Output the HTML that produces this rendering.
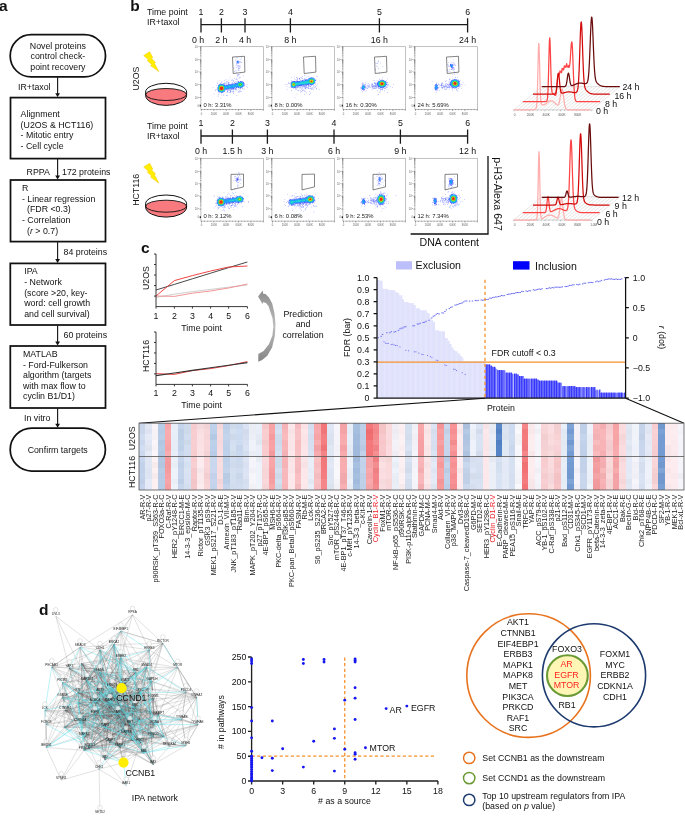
<!DOCTYPE html>
<html><head><meta charset="utf-8"><style>
html,body{margin:0;padding:0;background:#fff;overflow:hidden;}
svg{display:block;will-change:transform;}
text{font-family:"Liberation Sans", sans-serif;}
</style></head><body>
<svg width="685" height="823" viewBox="0 0 685 823" font-family='"Liberation Sans", sans-serif' font-size="8.8" fill="#111">
<defs><filter id="bl" x="-20%" y="-20%" width="140%" height="140%"><feGaussianBlur stdDeviation="0.45"/></filter>
<filter id="gr" x="-20%" y="-20%" width="140%" height="140%" filterUnits="objectBoundingBox"><feTurbulence type="fractalNoise" baseFrequency="1.3" numOctaves="1" seed="4" result="t"/><feColorMatrix in="t" type="matrix" values="0 0 0 0 0  0 0 0 0 0  0 0 0 0 0  0 0 0 2.6 -0.75" result="m"/><feComposite in="SourceGraphic" in2="m" operator="in"/></filter></defs>
<rect width="685" height="823" fill="#fff"/>
<text x="-1.1" y="10.8" font-size="15.5" font-weight="bold">a</text>
<rect x="10.2" y="34.7" width="95.3" height="42.2" fill="none" stroke="#111" stroke-width="1.75" rx="21" ry="21"/>
<text x="57.9" y="48.59" text-anchor="middle">Novel proteins</text>
<text x="57.9" y="59.19" text-anchor="middle">control check-</text>
<text x="57.9" y="69.69" text-anchor="middle">point recovery</text>
<line x1="57.6" y1="76.9" x2="57.6" y2="94.4" stroke="#1a1a1a" stroke-width="1.15"/>
<path d="M55.2 93.2 L60 93.2 L57.6 97.1 Z" fill="#111"/>
<text x="18" y="90.09">IR+taxol</text>
<rect x="10.5" y="97.6" width="95" height="61" fill="none" stroke="#111" stroke-width="1.75"/>
<text x="20.6" y="117.09">Alignment</text>
<text x="20.6" y="127.59">(U2OS &amp; HCT116)</text>
<text x="20.6" y="138.29">- Mitotic entry</text>
<text x="20.6" y="148.99">- Cell cycle</text>
<line x1="57.6" y1="158.6" x2="57.6" y2="176.8" stroke="#1a1a1a" stroke-width="1.15"/>
<path d="M55.2 175.6 L60 175.6 L57.6 179.5 Z" fill="#111"/>
<text x="26.6" y="174.69">RPPA</text>
<text x="62" y="174.69">172 proteins</text>
<rect x="10.5" y="180" width="95" height="61.6" fill="none" stroke="#111" stroke-width="1.75"/>
<text x="22" y="191.09">R</text>
<text x="22" y="201.99">- Linear regression</text>
<text x="27" y="212.49">(FDR &lt;0.3)</text>
<text x="22" y="223.09">- Correlation</text>
<text x="27" y="233.59">(<tspan font-style="italic">r</tspan> &gt; 0.7)</text>
<line x1="57.6" y1="241.6" x2="57.6" y2="260.2" stroke="#1a1a1a" stroke-width="1.15"/>
<path d="M55.2 259 L60 259 L57.6 262.9 Z" fill="#111"/>
<text x="63.6" y="255.49">84 proteins</text>
<rect x="10.3" y="263.4" width="95.2" height="61.6" fill="none" stroke="#111" stroke-width="1.75"/>
<text x="24.2" y="274.49">IPA</text>
<text x="24.2" y="285.09">- Network</text>
<text x="24.2" y="295.89">(score &gt;20, key-</text>
<text x="24.2" y="306.49">word: cell growth</text>
<text x="24.2" y="317.09">and cell survival)</text>
<line x1="57.6" y1="325" x2="57.6" y2="342.8" stroke="#1a1a1a" stroke-width="1.15"/>
<path d="M55.2 341.6 L60 341.6 L57.6 345.5 Z" fill="#111"/>
<text x="63.6" y="338.09">60 proteins</text>
<rect x="10.3" y="346" width="95.2" height="62" fill="none" stroke="#111" stroke-width="1.75"/>
<text x="23" y="357.09">MATLAB</text>
<text x="23" y="367.89">- Ford-Fulkerson</text>
<text x="23" y="378.39">algorithm (targets</text>
<text x="23" y="388.89">with max flow to</text>
<text x="23" y="399.39">cyclin B1/D1)</text>
<line x1="57.6" y1="408" x2="57.6" y2="425" stroke="#1a1a1a" stroke-width="1.15"/>
<path d="M55.2 423.8 L60 423.8 L57.6 427.7 Z" fill="#111"/>
<text x="24" y="421.09">In vitro</text>
<rect x="10.2" y="428.2" width="95.2" height="42.8" fill="none" stroke="#111" stroke-width="1.75" rx="21.4" ry="21.4"/>
<text x="57.7" y="453.09" text-anchor="middle">Confirm targets</text>
<text x="130.3" y="10.8" font-size="15.5" font-weight="bold">b</text>
<text x="147" y="14.69">Time point</text>
<text x="147" y="25.09">IR+taxol</text>
<line x1="201" y1="24.7" x2="467.6" y2="24.7" stroke="#1a1a1a" stroke-width="1.3"/>
<path d="M201 18.3v14.2M221.4 18.3v14.2M245 18.3v14.2M290.4 18.3v14.2M379.4 18.3v14.2M467.6 18.3v14.2" stroke="#1a1a1a" stroke-width="1.3" fill="none"/>
<text x="201" y="15.09" text-anchor="middle">1</text>
<text x="198.1" y="43.09" text-anchor="middle">0 h</text>
<text x="221.4" y="15.09" text-anchor="middle">2</text>
<text x="221.4" y="43.09" text-anchor="middle">2 h</text>
<text x="245" y="15.09" text-anchor="middle">3</text>
<text x="245" y="43.09" text-anchor="middle">4 h</text>
<text x="290.4" y="15.09" text-anchor="middle">4</text>
<text x="290.4" y="43.09" text-anchor="middle">8 h</text>
<text x="379.4" y="15.09" text-anchor="middle">5</text>
<text x="379.4" y="43.09" text-anchor="middle">16 h</text>
<text x="467.6" y="15.09" text-anchor="middle">6</text>
<text x="467.6" y="43.09" text-anchor="middle">24 h</text>
<text x="147" y="128.69">Time point</text>
<text x="147" y="139.09">IR+taxol</text>
<line x1="201" y1="136" x2="467.6" y2="136" stroke="#1a1a1a" stroke-width="1.3"/>
<path d="M201 129.6v14.2M232.4 129.6v14.2M267.4 129.6v14.2M334 129.6v14.2M400.4 129.6v14.2M467.6 129.6v14.2" stroke="#1a1a1a" stroke-width="1.3" fill="none"/>
<text x="201" y="126.39" text-anchor="middle">1</text>
<text x="201" y="153.69" text-anchor="middle">0 h</text>
<text x="232.4" y="126.39" text-anchor="middle">2</text>
<text x="232.4" y="153.69" text-anchor="middle">1.5 h</text>
<text x="267.4" y="126.39" text-anchor="middle">3</text>
<text x="267.4" y="153.69" text-anchor="middle">3 h</text>
<text x="334" y="126.39" text-anchor="middle">4</text>
<text x="334" y="153.69" text-anchor="middle">6 h</text>
<text x="400.4" y="126.39" text-anchor="middle">5</text>
<text x="400.4" y="153.69" text-anchor="middle">9 h</text>
<text x="467.6" y="126.39" text-anchor="middle">6</text>
<text x="467.6" y="153.69" text-anchor="middle">12 h</text>
<text transform="translate(135.6 78.5) rotate(-90)" x="0" y="3.09" text-anchor="middle">U2OS</text>
<text transform="translate(135.6 189.8) rotate(-90)" x="0" y="3.09" text-anchor="middle">HCT116</text>
<path d="M143.7 55.6 L149.6 51.8 L152.8 57.6 L151.4 58.3 L155.6 62.4 L154.3 63.1 L158.9 71.6 L150.5 65.6 L152 64.7 L147.2 60.6 L148.6 59.8 Z" fill="#ffee00" stroke="#f5c400" stroke-width="0.5" stroke-linejoin="round"/>
<path d="M143.7 167.1 L149.6 163.3 L152.8 169.1 L151.4 169.8 L155.6 173.9 L154.3 174.6 L158.9 183.1 L150.5 177.1 L152 176.2 L147.2 172.1 L148.6 171.3 Z" fill="#ffee00" stroke="#f5c400" stroke-width="0.5" stroke-linejoin="round"/>
<path d="M145.6 92.1 A20.5 8.8 0 0 1 186.6 92.1 L186.6 95.3 A20.5 10.1 0 0 1 145.6 95.3 Z" fill="#fff"/>
<path d="M145.7 94.5 A20.4 6 0 0 1 186.5 94.5 L186.5 95.3 A20.4 10 0 0 1 145.7 95.3 Z" fill="#f87a7e"/>
<ellipse cx="166.1" cy="94.5" rx="20.4" ry="6" fill="none" stroke="#111" stroke-width="0.9"/>
<path d="M145.6 92.1 A20.5 8.8 0 0 1 186.6 92.1 L186.6 95.3 A20.5 10.1 0 0 1 145.6 95.3 Z" fill="none" stroke="#111" stroke-width="1"/>
<path d="M145.6 203.8 A20.5 8.8 0 0 1 186.6 203.8 L186.6 207 A20.5 10.1 0 0 1 145.6 207 Z" fill="#fff"/>
<path d="M145.7 206.2 A20.4 6 0 0 1 186.5 206.2 L186.5 207 A20.4 10 0 0 1 145.7 207 Z" fill="#f87a7e"/>
<ellipse cx="166.1" cy="206.2" rx="20.4" ry="6" fill="none" stroke="#111" stroke-width="0.9"/>
<path d="M145.6 203.8 A20.5 8.8 0 0 1 186.6 203.8 L186.6 207 A20.5 10.1 0 0 1 145.6 207 Z" fill="none" stroke="#111" stroke-width="1"/>
<rect x="200.9" y="46.7" width="62.7" height="62.8" fill="none" stroke="#a0a0a0" stroke-width="0.65"/>
<path d="M201.2 46.7h-1.8M201.2 55.8h-0.9M201.2 53.46h-0.9M201.2 51.9h-0.9M201.2 50.6h-0.9M201.2 49.56h-0.9M201.2 48.65h-0.9M201.2 48h-0.9M201.2 47.35h-0.9M201.2 59.8h-1.8M201.2 68.9h-0.9M201.2 66.56h-0.9M201.2 65h-0.9M201.2 63.7h-0.9M201.2 62.66h-0.9M201.2 61.75h-0.9M201.2 61.1h-0.9M201.2 60.45h-0.9M201.2 72.1h-1.8M201.2 81.2h-0.9M201.2 78.86h-0.9M201.2 77.3h-0.9M201.2 76h-0.9M201.2 74.96h-0.9M201.2 74.05h-0.9M201.2 73.4h-0.9M201.2 72.75h-0.9M201.2 84.6h-1.8M201.2 93.7h-0.9M201.2 91.36h-0.9M201.2 89.8h-0.9M201.2 88.5h-0.9M201.2 87.46h-0.9M201.2 86.55h-0.9M201.2 85.9h-0.9M201.2 85.25h-0.9M201.2 97.5h-1.8" stroke="#222" stroke-width="0.4" fill="none"/>
<rect x="199.7" y="104.7" width="1.2" height="1.8" fill="#111"/>
<path d="M201.5 109.2v1.7M204.59 109.2v0.9M207.68 109.2v0.9M210.76 109.2v0.9M213.85 109.2v1.7M216.94 109.2v0.9M220.03 109.2v0.9M223.11 109.2v0.9M226.2 109.2v1.7M229.29 109.2v0.9M232.38 109.2v0.9M235.46 109.2v0.9M238.55 109.2v1.7M241.64 109.2v0.9M244.73 109.2v0.9M247.81 109.2v0.9M250.9 109.2v1.7M253.99 109.2v0.9M257.07 109.2v0.9M260.16 109.2v0.9M263.25 109.2v1.7" stroke="#222" stroke-width="0.4" fill="none"/>
<g font-size="2.7" fill="#666"><text x="201.5" y="114.5" text-anchor="middle">0</text><text x="213.85" y="114.5" text-anchor="middle">200K</text><text x="226.2" y="114.5" text-anchor="middle">400K</text><text x="238.55" y="114.5" text-anchor="middle">600K</text><text x="250.9" y="114.5" text-anchor="middle">800K</text></g>
<g font-size="2.7" fill="#666"><text x="194.7" y="47.9">10<tspan dy="-1" font-size="2">6</tspan></text><text x="194.7" y="61">10<tspan dy="-1" font-size="2">5</tspan></text><text x="194.7" y="73.3">10<tspan dy="-1" font-size="2">4</tspan></text><text x="194.7" y="85.8">10<tspan dy="-1" font-size="2">3</tspan></text><text x="194.7" y="98.7">10<tspan dy="-1" font-size="2">2</tspan></text><text x="198.9" y="106.5" text-anchor="end">0</text></g>
<path d="M236.31 88.32h.55v.55h-.55zM232.43 85.04h.55v.55h-.55zM232.41 90.93h.55v.55h-.55zM238.45 85.15h.55v.55h-.55zM217.93 91.79h.55v.55h-.55zM242.36 88.33h.55v.55h-.55zM230.18 88.23h.55v.55h-.55zM234.81 88.35h.55v.55h-.55zM232.53 84.65h.55v.55h-.55zM223.54 84.26h.55v.55h-.55zM225.74 89.4h.55v.55h-.55zM232.94 86.93h.55v.55h-.55zM233.48 91.15h.55v.55h-.55zM226.32 87.72h.55v.55h-.55zM225.34 84.7h.55v.55h-.55zM227.72 91.92h.55v.55h-.55zM229.59 84.23h.55v.55h-.55zM224.46 84.74h.55v.55h-.55zM237.87 82.84h.55v.55h-.55zM227.03 95.21h.55v.55h-.55zM235.6 88.75h.55v.55h-.55zM231.15 84.66h.55v.55h-.55zM229.31 86.56h.55v.55h-.55zM225.98 81.76h.55v.55h-.55zM220.02 83.61h.55v.55h-.55zM227.39 91.04h.55v.55h-.55zM224.45 84.14h.55v.55h-.55zM219.95 88.16h.55v.55h-.55zM237.4 85.26h.55v.55h-.55zM229.91 85.53h.55v.55h-.55zM228.4 82.09h.55v.55h-.55zM242.14 86.24h.55v.55h-.55zM229.72 89.59h.55v.55h-.55zM230.37 85.9h.55v.55h-.55zM227.47 86.96h.55v.55h-.55zM232.55 87.25h.55v.55h-.55zM231.36 84.83h.55v.55h-.55zM231.09 89.69h.55v.55h-.55zM232.7 85.55h.55v.55h-.55zM223.81 87.77h.55v.55h-.55zM239.25 82.54h.55v.55h-.55zM234.18 84.55h.55v.55h-.55zM226.13 88.03h.55v.55h-.55zM242.27 81.15h.55v.55h-.55zM233.18 88.12h.55v.55h-.55zM231.49 88.82h.55v.55h-.55zM223.03 86.9h.55v.55h-.55zM230.96 86.79h.55v.55h-.55zM225.97 88h.55v.55h-.55zM217.43 83.3h.55v.55h-.55zM228.36 82.91h.55v.55h-.55zM224.34 83.26h.55v.55h-.55zM243.13 88.78h.55v.55h-.55zM233.29 80.1h.55v.55h-.55zM232.77 83.45h.55v.55h-.55zM228.74 87.39h.55v.55h-.55zM229.57 85.64h.55v.55h-.55zM234.74 87.4h.55v.55h-.55zM233.86 88.99h.55v.55h-.55zM231.12 86.52h.55v.55h-.55zM232.61 87.7h.55v.55h-.55zM230.11 87.05h.55v.55h-.55zM236.83 83.36h.55v.55h-.55zM233.72 88.46h.55v.55h-.55zM227.72 88.99h.55v.55h-.55zM239.36 90.84h.55v.55h-.55zM237.71 86.34h.55v.55h-.55zM228.47 86.64h.55v.55h-.55zM235.4 88.26h.55v.55h-.55zM229.96 92.49h.55v.55h-.55zM231.69 87.09h.55v.55h-.55zM238.01 85.31h.55v.55h-.55zM235.54 89.69h.55v.55h-.55zM238.25 87.16h.55v.55h-.55zM242.86 85.64h.55v.55h-.55zM229.45 84.15h.55v.55h-.55zM228.57 87.94h.55v.55h-.55zM232.02 82.59h.55v.55h-.55zM231.97 83.69h.55v.55h-.55zM232.85 92.26h.55v.55h-.55zM242.69 85.91h.55v.55h-.55zM234.82 80.95h.55v.55h-.55zM230.73 84.21h.55v.55h-.55zM225.41 86.17h.55v.55h-.55zM232.4 86.64h.55v.55h-.55zM230.15 88.94h.55v.55h-.55zM225.69 79h.55v.55h-.55zM217.66 88.95h.55v.55h-.55zM245.9 85.9h.55v.55h-.55zM228.21 88.2h.55v.55h-.55zM231.58 88.6h.55v.55h-.55zM233.37 90.79h.55v.55h-.55zM240.31 82.91h.55v.55h-.55zM222.34 87.1h.55v.55h-.55zM231.78 85.22h.55v.55h-.55zM223.99 80.56h.55v.55h-.55zM233.01 81.28h.55v.55h-.55zM227.27 86.78h.55v.55h-.55zM232.31 83.71h.55v.55h-.55zM236.03 78.39h.55v.55h-.55zM226.18 88.47h.55v.55h-.55zM240.1 84.81h.55v.55h-.55zM232.51 87.96h.55v.55h-.55zM238.57 92.14h.55v.55h-.55zM232.17 84.81h.55v.55h-.55zM238.78 78.55h.55v.55h-.55zM227.93 84.02h.55v.55h-.55zM227.97 85.99h.55v.55h-.55zM246.89 87.26h.55v.55h-.55zM226.67 83.34h.55v.55h-.55zM236.85 85.12h.55v.55h-.55zM238.77 82.18h.55v.55h-.55zM232.11 88.86h.55v.55h-.55zM229.81 88.79h.55v.55h-.55zM227.02 85.22h.55v.55h-.55zM228.22 87.33h.55v.55h-.55zM235.73 84.9h.55v.55h-.55zM223.33 87.6h.55v.55h-.55zM236.17 84.61h.55v.55h-.55zM237.16 84.63h.55v.55h-.55zM223.84 85.73h.55v.55h-.55zM237.42 86.9h.55v.55h-.55zM231.22 86.76h.55v.55h-.55zM232.12 84.62h.55v.55h-.55zM221.49 87.35h.55v.55h-.55zM226 85.51h.55v.55h-.55zM223.41 86.03h.55v.55h-.55zM231.61 85.02h.55v.55h-.55zM226.79 85.61h.55v.55h-.55zM229.26 91.93h.55v.55h-.55zM223.3 86.3h.55v.55h-.55zM231.83 79.45h.55v.55h-.55zM223.26 88.04h.55v.55h-.55zM223.82 86.37h.55v.55h-.55zM228.68 83.21h.55v.55h-.55zM224.31 85.74h.55v.55h-.55zM239.68 84.72h.55v.55h-.55zM241.23 81.15h.55v.55h-.55zM230.54 90.59h.55v.55h-.55zM241.76 84.36h.55v.55h-.55zM232.99 87.74h.55v.55h-.55zM228.82 86.94h.55v.55h-.55zM231.14 87.74h.55v.55h-.55zM225.91 81.6h.55v.55h-.55zM233.77 85.38h.55v.55h-.55zM229.14 81.9h.55v.55h-.55zM238.74 91.68h.55v.55h-.55zM235.14 86.04h.55v.55h-.55zM236.78 85.55h.55v.55h-.55zM212.87 87.28h.55v.55h-.55zM232.76 84.85h.55v.55h-.55zM224.43 88.11h.55v.55h-.55zM228.9 88.29h.55v.55h-.55zM226.99 91.15h.55v.55h-.55zM238.57 87h.55v.55h-.55zM229.93 86.72h.55v.55h-.55zM226.89 90.4h.55v.55h-.55zM228.82 86.41h.55v.55h-.55zM241.53 85.97h.55v.55h-.55zM233.78 86.23h.55v.55h-.55zM230.83 87.41h.55v.55h-.55zM231.86 84h.55v.55h-.55zM235.32 88.94h.55v.55h-.55zM240.42 83.37h.55v.55h-.55zM230.82 88.32h.55v.55h-.55zM237.82 84.48h.55v.55h-.55zM230.2 85.18h.55v.55h-.55zM239.57 88.23h.55v.55h-.55zM228.93 87.06h.55v.55h-.55zM238.88 84.79h.55v.55h-.55zM231.8 85.23h.55v.55h-.55zM232.38 85.57h.55v.55h-.55zM235.29 83.83h.55v.55h-.55zM226.95 89.94h.55v.55h-.55zM235.24 85.38h.55v.55h-.55zM236.05 89.34h.55v.55h-.55zM231.21 88.04h.55v.55h-.55zM232.02 87.37h.55v.55h-.55zM232.55 89.14h.55v.55h-.55zM227.57 91.58h.55v.55h-.55zM229.24 90.15h.55v.55h-.55zM233.42 89.16h.55v.55h-.55zM235.53 86.78h.55v.55h-.55zM240.71 87h.55v.55h-.55zM227.31 85.85h.55v.55h-.55zM217.16 87.68h.55v.55h-.55zM239.71 90.16h.55v.55h-.55zM224.61 88.05h.55v.55h-.55zM234.04 83.74h.55v.55h-.55zM221.85 86.29h.55v.55h-.55zM236.46 86.18h.55v.55h-.55zM235.65 82.14h.55v.55h-.55zM226.99 84.04h.55v.55h-.55zM229.85 87.38h.55v.55h-.55zM232.58 87.39h.55v.55h-.55zM230.74 84.05h.55v.55h-.55zM232.31 87.65h.55v.55h-.55zM237.58 81.06h.55v.55h-.55zM228.66 84.21h.55v.55h-.55zM231.24 89.16h.55v.55h-.55zM227.6 86.97h.55v.55h-.55zM226.58 87.34h.55v.55h-.55zM246.63 84.46h.55v.55h-.55zM226.7 85.8h.55v.55h-.55zM236.04 85.91h.55v.55h-.55zM230.83 86.62h.55v.55h-.55zM225.99 88.96h.55v.55h-.55zM226.98 86.46h.55v.55h-.55zM230.4 86.49h.55v.55h-.55zM230.77 87.88h.55v.55h-.55zM229.59 87.05h.55v.55h-.55zM236.06 86.88h.55v.55h-.55zM231.86 90.72h.55v.55h-.55zM221.17 85.53h.55v.55h-.55zM225.78 82.26h.55v.55h-.55zM235.32 84.31h.55v.55h-.55zM223.01 94.72h.55v.55h-.55zM236.69 90.64h.55v.55h-.55zM229.88 85.75h.55v.55h-.55zM237.46 80.7h.55v.55h-.55zM224.2 82.76h.55v.55h-.55zM232.25 84.88h.55v.55h-.55zM223.97 85.94h.55v.55h-.55zM236.52 81.52h.55v.55h-.55zM234.67 82.74h.55v.55h-.55zM238.11 83.48h.55v.55h-.55zM229.49 84.33h.55v.55h-.55zM234.15 86.83h.55v.55h-.55zM229.19 87.66h.55v.55h-.55zM234.94 82.99h.55v.55h-.55zM225.15 83.27h.55v.55h-.55zM228.06 83.14h.55v.55h-.55zM241.72 86.62h.55v.55h-.55zM230.92 82.72h.55v.55h-.55zM222.41 85.47h.55v.55h-.55zM239.97 88.61h.55v.55h-.55zM230.97 87.76h.55v.55h-.55zM230.05 91.65h.55v.55h-.55zM233.73 91.54h.55v.55h-.55zM237.92 85.93h.55v.55h-.55zM225.93 88.96h.55v.55h-.55zM226.86 81.51h.55v.55h-.55zM224.61 83.42h.55v.55h-.55zM234 87.35h.55v.55h-.55zM230.76 91.78h.55v.55h-.55zM228.39 90.4h.55v.55h-.55zM233.12 86.59h.55v.55h-.55zM229.95 91.24h.55v.55h-.55zM227.8 82.01h.55v.55h-.55zM229.16 90.23h.55v.55h-.55zM224.44 87.29h.55v.55h-.55zM240.34 91.09h.55v.55h-.55zM236.2 94.9h.55v.55h-.55zM232.04 86.27h.55v.55h-.55zM220.26 88.01h.55v.55h-.55zM237.42 85.8h.55v.55h-.55zM230.52 88.68h.55v.55h-.55zM234.89 85.76h.55v.55h-.55zM228.11 85.63h.55v.55h-.55zM216.35 85.31h.55v.55h-.55zM238.48 90.89h.55v.55h-.55zM218.49 86.13h.55v.55h-.55zM229.74 84.28h.55v.55h-.55zM236.54 84.29h.55v.55h-.55zM231.5 86.54h.55v.55h-.55zM224.44 86.68h.55v.55h-.55zM229.94 88.17h.55v.55h-.55zM228.09 88.82h.55v.55h-.55zM231.19 86.34h.55v.55h-.55zM231.05 80.38h.55v.55h-.55zM240.99 91.51h.55v.55h-.55zM228.03 79.79h.55v.55h-.55zM229.57 89.49h.55v.55h-.55zM213.8 93.81h.55v.55h-.55zM226.19 84.89h.55v.55h-.55zM226.67 87.62h.55v.55h-.55zM233.65 86.94h.55v.55h-.55zM233.5 84.24h.55v.55h-.55zM235.18 85.55h.55v.55h-.55zM230.29 90.31h.55v.55h-.55zM233.14 89.38h.55v.55h-.55zM242.99 84.69h.55v.55h-.55zM234.22 82.32h.55v.55h-.55zM243.2 82.56h.55v.55h-.55zM221.89 84.95h.55v.55h-.55zM240.27 88.09h.55v.55h-.55zM221.45 88.13h.55v.55h-.55zM227.97 84.43h.55v.55h-.55zM244.08 88.72h.55v.55h-.55zM235.73 89.09h.55v.55h-.55zM228.2 88.74h.55v.55h-.55zM229.87 77.77h.55v.55h-.55zM230.44 91.17h.55v.55h-.55zM228.59 90.38h.55v.55h-.55zM228.14 87.69h.55v.55h-.55zM233.16 88.36h.55v.55h-.55zM236.84 84.41h.55v.55h-.55zM233.44 93.34h.55v.55h-.55zM237.56 86.42h.55v.55h-.55zM233.51 88.11h.55v.55h-.55zM239.39 66.73h.55v.55h-.55zM239.12 66.4h.55v.55h-.55zM237.88 69.54h.55v.55h-.55zM240.27 61.21h.55v.55h-.55zM236.41 66.88h.55v.55h-.55zM236.27 64.49h.55v.55h-.55zM237.66 66.07h.55v.55h-.55zM237.19 74.03h.55v.55h-.55zM239.5 67.94h.55v.55h-.55zM235.54 59.93h.55v.55h-.55zM238.3 67.72h.55v.55h-.55zM238.02 68.54h.55v.55h-.55zM233.79 67.9h.55v.55h-.55zM240.12 59.21h.55v.55h-.55zM238.46 65.12h.55v.55h-.55zM237.04 57.8h.55v.55h-.55zM235.64 65.78h.55v.55h-.55zM239.79 65h.55v.55h-.55zM241.01 62.1h.55v.55h-.55zM240.96 57.61h.55v.55h-.55zM238.01 66.68h.55v.55h-.55zM239.24 68.51h.55v.55h-.55zM236.22 57.41h.55v.55h-.55zM237.54 60.03h.55v.55h-.55zM238.18 61.15h.55v.55h-.55zM237.52 64.68h.55v.55h-.55zM238.26 62.51h.55v.55h-.55zM240.27 62.57h.55v.55h-.55zM237.69 66.73h.55v.55h-.55zM237.97 69.98h.55v.55h-.55zM237.72 63.38h.55v.55h-.55zM239.98 66.83h.55v.55h-.55zM236.45 63.27h.55v.55h-.55zM238.4 69.68h.55v.55h-.55zM239.52 65.19h.55v.55h-.55zM233.59 67.16h.55v.55h-.55zM235.7 59.27h.55v.55h-.55zM236.7 65.4h.55v.55h-.55zM238.08 73.9h.55v.55h-.55zM237.57 62.12h.55v.55h-.55zM239.49 76.8h.55v.55h-.55zM234.57 71.36h.55v.55h-.55zM235.8 83.41h.55v.55h-.55zM237.92 74.38h.55v.55h-.55zM238.66 76.97h.55v.55h-.55zM232.01 79.63h.55v.55h-.55zM237.72 84.46h.55v.55h-.55zM235.76 70.09h.55v.55h-.55zM238.2 88.71h.55v.55h-.55zM233.9 84.57h.55v.55h-.55zM236.26 79.51h.55v.55h-.55zM236.16 71.83h.55v.55h-.55zM239.35 74.26h.55v.55h-.55zM236.82 79.28h.55v.55h-.55zM232.15 79.68h.55v.55h-.55zM237.6 75.11h.55v.55h-.55zM234.37 78.15h.55v.55h-.55zM237.64 75.55h.55v.55h-.55zM237 76.56h.55v.55h-.55zM230.97 82.64h.55v.55h-.55zM239.63 70.57h.55v.55h-.55zM242.95 75.82h.55v.55h-.55zM235.08 78.81h.55v.55h-.55zM240.57 72.75h.55v.55h-.55zM240.34 77.47h.55v.55h-.55zM219.75 91.34h.55v.55h-.55zM220.75 90.86h.55v.55h-.55zM223.53 89.05h.55v.55h-.55zM217.79 96.02h.55v.55h-.55zM226.1 95.34h.55v.55h-.55zM222.12 92.17h.55v.55h-.55zM223.52 83.14h.55v.55h-.55zM220.78 89.46h.55v.55h-.55zM219.12 89.56h.55v.55h-.55zM222.93 87.89h.55v.55h-.55zM217.99 94.62h.55v.55h-.55zM224.03 89.68h.55v.55h-.55zM223.12 83.47h.55v.55h-.55zM222.14 89.24h.55v.55h-.55zM226.69 92.01h.55v.55h-.55zM221.32 94.8h.55v.55h-.55zM223.33 87.1h.55v.55h-.55zM220.62 97.72h.55v.55h-.55zM220.05 87.17h.55v.55h-.55zM221.05 86.01h.55v.55h-.55zM221.47 89.3h.55v.55h-.55zM221.7 81.21h.55v.55h-.55zM217.51 82.75h.55v.55h-.55zM223.3 89.39h.55v.55h-.55zM215.31 90.36h.55v.55h-.55zM223.87 88.01h.55v.55h-.55zM221.48 92.71h.55v.55h-.55zM215.77 89.33h.55v.55h-.55zM223.34 94.75h.55v.55h-.55zM221.16 82.51h.55v.55h-.55zM221.99 84.26h.55v.55h-.55zM220.47 91.71h.55v.55h-.55zM218.68 93.66h.55v.55h-.55zM222.96 90.11h.55v.55h-.55zM221.53 86.36h.55v.55h-.55zM222.1 89.36h.55v.55h-.55zM219.4 87.99h.55v.55h-.55zM226.64 88.1h.55v.55h-.55zM223.46 88.79h.55v.55h-.55zM222.47 89.79h.55v.55h-.55z" fill="#3a4cff" opacity="0.8"/>
<g filter="url(#bl)"><g fill="#2a3cff" opacity="0.85" filter="url(#gr)"><ellipse cx="221.5" cy="88.3" rx="4.48" ry="4.74"/><ellipse cx="223.5" cy="87.8" rx="2.88" ry="2.5"/><ellipse cx="224.95" cy="87.54" rx="2.82" ry="2.44"/><ellipse cx="226.4" cy="87.28" rx="2.98" ry="2.58"/><ellipse cx="227.85" cy="87.02" rx="2.79" ry="2.42"/><ellipse cx="229.3" cy="86.76" rx="2.95" ry="2.55"/><ellipse cx="230.75" cy="86.5" rx="2.89" ry="2.51"/><ellipse cx="232.2" cy="86.24" rx="2.78" ry="2.41"/><ellipse cx="233.65" cy="85.98" rx="2.94" ry="2.55"/><ellipse cx="235.1" cy="85.72" rx="2.78" ry="2.41"/><ellipse cx="236.55" cy="85.46" rx="2.92" ry="2.53"/><ellipse cx="238" cy="85.2" rx="2.79" ry="2.42"/><ellipse cx="240.3" cy="84.6" rx="4.42" ry="3.72"/><ellipse cx="238" cy="62" rx="1.83" ry="1.5"/></g><g fill="#1e9bff"><ellipse cx="221.5" cy="88.3" rx="3.75" ry="3.97"/><ellipse cx="223.5" cy="87.8" rx="1.91" ry="1.66"/><ellipse cx="224.95" cy="87.54" rx="1.82" ry="1.58"/><ellipse cx="226.4" cy="87.28" rx="2.06" ry="1.79"/><ellipse cx="227.85" cy="87.02" rx="1.77" ry="1.54"/><ellipse cx="229.3" cy="86.76" rx="2.01" ry="1.75"/><ellipse cx="230.75" cy="86.5" rx="1.94" ry="1.68"/><ellipse cx="232.2" cy="86.24" rx="1.77" ry="1.53"/><ellipse cx="233.65" cy="85.98" rx="2" ry="1.73"/><ellipse cx="235.1" cy="85.72" rx="1.75" ry="1.52"/><ellipse cx="236.55" cy="85.46" rx="1.97" ry="1.71"/><ellipse cx="238" cy="85.2" rx="1.77" ry="1.54"/><ellipse cx="240.3" cy="84.6" rx="3.48" ry="2.93"/><ellipse cx="238" cy="62" rx="0.93" ry="0.76"/></g><g fill="#22d6d0"><ellipse cx="221.5" cy="88.3" rx="3.11" ry="3.29"/><ellipse cx="223.5" cy="87.8" rx="0.48" ry="0.42"/><ellipse cx="226.4" cy="87.28" rx="0.91" ry="0.79"/><ellipse cx="229.3" cy="86.76" rx="0.79" ry="0.69"/><ellipse cx="230.75" cy="86.5" rx="0.56" ry="0.49"/><ellipse cx="233.65" cy="85.98" rx="0.76" ry="0.66"/><ellipse cx="236.55" cy="85.46" rx="0.66" ry="0.58"/><ellipse cx="240.3" cy="84.6" rx="2.57" ry="2.17"/></g><g fill="#3ad23a"><ellipse cx="221.5" cy="88.3" rx="2.59" ry="2.75"/><ellipse cx="240.3" cy="84.6" rx="1.71" ry="1.44"/></g><g fill="#e6e21e"><ellipse cx="221.5" cy="88.3" rx="2.15" ry="2.27"/><ellipse cx="240.3" cy="84.6" rx="0.54" ry="0.46"/></g><g fill="#e8281e"><ellipse cx="221.5" cy="88.3" rx="1.74" ry="1.84"/></g></g>
<path d="M232.5 57 L244.5 56.3 L244.9 72.1 L233.2 73.5 Z" fill="none" stroke="#333" stroke-width="0.6"/>
<text x="203.4" y="106.69" font-size="5.9" fill="#222">0 h: 3.31%</text>
<rect x="271.9" y="46.7" width="62.7" height="62.8" fill="none" stroke="#a0a0a0" stroke-width="0.65"/>
<path d="M272.2 46.7h-1.8M272.2 55.8h-0.9M272.2 53.46h-0.9M272.2 51.9h-0.9M272.2 50.6h-0.9M272.2 49.56h-0.9M272.2 48.65h-0.9M272.2 48h-0.9M272.2 47.35h-0.9M272.2 59.8h-1.8M272.2 68.9h-0.9M272.2 66.56h-0.9M272.2 65h-0.9M272.2 63.7h-0.9M272.2 62.66h-0.9M272.2 61.75h-0.9M272.2 61.1h-0.9M272.2 60.45h-0.9M272.2 72.1h-1.8M272.2 81.2h-0.9M272.2 78.86h-0.9M272.2 77.3h-0.9M272.2 76h-0.9M272.2 74.96h-0.9M272.2 74.05h-0.9M272.2 73.4h-0.9M272.2 72.75h-0.9M272.2 84.6h-1.8M272.2 93.7h-0.9M272.2 91.36h-0.9M272.2 89.8h-0.9M272.2 88.5h-0.9M272.2 87.46h-0.9M272.2 86.55h-0.9M272.2 85.9h-0.9M272.2 85.25h-0.9M272.2 97.5h-1.8" stroke="#222" stroke-width="0.4" fill="none"/>
<rect x="270.7" y="104.7" width="1.2" height="1.8" fill="#111"/>
<path d="M272.5 109.2v1.7M275.59 109.2v0.9M278.68 109.2v0.9M281.76 109.2v0.9M284.85 109.2v1.7M287.94 109.2v0.9M291.03 109.2v0.9M294.11 109.2v0.9M297.2 109.2v1.7M300.29 109.2v0.9M303.38 109.2v0.9M306.46 109.2v0.9M309.55 109.2v1.7M312.64 109.2v0.9M315.73 109.2v0.9M318.81 109.2v0.9M321.9 109.2v1.7M324.99 109.2v0.9M328.07 109.2v0.9M331.16 109.2v0.9M334.25 109.2v1.7" stroke="#222" stroke-width="0.4" fill="none"/>
<g font-size="2.7" fill="#666"><text x="272.5" y="114.5" text-anchor="middle">0</text><text x="284.85" y="114.5" text-anchor="middle">200K</text><text x="297.2" y="114.5" text-anchor="middle">400K</text><text x="309.55" y="114.5" text-anchor="middle">600K</text><text x="321.9" y="114.5" text-anchor="middle">800K</text></g>
<g font-size="2.7" fill="#666"><text x="265.7" y="47.9">10<tspan dy="-1" font-size="2">6</tspan></text><text x="265.7" y="61">10<tspan dy="-1" font-size="2">5</tspan></text><text x="265.7" y="73.3">10<tspan dy="-1" font-size="2">4</tspan></text><text x="265.7" y="85.8">10<tspan dy="-1" font-size="2">3</tspan></text><text x="265.7" y="98.7">10<tspan dy="-1" font-size="2">2</tspan></text><text x="269.9" y="106.5" text-anchor="end">0</text></g>
<path d="M305.93 81.39h.55v.55h-.55zM297.27 82.32h.55v.55h-.55zM302.68 81.51h.55v.55h-.55zM303.08 85.75h.55v.55h-.55zM310.7 88.61h.55v.55h-.55zM297.91 82.24h.55v.55h-.55zM286.86 89.2h.55v.55h-.55zM298.29 83.4h.55v.55h-.55zM306.4 79.42h.55v.55h-.55zM306.02 83.42h.55v.55h-.55zM291.13 84.38h.55v.55h-.55zM310.76 77.9h.55v.55h-.55zM308.25 84.13h.55v.55h-.55zM306.09 84.82h.55v.55h-.55zM311.48 82.83h.55v.55h-.55zM308.68 82.27h.55v.55h-.55zM307.73 81.06h.55v.55h-.55zM302.3 88.69h.55v.55h-.55zM305.9 83.03h.55v.55h-.55zM295.56 81.13h.55v.55h-.55zM304.26 86.32h.55v.55h-.55zM305.77 85.07h.55v.55h-.55zM302.73 87.56h.55v.55h-.55zM300.46 81.85h.55v.55h-.55zM308.77 83.69h.55v.55h-.55zM301.19 81.77h.55v.55h-.55zM301.33 85.37h.55v.55h-.55zM305.3 79.87h.55v.55h-.55zM305.77 84.04h.55v.55h-.55zM296.5 85.82h.55v.55h-.55zM301.18 82.49h.55v.55h-.55zM308.17 87.46h.55v.55h-.55zM298.52 84.81h.55v.55h-.55zM297.31 90.44h.55v.55h-.55zM299.79 87.08h.55v.55h-.55zM298.79 85.93h.55v.55h-.55zM317.42 75.88h.55v.55h-.55zM300.18 85h.55v.55h-.55zM302.4 81.49h.55v.55h-.55zM316.99 83.74h.55v.55h-.55zM292.31 86.06h.55v.55h-.55zM291.81 86.95h.55v.55h-.55zM299.24 83.93h.55v.55h-.55zM311.2 83.85h.55v.55h-.55zM293.96 78.41h.55v.55h-.55zM310.69 85.72h.55v.55h-.55zM297.7 86.08h.55v.55h-.55zM306.23 85.44h.55v.55h-.55zM288.32 82.59h.55v.55h-.55zM308.85 85.7h.55v.55h-.55zM308.73 76.13h.55v.55h-.55zM304.1 84.98h.55v.55h-.55zM319.59 80.64h.55v.55h-.55zM300.86 83.61h.55v.55h-.55zM308.76 82.17h.55v.55h-.55zM310.46 81.14h.55v.55h-.55zM304.73 81.92h.55v.55h-.55zM304.03 81.43h.55v.55h-.55zM292.62 86.78h.55v.55h-.55zM304.97 81.82h.55v.55h-.55zM304.31 86.47h.55v.55h-.55zM296.65 83.17h.55v.55h-.55zM306.5 85.08h.55v.55h-.55zM300.82 77.18h.55v.55h-.55zM311.08 84.48h.55v.55h-.55zM303.08 82.66h.55v.55h-.55zM304.71 82.22h.55v.55h-.55zM296.34 81.28h.55v.55h-.55zM299.12 81.66h.55v.55h-.55zM295.47 85.41h.55v.55h-.55zM294.49 85.48h.55v.55h-.55zM296.4 84.56h.55v.55h-.55zM311.93 84.11h.55v.55h-.55zM298.25 83.64h.55v.55h-.55zM303.96 78.3h.55v.55h-.55zM299.05 83.99h.55v.55h-.55zM299.95 83.74h.55v.55h-.55zM307.77 85.8h.55v.55h-.55zM308.89 85.27h.55v.55h-.55zM301.13 83.44h.55v.55h-.55zM301.24 82.56h.55v.55h-.55zM301.83 78.33h.55v.55h-.55zM300.83 83.43h.55v.55h-.55zM296.67 83.43h.55v.55h-.55zM306.35 83.01h.55v.55h-.55zM316.5 75.68h.55v.55h-.55zM301.66 78.02h.55v.55h-.55zM309.37 91.46h.55v.55h-.55zM286.74 83.88h.55v.55h-.55zM306.37 82.59h.55v.55h-.55zM306.59 76.77h.55v.55h-.55zM308.54 84.62h.55v.55h-.55zM303.15 81.74h.55v.55h-.55zM307.15 82.04h.55v.55h-.55zM304.45 81.97h.55v.55h-.55zM288.4 83.41h.55v.55h-.55zM304.31 85.76h.55v.55h-.55zM297.31 83.4h.55v.55h-.55zM307.01 83.94h.55v.55h-.55zM311.08 89.47h.55v.55h-.55zM297.09 77.74h.55v.55h-.55zM308.57 88.09h.55v.55h-.55zM308.99 85.94h.55v.55h-.55zM298.98 81.36h.55v.55h-.55zM308.77 80.77h.55v.55h-.55zM291.21 80.51h.55v.55h-.55zM319.2 89.27h.55v.55h-.55zM298.54 81.31h.55v.55h-.55zM304.5 81.25h.55v.55h-.55zM311.52 83.27h.55v.55h-.55zM295.94 87.43h.55v.55h-.55zM299.21 84.16h.55v.55h-.55zM302.92 82.56h.55v.55h-.55zM305.11 81.42h.55v.55h-.55zM291.01 76.88h.55v.55h-.55zM294.77 81.22h.55v.55h-.55zM302.85 83.67h.55v.55h-.55zM306.61 83.86h.55v.55h-.55zM297.84 81.37h.55v.55h-.55zM289.23 82.99h.55v.55h-.55zM306.15 85.09h.55v.55h-.55zM302.21 82.98h.55v.55h-.55zM309.09 83.55h.55v.55h-.55zM307.8 85.25h.55v.55h-.55zM304.39 87.42h.55v.55h-.55zM299.28 82.42h.55v.55h-.55zM297.75 81.11h.55v.55h-.55zM313.11 88.78h.55v.55h-.55zM303.15 85.2h.55v.55h-.55zM310.64 85.92h.55v.55h-.55zM310.83 79.71h.55v.55h-.55zM298.84 84.86h.55v.55h-.55zM312.33 83.81h.55v.55h-.55zM297.42 82.44h.55v.55h-.55zM298.71 80.93h.55v.55h-.55zM312.76 81.62h.55v.55h-.55zM303.13 89.99h.55v.55h-.55zM310.7 84.51h.55v.55h-.55zM299.02 84.73h.55v.55h-.55zM313.54 85.37h.55v.55h-.55zM311.2 83.79h.55v.55h-.55zM306.36 82.9h.55v.55h-.55zM305.77 87.4h.55v.55h-.55zM293.7 83.31h.55v.55h-.55zM304.56 81.79h.55v.55h-.55zM301 85.86h.55v.55h-.55zM316.01 85.39h.55v.55h-.55zM305.12 78.85h.55v.55h-.55zM315.53 83.73h.55v.55h-.55zM302.78 80.14h.55v.55h-.55zM302.63 80.21h.55v.55h-.55zM303.46 84.9h.55v.55h-.55zM303.2 84.34h.55v.55h-.55zM297.46 87.79h.55v.55h-.55zM298.75 78.05h.55v.55h-.55zM301.78 81.21h.55v.55h-.55zM296.44 82.44h.55v.55h-.55zM304.89 79.95h.55v.55h-.55zM302.11 87.78h.55v.55h-.55zM307.44 83.04h.55v.55h-.55zM303.83 83.14h.55v.55h-.55zM302.69 85.7h.55v.55h-.55zM302.4 76.29h.55v.55h-.55zM302.86 80.83h.55v.55h-.55zM307.23 81.67h.55v.55h-.55zM303.96 90.03h.55v.55h-.55zM296.2 80.13h.55v.55h-.55zM293.83 76.32h.55v.55h-.55zM290.79 84.59h.55v.55h-.55zM298.85 77.9h.55v.55h-.55zM293.36 85.35h.55v.55h-.55zM297.96 82.4h.55v.55h-.55zM305.15 87.57h.55v.55h-.55zM315.62 86.6h.55v.55h-.55zM303.93 84.05h.55v.55h-.55zM314.71 87.79h.55v.55h-.55zM300.98 84.87h.55v.55h-.55zM304.87 83.66h.55v.55h-.55zM299.75 79.52h.55v.55h-.55zM299.53 78.87h.55v.55h-.55zM310.95 85.11h.55v.55h-.55zM295.16 87.69h.55v.55h-.55zM308.8 77.77h.55v.55h-.55zM314.97 85.93h.55v.55h-.55zM316.42 79.81h.55v.55h-.55zM306.45 84.77h.55v.55h-.55zM304.31 84.01h.55v.55h-.55zM309.85 79.02h.55v.55h-.55zM294.93 79.32h.55v.55h-.55zM299.38 81.68h.55v.55h-.55zM305.39 84.3h.55v.55h-.55zM303.2 81.47h.55v.55h-.55zM300.13 86.36h.55v.55h-.55zM307.96 83.8h.55v.55h-.55zM300.9 88.16h.55v.55h-.55zM299.14 85.45h.55v.55h-.55zM310.5 82.7h.55v.55h-.55zM308.37 80.15h.55v.55h-.55zM309.58 84.1h.55v.55h-.55zM292.69 85.51h.55v.55h-.55zM297.2 87.35h.55v.55h-.55zM298.59 83.01h.55v.55h-.55zM304.84 82.5h.55v.55h-.55zM304.69 81.84h.55v.55h-.55zM307.37 83.52h.55v.55h-.55zM304.37 75.24h.55v.55h-.55zM310.55 83.6h.55v.55h-.55zM291.41 83.79h.55v.55h-.55zM306.04 86.71h.55v.55h-.55zM295.96 88.14h.55v.55h-.55zM301.96 90.68h.55v.55h-.55zM302.05 85.54h.55v.55h-.55zM300.62 80.15h.55v.55h-.55zM310.13 86.22h.55v.55h-.55zM313 86.07h.55v.55h-.55zM299.27 78.51h.55v.55h-.55zM298.77 81.47h.55v.55h-.55zM297.7 85.25h.55v.55h-.55zM305.13 82.69h.55v.55h-.55zM304.12 83.06h.55v.55h-.55zM304.38 85.76h.55v.55h-.55zM309.24 81.44h.55v.55h-.55zM293.21 87.78h.55v.55h-.55zM303.74 86.82h.55v.55h-.55zM292.32 82.51h.55v.55h-.55zM303.18 79.18h.55v.55h-.55zM299.65 85.67h.55v.55h-.55zM310.01 88.28h.55v.55h-.55zM297.39 79.3h.55v.55h-.55zM306.38 86.32h.55v.55h-.55zM304.25 79.6h.55v.55h-.55zM308.08 85.88h.55v.55h-.55zM306.6 82.04h.55v.55h-.55zM304.98 85.87h.55v.55h-.55zM299.37 77.97h.55v.55h-.55zM305.14 84.94h.55v.55h-.55zM303.09 86.17h.55v.55h-.55zM299.19 83.25h.55v.55h-.55zM301.02 85.21h.55v.55h-.55zM313.37 82.75h.55v.55h-.55zM316.36 88.09h.55v.55h-.55zM308.14 85.26h.55v.55h-.55zM314.51 82.96h.55v.55h-.55zM302.27 80.31h.55v.55h-.55zM306.07 87.53h.55v.55h-.55zM306.46 84.77h.55v.55h-.55zM301.7 84.01h.55v.55h-.55zM293.74 86.65h.55v.55h-.55zM300.34 80.19h.55v.55h-.55zM298.12 81.03h.55v.55h-.55zM308.56 86.67h.55v.55h-.55zM294.17 86.28h.55v.55h-.55zM308.77 81.76h.55v.55h-.55zM293.34 81.26h.55v.55h-.55zM298.88 84.53h.55v.55h-.55zM300.68 77.42h.55v.55h-.55zM304.52 78.9h.55v.55h-.55zM308.89 79.88h.55v.55h-.55zM298.5 80.94h.55v.55h-.55zM299.47 87.39h.55v.55h-.55zM308.54 85.31h.55v.55h-.55zM305.08 78.86h.55v.55h-.55zM299.62 81.84h.55v.55h-.55zM296.65 85.03h.55v.55h-.55zM298.18 81.37h.55v.55h-.55zM296.21 77.33h.55v.55h-.55zM306.87 87.49h.55v.55h-.55zM304.14 80.57h.55v.55h-.55zM285.42 84.02h.55v.55h-.55zM310.91 84.39h.55v.55h-.55zM309.03 87.93h.55v.55h-.55zM310.32 82.18h.55v.55h-.55zM309.84 85.83h.55v.55h-.55zM293.01 82.28h.55v.55h-.55zM293.75 83.17h.55v.55h-.55zM306.76 80.3h.55v.55h-.55zM289.64 87.4h.55v.55h-.55zM305.45 87.91h.55v.55h-.55zM294.4 86.68h.55v.55h-.55zM316.48 89.52h.55v.55h-.55zM301.63 84.31h.55v.55h-.55zM302 86.5h.55v.55h-.55zM309.75 83.76h.55v.55h-.55zM294.17 85.72h.55v.55h-.55zM299.95 85.39h.55v.55h-.55zM304.71 88.37h.55v.55h-.55zM310.39 82.15h.55v.55h-.55zM305.27 88.79h.55v.55h-.55zM299.51 84.8h.55v.55h-.55zM310.74 87.27h.55v.55h-.55zM306.37 79.54h.55v.55h-.55zM294.8 84.24h.55v.55h-.55zM305.52 91.14h.55v.55h-.55zM297.4 86.91h.55v.55h-.55zM308.01 78.49h.55v.55h-.55zM297.68 84h.55v.55h-.55zM299.79 83.04h.55v.55h-.55zM306.06 81.07h.55v.55h-.55zM306.03 81.59h.55v.55h-.55zM299.46 85.11h.55v.55h-.55zM299.56 88.15h.55v.55h-.55zM312.6 87.11h.55v.55h-.55zM302.12 89.94h.55v.55h-.55zM300.81 91.33h.55v.55h-.55zM295.3 89.47h.55v.55h-.55zM299.93 83.81h.55v.55h-.55zM313.62 83.6h.55v.55h-.55zM313.54 89.63h.55v.55h-.55zM311.72 83.09h.55v.55h-.55zM310.19 92.83h.55v.55h-.55zM302.3 86.48h.55v.55h-.55zM317.74 87.71h.55v.55h-.55zM300.46 84.48h.55v.55h-.55zM305.68 88.32h.55v.55h-.55zM304.07 93.89h.55v.55h-.55zM301.03 88.89h.55v.55h-.55zM311.76 82.98h.55v.55h-.55zM309.23 94.33h.55v.55h-.55zM294.87 82.61h.55v.55h-.55zM296.77 79.61h.55v.55h-.55zM305.72 79.58h.55v.55h-.55zM305.99 92.81h.55v.55h-.55zM293.31 85.73h.55v.55h-.55zM291.49 90.12h.55v.55h-.55zM298.58 85.94h.55v.55h-.55zM303.33 89.18h.55v.55h-.55zM300.92 87.06h.55v.55h-.55zM299.72 87.46h.55v.55h-.55zM295.96 87.25h.55v.55h-.55zM291.41 85.04h.55v.55h-.55zM314.49 87.32h.55v.55h-.55zM295.44 88.03h.55v.55h-.55zM297.17 80.39h.55v.55h-.55zM298.58 89.95h.55v.55h-.55zM305.3 86.61h.55v.55h-.55zM297.44 82.69h.55v.55h-.55zM311.1 87.98h.55v.55h-.55zM297.29 78.56h.55v.55h-.55zM294.78 96.9h.55v.55h-.55zM296.11 86.69h.55v.55h-.55zM304.26 86.37h.55v.55h-.55zM301.33 81.51h.55v.55h-.55zM296.69 93.75h.55v.55h-.55zM298.46 90.38h.55v.55h-.55zM292.84 85.9h.55v.55h-.55zM304.57 91.15h.55v.55h-.55zM296.26 89.38h.55v.55h-.55zM305.32 84.05h.55v.55h-.55zM305.86 83.41h.55v.55h-.55zM298.22 86.92h.55v.55h-.55zM286.72 86.56h.55v.55h-.55zM297 81.15h.55v.55h-.55zM300.45 90.05h.55v.55h-.55zM300.57 92.06h.55v.55h-.55zM296.04 81.75h.55v.55h-.55zM312.31 88.6h.55v.55h-.55zM308.67 83.69h.55v.55h-.55zM307.83 88.04h.55v.55h-.55zM306.89 87.1h.55v.55h-.55zM310.24 84.4h.55v.55h-.55z" fill="#3a4cff" opacity="0.8"/>
<g filter="url(#bl)"><g fill="#2a3cff" opacity="0.85" filter="url(#gr)"><ellipse cx="293.6" cy="84.6" rx="3.43" ry="3.67"/><ellipse cx="295" cy="84.3" rx="3.09" ry="2.68"/><ellipse cx="296.5" cy="84.03" rx="3.15" ry="2.73"/><ellipse cx="298" cy="83.76" rx="3.08" ry="2.67"/><ellipse cx="299.5" cy="83.49" rx="3.01" ry="2.61"/><ellipse cx="301" cy="83.22" rx="3.07" ry="2.66"/><ellipse cx="302.5" cy="82.95" rx="3.13" ry="2.71"/><ellipse cx="304" cy="82.68" rx="3.14" ry="2.72"/><ellipse cx="305.5" cy="82.41" rx="3.16" ry="2.74"/><ellipse cx="307" cy="82.14" rx="3.19" ry="2.76"/><ellipse cx="308.5" cy="81.87" rx="3.14" ry="2.72"/><ellipse cx="310" cy="81.6" rx="2.97" ry="2.58"/><ellipse cx="311.5" cy="81.3" rx="4.48" ry="3.98"/></g><g fill="#1e9bff"><ellipse cx="293.6" cy="84.6" rx="2.78" ry="2.97"/><ellipse cx="295" cy="84.3" rx="2.22" ry="1.93"/><ellipse cx="296.5" cy="84.03" rx="2.3" ry="2"/><ellipse cx="298" cy="83.76" rx="2.2" ry="1.91"/><ellipse cx="299.5" cy="83.49" rx="2.11" ry="1.83"/><ellipse cx="301" cy="83.22" rx="2.19" ry="1.9"/><ellipse cx="302.5" cy="82.95" rx="2.27" ry="1.97"/><ellipse cx="304" cy="82.68" rx="2.29" ry="1.99"/><ellipse cx="305.5" cy="82.41" rx="2.32" ry="2.01"/><ellipse cx="307" cy="82.14" rx="2.35" ry="2.04"/><ellipse cx="308.5" cy="81.87" rx="2.29" ry="1.98"/><ellipse cx="310" cy="81.6" rx="2.05" ry="1.78"/><ellipse cx="311.5" cy="81.3" rx="3.65" ry="3.25"/></g><g fill="#22d6d0"><ellipse cx="293.6" cy="84.6" rx="2.17" ry="2.33"/><ellipse cx="295" cy="84.3" rx="1.23" ry="1.07"/><ellipse cx="296.5" cy="84.03" rx="1.37" ry="1.19"/><ellipse cx="298" cy="83.76" rx="1.19" ry="1.03"/><ellipse cx="299.5" cy="83.49" rx="1" ry="0.87"/><ellipse cx="301" cy="83.22" rx="1.17" ry="1.01"/><ellipse cx="302.5" cy="82.95" rx="1.31" ry="1.14"/><ellipse cx="304" cy="82.68" rx="1.35" ry="1.17"/><ellipse cx="305.5" cy="82.41" rx="1.39" ry="1.21"/><ellipse cx="307" cy="82.14" rx="1.45" ry="1.26"/><ellipse cx="308.5" cy="81.87" rx="1.34" ry="1.16"/><ellipse cx="310" cy="81.6" rx="0.88" ry="0.76"/><ellipse cx="311.5" cy="81.3" rx="2.9" ry="2.58"/></g><g fill="#3ad23a"><ellipse cx="293.6" cy="84.6" rx="1.65" ry="1.77"/><ellipse cx="311.5" cy="81.3" rx="2.26" ry="2.01"/></g><g fill="#e6e21e"><ellipse cx="293.6" cy="84.6" rx="1.13" ry="1.22"/><ellipse cx="311.5" cy="81.3" rx="1.66" ry="1.47"/></g><g fill="#e8281e"><ellipse cx="293.6" cy="84.6" rx="0.45" ry="0.48"/><ellipse cx="311.5" cy="81.3" rx="0.97" ry="0.87"/></g></g>
<path d="M303.5 57 L315.5 56.3 L315.9 72.1 L304.2 73.5 Z" fill="none" stroke="#333" stroke-width="0.6"/>
<text x="274.4" y="106.69" font-size="5.9" fill="#222">8 h: 0.00%</text>
<rect x="342.9" y="46.7" width="62.7" height="62.8" fill="none" stroke="#a0a0a0" stroke-width="0.65"/>
<path d="M343.2 46.7h-1.8M343.2 55.8h-0.9M343.2 53.46h-0.9M343.2 51.9h-0.9M343.2 50.6h-0.9M343.2 49.56h-0.9M343.2 48.65h-0.9M343.2 48h-0.9M343.2 47.35h-0.9M343.2 59.8h-1.8M343.2 68.9h-0.9M343.2 66.56h-0.9M343.2 65h-0.9M343.2 63.7h-0.9M343.2 62.66h-0.9M343.2 61.75h-0.9M343.2 61.1h-0.9M343.2 60.45h-0.9M343.2 72.1h-1.8M343.2 81.2h-0.9M343.2 78.86h-0.9M343.2 77.3h-0.9M343.2 76h-0.9M343.2 74.96h-0.9M343.2 74.05h-0.9M343.2 73.4h-0.9M343.2 72.75h-0.9M343.2 84.6h-1.8M343.2 93.7h-0.9M343.2 91.36h-0.9M343.2 89.8h-0.9M343.2 88.5h-0.9M343.2 87.46h-0.9M343.2 86.55h-0.9M343.2 85.9h-0.9M343.2 85.25h-0.9M343.2 97.5h-1.8" stroke="#222" stroke-width="0.4" fill="none"/>
<rect x="341.7" y="104.7" width="1.2" height="1.8" fill="#111"/>
<path d="M343.5 109.2v1.7M346.59 109.2v0.9M349.68 109.2v0.9M352.76 109.2v0.9M355.85 109.2v1.7M358.94 109.2v0.9M362.03 109.2v0.9M365.11 109.2v0.9M368.2 109.2v1.7M371.29 109.2v0.9M374.38 109.2v0.9M377.46 109.2v0.9M380.55 109.2v1.7M383.64 109.2v0.9M386.73 109.2v0.9M389.81 109.2v0.9M392.9 109.2v1.7M395.99 109.2v0.9M399.07 109.2v0.9M402.16 109.2v0.9M405.25 109.2v1.7" stroke="#222" stroke-width="0.4" fill="none"/>
<g font-size="2.7" fill="#666"><text x="343.5" y="114.5" text-anchor="middle">0</text><text x="355.85" y="114.5" text-anchor="middle">200K</text><text x="368.2" y="114.5" text-anchor="middle">400K</text><text x="380.55" y="114.5" text-anchor="middle">600K</text><text x="392.9" y="114.5" text-anchor="middle">800K</text></g>
<g font-size="2.7" fill="#666"><text x="336.7" y="47.9">10<tspan dy="-1" font-size="2">6</tspan></text><text x="336.7" y="61">10<tspan dy="-1" font-size="2">5</tspan></text><text x="336.7" y="73.3">10<tspan dy="-1" font-size="2">4</tspan></text><text x="336.7" y="85.8">10<tspan dy="-1" font-size="2">3</tspan></text><text x="336.7" y="98.7">10<tspan dy="-1" font-size="2">2</tspan></text><text x="340.9" y="106.5" text-anchor="end">0</text></g>
<path d="M365 86.51h.55v.55h-.55zM376.8 86.4h.55v.55h-.55zM383.24 86.44h.55v.55h-.55zM380.89 84.6h.55v.55h-.55zM367.05 87.98h.55v.55h-.55zM375.61 83.8h.55v.55h-.55zM373.77 87.16h.55v.55h-.55zM369.75 86.46h.55v.55h-.55zM366.86 86.77h.55v.55h-.55zM375.69 85.58h.55v.55h-.55zM372.58 85.61h.55v.55h-.55zM381.36 87.78h.55v.55h-.55zM363.03 84.17h.55v.55h-.55zM373.12 85.89h.55v.55h-.55zM368.41 87.19h.55v.55h-.55zM388.29 84.08h.55v.55h-.55zM368.4 86.05h.55v.55h-.55zM380.34 87.18h.55v.55h-.55zM374.74 86.69h.55v.55h-.55zM374.54 85.82h.55v.55h-.55zM372.87 85.05h.55v.55h-.55zM376.31 85.66h.55v.55h-.55zM375.97 85.19h.55v.55h-.55zM382.71 86.08h.55v.55h-.55zM374.43 88.4h.55v.55h-.55zM374.68 86.27h.55v.55h-.55zM375.31 83.3h.55v.55h-.55zM379.47 83.76h.55v.55h-.55zM380.68 86.94h.55v.55h-.55zM372.45 84.08h.55v.55h-.55zM377.84 85.29h.55v.55h-.55zM382.52 85.23h.55v.55h-.55zM374.95 85.82h.55v.55h-.55zM368.07 83.41h.55v.55h-.55zM378.17 86.46h.55v.55h-.55zM373.57 84.84h.55v.55h-.55zM378.08 84.38h.55v.55h-.55zM378.9 86.36h.55v.55h-.55zM368.73 85.02h.55v.55h-.55zM372.64 85h.55v.55h-.55zM375.53 84.35h.55v.55h-.55zM369.24 84.02h.55v.55h-.55zM369.28 86.58h.55v.55h-.55zM376.99 82.05h.55v.55h-.55zM375.54 83.78h.55v.55h-.55zM373.49 86.35h.55v.55h-.55zM382.46 85.39h.55v.55h-.55zM376.31 84.53h.55v.55h-.55zM362.08 83.08h.55v.55h-.55zM377.65 83.91h.55v.55h-.55zM371.91 87.38h.55v.55h-.55zM378.08 84.79h.55v.55h-.55zM371.03 83.81h.55v.55h-.55zM381.93 84.04h.55v.55h-.55zM373.93 85.89h.55v.55h-.55zM373.53 87.47h.55v.55h-.55zM365.34 84.28h.55v.55h-.55zM375.23 85.49h.55v.55h-.55zM379.02 83.27h.55v.55h-.55zM378.81 84.26h.55v.55h-.55zM372.4 88.89h.55v.55h-.55zM376.93 83.52h.55v.55h-.55zM378.35 85.04h.55v.55h-.55zM380.01 86.84h.55v.55h-.55zM375.08 84.78h.55v.55h-.55zM374.01 82.09h.55v.55h-.55zM374.75 87.98h.55v.55h-.55zM371.3 84.19h.55v.55h-.55zM375.14 86.98h.55v.55h-.55zM374.07 82.97h.55v.55h-.55zM371.72 85.97h.55v.55h-.55zM377.29 83.22h.55v.55h-.55zM374.78 87.89h.55v.55h-.55zM383.12 83.79h.55v.55h-.55zM367.8 85.55h.55v.55h-.55zM370.98 85.25h.55v.55h-.55zM375.23 86.74h.55v.55h-.55zM372.42 84.35h.55v.55h-.55zM368.87 85.16h.55v.55h-.55zM370.89 85.7h.55v.55h-.55zM392.09 87.31h.55v.55h-.55zM372.17 86.34h.55v.55h-.55zM367.5 83.71h.55v.55h-.55zM378.12 87.59h.55v.55h-.55zM370.26 87.4h.55v.55h-.55zM375.43 85.85h.55v.55h-.55zM385.01 85.61h.55v.55h-.55zM366.91 85.98h.55v.55h-.55zM373.3 88.57h.55v.55h-.55zM362.11 87.54h.55v.55h-.55zM375.1 82.86h.55v.55h-.55zM378.1 85.52h.55v.55h-.55zM377.58 86.05h.55v.55h-.55zM374.97 86.41h.55v.55h-.55zM380.66 86.44h.55v.55h-.55zM378.19 84.51h.55v.55h-.55zM385.41 84.66h.55v.55h-.55zM380.83 86.65h.55v.55h-.55zM371.78 86.29h.55v.55h-.55zM378.1 85.49h.55v.55h-.55zM366.77 84.9h.55v.55h-.55zM381.88 85.16h.55v.55h-.55zM369.3 86.89h.55v.55h-.55zM381.68 89.31h.55v.55h-.55zM377.89 85.74h.55v.55h-.55zM378.1 86.1h.55v.55h-.55zM366.9 88.57h.55v.55h-.55zM382.65 84.08h.55v.55h-.55zM383.24 86.62h.55v.55h-.55zM372.01 83.57h.55v.55h-.55zM375.86 85.75h.55v.55h-.55zM379.66 87.92h.55v.55h-.55zM381.67 84.91h.55v.55h-.55zM371.78 87.84h.55v.55h-.55zM374.13 85.05h.55v.55h-.55zM372.1 86.9h.55v.55h-.55zM378.48 87.09h.55v.55h-.55zM375.99 86.83h.55v.55h-.55zM379.15 87.69h.55v.55h-.55zM382.71 86h.55v.55h-.55zM381.32 85.89h.55v.55h-.55zM383.22 83.92h.55v.55h-.55zM387.43 82.17h.55v.55h-.55zM382.47 83.76h.55v.55h-.55zM379.51 85.51h.55v.55h-.55zM387.06 82.09h.55v.55h-.55zM378.34 82.23h.55v.55h-.55zM377.52 90.5h.55v.55h-.55zM376.13 85.69h.55v.55h-.55zM382.55 86.94h.55v.55h-.55zM386.19 86.93h.55v.55h-.55zM379.15 84.36h.55v.55h-.55zM382.9 83h.55v.55h-.55zM379.27 86.07h.55v.55h-.55zM380.11 91.64h.55v.55h-.55zM379.93 86.83h.55v.55h-.55zM377.94 85.17h.55v.55h-.55zM382.41 84.01h.55v.55h-.55zM382.19 84.84h.55v.55h-.55zM385.11 81.81h.55v.55h-.55zM381.96 88.87h.55v.55h-.55zM380.39 87.63h.55v.55h-.55zM382 88.18h.55v.55h-.55zM393.36 84.3h.55v.55h-.55zM382.41 84.28h.55v.55h-.55zM379.17 92.22h.55v.55h-.55zM386.27 86.99h.55v.55h-.55zM378.38 94.35h.55v.55h-.55zM387.32 85.64h.55v.55h-.55zM379.96 86.62h.55v.55h-.55zM387.61 85.08h.55v.55h-.55zM378.79 84.63h.55v.55h-.55zM373.91 88.05h.55v.55h-.55zM381.9 89.47h.55v.55h-.55zM382.43 86.68h.55v.55h-.55zM381.71 79.53h.55v.55h-.55zM381.47 86.34h.55v.55h-.55zM385.09 87.5h.55v.55h-.55zM378.2 85.08h.55v.55h-.55zM382.31 89.64h.55v.55h-.55zM379.32 78.83h.55v.55h-.55zM378.96 83.83h.55v.55h-.55zM386.21 87.28h.55v.55h-.55zM376.31 88.05h.55v.55h-.55zM387 87.18h.55v.55h-.55zM377.57 90.78h.55v.55h-.55zM383.69 81.93h.55v.55h-.55zM388.65 85.74h.55v.55h-.55zM373.98 86.04h.55v.55h-.55zM380.77 87.23h.55v.55h-.55zM382.64 82.08h.55v.55h-.55zM382.74 87.89h.55v.55h-.55zM380.72 84.81h.55v.55h-.55zM377.23 84.53h.55v.55h-.55zM379.23 84.83h.55v.55h-.55zM379.58 78.71h.55v.55h-.55zM383.04 82.7h.55v.55h-.55zM380.17 81.67h.55v.55h-.55zM381.01 83.76h.55v.55h-.55zM387.06 78.77h.55v.55h-.55zM376.8 85.14h.55v.55h-.55zM376.73 84.17h.55v.55h-.55zM390.08 86.19h.55v.55h-.55zM381.37 87.19h.55v.55h-.55zM383.12 86.6h.55v.55h-.55zM381.35 84.21h.55v.55h-.55zM385.46 88.09h.55v.55h-.55zM381.22 85.62h.55v.55h-.55zM377.28 82.32h.55v.55h-.55zM375.61 84.22h.55v.55h-.55zM386.64 89.25h.55v.55h-.55zM380.78 83.96h.55v.55h-.55zM383.92 87.85h.55v.55h-.55zM378.17 84.99h.55v.55h-.55zM383.57 87.48h.55v.55h-.55zM384.06 88.55h.55v.55h-.55zM382.27 83.49h.55v.55h-.55zM375.8 82.44h.55v.55h-.55zM384.36 90.62h.55v.55h-.55zM384.21 83.67h.55v.55h-.55zM375.12 88.21h.55v.55h-.55zM377.53 84.44h.55v.55h-.55zM386.65 82.81h.55v.55h-.55zM379.63 87.2h.55v.55h-.55zM379.09 88.22h.55v.55h-.55zM387.28 84.26h.55v.55h-.55zM386.49 81.65h.55v.55h-.55zM381.67 84.05h.55v.55h-.55zM372.24 84.04h.55v.55h-.55zM383.43 83.94h.55v.55h-.55zM376.63 87.33h.55v.55h-.55zM378.16 88.24h.55v.55h-.55zM384.38 86.57h.55v.55h-.55zM380.28 84.98h.55v.55h-.55zM386.93 92.11h.55v.55h-.55zM382.37 76.89h.55v.55h-.55zM376.73 80.27h.55v.55h-.55zM386.44 80.17h.55v.55h-.55zM385.9 86.07h.55v.55h-.55zM380.48 90.25h.55v.55h-.55zM380.36 89.33h.55v.55h-.55zM385.34 82.77h.55v.55h-.55zM380.98 89.24h.55v.55h-.55zM373.14 88.48h.55v.55h-.55zM380.3 87.91h.55v.55h-.55zM379.94 83.58h.55v.55h-.55zM373.74 80.11h.55v.55h-.55zM378.24 84.76h.55v.55h-.55zM376.77 85.91h.55v.55h-.55zM382.07 86.45h.55v.55h-.55zM382.98 87.14h.55v.55h-.55zM378.6 86.6h.55v.55h-.55zM381.06 86.5h.55v.55h-.55zM374.58 83.08h.55v.55h-.55zM377.49 82.1h.55v.55h-.55zM379.63 83.1h.55v.55h-.55zM380.04 81.23h.55v.55h-.55zM376.4 83.57h.55v.55h-.55zM378.04 85.58h.55v.55h-.55zM381.12 87.47h.55v.55h-.55zM375.55 62.69h.55v.55h-.55zM377.67 62.68h.55v.55h-.55zM375.01 69.36h.55v.55h-.55zM378.23 68.09h.55v.55h-.55zM375.96 63.18h.55v.55h-.55zM380.09 62.74h.55v.55h-.55zM378.2 60.67h.55v.55h-.55zM382.62 66.3h.55v.55h-.55zM377.17 63.53h.55v.55h-.55zM375.95 65.79h.55v.55h-.55zM377.89 61.08h.55v.55h-.55zM378.98 73h.55v.55h-.55zM377.9 60.69h.55v.55h-.55zM376.79 66.19h.55v.55h-.55zM362.46 84.41h.55v.55h-.55zM365.04 83.75h.55v.55h-.55zM360.96 87.04h.55v.55h-.55zM363.29 83.28h.55v.55h-.55zM360.8 88.18h.55v.55h-.55zM362.54 82.14h.55v.55h-.55zM365.52 91.13h.55v.55h-.55zM365.95 87.62h.55v.55h-.55zM361.89 85.99h.55v.55h-.55zM365.3 86.74h.55v.55h-.55zM361.12 89.66h.55v.55h-.55zM364.83 85.05h.55v.55h-.55zM362.2 89.38h.55v.55h-.55zM361.08 88.55h.55v.55h-.55zM363 89.9h.55v.55h-.55zM362.01 86.66h.55v.55h-.55zM362.25 91.45h.55v.55h-.55zM364.43 85.12h.55v.55h-.55zM362.5 88.05h.55v.55h-.55zM363.12 88.82h.55v.55h-.55zM361.64 85.99h.55v.55h-.55zM366.27 90.45h.55v.55h-.55zM362.11 91.8h.55v.55h-.55zM365.39 82.13h.55v.55h-.55zM363.85 90.03h.55v.55h-.55zM363.59 87.3h.55v.55h-.55zM365.25 88.45h.55v.55h-.55zM360.03 87.59h.55v.55h-.55zM363.67 84.42h.55v.55h-.55zM365.21 87.47h.55v.55h-.55z" fill="#3a4cff" opacity="0.8"/>
<g filter="url(#bl)"><g fill="#2a3cff" opacity="0.85" filter="url(#gr)"><ellipse cx="363.4" cy="87.3" rx="1.99" ry="2.98"/><ellipse cx="367.2" cy="86.49" rx="0.13" ry="0.07"/><ellipse cx="368.4" cy="86.28" rx="0.46" ry="0.24"/><ellipse cx="382" cy="83.8" rx="5.11" ry="4.08"/></g><g fill="#1e9bff"><ellipse cx="363.4" cy="87.3" rx="1.37" ry="2.06"/><ellipse cx="382" cy="83.8" rx="4.22" ry="3.38"/></g><g fill="#22d6d0"><ellipse cx="363.4" cy="87.3" rx="0.6" ry="0.91"/><ellipse cx="382" cy="83.8" rx="3.43" ry="2.74"/></g><g fill="#3ad23a"><ellipse cx="382" cy="83.8" rx="2.76" ry="2.21"/></g><g fill="#e6e21e"><ellipse cx="382" cy="83.8" rx="2.17" ry="1.74"/></g><g fill="#e8281e"><ellipse cx="382" cy="83.8" rx="1.58" ry="1.27"/></g></g>
<path d="M374.5 57 L386.5 56.3 L386.9 72.1 L375.2 73.5 Z" fill="none" stroke="#333" stroke-width="0.6"/>
<text x="345.4" y="106.69" font-size="5.9" fill="#222">16 h: 0.30%</text>
<rect x="414.9" y="46.7" width="62.7" height="62.8" fill="none" stroke="#a0a0a0" stroke-width="0.65"/>
<path d="M415.2 46.7h-1.8M415.2 55.8h-0.9M415.2 53.46h-0.9M415.2 51.9h-0.9M415.2 50.6h-0.9M415.2 49.56h-0.9M415.2 48.65h-0.9M415.2 48h-0.9M415.2 47.35h-0.9M415.2 59.8h-1.8M415.2 68.9h-0.9M415.2 66.56h-0.9M415.2 65h-0.9M415.2 63.7h-0.9M415.2 62.66h-0.9M415.2 61.75h-0.9M415.2 61.1h-0.9M415.2 60.45h-0.9M415.2 72.1h-1.8M415.2 81.2h-0.9M415.2 78.86h-0.9M415.2 77.3h-0.9M415.2 76h-0.9M415.2 74.96h-0.9M415.2 74.05h-0.9M415.2 73.4h-0.9M415.2 72.75h-0.9M415.2 84.6h-1.8M415.2 93.7h-0.9M415.2 91.36h-0.9M415.2 89.8h-0.9M415.2 88.5h-0.9M415.2 87.46h-0.9M415.2 86.55h-0.9M415.2 85.9h-0.9M415.2 85.25h-0.9M415.2 97.5h-1.8" stroke="#222" stroke-width="0.4" fill="none"/>
<rect x="413.7" y="104.7" width="1.2" height="1.8" fill="#111"/>
<path d="M415.5 109.2v1.7M418.59 109.2v0.9M421.68 109.2v0.9M424.76 109.2v0.9M427.85 109.2v1.7M430.94 109.2v0.9M434.03 109.2v0.9M437.11 109.2v0.9M440.2 109.2v1.7M443.29 109.2v0.9M446.38 109.2v0.9M449.46 109.2v0.9M452.55 109.2v1.7M455.64 109.2v0.9M458.73 109.2v0.9M461.81 109.2v0.9M464.9 109.2v1.7M467.99 109.2v0.9M471.07 109.2v0.9M474.16 109.2v0.9M477.25 109.2v1.7" stroke="#222" stroke-width="0.4" fill="none"/>
<g font-size="2.7" fill="#666"><text x="415.5" y="114.5" text-anchor="middle">0</text><text x="427.85" y="114.5" text-anchor="middle">200K</text><text x="440.2" y="114.5" text-anchor="middle">400K</text><text x="452.55" y="114.5" text-anchor="middle">600K</text><text x="464.9" y="114.5" text-anchor="middle">800K</text></g>
<g font-size="2.7" fill="#666"><text x="408.7" y="47.9">10<tspan dy="-1" font-size="2">6</tspan></text><text x="408.7" y="61">10<tspan dy="-1" font-size="2">5</tspan></text><text x="408.7" y="73.3">10<tspan dy="-1" font-size="2">4</tspan></text><text x="408.7" y="85.8">10<tspan dy="-1" font-size="2">3</tspan></text><text x="408.7" y="98.7">10<tspan dy="-1" font-size="2">2</tspan></text><text x="412.9" y="106.5" text-anchor="end">0</text></g>
<path d="M436.93 85.2h.55v.55h-.55zM441.66 86.58h.55v.55h-.55zM441.38 84.56h.55v.55h-.55zM454.54 84.63h.55v.55h-.55zM443.3 85.37h.55v.55h-.55zM441.72 86.79h.55v.55h-.55zM438.74 84.62h.55v.55h-.55zM457.29 82.31h.55v.55h-.55zM439.56 85.66h.55v.55h-.55zM431.83 81.27h.55v.55h-.55zM441.92 87.34h.55v.55h-.55zM447.48 84.49h.55v.55h-.55zM439.11 90.04h.55v.55h-.55zM449.31 83.58h.55v.55h-.55zM455.78 87.94h.55v.55h-.55zM441.9 82.4h.55v.55h-.55zM458.54 85.27h.55v.55h-.55zM442.92 86h.55v.55h-.55zM444.22 87.59h.55v.55h-.55zM442.13 85.46h.55v.55h-.55zM449.49 87.81h.55v.55h-.55zM441.53 84.49h.55v.55h-.55zM454.53 85.4h.55v.55h-.55zM451.96 85.99h.55v.55h-.55zM447.2 84h.55v.55h-.55zM445.81 85.35h.55v.55h-.55zM442.13 88.76h.55v.55h-.55zM438.36 84.12h.55v.55h-.55zM448.32 87.5h.55v.55h-.55zM441.54 85.04h.55v.55h-.55zM441.54 83.73h.55v.55h-.55zM453.84 85.46h.55v.55h-.55zM443.41 85.99h.55v.55h-.55zM451.6 88.03h.55v.55h-.55zM448.16 86.01h.55v.55h-.55zM449.49 87.42h.55v.55h-.55zM449.67 83.28h.55v.55h-.55zM446.75 84.9h.55v.55h-.55zM456.26 85.74h.55v.55h-.55zM441.8 88.06h.55v.55h-.55zM443.78 86.37h.55v.55h-.55zM445.71 86.32h.55v.55h-.55zM452.52 84.15h.55v.55h-.55zM442.18 87.1h.55v.55h-.55zM444.49 85.9h.55v.55h-.55zM452.13 83.99h.55v.55h-.55zM452.25 85.01h.55v.55h-.55zM442.69 84.57h.55v.55h-.55zM459.34 86.64h.55v.55h-.55zM449.19 84.26h.55v.55h-.55zM454.88 83.53h.55v.55h-.55zM443.3 87.81h.55v.55h-.55zM452.8 84.98h.55v.55h-.55zM450.25 85.08h.55v.55h-.55zM438.65 87.33h.55v.55h-.55zM446.92 87.02h.55v.55h-.55zM450.89 84.04h.55v.55h-.55zM447.19 84.2h.55v.55h-.55zM448.61 87h.55v.55h-.55zM452.21 89.93h.55v.55h-.55zM444.05 87.74h.55v.55h-.55zM451.56 86.97h.55v.55h-.55zM441.41 86.7h.55v.55h-.55zM448.82 85.87h.55v.55h-.55zM448.56 84.01h.55v.55h-.55zM446.12 86.67h.55v.55h-.55zM445.08 86.8h.55v.55h-.55zM454.65 86.08h.55v.55h-.55zM444.1 86.38h.55v.55h-.55zM445.28 84.74h.55v.55h-.55zM444.6 88.89h.55v.55h-.55zM450.51 86.9h.55v.55h-.55zM451.6 82.71h.55v.55h-.55zM449.02 86.91h.55v.55h-.55zM445 83.78h.55v.55h-.55zM449.96 85.18h.55v.55h-.55zM452.78 84.85h.55v.55h-.55zM446.94 87.46h.55v.55h-.55zM452.39 87.57h.55v.55h-.55zM445.13 89.35h.55v.55h-.55zM441.1 84.6h.55v.55h-.55zM446.19 87.96h.55v.55h-.55zM448.84 89.05h.55v.55h-.55zM451.16 87.01h.55v.55h-.55zM441.41 85.12h.55v.55h-.55zM446.81 83.74h.55v.55h-.55zM441.73 83.55h.55v.55h-.55zM443.78 87.16h.55v.55h-.55zM449.21 86.08h.55v.55h-.55zM449.13 84.22h.55v.55h-.55zM444.5 84.76h.55v.55h-.55zM440.74 84.85h.55v.55h-.55zM440.96 85.5h.55v.55h-.55zM450.74 86.13h.55v.55h-.55zM446.46 86.42h.55v.55h-.55zM444.98 84.07h.55v.55h-.55zM435.21 87.75h.55v.55h-.55zM447.94 81.82h.55v.55h-.55zM448.06 84.77h.55v.55h-.55zM445.76 85.93h.55v.55h-.55zM442.21 83.1h.55v.55h-.55zM442.32 86.99h.55v.55h-.55zM440.97 83.15h.55v.55h-.55zM446.12 88.99h.55v.55h-.55zM440.94 87.53h.55v.55h-.55zM447.24 86.31h.55v.55h-.55zM454.33 83.97h.55v.55h-.55zM445.6 85h.55v.55h-.55zM449.46 85.77h.55v.55h-.55zM447.63 86.95h.55v.55h-.55zM453.27 84.67h.55v.55h-.55zM452.14 88.63h.55v.55h-.55zM456.86 90.05h.55v.55h-.55zM448.97 81.63h.55v.55h-.55zM453.89 87.74h.55v.55h-.55zM452.7 81.03h.55v.55h-.55zM460.64 84.04h.55v.55h-.55zM454.48 81.16h.55v.55h-.55zM460.62 85.83h.55v.55h-.55zM453.15 83.32h.55v.55h-.55zM454.06 85.7h.55v.55h-.55zM454.62 81.68h.55v.55h-.55zM459 81.02h.55v.55h-.55zM458.62 86.78h.55v.55h-.55zM449.44 87.6h.55v.55h-.55zM455.35 81.5h.55v.55h-.55zM461.15 88.53h.55v.55h-.55zM446.83 87.71h.55v.55h-.55zM451.94 78.65h.55v.55h-.55zM456.37 79.69h.55v.55h-.55zM452.88 84.34h.55v.55h-.55zM452.82 80.49h.55v.55h-.55zM445.99 83.4h.55v.55h-.55zM458.12 88.26h.55v.55h-.55zM459.25 85.48h.55v.55h-.55zM454.93 81.44h.55v.55h-.55zM445.15 81.34h.55v.55h-.55zM451.15 80.66h.55v.55h-.55zM454 85.22h.55v.55h-.55zM451.74 86.81h.55v.55h-.55zM454.91 86.88h.55v.55h-.55zM457.59 88.15h.55v.55h-.55zM452.76 81.74h.55v.55h-.55zM454.22 88.21h.55v.55h-.55zM446.28 86.78h.55v.55h-.55zM452.24 86.37h.55v.55h-.55zM455.45 82.72h.55v.55h-.55zM451.09 82.78h.55v.55h-.55zM455.76 79.95h.55v.55h-.55zM454.14 81.87h.55v.55h-.55zM451.63 79.91h.55v.55h-.55zM448.21 85.44h.55v.55h-.55zM454.84 82.49h.55v.55h-.55zM453.19 87.21h.55v.55h-.55zM454.33 85.19h.55v.55h-.55zM453.55 86.28h.55v.55h-.55zM452.86 80.36h.55v.55h-.55zM456.35 86.02h.55v.55h-.55zM450.74 84.65h.55v.55h-.55zM454.67 85.18h.55v.55h-.55zM464.87 84.74h.55v.55h-.55zM454 82.53h.55v.55h-.55zM451.99 74.4h.55v.55h-.55zM452.45 83.35h.55v.55h-.55zM450.27 84.26h.55v.55h-.55zM455.62 88.07h.55v.55h-.55zM461.85 84.41h.55v.55h-.55zM450.97 80.12h.55v.55h-.55zM458.67 81.99h.55v.55h-.55zM453.98 86.63h.55v.55h-.55zM454.53 84.63h.55v.55h-.55zM455.02 77.38h.55v.55h-.55zM453.36 86.15h.55v.55h-.55zM449.62 78.84h.55v.55h-.55zM455.9 83.06h.55v.55h-.55zM455.42 77.56h.55v.55h-.55zM453.85 80.89h.55v.55h-.55zM456.61 89.99h.55v.55h-.55zM452.57 87.04h.55v.55h-.55zM450.81 82.94h.55v.55h-.55zM455.27 81.74h.55v.55h-.55zM458.38 85.16h.55v.55h-.55zM449.51 79.33h.55v.55h-.55zM451.91 76.7h.55v.55h-.55zM457.85 82.61h.55v.55h-.55zM451.95 84.01h.55v.55h-.55zM452.59 88.4h.55v.55h-.55zM458.68 86.58h.55v.55h-.55zM455.96 87.24h.55v.55h-.55zM455.49 83.71h.55v.55h-.55zM457.65 84.94h.55v.55h-.55zM456.04 89.22h.55v.55h-.55zM460.71 84.12h.55v.55h-.55zM457.78 79.14h.55v.55h-.55zM451.45 85.29h.55v.55h-.55zM451.78 80.42h.55v.55h-.55zM451.2 85.51h.55v.55h-.55zM449.2 85.95h.55v.55h-.55zM457.49 77.27h.55v.55h-.55zM455.5 86.52h.55v.55h-.55zM449.78 85.58h.55v.55h-.55zM452.67 85.88h.55v.55h-.55zM456.66 85.58h.55v.55h-.55zM444.96 86.29h.55v.55h-.55zM459.89 80.2h.55v.55h-.55zM462.83 82.57h.55v.55h-.55zM449.34 79.63h.55v.55h-.55zM458.89 85.94h.55v.55h-.55zM451.73 82.14h.55v.55h-.55zM446.2 80.26h.55v.55h-.55zM448.98 84.61h.55v.55h-.55zM453.02 87.06h.55v.55h-.55zM454.62 83.45h.55v.55h-.55zM455.98 88.89h.55v.55h-.55zM452.6 84.48h.55v.55h-.55zM452.2 81.14h.55v.55h-.55zM450.83 82.23h.55v.55h-.55zM449.57 83.15h.55v.55h-.55zM452.63 85.05h.55v.55h-.55zM457.11 90.66h.55v.55h-.55zM452.37 83.49h.55v.55h-.55zM455.73 81.96h.55v.55h-.55zM457.56 86.42h.55v.55h-.55zM453.96 88.06h.55v.55h-.55zM451.63 83.16h.55v.55h-.55zM452.46 83.24h.55v.55h-.55zM449.35 83.61h.55v.55h-.55zM457.14 85.73h.55v.55h-.55zM457.37 85.68h.55v.55h-.55zM456.9 80.65h.55v.55h-.55zM450.65 61.75h.55v.55h-.55zM456.79 73.45h.55v.55h-.55zM451.31 65.54h.55v.55h-.55zM452.61 64.2h.55v.55h-.55zM454.27 74.15h.55v.55h-.55zM447.84 64.87h.55v.55h-.55zM454.1 71.19h.55v.55h-.55zM453.08 67.83h.55v.55h-.55zM451.22 67.4h.55v.55h-.55zM450.18 65.76h.55v.55h-.55zM450.39 71.77h.55v.55h-.55zM447.19 70.01h.55v.55h-.55zM448.12 62.52h.55v.55h-.55zM446.76 64.25h.55v.55h-.55zM452.46 65.59h.55v.55h-.55zM451.44 64.08h.55v.55h-.55zM451.8 62.18h.55v.55h-.55zM452.04 65.54h.55v.55h-.55zM448.87 70.75h.55v.55h-.55zM454.98 65.36h.55v.55h-.55zM454.51 68.18h.55v.55h-.55zM453.85 69.37h.55v.55h-.55zM451.87 65.52h.55v.55h-.55zM454.58 64.83h.55v.55h-.55zM451.46 69.1h.55v.55h-.55zM447.35 69h.55v.55h-.55zM450.52 66.23h.55v.55h-.55zM452.6 67.2h.55v.55h-.55zM451.96 65.05h.55v.55h-.55zM449.71 66.11h.55v.55h-.55zM450.63 64.11h.55v.55h-.55zM454.39 72.14h.55v.55h-.55zM448.08 65.83h.55v.55h-.55zM453.5 59.71h.55v.55h-.55zM453.6 67.25h.55v.55h-.55zM453.08 70.07h.55v.55h-.55zM454.38 62.89h.55v.55h-.55zM452.92 67.45h.55v.55h-.55zM452.94 62.61h.55v.55h-.55zM449.46 69.27h.55v.55h-.55zM453.92 72.18h.55v.55h-.55zM447.84 71.04h.55v.55h-.55zM450.8 66.18h.55v.55h-.55zM450.73 68.96h.55v.55h-.55zM453.91 64.36h.55v.55h-.55zM437.06 87.91h.55v.55h-.55zM435.36 89.65h.55v.55h-.55zM435.16 86.35h.55v.55h-.55zM436.21 87.72h.55v.55h-.55zM435.27 86.42h.55v.55h-.55zM437.73 87.86h.55v.55h-.55zM436.69 87.43h.55v.55h-.55zM437.48 90.46h.55v.55h-.55zM436.15 89.48h.55v.55h-.55zM435.29 87.5h.55v.55h-.55zM434.85 86.21h.55v.55h-.55zM440.2 85.42h.55v.55h-.55zM437.93 88.18h.55v.55h-.55zM436.65 82.47h.55v.55h-.55zM436.58 84h.55v.55h-.55zM435.48 85.72h.55v.55h-.55zM435.84 91.87h.55v.55h-.55zM438.44 83.27h.55v.55h-.55zM435.84 85.57h.55v.55h-.55zM436.48 83.41h.55v.55h-.55zM434.46 87.3h.55v.55h-.55zM435.33 90.05h.55v.55h-.55zM435.92 87.99h.55v.55h-.55zM435.7 89.39h.55v.55h-.55zM437.79 87.29h.55v.55h-.55zM435.65 88.88h.55v.55h-.55zM436.41 89.81h.55v.55h-.55zM436.4 87.73h.55v.55h-.55zM437.28 85.51h.55v.55h-.55zM434.71 88.59h.55v.55h-.55z" fill="#3a4cff" opacity="0.8"/>
<g filter="url(#bl)"><g fill="#2a3cff" opacity="0.85" filter="url(#gr)"><ellipse cx="436.3" cy="87" rx="1.73" ry="3.28"/><ellipse cx="455" cy="83.5" rx="5.11" ry="4.59"/><ellipse cx="451.6" cy="65.8" rx="1.89" ry="2.41"/><ellipse cx="452.4" cy="68.4" rx="1.29" ry="1.44"/></g><g fill="#1e9bff"><ellipse cx="436.3" cy="87" rx="1.16" ry="2.19"/><ellipse cx="455" cy="83.5" rx="4.22" ry="3.8"/><ellipse cx="451.6" cy="65.8" rx="1.05" ry="1.33"/></g><g fill="#22d6d0"><ellipse cx="436.3" cy="87" rx="0.32" ry="0.61"/><ellipse cx="455" cy="83.5" rx="3.43" ry="3.08"/></g><g fill="#3ad23a"><ellipse cx="455" cy="83.5" rx="2.76" ry="2.49"/></g><g fill="#e6e21e"><ellipse cx="455" cy="83.5" rx="2.17" ry="1.96"/></g><g fill="#e8281e"><ellipse cx="455" cy="83.5" rx="1.58" ry="1.43"/></g></g>
<path d="M446.5 57 L458.5 56.3 L458.9 72.1 L447.2 73.5 Z" fill="none" stroke="#333" stroke-width="0.6"/>
<text x="417.4" y="106.69" font-size="5.9" fill="#222">24 h: 5.69%</text>
<rect x="200.9" y="158.3" width="62.7" height="62.8" fill="none" stroke="#a0a0a0" stroke-width="0.65"/>
<path d="M201.2 158.3h-1.8M201.2 167.4h-0.9M201.2 165.06h-0.9M201.2 163.5h-0.9M201.2 162.2h-0.9M201.2 161.16h-0.9M201.2 160.25h-0.9M201.2 159.6h-0.9M201.2 158.95h-0.9M201.2 171.4h-1.8M201.2 180.5h-0.9M201.2 178.16h-0.9M201.2 176.6h-0.9M201.2 175.3h-0.9M201.2 174.26h-0.9M201.2 173.35h-0.9M201.2 172.7h-0.9M201.2 172.05h-0.9M201.2 183.7h-1.8M201.2 192.8h-0.9M201.2 190.46h-0.9M201.2 188.9h-0.9M201.2 187.6h-0.9M201.2 186.56h-0.9M201.2 185.65h-0.9M201.2 185h-0.9M201.2 184.35h-0.9M201.2 196.2h-1.8M201.2 205.3h-0.9M201.2 202.96h-0.9M201.2 201.4h-0.9M201.2 200.1h-0.9M201.2 199.06h-0.9M201.2 198.15h-0.9M201.2 197.5h-0.9M201.2 196.85h-0.9M201.2 209.1h-1.8" stroke="#222" stroke-width="0.4" fill="none"/>
<rect x="199.7" y="216.3" width="1.2" height="1.8" fill="#111"/>
<path d="M201.5 220.8v1.7M204.59 220.8v0.9M207.68 220.8v0.9M210.76 220.8v0.9M213.85 220.8v1.7M216.94 220.8v0.9M220.03 220.8v0.9M223.11 220.8v0.9M226.2 220.8v1.7M229.29 220.8v0.9M232.38 220.8v0.9M235.46 220.8v0.9M238.55 220.8v1.7M241.64 220.8v0.9M244.73 220.8v0.9M247.81 220.8v0.9M250.9 220.8v1.7M253.99 220.8v0.9M257.07 220.8v0.9M260.16 220.8v0.9M263.25 220.8v1.7" stroke="#222" stroke-width="0.4" fill="none"/>
<g font-size="2.7" fill="#666"><text x="201.5" y="226.1" text-anchor="middle">0</text><text x="213.85" y="226.1" text-anchor="middle">200K</text><text x="226.2" y="226.1" text-anchor="middle">400K</text><text x="238.55" y="226.1" text-anchor="middle">600K</text><text x="250.9" y="226.1" text-anchor="middle">800K</text></g>
<g font-size="2.7" fill="#666"><text x="194.7" y="159.5">10<tspan dy="-1" font-size="2">6</tspan></text><text x="194.7" y="172.6">10<tspan dy="-1" font-size="2">5</tspan></text><text x="194.7" y="184.9">10<tspan dy="-1" font-size="2">4</tspan></text><text x="194.7" y="197.4">10<tspan dy="-1" font-size="2">3</tspan></text><text x="194.7" y="210.3">10<tspan dy="-1" font-size="2">2</tspan></text><text x="198.9" y="218.1" text-anchor="end">0</text></g>
<path d="M233.3 201.97h.55v.55h-.55zM214.47 196.41h.55v.55h-.55zM223.55 205.32h.55v.55h-.55zM219.12 203.81h.55v.55h-.55zM236.29 202.52h.55v.55h-.55zM233.88 199.48h.55v.55h-.55zM229.94 201.69h.55v.55h-.55zM232.42 203.17h.55v.55h-.55zM228.81 198.85h.55v.55h-.55zM226.76 202.26h.55v.55h-.55zM220.43 197.15h.55v.55h-.55zM227.63 199.3h.55v.55h-.55zM228.44 192.82h.55v.55h-.55zM228.04 200.23h.55v.55h-.55zM234.47 194.92h.55v.55h-.55zM228.24 202.46h.55v.55h-.55zM232.82 204.67h.55v.55h-.55zM236.08 197.78h.55v.55h-.55zM233.67 199.97h.55v.55h-.55zM225.37 205.72h.55v.55h-.55zM226.37 198.37h.55v.55h-.55zM227.65 198.38h.55v.55h-.55zM235.81 202.17h.55v.55h-.55zM238.08 202.27h.55v.55h-.55zM226.45 204.22h.55v.55h-.55zM226.22 199.58h.55v.55h-.55zM229.03 201.12h.55v.55h-.55zM236.9 199.13h.55v.55h-.55zM232.03 200.91h.55v.55h-.55zM222.74 197.63h.55v.55h-.55zM228.73 202.25h.55v.55h-.55zM231.85 202.48h.55v.55h-.55zM230.28 199.62h.55v.55h-.55zM232.46 197.91h.55v.55h-.55zM222.24 199.97h.55v.55h-.55zM221.74 199.41h.55v.55h-.55zM225.68 199.29h.55v.55h-.55zM229.74 198.53h.55v.55h-.55zM227.56 195.73h.55v.55h-.55zM230.84 198.28h.55v.55h-.55zM232.34 192.28h.55v.55h-.55zM225.36 201.75h.55v.55h-.55zM215.88 199.89h.55v.55h-.55zM230.55 201.32h.55v.55h-.55zM221.34 201.71h.55v.55h-.55zM230.86 198h.55v.55h-.55zM234.31 200.85h.55v.55h-.55zM230.11 199.61h.55v.55h-.55zM233.17 201.3h.55v.55h-.55zM236.58 202.39h.55v.55h-.55zM226.43 200.31h.55v.55h-.55zM235.32 199.87h.55v.55h-.55zM232.22 202.61h.55v.55h-.55zM228.96 193.8h.55v.55h-.55zM230.76 201.66h.55v.55h-.55zM230.79 198.65h.55v.55h-.55zM237.01 200.58h.55v.55h-.55zM226.38 198.78h.55v.55h-.55zM232.08 197.62h.55v.55h-.55zM224.19 207.19h.55v.55h-.55zM237.6 204.26h.55v.55h-.55zM237.92 202.84h.55v.55h-.55zM220.22 204.7h.55v.55h-.55zM237.19 202.52h.55v.55h-.55zM218.64 204.85h.55v.55h-.55zM237.93 199.48h.55v.55h-.55zM230.74 203.41h.55v.55h-.55zM229.51 204.4h.55v.55h-.55zM230.47 203.14h.55v.55h-.55zM230.5 196.42h.55v.55h-.55zM224.22 210.82h.55v.55h-.55zM231.62 205.06h.55v.55h-.55zM236.62 206.32h.55v.55h-.55zM233.22 199.15h.55v.55h-.55zM230.11 195.05h.55v.55h-.55zM228.91 203.81h.55v.55h-.55zM217.42 201.61h.55v.55h-.55zM234.79 205.12h.55v.55h-.55zM224.61 198.98h.55v.55h-.55zM219.08 197.84h.55v.55h-.55zM233.11 207.43h.55v.55h-.55zM223.33 205.28h.55v.55h-.55zM232.49 199.46h.55v.55h-.55zM242.78 193.17h.55v.55h-.55zM229.61 201.68h.55v.55h-.55zM242.41 206.59h.55v.55h-.55zM243.19 201.42h.55v.55h-.55zM235.72 205.24h.55v.55h-.55zM232.98 202.12h.55v.55h-.55zM228.93 199.73h.55v.55h-.55zM222.83 207.06h.55v.55h-.55zM227.4 194.53h.55v.55h-.55zM231.54 200.89h.55v.55h-.55zM231.03 206.65h.55v.55h-.55zM229.38 200.17h.55v.55h-.55zM225.65 200.93h.55v.55h-.55zM227.44 201.64h.55v.55h-.55zM248.22 202.22h.55v.55h-.55zM225 207.01h.55v.55h-.55zM235.04 203.54h.55v.55h-.55zM234.17 203.55h.55v.55h-.55zM233.94 205.39h.55v.55h-.55zM235.88 205.2h.55v.55h-.55zM227.07 200.99h.55v.55h-.55zM225.74 203.98h.55v.55h-.55zM234.85 199.55h.55v.55h-.55zM233.41 209.18h.55v.55h-.55zM237.22 197.52h.55v.55h-.55zM229.46 202.98h.55v.55h-.55zM229.79 202.2h.55v.55h-.55zM236.89 202.02h.55v.55h-.55zM223.59 203.23h.55v.55h-.55zM229.43 201.35h.55v.55h-.55zM226.69 196.69h.55v.55h-.55zM222.72 199.9h.55v.55h-.55zM223.75 192.54h.55v.55h-.55zM236.71 197.38h.55v.55h-.55zM225.76 202.66h.55v.55h-.55zM215.91 205.18h.55v.55h-.55zM225.51 203.06h.55v.55h-.55zM227.19 201.95h.55v.55h-.55zM230.62 201h.55v.55h-.55zM219.32 196.42h.55v.55h-.55zM229.76 205.39h.55v.55h-.55zM226.81 202.66h.55v.55h-.55zM230.95 202.51h.55v.55h-.55zM235.8 196.33h.55v.55h-.55zM231.6 200.45h.55v.55h-.55zM228.17 198.34h.55v.55h-.55zM225.41 197.79h.55v.55h-.55zM223.58 208.83h.55v.55h-.55zM239.94 201.03h.55v.55h-.55zM234.34 197.96h.55v.55h-.55zM213.74 195.32h.55v.55h-.55zM230.83 205.49h.55v.55h-.55zM229.75 197.88h.55v.55h-.55zM228.59 197.89h.55v.55h-.55zM221.85 200.28h.55v.55h-.55zM227.66 198.47h.55v.55h-.55zM224.82 198.1h.55v.55h-.55zM231.38 205.34h.55v.55h-.55zM228.77 207.97h.55v.55h-.55zM220.54 201.86h.55v.55h-.55zM223.24 200.5h.55v.55h-.55zM230.6 202.74h.55v.55h-.55zM236.61 199.27h.55v.55h-.55zM222.74 200.41h.55v.55h-.55zM231.72 198.82h.55v.55h-.55zM235.22 206.25h.55v.55h-.55zM221.68 202.13h.55v.55h-.55zM235.94 195.01h.55v.55h-.55zM231.2 200.3h.55v.55h-.55zM221.68 205.1h.55v.55h-.55zM231.27 199.51h.55v.55h-.55zM232.59 203h.55v.55h-.55zM234.5 202.81h.55v.55h-.55zM232.39 197.33h.55v.55h-.55zM227.54 201.4h.55v.55h-.55zM213.81 207.65h.55v.55h-.55zM227.78 197.71h.55v.55h-.55zM219.36 201.78h.55v.55h-.55zM230.19 199.18h.55v.55h-.55zM227.56 198.23h.55v.55h-.55zM225.62 200.69h.55v.55h-.55zM226.24 203.12h.55v.55h-.55zM229.17 201.41h.55v.55h-.55zM232.37 204.96h.55v.55h-.55zM233.52 201.71h.55v.55h-.55zM229.05 198.49h.55v.55h-.55zM228 203.13h.55v.55h-.55zM231.32 199.79h.55v.55h-.55zM222.21 196.22h.55v.55h-.55zM231.88 204.2h.55v.55h-.55zM232.19 196.72h.55v.55h-.55zM228.76 201.69h.55v.55h-.55zM224.63 202.08h.55v.55h-.55zM228.83 198.4h.55v.55h-.55zM222.74 203.53h.55v.55h-.55zM232.09 198.23h.55v.55h-.55zM224.07 203.78h.55v.55h-.55zM233.48 200.05h.55v.55h-.55zM239.31 200.1h.55v.55h-.55zM223.83 204.4h.55v.55h-.55zM228.9 202.08h.55v.55h-.55zM230.22 197.88h.55v.55h-.55zM223.06 200.39h.55v.55h-.55zM238.21 197.87h.55v.55h-.55zM237.94 201.69h.55v.55h-.55zM223.5 201.83h.55v.55h-.55zM233.31 198.2h.55v.55h-.55zM217.56 202.11h.55v.55h-.55zM223.52 202.37h.55v.55h-.55zM218.83 200.56h.55v.55h-.55zM225.27 196.39h.55v.55h-.55zM228.59 201.53h.55v.55h-.55zM226.75 197.32h.55v.55h-.55zM231.24 195.55h.55v.55h-.55zM233.12 202.53h.55v.55h-.55zM239.79 203.75h.55v.55h-.55zM232.07 201.82h.55v.55h-.55zM230.16 196.88h.55v.55h-.55zM238.53 202.64h.55v.55h-.55zM228.33 197.43h.55v.55h-.55zM238.66 202.65h.55v.55h-.55zM223.09 203.09h.55v.55h-.55zM241.05 200.93h.55v.55h-.55zM232.33 199.71h.55v.55h-.55zM226.33 204.34h.55v.55h-.55zM247.95 201.36h.55v.55h-.55zM229.28 203.47h.55v.55h-.55zM228.22 203.27h.55v.55h-.55zM234.83 197.84h.55v.55h-.55zM223.75 200.77h.55v.55h-.55zM234.85 201.86h.55v.55h-.55zM237.23 196.72h.55v.55h-.55zM232.87 199.07h.55v.55h-.55zM230.58 202h.55v.55h-.55zM224.35 200.29h.55v.55h-.55zM223.22 201.83h.55v.55h-.55zM225.05 199.47h.55v.55h-.55zM231.27 198.97h.55v.55h-.55zM236.69 199.02h.55v.55h-.55zM234.94 201.88h.55v.55h-.55zM223.98 200.32h.55v.55h-.55zM225.13 199.88h.55v.55h-.55zM228.42 206.64h.55v.55h-.55zM227.56 205.87h.55v.55h-.55zM232.6 196.95h.55v.55h-.55zM216.54 203.1h.55v.55h-.55zM218.42 203.23h.55v.55h-.55zM235.98 202.21h.55v.55h-.55zM228.78 200.22h.55v.55h-.55zM231.51 200.06h.55v.55h-.55zM226.89 199.85h.55v.55h-.55zM236.8 199.08h.55v.55h-.55zM232.21 197.43h.55v.55h-.55zM225.86 196.74h.55v.55h-.55zM228.85 203.12h.55v.55h-.55zM231.77 199.47h.55v.55h-.55zM233.55 199.92h.55v.55h-.55zM232.16 201.85h.55v.55h-.55zM233.15 193.33h.55v.55h-.55zM222.43 203.4h.55v.55h-.55zM229.38 207.95h.55v.55h-.55zM228.64 199.29h.55v.55h-.55zM238.67 202.72h.55v.55h-.55zM241.02 202.58h.55v.55h-.55zM228.82 203.24h.55v.55h-.55zM225.43 199.62h.55v.55h-.55zM226.78 200.31h.55v.55h-.55zM234.52 199.51h.55v.55h-.55zM231.87 199.46h.55v.55h-.55zM235.13 192.47h.55v.55h-.55zM228.79 201.52h.55v.55h-.55zM223.74 204.14h.55v.55h-.55zM231.26 204.96h.55v.55h-.55zM235.58 202.98h.55v.55h-.55zM229.13 197.64h.55v.55h-.55zM228.72 199.58h.55v.55h-.55zM231.45 199.56h.55v.55h-.55zM247.72 196.06h.55v.55h-.55zM236.81 199.55h.55v.55h-.55zM228.59 203.86h.55v.55h-.55zM230.02 197.25h.55v.55h-.55zM232.4 200.4h.55v.55h-.55zM218.07 201.61h.55v.55h-.55zM223.88 198.7h.55v.55h-.55zM232.8 201.93h.55v.55h-.55zM228.32 207.71h.55v.55h-.55zM232.43 199.1h.55v.55h-.55zM231.37 200.63h.55v.55h-.55zM217.23 196.13h.55v.55h-.55zM221.95 207.38h.55v.55h-.55zM228.93 200.15h.55v.55h-.55zM226.73 204.03h.55v.55h-.55zM230.16 206.27h.55v.55h-.55zM234.57 206.08h.55v.55h-.55zM229.32 202.16h.55v.55h-.55zM227.49 200.48h.55v.55h-.55zM219.98 199.21h.55v.55h-.55zM224.49 198.99h.55v.55h-.55zM237.04 201.81h.55v.55h-.55zM237.09 203.65h.55v.55h-.55zM235.32 204.1h.55v.55h-.55zM226.5 203.48h.55v.55h-.55zM228.14 199.36h.55v.55h-.55zM236.91 207.68h.55v.55h-.55zM224.34 206.36h.55v.55h-.55zM234.81 198.39h.55v.55h-.55zM231.58 202.15h.55v.55h-.55zM232.17 199.9h.55v.55h-.55zM222.57 201.1h.55v.55h-.55zM234.98 203.42h.55v.55h-.55zM233.82 204.4h.55v.55h-.55zM224.27 200.87h.55v.55h-.55zM231.97 204.08h.55v.55h-.55zM230.9 202.6h.55v.55h-.55zM230.77 207.47h.55v.55h-.55zM217.38 200.92h.55v.55h-.55zM244.31 201.73h.55v.55h-.55zM233.77 180.45h.55v.55h-.55zM234.54 177.71h.55v.55h-.55zM237.73 185.78h.55v.55h-.55zM238.19 182.25h.55v.55h-.55zM239.26 180.68h.55v.55h-.55zM235.65 179.67h.55v.55h-.55zM237.95 179.07h.55v.55h-.55zM236.01 178.79h.55v.55h-.55zM234.41 176.55h.55v.55h-.55zM237.13 178.78h.55v.55h-.55zM237.37 184.73h.55v.55h-.55zM237.88 179.89h.55v.55h-.55zM235.04 176.37h.55v.55h-.55zM238.02 177.06h.55v.55h-.55zM238.13 176.38h.55v.55h-.55zM237.56 179.75h.55v.55h-.55zM239.22 178.68h.55v.55h-.55zM236.58 180.83h.55v.55h-.55zM237.41 185.69h.55v.55h-.55zM236.8 178.19h.55v.55h-.55zM236.69 181.6h.55v.55h-.55zM237.75 182.34h.55v.55h-.55zM234.64 188.34h.55v.55h-.55zM240.84 179.89h.55v.55h-.55zM234.97 180.52h.55v.55h-.55zM238.1 172.48h.55v.55h-.55zM237.33 175.02h.55v.55h-.55zM238.18 184.65h.55v.55h-.55zM239.29 174.93h.55v.55h-.55zM239.96 183.05h.55v.55h-.55zM236.61 181.69h.55v.55h-.55zM240.22 178.88h.55v.55h-.55zM237.27 178.12h.55v.55h-.55zM239.53 172.75h.55v.55h-.55zM240.03 176.74h.55v.55h-.55zM239.08 174.53h.55v.55h-.55zM235.5 177.99h.55v.55h-.55zM238.89 174.54h.55v.55h-.55zM238.46 177.86h.55v.55h-.55zM239.69 178.95h.55v.55h-.55zM238.24 179.42h.55v.55h-.55zM240.75 178.79h.55v.55h-.55zM237.25 186.68h.55v.55h-.55zM237.45 182.31h.55v.55h-.55zM235.88 180.67h.55v.55h-.55zM215.54 203.35h.55v.55h-.55zM219.44 197.94h.55v.55h-.55zM217.59 206.84h.55v.55h-.55zM222.03 197.89h.55v.55h-.55zM225.36 200.66h.55v.55h-.55zM220.11 203.83h.55v.55h-.55zM218.26 197.55h.55v.55h-.55zM219.21 206.98h.55v.55h-.55zM223.29 197.68h.55v.55h-.55zM223.9 203.11h.55v.55h-.55zM222.2 203.17h.55v.55h-.55zM221.99 199.63h.55v.55h-.55zM218.81 200.63h.55v.55h-.55zM220.11 205.09h.55v.55h-.55zM218.07 208.37h.55v.55h-.55zM219.48 201.02h.55v.55h-.55zM222.69 204.46h.55v.55h-.55zM220.18 199.4h.55v.55h-.55zM218.59 197.62h.55v.55h-.55zM223.75 206.65h.55v.55h-.55zM225.49 204.68h.55v.55h-.55zM221.8 205.55h.55v.55h-.55zM223.29 202.13h.55v.55h-.55zM221.85 210.26h.55v.55h-.55zM216.92 198.27h.55v.55h-.55zM218.68 205.54h.55v.55h-.55zM223.86 201.86h.55v.55h-.55zM222.62 202.84h.55v.55h-.55zM221.72 201.18h.55v.55h-.55zM220.93 202.98h.55v.55h-.55zM223.72 210.52h.55v.55h-.55zM216.63 204.79h.55v.55h-.55zM220.99 206.26h.55v.55h-.55zM223.55 205.63h.55v.55h-.55zM222.95 199.8h.55v.55h-.55zM216.9 208.63h.55v.55h-.55zM223.91 199.79h.55v.55h-.55zM224.11 205.25h.55v.55h-.55zM215.09 206.03h.55v.55h-.55zM218.62 206.93h.55v.55h-.55z" fill="#3a4cff" opacity="0.8"/>
<g filter="url(#bl)"><g fill="#2a3cff" opacity="0.85" filter="url(#gr)"><ellipse cx="221" cy="202" rx="4.48" ry="4.74"/><ellipse cx="223" cy="201.6" rx="2.87" ry="2.49"/><ellipse cx="224.45" cy="201.4" rx="2.83" ry="2.45"/><ellipse cx="225.9" cy="201.2" rx="2.79" ry="2.42"/><ellipse cx="227.35" cy="201" rx="2.87" ry="2.49"/><ellipse cx="228.8" cy="200.8" rx="2.88" ry="2.49"/><ellipse cx="230.25" cy="200.6" rx="3" ry="2.6"/><ellipse cx="231.7" cy="200.4" rx="2.95" ry="2.56"/><ellipse cx="233.15" cy="200.2" rx="3.06" ry="2.65"/><ellipse cx="234.6" cy="200" rx="2.89" ry="2.5"/><ellipse cx="236.05" cy="199.8" rx="3.05" ry="2.65"/><ellipse cx="237.5" cy="199.6" rx="2.96" ry="2.57"/><ellipse cx="239.6" cy="199.3" rx="4.47" ry="3.77"/><ellipse cx="237.3" cy="179" rx="1.18" ry="1.88"/></g><g fill="#1e9bff"><ellipse cx="221" cy="202" rx="3.75" ry="3.97"/><ellipse cx="223" cy="201.6" rx="1.9" ry="1.65"/><ellipse cx="224.45" cy="201.4" rx="1.83" ry="1.59"/><ellipse cx="225.9" cy="201.2" rx="1.77" ry="1.53"/><ellipse cx="227.35" cy="201" rx="1.9" ry="1.65"/><ellipse cx="228.8" cy="200.8" rx="1.91" ry="1.65"/><ellipse cx="230.25" cy="200.6" rx="2.09" ry="1.81"/><ellipse cx="231.7" cy="200.4" rx="2.02" ry="1.75"/><ellipse cx="233.15" cy="200.2" rx="2.17" ry="1.88"/><ellipse cx="234.6" cy="200" rx="1.92" ry="1.67"/><ellipse cx="236.05" cy="199.8" rx="2.17" ry="1.88"/><ellipse cx="237.5" cy="199.6" rx="2.03" ry="1.76"/><ellipse cx="239.6" cy="199.3" rx="3.55" ry="2.99"/></g><g fill="#22d6d0"><ellipse cx="221" cy="202" rx="3.11" ry="3.29"/><ellipse cx="223" cy="201.6" rx="0.44" ry="0.38"/><ellipse cx="227.35" cy="201" rx="0.44" ry="0.38"/><ellipse cx="228.8" cy="200.8" rx="0.45" ry="0.39"/><ellipse cx="230.25" cy="200.6" rx="0.98" ry="0.85"/><ellipse cx="231.7" cy="200.4" rx="0.81" ry="0.7"/><ellipse cx="233.15" cy="200.2" rx="1.14" ry="0.98"/><ellipse cx="234.6" cy="200" rx="0.52" ry="0.45"/><ellipse cx="236.05" cy="199.8" rx="1.12" ry="0.97"/><ellipse cx="237.5" cy="199.6" rx="0.84" ry="0.73"/><ellipse cx="239.6" cy="199.3" rx="2.66" ry="2.24"/></g><g fill="#3ad23a"><ellipse cx="221" cy="202" rx="2.59" ry="2.75"/><ellipse cx="239.6" cy="199.3" rx="1.84" ry="1.55"/></g><g fill="#e6e21e"><ellipse cx="221" cy="202" rx="2.15" ry="2.27"/><ellipse cx="239.6" cy="199.3" rx="0.87" ry="0.73"/></g><g fill="#e8281e"><ellipse cx="221" cy="202" rx="1.74" ry="1.84"/></g></g>
<path d="M231 174.4 L243.5 174.1 L243.5 186.9 L231 189.9 Z" fill="none" stroke="#333" stroke-width="0.6"/>
<text x="203.4" y="218.29" font-size="5.9" fill="#222">0 h: 3.12%</text>
<rect x="271.9" y="158.3" width="62.7" height="62.8" fill="none" stroke="#a0a0a0" stroke-width="0.65"/>
<path d="M272.2 158.3h-1.8M272.2 167.4h-0.9M272.2 165.06h-0.9M272.2 163.5h-0.9M272.2 162.2h-0.9M272.2 161.16h-0.9M272.2 160.25h-0.9M272.2 159.6h-0.9M272.2 158.95h-0.9M272.2 171.4h-1.8M272.2 180.5h-0.9M272.2 178.16h-0.9M272.2 176.6h-0.9M272.2 175.3h-0.9M272.2 174.26h-0.9M272.2 173.35h-0.9M272.2 172.7h-0.9M272.2 172.05h-0.9M272.2 183.7h-1.8M272.2 192.8h-0.9M272.2 190.46h-0.9M272.2 188.9h-0.9M272.2 187.6h-0.9M272.2 186.56h-0.9M272.2 185.65h-0.9M272.2 185h-0.9M272.2 184.35h-0.9M272.2 196.2h-1.8M272.2 205.3h-0.9M272.2 202.96h-0.9M272.2 201.4h-0.9M272.2 200.1h-0.9M272.2 199.06h-0.9M272.2 198.15h-0.9M272.2 197.5h-0.9M272.2 196.85h-0.9M272.2 209.1h-1.8" stroke="#222" stroke-width="0.4" fill="none"/>
<rect x="270.7" y="216.3" width="1.2" height="1.8" fill="#111"/>
<path d="M272.5 220.8v1.7M275.59 220.8v0.9M278.68 220.8v0.9M281.76 220.8v0.9M284.85 220.8v1.7M287.94 220.8v0.9M291.03 220.8v0.9M294.11 220.8v0.9M297.2 220.8v1.7M300.29 220.8v0.9M303.38 220.8v0.9M306.46 220.8v0.9M309.55 220.8v1.7M312.64 220.8v0.9M315.73 220.8v0.9M318.81 220.8v0.9M321.9 220.8v1.7M324.99 220.8v0.9M328.07 220.8v0.9M331.16 220.8v0.9M334.25 220.8v1.7" stroke="#222" stroke-width="0.4" fill="none"/>
<g font-size="2.7" fill="#666"><text x="272.5" y="226.1" text-anchor="middle">0</text><text x="284.85" y="226.1" text-anchor="middle">200K</text><text x="297.2" y="226.1" text-anchor="middle">400K</text><text x="309.55" y="226.1" text-anchor="middle">600K</text><text x="321.9" y="226.1" text-anchor="middle">800K</text></g>
<g font-size="2.7" fill="#666"><text x="265.7" y="159.5">10<tspan dy="-1" font-size="2">6</tspan></text><text x="265.7" y="172.6">10<tspan dy="-1" font-size="2">5</tspan></text><text x="265.7" y="184.9">10<tspan dy="-1" font-size="2">4</tspan></text><text x="265.7" y="197.4">10<tspan dy="-1" font-size="2">3</tspan></text><text x="265.7" y="210.3">10<tspan dy="-1" font-size="2">2</tspan></text><text x="269.9" y="218.1" text-anchor="end">0</text></g>
<path d="M294.37 199.85h.55v.55h-.55zM301.09 194.68h.55v.55h-.55zM299.57 196.05h.55v.55h-.55zM306.63 201.58h.55v.55h-.55zM311.48 206.63h.55v.55h-.55zM303.82 199.94h.55v.55h-.55zM293.73 198.94h.55v.55h-.55zM307.21 201.87h.55v.55h-.55zM300.85 196.7h.55v.55h-.55zM298.88 205.99h.55v.55h-.55zM298.92 204.64h.55v.55h-.55zM285.21 204.96h.55v.55h-.55zM294.02 196.64h.55v.55h-.55zM298.17 198.37h.55v.55h-.55zM310.95 199.91h.55v.55h-.55zM299.1 198.75h.55v.55h-.55zM305.47 204.34h.55v.55h-.55zM306.3 196.26h.55v.55h-.55zM298.95 202.35h.55v.55h-.55zM287.75 200.38h.55v.55h-.55zM306.58 205.18h.55v.55h-.55zM303.69 203.28h.55v.55h-.55zM306.16 201.83h.55v.55h-.55zM288.41 206.25h.55v.55h-.55zM305.07 200.54h.55v.55h-.55zM295.31 207.7h.55v.55h-.55zM302.86 203.5h.55v.55h-.55zM298.12 201.54h.55v.55h-.55zM300.58 204h.55v.55h-.55zM288.41 206.09h.55v.55h-.55zM300.54 203.02h.55v.55h-.55zM306.97 199.22h.55v.55h-.55zM305.82 197.35h.55v.55h-.55zM302.01 198.43h.55v.55h-.55zM307.31 205.12h.55v.55h-.55zM292.83 201.71h.55v.55h-.55zM295.8 196.6h.55v.55h-.55zM300.02 203.81h.55v.55h-.55zM307.93 199.17h.55v.55h-.55zM298.81 205.11h.55v.55h-.55zM300.32 206.14h.55v.55h-.55zM312.76 202.44h.55v.55h-.55zM295.45 199.86h.55v.55h-.55zM305.75 200.13h.55v.55h-.55zM301.1 202.14h.55v.55h-.55zM290.62 199.49h.55v.55h-.55zM298.07 198.22h.55v.55h-.55zM302.12 199.64h.55v.55h-.55zM297.72 205.04h.55v.55h-.55zM310.02 200.13h.55v.55h-.55zM297 196.16h.55v.55h-.55zM288.83 205.38h.55v.55h-.55zM300.72 198.26h.55v.55h-.55zM291.81 204.39h.55v.55h-.55zM298.56 202.56h.55v.55h-.55zM306.54 198.33h.55v.55h-.55zM291.41 200.41h.55v.55h-.55zM303.84 200.07h.55v.55h-.55zM299.73 201.94h.55v.55h-.55zM294.44 202.84h.55v.55h-.55zM306.77 197.43h.55v.55h-.55zM295.17 199.57h.55v.55h-.55zM296.35 199.93h.55v.55h-.55zM307.43 196.62h.55v.55h-.55zM302.96 199.54h.55v.55h-.55zM295.85 196.57h.55v.55h-.55zM287.1 200.98h.55v.55h-.55zM309.62 198.06h.55v.55h-.55zM305.06 197.08h.55v.55h-.55zM303.49 199.9h.55v.55h-.55zM298.12 196.51h.55v.55h-.55zM297.03 199.44h.55v.55h-.55zM309.06 202.67h.55v.55h-.55zM303.33 198.86h.55v.55h-.55zM302.06 203.08h.55v.55h-.55zM309.11 203.5h.55v.55h-.55zM312.55 200.15h.55v.55h-.55zM294.59 204.59h.55v.55h-.55zM312.16 203.51h.55v.55h-.55zM300.75 201.22h.55v.55h-.55zM298.56 199.81h.55v.55h-.55zM300.64 202.03h.55v.55h-.55zM293.21 202.28h.55v.55h-.55zM301.65 200.2h.55v.55h-.55zM302.47 199.72h.55v.55h-.55zM302.46 205.17h.55v.55h-.55zM297.87 203.27h.55v.55h-.55zM296.86 200.12h.55v.55h-.55zM302.2 199.02h.55v.55h-.55zM307.3 196.38h.55v.55h-.55zM299.43 200.83h.55v.55h-.55zM301.27 200.29h.55v.55h-.55zM294.18 200.91h.55v.55h-.55zM309.46 202.63h.55v.55h-.55zM299.63 197.07h.55v.55h-.55zM294.7 203.11h.55v.55h-.55zM297.05 199.86h.55v.55h-.55zM315.45 193.68h.55v.55h-.55zM306.53 193.79h.55v.55h-.55zM291.89 208.71h.55v.55h-.55zM307.68 202.48h.55v.55h-.55zM305.77 203.46h.55v.55h-.55zM296.81 196.71h.55v.55h-.55zM295.3 201.77h.55v.55h-.55zM303.43 203.83h.55v.55h-.55zM300.13 202.93h.55v.55h-.55zM300.31 197.4h.55v.55h-.55zM297 201.75h.55v.55h-.55zM299.77 199.1h.55v.55h-.55zM300.18 204.83h.55v.55h-.55zM295.73 193.31h.55v.55h-.55zM300.77 193.7h.55v.55h-.55zM310.12 198.68h.55v.55h-.55zM300.55 199.94h.55v.55h-.55zM301.29 201.47h.55v.55h-.55zM307.81 197.37h.55v.55h-.55zM297.52 199.29h.55v.55h-.55zM298.61 202.41h.55v.55h-.55zM287.47 194.16h.55v.55h-.55zM300.33 201.85h.55v.55h-.55zM303.76 203.51h.55v.55h-.55zM310.46 197.79h.55v.55h-.55zM298.1 201.39h.55v.55h-.55zM303.94 202.08h.55v.55h-.55zM302.26 197.66h.55v.55h-.55zM315.3 200.61h.55v.55h-.55zM303.05 197.72h.55v.55h-.55zM302.49 199.59h.55v.55h-.55zM307.49 203.44h.55v.55h-.55zM296.55 200.9h.55v.55h-.55zM300.98 201.62h.55v.55h-.55zM309.6 198.44h.55v.55h-.55zM318.18 198.16h.55v.55h-.55zM291.27 202.89h.55v.55h-.55zM292.13 204.65h.55v.55h-.55zM302.89 199.65h.55v.55h-.55zM305.5 201.17h.55v.55h-.55zM295.55 199.5h.55v.55h-.55zM313.22 201.32h.55v.55h-.55zM302.63 197.74h.55v.55h-.55zM314.13 202.69h.55v.55h-.55zM298.56 200.75h.55v.55h-.55zM296.95 204.76h.55v.55h-.55zM306.62 198.72h.55v.55h-.55zM298.18 199.44h.55v.55h-.55zM301.58 207.52h.55v.55h-.55zM298.75 201.95h.55v.55h-.55zM298.16 200.15h.55v.55h-.55zM303.22 204.15h.55v.55h-.55zM293.06 198.82h.55v.55h-.55zM299.13 197.89h.55v.55h-.55zM310.51 202.98h.55v.55h-.55zM307.92 202.12h.55v.55h-.55zM293.13 203.63h.55v.55h-.55zM299.91 198.84h.55v.55h-.55zM295.11 197.28h.55v.55h-.55zM297.46 201.29h.55v.55h-.55zM308.39 198.81h.55v.55h-.55zM305.43 201.85h.55v.55h-.55zM305.67 200.82h.55v.55h-.55zM292.07 204.31h.55v.55h-.55zM305.12 197.2h.55v.55h-.55zM300.9 200.16h.55v.55h-.55zM315.77 205.56h.55v.55h-.55zM301.59 200.21h.55v.55h-.55zM305.6 201.67h.55v.55h-.55zM305.15 200.11h.55v.55h-.55zM293.93 194.89h.55v.55h-.55zM291.61 195.85h.55v.55h-.55zM300.69 202.73h.55v.55h-.55zM311.86 201.58h.55v.55h-.55zM314.89 205.9h.55v.55h-.55zM299.96 199.13h.55v.55h-.55zM302.36 199.33h.55v.55h-.55zM297.94 200.89h.55v.55h-.55zM304.14 194.87h.55v.55h-.55zM301.38 200.9h.55v.55h-.55zM305.93 197.93h.55v.55h-.55zM304.33 197.81h.55v.55h-.55zM294.63 198.24h.55v.55h-.55zM301.8 199.85h.55v.55h-.55zM308.69 202.26h.55v.55h-.55zM299.34 203.92h.55v.55h-.55zM311.73 201.24h.55v.55h-.55zM313.09 201.85h.55v.55h-.55zM303.71 197.92h.55v.55h-.55zM307.78 204.02h.55v.55h-.55zM302.83 204.06h.55v.55h-.55zM314.69 206.25h.55v.55h-.55zM295.19 200.2h.55v.55h-.55zM309.74 203.7h.55v.55h-.55zM308.4 196.28h.55v.55h-.55zM306 202.71h.55v.55h-.55zM297.42 205.81h.55v.55h-.55zM306.32 204.28h.55v.55h-.55zM312.02 200.31h.55v.55h-.55zM303.56 201.05h.55v.55h-.55zM308.54 204.02h.55v.55h-.55zM294.59 198.89h.55v.55h-.55zM294.61 201.84h.55v.55h-.55zM293.8 198.21h.55v.55h-.55zM310.14 198.56h.55v.55h-.55zM305.14 194.65h.55v.55h-.55zM306.38 196.93h.55v.55h-.55zM310.64 201.87h.55v.55h-.55zM305.06 198.42h.55v.55h-.55zM303.95 199.69h.55v.55h-.55zM307.57 199.86h.55v.55h-.55zM299.66 198.8h.55v.55h-.55zM299.12 203.64h.55v.55h-.55zM299.69 202.19h.55v.55h-.55zM283.88 203.96h.55v.55h-.55zM292.45 195.27h.55v.55h-.55zM301.96 195.3h.55v.55h-.55zM311.86 200.82h.55v.55h-.55zM300.25 203.25h.55v.55h-.55zM299.86 201.32h.55v.55h-.55zM302.63 207.21h.55v.55h-.55zM306.1 199.72h.55v.55h-.55zM302.44 195.86h.55v.55h-.55zM309.9 197.59h.55v.55h-.55zM298 200.72h.55v.55h-.55zM303.57 198.68h.55v.55h-.55zM296.66 198.95h.55v.55h-.55zM284.58 199.19h.55v.55h-.55zM305.24 204.13h.55v.55h-.55zM296.25 197.98h.55v.55h-.55zM307.15 199.83h.55v.55h-.55zM309.52 198.63h.55v.55h-.55zM303.76 200.74h.55v.55h-.55zM302.25 203.4h.55v.55h-.55zM301.9 200.72h.55v.55h-.55zM300.34 205.75h.55v.55h-.55zM305.04 200.88h.55v.55h-.55zM291.84 202.74h.55v.55h-.55zM297.08 196.37h.55v.55h-.55zM301.1 198.73h.55v.55h-.55zM300.93 201.71h.55v.55h-.55zM299.39 199.08h.55v.55h-.55zM300 208.73h.55v.55h-.55zM295.6 197.86h.55v.55h-.55zM296.12 197.63h.55v.55h-.55zM299.12 198.6h.55v.55h-.55zM303.23 201.44h.55v.55h-.55zM307.13 201.26h.55v.55h-.55zM302.99 202.14h.55v.55h-.55zM283.84 201.31h.55v.55h-.55zM299.01 198.78h.55v.55h-.55zM301.5 199.14h.55v.55h-.55zM305.47 202.5h.55v.55h-.55zM292.64 203.48h.55v.55h-.55zM291.13 202.64h.55v.55h-.55zM313.48 204.91h.55v.55h-.55zM294.27 205.74h.55v.55h-.55zM312.98 202.08h.55v.55h-.55zM302.9 206.83h.55v.55h-.55zM304.16 196.77h.55v.55h-.55zM300.84 201.41h.55v.55h-.55zM306.19 207.05h.55v.55h-.55zM306.21 204.69h.55v.55h-.55zM292.83 198.71h.55v.55h-.55zM302.53 202.51h.55v.55h-.55zM316.18 205.9h.55v.55h-.55zM293.99 203.92h.55v.55h-.55zM296.81 200.1h.55v.55h-.55zM302.03 201.21h.55v.55h-.55zM303.06 199.73h.55v.55h-.55zM307.01 200.34h.55v.55h-.55zM300.39 199.39h.55v.55h-.55zM302.17 198.78h.55v.55h-.55zM295.72 203.72h.55v.55h-.55zM304.75 202.46h.55v.55h-.55zM302.52 198.64h.55v.55h-.55zM292.9 204.48h.55v.55h-.55zM301.69 202.94h.55v.55h-.55zM302.24 203.9h.55v.55h-.55zM294.83 204.22h.55v.55h-.55zM288.08 202.07h.55v.55h-.55zM310.11 202.38h.55v.55h-.55zM303.46 199.12h.55v.55h-.55zM307.86 201.59h.55v.55h-.55zM306.39 203.22h.55v.55h-.55zM300.31 199.71h.55v.55h-.55zM306.49 203.31h.55v.55h-.55zM303.17 202.93h.55v.55h-.55zM297.97 201.55h.55v.55h-.55zM306.6 202.18h.55v.55h-.55zM286.02 202.36h.55v.55h-.55zM298.64 200.61h.55v.55h-.55zM302.85 205.88h.55v.55h-.55zM288.88 198.67h.55v.55h-.55zM313.49 199.62h.55v.55h-.55zM313.01 205.59h.55v.55h-.55zM296.25 200.65h.55v.55h-.55zM307.22 206.27h.55v.55h-.55zM301.63 202.21h.55v.55h-.55zM299.58 207.78h.55v.55h-.55zM290.78 202.18h.55v.55h-.55zM307.37 202.49h.55v.55h-.55zM299.18 202.85h.55v.55h-.55zM298.05 200.77h.55v.55h-.55zM313.62 211.87h.55v.55h-.55zM297.25 204.29h.55v.55h-.55zM309.71 204.4h.55v.55h-.55zM299.67 203.92h.55v.55h-.55zM291.32 205.22h.55v.55h-.55zM296.74 203.32h.55v.55h-.55zM292.82 204.03h.55v.55h-.55zM299.05 202.18h.55v.55h-.55zM305.79 194.89h.55v.55h-.55zM300.28 196.12h.55v.55h-.55zM292.27 210.38h.55v.55h-.55zM302.79 206.61h.55v.55h-.55zM290.45 199.03h.55v.55h-.55zM304.65 205.38h.55v.55h-.55zM307.29 204.96h.55v.55h-.55zM303.48 206.01h.55v.55h-.55zM300.95 198.71h.55v.55h-.55zM306.65 202.49h.55v.55h-.55zM300.59 203.42h.55v.55h-.55zM305.14 203.07h.55v.55h-.55zM293.89 204.69h.55v.55h-.55zM307.62 202.51h.55v.55h-.55zM309.35 203.71h.55v.55h-.55zM303.38 211.41h.55v.55h-.55zM308.04 219.06h.55v.55h-.55zM296.86 204.77h.55v.55h-.55zM306.13 203.15h.55v.55h-.55zM296.41 206.02h.55v.55h-.55zM300.37 203.25h.55v.55h-.55zM298.49 205.69h.55v.55h-.55zM301.05 203.94h.55v.55h-.55zM297.38 202.07h.55v.55h-.55zM293.61 205.46h.55v.55h-.55zM300.22 201.89h.55v.55h-.55zM301.18 206.02h.55v.55h-.55zM304.3 203.44h.55v.55h-.55zM305.75 207.69h.55v.55h-.55zM290.08 199.92h.55v.55h-.55zM305.11 205.02h.55v.55h-.55zM304.95 208.61h.55v.55h-.55zM295.12 205.21h.55v.55h-.55zM307.75 200.2h.55v.55h-.55zM310.61 196.28h.55v.55h-.55zM299.3 213.48h.55v.55h-.55zM299.37 204.71h.55v.55h-.55zM303.42 203.04h.55v.55h-.55zM305.93 204.36h.55v.55h-.55zM297.2 214.13h.55v.55h-.55zM305.3 200.96h.55v.55h-.55zM289.54 202.57h.55v.55h-.55zM304.06 198.55h.55v.55h-.55zM298.02 203.84h.55v.55h-.55zM301.35 209.86h.55v.55h-.55zM291.76 200.29h.55v.55h-.55zM313.36 197.91h.55v.55h-.55zM301.84 205.49h.55v.55h-.55zM307.24 200.88h.55v.55h-.55zM304.84 209.58h.55v.55h-.55zM300.84 206.94h.55v.55h-.55z" fill="#3a4cff" opacity="0.8"/>
<g filter="url(#bl)"><g fill="#2a3cff" opacity="0.85" filter="url(#gr)"><ellipse cx="291.6" cy="202.2" rx="3.14" ry="3.35"/><ellipse cx="293" cy="201.8" rx="3.02" ry="2.62"/><ellipse cx="294.55" cy="201.58" rx="2.94" ry="2.55"/><ellipse cx="296.1" cy="201.36" rx="2.99" ry="2.59"/><ellipse cx="297.65" cy="201.14" rx="3.03" ry="2.63"/><ellipse cx="299.2" cy="200.92" rx="3.09" ry="2.68"/><ellipse cx="300.75" cy="200.7" rx="2.98" ry="2.58"/><ellipse cx="302.3" cy="200.48" rx="2.94" ry="2.55"/><ellipse cx="303.85" cy="200.26" rx="3.11" ry="2.69"/><ellipse cx="305.4" cy="200.04" rx="2.83" ry="2.45"/><ellipse cx="306.95" cy="199.82" rx="3.07" ry="2.66"/><ellipse cx="308.5" cy="199.6" rx="3.03" ry="2.63"/><ellipse cx="310.3" cy="199.3" rx="4.76" ry="4.26"/></g><g fill="#1e9bff"><ellipse cx="291.6" cy="202.2" rx="2.29" ry="2.45"/><ellipse cx="293" cy="201.8" rx="2.12" ry="1.83"/><ellipse cx="294.55" cy="201.58" rx="2.01" ry="1.74"/><ellipse cx="296.1" cy="201.36" rx="2.07" ry="1.8"/><ellipse cx="297.65" cy="201.14" rx="2.13" ry="1.85"/><ellipse cx="299.2" cy="200.92" rx="2.22" ry="1.92"/><ellipse cx="300.75" cy="200.7" rx="2.06" ry="1.79"/><ellipse cx="302.3" cy="200.48" rx="2" ry="1.73"/><ellipse cx="303.85" cy="200.26" rx="2.24" ry="1.94"/><ellipse cx="305.4" cy="200.04" rx="1.84" ry="1.59"/><ellipse cx="306.95" cy="199.82" rx="2.19" ry="1.9"/><ellipse cx="308.5" cy="199.6" rx="2.14" ry="1.85"/><ellipse cx="310.3" cy="199.3" rx="3.9" ry="3.49"/></g><g fill="#22d6d0"><ellipse cx="291.6" cy="202.2" rx="1.35" ry="1.44"/><ellipse cx="293" cy="201.8" rx="1.03" ry="0.89"/><ellipse cx="294.55" cy="201.58" rx="0.77" ry="0.67"/><ellipse cx="296.1" cy="201.36" rx="0.93" ry="0.8"/><ellipse cx="297.65" cy="201.14" rx="1.06" ry="0.92"/><ellipse cx="299.2" cy="200.92" rx="1.22" ry="1.06"/><ellipse cx="300.75" cy="200.7" rx="0.9" ry="0.78"/><ellipse cx="302.3" cy="200.48" rx="0.75" ry="0.65"/><ellipse cx="303.85" cy="200.26" rx="1.27" ry="1.1"/><ellipse cx="306.95" cy="199.82" rx="1.18" ry="1.02"/><ellipse cx="308.5" cy="199.6" rx="1.07" ry="0.93"/><ellipse cx="310.3" cy="199.3" rx="3.11" ry="2.79"/></g><g fill="#3ad23a"><ellipse cx="310.3" cy="199.3" rx="2.45" ry="2.19"/></g><g fill="#e6e21e"><ellipse cx="310.3" cy="199.3" rx="1.84" ry="1.65"/></g><g fill="#e8281e"><ellipse cx="310.3" cy="199.3" rx="1.17" ry="1.05"/></g></g>
<path d="M302 174.4 L314.5 174.1 L314.5 186.9 L302 189.9 Z" fill="none" stroke="#333" stroke-width="0.6"/>
<text x="274.4" y="218.29" font-size="5.9" fill="#222">6 h: 0.08%</text>
<rect x="342.9" y="158.3" width="62.7" height="62.8" fill="none" stroke="#a0a0a0" stroke-width="0.65"/>
<path d="M343.2 158.3h-1.8M343.2 167.4h-0.9M343.2 165.06h-0.9M343.2 163.5h-0.9M343.2 162.2h-0.9M343.2 161.16h-0.9M343.2 160.25h-0.9M343.2 159.6h-0.9M343.2 158.95h-0.9M343.2 171.4h-1.8M343.2 180.5h-0.9M343.2 178.16h-0.9M343.2 176.6h-0.9M343.2 175.3h-0.9M343.2 174.26h-0.9M343.2 173.35h-0.9M343.2 172.7h-0.9M343.2 172.05h-0.9M343.2 183.7h-1.8M343.2 192.8h-0.9M343.2 190.46h-0.9M343.2 188.9h-0.9M343.2 187.6h-0.9M343.2 186.56h-0.9M343.2 185.65h-0.9M343.2 185h-0.9M343.2 184.35h-0.9M343.2 196.2h-1.8M343.2 205.3h-0.9M343.2 202.96h-0.9M343.2 201.4h-0.9M343.2 200.1h-0.9M343.2 199.06h-0.9M343.2 198.15h-0.9M343.2 197.5h-0.9M343.2 196.85h-0.9M343.2 209.1h-1.8" stroke="#222" stroke-width="0.4" fill="none"/>
<rect x="341.7" y="216.3" width="1.2" height="1.8" fill="#111"/>
<path d="M343.5 220.8v1.7M346.59 220.8v0.9M349.68 220.8v0.9M352.76 220.8v0.9M355.85 220.8v1.7M358.94 220.8v0.9M362.03 220.8v0.9M365.11 220.8v0.9M368.2 220.8v1.7M371.29 220.8v0.9M374.38 220.8v0.9M377.46 220.8v0.9M380.55 220.8v1.7M383.64 220.8v0.9M386.73 220.8v0.9M389.81 220.8v0.9M392.9 220.8v1.7M395.99 220.8v0.9M399.07 220.8v0.9M402.16 220.8v0.9M405.25 220.8v1.7" stroke="#222" stroke-width="0.4" fill="none"/>
<g font-size="2.7" fill="#666"><text x="343.5" y="226.1" text-anchor="middle">0</text><text x="355.85" y="226.1" text-anchor="middle">200K</text><text x="368.2" y="226.1" text-anchor="middle">400K</text><text x="380.55" y="226.1" text-anchor="middle">600K</text><text x="392.9" y="226.1" text-anchor="middle">800K</text></g>
<g font-size="2.7" fill="#666"><text x="336.7" y="159.5">10<tspan dy="-1" font-size="2">6</tspan></text><text x="336.7" y="172.6">10<tspan dy="-1" font-size="2">5</tspan></text><text x="336.7" y="184.9">10<tspan dy="-1" font-size="2">4</tspan></text><text x="336.7" y="197.4">10<tspan dy="-1" font-size="2">3</tspan></text><text x="336.7" y="210.3">10<tspan dy="-1" font-size="2">2</tspan></text><text x="340.9" y="218.1" text-anchor="end">0</text></g>
<path d="M368.53 202.13h.55v.55h-.55zM372.05 199.87h.55v.55h-.55zM372.58 197.99h.55v.55h-.55zM364.92 200.98h.55v.55h-.55zM373.23 200.26h.55v.55h-.55zM364.82 200.92h.55v.55h-.55zM370.98 197.99h.55v.55h-.55zM378.89 204.61h.55v.55h-.55zM373.89 199.22h.55v.55h-.55zM360.45 202.41h.55v.55h-.55zM374.5 202.28h.55v.55h-.55zM384.46 199.58h.55v.55h-.55zM373.98 203.42h.55v.55h-.55zM367.84 202.55h.55v.55h-.55zM373.3 199.56h.55v.55h-.55zM373.66 201.73h.55v.55h-.55zM372.85 200.98h.55v.55h-.55zM376.69 201.89h.55v.55h-.55zM371.06 200.85h.55v.55h-.55zM361.58 198.37h.55v.55h-.55zM368.43 199.72h.55v.55h-.55zM371.33 198.65h.55v.55h-.55zM375.85 202.34h.55v.55h-.55zM381.21 200.8h.55v.55h-.55zM375.81 201.97h.55v.55h-.55zM382.13 199.78h.55v.55h-.55zM377.04 198.28h.55v.55h-.55zM367.3 198.4h.55v.55h-.55zM376.55 200.25h.55v.55h-.55zM373.47 198.99h.55v.55h-.55zM372.63 203.84h.55v.55h-.55zM364.38 198.42h.55v.55h-.55zM378.19 198.8h.55v.55h-.55zM373.31 200.8h.55v.55h-.55zM364.37 199.87h.55v.55h-.55zM372.71 201.18h.55v.55h-.55zM376.39 200.53h.55v.55h-.55zM372.84 200.35h.55v.55h-.55zM373.54 201.9h.55v.55h-.55zM369.07 195.34h.55v.55h-.55zM375.69 200.61h.55v.55h-.55zM386.35 198.6h.55v.55h-.55zM375.96 201.81h.55v.55h-.55zM368.22 200.28h.55v.55h-.55zM367.55 201.52h.55v.55h-.55zM372.9 201.1h.55v.55h-.55zM375.83 201.04h.55v.55h-.55zM379.46 201.87h.55v.55h-.55zM371.59 199.17h.55v.55h-.55zM375.3 197.69h.55v.55h-.55zM369.51 202.26h.55v.55h-.55zM377.77 204.33h.55v.55h-.55zM371.34 200.28h.55v.55h-.55zM377.8 202.78h.55v.55h-.55zM366.44 202.39h.55v.55h-.55zM374.27 203.69h.55v.55h-.55zM373.79 199.74h.55v.55h-.55zM369.93 199.9h.55v.55h-.55zM370.4 197.36h.55v.55h-.55zM374.02 199.24h.55v.55h-.55zM379.76 201.97h.55v.55h-.55zM370.25 200.11h.55v.55h-.55zM375.56 202.73h.55v.55h-.55zM379.07 202.1h.55v.55h-.55zM373.24 201.89h.55v.55h-.55zM366.98 201.53h.55v.55h-.55zM372.78 200.05h.55v.55h-.55zM372.38 199.24h.55v.55h-.55zM371.01 202.99h.55v.55h-.55zM370.26 198.18h.55v.55h-.55zM376.04 199.8h.55v.55h-.55zM369.96 202.96h.55v.55h-.55zM372.78 201.55h.55v.55h-.55zM374.4 203.56h.55v.55h-.55zM377.06 197.97h.55v.55h-.55zM382.45 199.68h.55v.55h-.55zM371.25 201.96h.55v.55h-.55zM372.66 199.9h.55v.55h-.55zM371.16 200.01h.55v.55h-.55zM379.29 201.16h.55v.55h-.55zM380.41 203.89h.55v.55h-.55zM377.39 199.1h.55v.55h-.55zM373.9 201.36h.55v.55h-.55zM366.33 200.41h.55v.55h-.55zM367.32 202.67h.55v.55h-.55zM363.65 199.93h.55v.55h-.55zM374.65 200.92h.55v.55h-.55zM368.2 201.85h.55v.55h-.55zM372.87 203.17h.55v.55h-.55zM373.85 202.05h.55v.55h-.55zM364.41 200.91h.55v.55h-.55zM373.68 198.78h.55v.55h-.55zM361.09 201.85h.55v.55h-.55zM379.99 199.49h.55v.55h-.55zM377.79 201.72h.55v.55h-.55zM370.1 199.4h.55v.55h-.55zM388.08 201.68h.55v.55h-.55zM375.44 199.99h.55v.55h-.55zM365.53 201.03h.55v.55h-.55zM372.36 201.15h.55v.55h-.55zM373.04 197.41h.55v.55h-.55zM370.85 200.79h.55v.55h-.55zM371.08 200.99h.55v.55h-.55zM374.74 200.37h.55v.55h-.55zM370.78 203.49h.55v.55h-.55zM374.73 201.14h.55v.55h-.55zM375.97 200.96h.55v.55h-.55zM362.8 199.82h.55v.55h-.55zM374.65 201.47h.55v.55h-.55zM373.54 198.61h.55v.55h-.55zM379.56 201.75h.55v.55h-.55zM380.92 210.67h.55v.55h-.55zM382.51 202.08h.55v.55h-.55zM380.07 191.58h.55v.55h-.55zM383.76 197.44h.55v.55h-.55zM385.09 198.53h.55v.55h-.55zM379.56 204.34h.55v.55h-.55zM379.29 193.64h.55v.55h-.55zM382.08 201.91h.55v.55h-.55zM382.11 199.51h.55v.55h-.55zM381.74 196.65h.55v.55h-.55zM380.54 203.07h.55v.55h-.55zM370.01 202.35h.55v.55h-.55zM384.59 206.31h.55v.55h-.55zM379.57 202.22h.55v.55h-.55zM380.39 196.34h.55v.55h-.55zM381.89 203.85h.55v.55h-.55zM383.54 192.82h.55v.55h-.55zM380.05 199.74h.55v.55h-.55zM380.9 194.56h.55v.55h-.55zM387.46 194.18h.55v.55h-.55zM377.33 206.88h.55v.55h-.55zM381.65 197.14h.55v.55h-.55zM378.24 202.89h.55v.55h-.55zM378.44 203.11h.55v.55h-.55zM382.43 201.83h.55v.55h-.55zM383.53 197.79h.55v.55h-.55zM375.69 193.7h.55v.55h-.55zM380.59 197.01h.55v.55h-.55zM386.03 196.5h.55v.55h-.55zM386.14 199.62h.55v.55h-.55zM380.69 192.68h.55v.55h-.55zM380.4 205.84h.55v.55h-.55zM375.6 205.22h.55v.55h-.55zM383.41 203.71h.55v.55h-.55zM377.15 206.35h.55v.55h-.55zM376.7 206.37h.55v.55h-.55zM384.65 193.29h.55v.55h-.55zM385.8 207.24h.55v.55h-.55zM380.31 193.99h.55v.55h-.55zM379.87 198.97h.55v.55h-.55zM383.52 196.33h.55v.55h-.55zM377.44 201h.55v.55h-.55zM381.75 193.16h.55v.55h-.55zM382.16 197.97h.55v.55h-.55zM379.07 202.55h.55v.55h-.55zM383.02 202.1h.55v.55h-.55zM386.66 201.16h.55v.55h-.55zM380.69 201.52h.55v.55h-.55zM385.74 202.71h.55v.55h-.55zM381.74 204.22h.55v.55h-.55zM375.36 204.17h.55v.55h-.55zM383.39 199.02h.55v.55h-.55zM375.49 193.73h.55v.55h-.55zM373.12 201.58h.55v.55h-.55zM380.19 196.56h.55v.55h-.55zM383.71 196.28h.55v.55h-.55zM384.16 203.29h.55v.55h-.55zM382.52 195.75h.55v.55h-.55zM376.89 200.42h.55v.55h-.55zM384.29 195.96h.55v.55h-.55zM381.37 203.66h.55v.55h-.55zM374.73 207.65h.55v.55h-.55zM379.9 198.05h.55v.55h-.55zM381.3 199.45h.55v.55h-.55zM377.37 197.7h.55v.55h-.55zM379.75 195.85h.55v.55h-.55zM384.07 202.67h.55v.55h-.55zM383.14 193.62h.55v.55h-.55zM378.96 202.22h.55v.55h-.55zM380.29 192.81h.55v.55h-.55zM381.9 208.13h.55v.55h-.55zM384.23 199.8h.55v.55h-.55zM376.47 204.29h.55v.55h-.55zM382.62 198.85h.55v.55h-.55zM379.5 203.39h.55v.55h-.55zM380.25 197.44h.55v.55h-.55zM376.55 198.63h.55v.55h-.55zM379.55 198.06h.55v.55h-.55zM395.67 195.16h.55v.55h-.55zM374.72 197.33h.55v.55h-.55zM383.63 208.02h.55v.55h-.55zM374.9 197.86h.55v.55h-.55zM382.75 197.21h.55v.55h-.55zM382.62 198.75h.55v.55h-.55zM384.59 200.69h.55v.55h-.55zM386.55 194.89h.55v.55h-.55zM384.52 198.66h.55v.55h-.55zM384.59 197.89h.55v.55h-.55zM383.56 204.43h.55v.55h-.55zM381.71 196.03h.55v.55h-.55zM378.33 198.15h.55v.55h-.55zM379.91 204.12h.55v.55h-.55zM376.58 199.63h.55v.55h-.55zM380.81 200.23h.55v.55h-.55zM377.51 205.36h.55v.55h-.55zM380.47 197.06h.55v.55h-.55zM380.35 204.82h.55v.55h-.55zM382.65 204.85h.55v.55h-.55zM382.44 198.48h.55v.55h-.55zM375.7 196.73h.55v.55h-.55zM380.47 193.69h.55v.55h-.55zM379.82 196.91h.55v.55h-.55zM384.7 192.26h.55v.55h-.55zM388.45 203.12h.55v.55h-.55zM379.11 200.6h.55v.55h-.55zM386.16 203.03h.55v.55h-.55zM379.65 198.01h.55v.55h-.55zM375.66 201.42h.55v.55h-.55zM383.67 199.95h.55v.55h-.55zM380.77 197.02h.55v.55h-.55zM381.16 202.25h.55v.55h-.55zM376.4 202.97h.55v.55h-.55zM379.82 202.25h.55v.55h-.55zM380.79 201.65h.55v.55h-.55zM381.57 203.26h.55v.55h-.55zM378.27 199.93h.55v.55h-.55zM376.76 200.55h.55v.55h-.55zM384.48 199.22h.55v.55h-.55zM384.22 198.47h.55v.55h-.55zM380.65 184.44h.55v.55h-.55zM380.52 181.68h.55v.55h-.55zM382.76 182.42h.55v.55h-.55zM381.89 179.27h.55v.55h-.55zM378.29 182.92h.55v.55h-.55zM377.69 184.3h.55v.55h-.55zM378.72 181.26h.55v.55h-.55zM381.59 176.56h.55v.55h-.55zM383.98 180.27h.55v.55h-.55zM379.42 176.76h.55v.55h-.55zM376.31 174.26h.55v.55h-.55zM377.79 182.16h.55v.55h-.55zM378.87 184.25h.55v.55h-.55zM377.83 175.13h.55v.55h-.55zM380.87 179.39h.55v.55h-.55zM376.84 185.1h.55v.55h-.55zM380.45 175.48h.55v.55h-.55zM378.81 177.14h.55v.55h-.55zM382.31 178.5h.55v.55h-.55zM378.56 181.28h.55v.55h-.55zM383.21 184.96h.55v.55h-.55zM379.86 179.23h.55v.55h-.55zM378.58 183.58h.55v.55h-.55zM377.61 180.09h.55v.55h-.55zM381.31 178.01h.55v.55h-.55zM374.74 178.39h.55v.55h-.55zM378.09 176.94h.55v.55h-.55zM378.62 183.01h.55v.55h-.55zM376.71 176.11h.55v.55h-.55zM379.56 183.36h.55v.55h-.55zM378.11 182.15h.55v.55h-.55zM382.04 177.74h.55v.55h-.55zM379.38 183.1h.55v.55h-.55zM380.26 178.14h.55v.55h-.55zM379.53 179.32h.55v.55h-.55zM379.97 181.15h.55v.55h-.55zM380.12 178.15h.55v.55h-.55zM379.8 181.19h.55v.55h-.55zM379.39 185.67h.55v.55h-.55zM378.8 172.45h.55v.55h-.55zM364.95 200.96h.55v.55h-.55zM363.9 201.49h.55v.55h-.55zM364.64 200.79h.55v.55h-.55zM364.16 205.89h.55v.55h-.55zM364.21 200.08h.55v.55h-.55zM365.6 204.81h.55v.55h-.55zM363.44 198.63h.55v.55h-.55zM363.76 201.9h.55v.55h-.55zM364.03 202.44h.55v.55h-.55zM365.42 202.54h.55v.55h-.55zM362.97 201.11h.55v.55h-.55zM363.83 203.34h.55v.55h-.55zM361.9 199.63h.55v.55h-.55zM364.61 201.55h.55v.55h-.55zM364.78 201.65h.55v.55h-.55zM362.63 203.21h.55v.55h-.55zM363.78 208.74h.55v.55h-.55zM365.43 201.87h.55v.55h-.55zM363.77 203.4h.55v.55h-.55zM364.1 203.9h.55v.55h-.55zM363.36 201.13h.55v.55h-.55zM361.47 201.29h.55v.55h-.55zM364.77 202.56h.55v.55h-.55zM363.83 198.83h.55v.55h-.55zM360.84 203.55h.55v.55h-.55zM362.45 200.66h.55v.55h-.55zM360.93 205.64h.55v.55h-.55zM365.23 197.71h.55v.55h-.55zM362.73 201.48h.55v.55h-.55zM363.98 204.19h.55v.55h-.55z" fill="#3a4cff" opacity="0.8"/>
<g filter="url(#bl)"><g fill="#2a3cff" opacity="0.85" filter="url(#gr)"><ellipse cx="363.4" cy="201.6" rx="1.89" ry="3.41"/><ellipse cx="381.1" cy="199.3" rx="4.59" ry="5.62"/><ellipse cx="379.7" cy="179.4" rx="1.44" ry="2.72"/></g><g fill="#1e9bff"><ellipse cx="363.4" cy="201.6" rx="1.23" ry="2.22"/><ellipse cx="381.1" cy="199.3" rx="3.8" ry="4.64"/><ellipse cx="379.7" cy="179.4" rx="0.64" ry="1.21"/></g><g fill="#22d6d0"><ellipse cx="381.1" cy="199.3" rx="3.08" ry="3.77"/></g><g fill="#3ad23a"><ellipse cx="381.1" cy="199.3" rx="2.49" ry="3.04"/></g><g fill="#e6e21e"><ellipse cx="381.1" cy="199.3" rx="1.96" ry="2.39"/></g><g fill="#e8281e"><ellipse cx="381.1" cy="199.3" rx="1.43" ry="1.74"/></g></g>
<path d="M373 174.4 L385.5 174.1 L385.5 186.9 L373 189.9 Z" fill="none" stroke="#333" stroke-width="0.6"/>
<text x="345.4" y="218.29" font-size="5.9" fill="#222">9 h: 2.53%</text>
<rect x="414.9" y="158.3" width="62.7" height="62.8" fill="none" stroke="#a0a0a0" stroke-width="0.65"/>
<path d="M415.2 158.3h-1.8M415.2 167.4h-0.9M415.2 165.06h-0.9M415.2 163.5h-0.9M415.2 162.2h-0.9M415.2 161.16h-0.9M415.2 160.25h-0.9M415.2 159.6h-0.9M415.2 158.95h-0.9M415.2 171.4h-1.8M415.2 180.5h-0.9M415.2 178.16h-0.9M415.2 176.6h-0.9M415.2 175.3h-0.9M415.2 174.26h-0.9M415.2 173.35h-0.9M415.2 172.7h-0.9M415.2 172.05h-0.9M415.2 183.7h-1.8M415.2 192.8h-0.9M415.2 190.46h-0.9M415.2 188.9h-0.9M415.2 187.6h-0.9M415.2 186.56h-0.9M415.2 185.65h-0.9M415.2 185h-0.9M415.2 184.35h-0.9M415.2 196.2h-1.8M415.2 205.3h-0.9M415.2 202.96h-0.9M415.2 201.4h-0.9M415.2 200.1h-0.9M415.2 199.06h-0.9M415.2 198.15h-0.9M415.2 197.5h-0.9M415.2 196.85h-0.9M415.2 209.1h-1.8" stroke="#222" stroke-width="0.4" fill="none"/>
<rect x="413.7" y="216.3" width="1.2" height="1.8" fill="#111"/>
<path d="M415.5 220.8v1.7M418.59 220.8v0.9M421.68 220.8v0.9M424.76 220.8v0.9M427.85 220.8v1.7M430.94 220.8v0.9M434.03 220.8v0.9M437.11 220.8v0.9M440.2 220.8v1.7M443.29 220.8v0.9M446.38 220.8v0.9M449.46 220.8v0.9M452.55 220.8v1.7M455.64 220.8v0.9M458.73 220.8v0.9M461.81 220.8v0.9M464.9 220.8v1.7M467.99 220.8v0.9M471.07 220.8v0.9M474.16 220.8v0.9M477.25 220.8v1.7" stroke="#222" stroke-width="0.4" fill="none"/>
<g font-size="2.7" fill="#666"><text x="415.5" y="226.1" text-anchor="middle">0</text><text x="427.85" y="226.1" text-anchor="middle">200K</text><text x="440.2" y="226.1" text-anchor="middle">400K</text><text x="452.55" y="226.1" text-anchor="middle">600K</text><text x="464.9" y="226.1" text-anchor="middle">800K</text></g>
<g font-size="2.7" fill="#666"><text x="408.7" y="159.5">10<tspan dy="-1" font-size="2">6</tspan></text><text x="408.7" y="172.6">10<tspan dy="-1" font-size="2">5</tspan></text><text x="408.7" y="184.9">10<tspan dy="-1" font-size="2">4</tspan></text><text x="408.7" y="197.4">10<tspan dy="-1" font-size="2">3</tspan></text><text x="408.7" y="210.3">10<tspan dy="-1" font-size="2">2</tspan></text><text x="412.9" y="218.1" text-anchor="end">0</text></g>
<path d="M444.81 199.84h.55v.55h-.55zM448.1 197.01h.55v.55h-.55zM444.42 199.98h.55v.55h-.55zM446.69 198.22h.55v.55h-.55zM441.53 197.96h.55v.55h-.55zM444.24 198.17h.55v.55h-.55zM458.29 198.88h.55v.55h-.55zM451.86 198.93h.55v.55h-.55zM442.84 201.6h.55v.55h-.55zM443.59 203.87h.55v.55h-.55zM447.54 196.94h.55v.55h-.55zM452.29 195.03h.55v.55h-.55zM443.17 198.54h.55v.55h-.55zM445.2 198.6h.55v.55h-.55zM442.52 199.32h.55v.55h-.55zM448.99 198.37h.55v.55h-.55zM443.04 204.02h.55v.55h-.55zM456.01 202.07h.55v.55h-.55zM445.14 198.98h.55v.55h-.55zM445.5 197.66h.55v.55h-.55zM451.1 198.68h.55v.55h-.55zM433.51 201.85h.55v.55h-.55zM453.13 201.63h.55v.55h-.55zM448.53 200.87h.55v.55h-.55zM453.41 202.39h.55v.55h-.55zM436.73 201.04h.55v.55h-.55zM444.63 202.91h.55v.55h-.55zM443.52 199.34h.55v.55h-.55zM436.21 200.11h.55v.55h-.55zM446.77 202.56h.55v.55h-.55zM444.08 201.71h.55v.55h-.55zM456.54 197.92h.55v.55h-.55zM450.8 199.97h.55v.55h-.55zM436 198.57h.55v.55h-.55zM445.33 198.02h.55v.55h-.55zM448.65 198.62h.55v.55h-.55zM450.92 199.37h.55v.55h-.55zM451.72 202.03h.55v.55h-.55zM450.09 202.14h.55v.55h-.55zM460.48 201.77h.55v.55h-.55zM436.26 199.25h.55v.55h-.55zM450.32 201.88h.55v.55h-.55zM442.03 200.95h.55v.55h-.55zM445.57 199.57h.55v.55h-.55zM442.68 200.11h.55v.55h-.55zM451.92 196.94h.55v.55h-.55zM451 200.43h.55v.55h-.55zM436.41 200.55h.55v.55h-.55zM444.34 198.36h.55v.55h-.55zM448.21 199.53h.55v.55h-.55zM451.6 202.5h.55v.55h-.55zM447.57 200.79h.55v.55h-.55zM440.02 200h.55v.55h-.55zM451.54 203.56h.55v.55h-.55zM435.47 200.52h.55v.55h-.55zM444.99 203.97h.55v.55h-.55zM447.16 203.85h.55v.55h-.55zM433.89 196.88h.55v.55h-.55zM446.03 197.48h.55v.55h-.55zM434.43 199.27h.55v.55h-.55zM442.65 200.28h.55v.55h-.55zM453.53 198.32h.55v.55h-.55zM441.23 197.29h.55v.55h-.55zM445.69 202h.55v.55h-.55zM451.22 195.87h.55v.55h-.55zM447.88 199.51h.55v.55h-.55zM442.18 197.91h.55v.55h-.55zM442.24 200.61h.55v.55h-.55zM449.04 201.54h.55v.55h-.55zM440.66 200.06h.55v.55h-.55zM440.29 201.69h.55v.55h-.55zM445.55 197.61h.55v.55h-.55zM451.01 203.19h.55v.55h-.55zM435.6 203.37h.55v.55h-.55zM448 199.89h.55v.55h-.55zM432.52 197.68h.55v.55h-.55zM439.8 201.5h.55v.55h-.55zM444.48 200.4h.55v.55h-.55zM445.8 200.89h.55v.55h-.55zM443.35 202.48h.55v.55h-.55zM432.65 198.31h.55v.55h-.55zM442.94 198.43h.55v.55h-.55zM452.41 199.2h.55v.55h-.55zM434.44 199.04h.55v.55h-.55zM442.49 198.51h.55v.55h-.55zM441.32 199.07h.55v.55h-.55zM449.04 199.74h.55v.55h-.55zM446.98 199.89h.55v.55h-.55zM451.97 200.14h.55v.55h-.55zM446.8 202.06h.55v.55h-.55zM452.72 202.32h.55v.55h-.55zM440.93 197.61h.55v.55h-.55zM460.33 197.51h.55v.55h-.55zM441.21 197.44h.55v.55h-.55zM446.75 200.01h.55v.55h-.55zM432.02 202.11h.55v.55h-.55zM442.25 202.15h.55v.55h-.55zM450.69 200.1h.55v.55h-.55zM451.01 198.62h.55v.55h-.55zM445.4 199.74h.55v.55h-.55zM446.01 201.08h.55v.55h-.55zM446.26 199.28h.55v.55h-.55zM448.95 199.41h.55v.55h-.55zM449.84 198.52h.55v.55h-.55zM438.62 204.2h.55v.55h-.55zM437.96 201.56h.55v.55h-.55zM454.45 201.39h.55v.55h-.55zM447.64 199.9h.55v.55h-.55zM444.9 198.57h.55v.55h-.55zM448.13 201.37h.55v.55h-.55zM448.44 191.07h.55v.55h-.55zM464.11 199.02h.55v.55h-.55zM449.36 195.43h.55v.55h-.55zM455.98 204.96h.55v.55h-.55zM449.87 198.31h.55v.55h-.55zM455.17 197.7h.55v.55h-.55zM454.29 201.32h.55v.55h-.55zM455.76 203.8h.55v.55h-.55zM453.65 197.26h.55v.55h-.55zM448.43 199.41h.55v.55h-.55zM449.65 197.97h.55v.55h-.55zM452.41 199.31h.55v.55h-.55zM456.43 201h.55v.55h-.55zM453.49 206.2h.55v.55h-.55zM453.33 206.95h.55v.55h-.55zM453.08 201.26h.55v.55h-.55zM449.57 200.06h.55v.55h-.55zM449.95 205.35h.55v.55h-.55zM453.9 205.37h.55v.55h-.55zM454.95 195.72h.55v.55h-.55zM445.06 199.32h.55v.55h-.55zM451.24 197.96h.55v.55h-.55zM454.31 200.2h.55v.55h-.55zM452.26 201h.55v.55h-.55zM450.82 196.12h.55v.55h-.55zM451.49 203.97h.55v.55h-.55zM455.42 198.34h.55v.55h-.55zM454.68 202.32h.55v.55h-.55zM449.54 207.34h.55v.55h-.55zM451.99 195.43h.55v.55h-.55zM453.54 200.55h.55v.55h-.55zM457.88 204.9h.55v.55h-.55zM451.78 197.63h.55v.55h-.55zM452.14 198.52h.55v.55h-.55zM449.84 199.34h.55v.55h-.55zM457.61 203.45h.55v.55h-.55zM452.13 194.82h.55v.55h-.55zM455.56 204.68h.55v.55h-.55zM448.3 201.89h.55v.55h-.55zM459.34 204.19h.55v.55h-.55zM455.48 199.56h.55v.55h-.55zM451.13 201.09h.55v.55h-.55zM457.55 202.7h.55v.55h-.55zM456.16 199.36h.55v.55h-.55zM452.47 205.43h.55v.55h-.55zM453.61 203.49h.55v.55h-.55zM451.6 195.57h.55v.55h-.55zM453.75 200.77h.55v.55h-.55zM442.69 196.24h.55v.55h-.55zM454.41 198.62h.55v.55h-.55zM448.95 199.43h.55v.55h-.55zM454.8 205.09h.55v.55h-.55zM446.64 199.7h.55v.55h-.55zM450.87 208.5h.55v.55h-.55zM454.56 195.34h.55v.55h-.55zM455.54 203.07h.55v.55h-.55zM456.72 203.86h.55v.55h-.55zM451.51 194.53h.55v.55h-.55zM454.05 199.32h.55v.55h-.55zM451.64 192.48h.55v.55h-.55zM455.34 201.8h.55v.55h-.55zM457.37 201.25h.55v.55h-.55zM452.45 195.85h.55v.55h-.55zM451.88 195.9h.55v.55h-.55zM452.34 196.37h.55v.55h-.55zM456.72 198.91h.55v.55h-.55zM454.53 199.54h.55v.55h-.55zM451.95 191.59h.55v.55h-.55zM451.67 197.74h.55v.55h-.55zM456.86 194.92h.55v.55h-.55zM455.57 202.09h.55v.55h-.55zM452.86 199.2h.55v.55h-.55zM456.15 200.48h.55v.55h-.55zM461.27 190h.55v.55h-.55zM449.81 207.46h.55v.55h-.55zM454.57 191.7h.55v.55h-.55zM445.14 193.94h.55v.55h-.55zM447.75 191.85h.55v.55h-.55zM450.88 198.44h.55v.55h-.55zM449.01 198.96h.55v.55h-.55zM451.23 202.8h.55v.55h-.55zM448.35 199.15h.55v.55h-.55zM453.48 202.68h.55v.55h-.55zM448.86 199.41h.55v.55h-.55zM448.49 202.39h.55v.55h-.55zM454.7 204.03h.55v.55h-.55zM452.03 206.27h.55v.55h-.55zM451.25 192.82h.55v.55h-.55zM450.37 199.17h.55v.55h-.55zM456.74 197.34h.55v.55h-.55zM450.95 201.84h.55v.55h-.55zM448.51 203.13h.55v.55h-.55zM454.68 195.33h.55v.55h-.55zM452.71 196.75h.55v.55h-.55zM449.85 200.62h.55v.55h-.55zM451.85 203.04h.55v.55h-.55zM453.17 193h.55v.55h-.55zM453.68 202.32h.55v.55h-.55zM454.09 193.8h.55v.55h-.55zM450.78 194.42h.55v.55h-.55zM452.03 196.51h.55v.55h-.55zM456.07 200.91h.55v.55h-.55zM461.77 201.57h.55v.55h-.55zM447.85 198.58h.55v.55h-.55zM459.18 197.99h.55v.55h-.55zM453.41 203.1h.55v.55h-.55zM457.84 203.99h.55v.55h-.55zM452.67 194.89h.55v.55h-.55zM451.11 201.82h.55v.55h-.55zM447.49 200.01h.55v.55h-.55zM458.39 194.75h.55v.55h-.55zM455.54 196.32h.55v.55h-.55zM450.33 201.15h.55v.55h-.55zM455.2 199.09h.55v.55h-.55zM454.56 202.22h.55v.55h-.55zM459.05 195.82h.55v.55h-.55zM449.65 206.31h.55v.55h-.55zM455.86 196.82h.55v.55h-.55zM455.14 205.94h.55v.55h-.55zM451.76 200.93h.55v.55h-.55zM453.13 180.34h.55v.55h-.55zM448.63 185.33h.55v.55h-.55zM451.08 183.21h.55v.55h-.55zM449.37 184.68h.55v.55h-.55zM453.31 182.73h.55v.55h-.55zM451.25 179.36h.55v.55h-.55zM449.72 178.07h.55v.55h-.55zM451.28 183.16h.55v.55h-.55zM449.65 178.22h.55v.55h-.55zM450.68 184.75h.55v.55h-.55zM454.2 176.45h.55v.55h-.55zM451.42 187.12h.55v.55h-.55zM449.29 181.11h.55v.55h-.55zM453.09 183.2h.55v.55h-.55zM449.18 178.76h.55v.55h-.55zM449.93 182.39h.55v.55h-.55zM451.56 185.44h.55v.55h-.55zM449.21 184.17h.55v.55h-.55zM452.03 181.5h.55v.55h-.55zM452.8 182.28h.55v.55h-.55zM452.17 180.45h.55v.55h-.55zM449.19 180.72h.55v.55h-.55zM455.09 183.98h.55v.55h-.55zM451.78 179.93h.55v.55h-.55zM451.53 178.56h.55v.55h-.55zM451.87 182.4h.55v.55h-.55zM449.89 184.22h.55v.55h-.55zM448.28 178.21h.55v.55h-.55zM452.69 178.81h.55v.55h-.55zM447.97 186.58h.55v.55h-.55zM452.51 184.16h.55v.55h-.55zM451.14 178.73h.55v.55h-.55zM452.1 182.43h.55v.55h-.55zM449.56 183.07h.55v.55h-.55zM452.12 182.52h.55v.55h-.55zM452.96 184.32h.55v.55h-.55zM448.6 184.21h.55v.55h-.55zM450.23 187.78h.55v.55h-.55zM444.62 181.5h.55v.55h-.55zM452.44 186.16h.55v.55h-.55zM448.88 182.63h.55v.55h-.55zM452.11 180.66h.55v.55h-.55zM452.66 180.21h.55v.55h-.55zM449.47 186.65h.55v.55h-.55zM449.37 181.39h.55v.55h-.55zM437.89 204.65h.55v.55h-.55zM434.66 202.4h.55v.55h-.55zM434.21 198.94h.55v.55h-.55zM434.56 203.47h.55v.55h-.55zM435.76 199.62h.55v.55h-.55zM432.27 204.61h.55v.55h-.55zM434.25 203.44h.55v.55h-.55zM436.11 204.64h.55v.55h-.55zM434.38 199.16h.55v.55h-.55zM434.31 202.51h.55v.55h-.55zM435.46 198.82h.55v.55h-.55zM435.72 199.39h.55v.55h-.55zM435.07 200.9h.55v.55h-.55zM435.73 207.74h.55v.55h-.55zM434.3 198.08h.55v.55h-.55zM433.63 201.55h.55v.55h-.55zM435.36 202.96h.55v.55h-.55zM433.88 198.46h.55v.55h-.55zM435 205.09h.55v.55h-.55zM436.27 204.1h.55v.55h-.55zM435.83 204.13h.55v.55h-.55zM434.46 204.41h.55v.55h-.55zM436.09 203.64h.55v.55h-.55zM434.58 200.6h.55v.55h-.55zM434.39 205.01h.55v.55h-.55zM433.37 200.51h.55v.55h-.55zM435.42 198.3h.55v.55h-.55zM435.34 204.16h.55v.55h-.55zM435.91 198.67h.55v.55h-.55zM435.12 199.12h.55v.55h-.55z" fill="#3a4cff" opacity="0.8"/>
<g filter="url(#bl)"><g fill="#2a3cff" opacity="0.85" filter="url(#gr)"><ellipse cx="435.1" cy="201" rx="1.86" ry="3.34"/><ellipse cx="453.4" cy="198.7" rx="4.59" ry="5.11"/><ellipse cx="451.1" cy="182" rx="2" ry="3.63"/></g><g fill="#1e9bff"><ellipse cx="435.1" cy="201" rx="1.18" ry="2.12"/><ellipse cx="453.4" cy="198.7" rx="3.8" ry="4.22"/><ellipse cx="451.1" cy="182" rx="1.22" ry="2.23"/></g><g fill="#22d6d0"><ellipse cx="453.4" cy="198.7" rx="3.08" ry="3.43"/></g><g fill="#3ad23a"><ellipse cx="453.4" cy="198.7" rx="2.49" ry="2.76"/></g><g fill="#e6e21e"><ellipse cx="453.4" cy="198.7" rx="1.96" ry="2.17"/></g><g fill="#e8281e"><ellipse cx="453.4" cy="198.7" rx="1.43" ry="1.58"/></g></g>
<path d="M445 174.4 L457.5 174.1 L457.5 186.9 L445 189.9 Z" fill="none" stroke="#333" stroke-width="0.6"/>
<text x="417.4" y="218.29" font-size="5.9" fill="#222">12 h: 7.34%</text>
<path d="M488 156V234H410.6" fill="none" stroke="#111" stroke-width="1.3"/>
<text transform="translate(498 194) rotate(90)" x="0" y="3.76" font-size="10.6" text-anchor="middle">p-H3-Alexa 647</text>
<text x="449.3" y="245.56" font-size="10.6" text-anchor="middle">DNA content</text>
<path d="M513.8 109.9L541.8 86.6M517.7 109.9L545.7 86.6M521.6 109.9L549.6 86.6M525.5 109.9L553.5 86.6M529.4 109.9L557.4 86.6M533.3 109.9L561.3 86.6M537.2 109.9L565.2 86.6M541.1 109.9L569.1 86.6M545 109.9L573 86.6M548.9 109.9L576.9 86.6M552.8 109.9L580.8 86.6M556.7 109.9L584.7 86.6M560.6 109.9L588.6 86.6M564.5 109.9L592.5 86.6M568.4 109.9L596.4 86.6M572.3 109.9L600.3 86.6M576.2 109.9L604.2 86.6M580.1 109.9L608.1 86.6M584 109.9L612 86.6M587.9 109.9L615.9 86.6M591.8 109.9L619.8 86.6M541.8 86.6L619.8 86.6" stroke="#a8a8a8" stroke-width="0.3" fill="none"/>
<line x1="513.8" y1="109.9" x2="591.8" y2="109.9" stroke="#999" stroke-width="0.45"/>
<path d="M513.8 109.9v1.4M517.7 109.9v0.7M521.6 109.9v0.7M525.5 109.9v0.7M529.4 109.9v1.4M533.3 109.9v0.7M537.2 109.9v0.7M541.1 109.9v0.7M545 109.9v1.4M548.9 109.9v0.7M552.8 109.9v0.7M556.7 109.9v0.7M560.6 109.9v1.4M564.5 109.9v0.7M568.4 109.9v0.7M572.3 109.9v0.7M576.2 109.9v1.4M580.1 109.9v0.7M584 109.9v0.7M587.9 109.9v0.7M591.8 109.9v1.4" stroke="#777" stroke-width="0.4" fill="none"/>
<g font-size="3.1" fill="#555"><text x="514.6" y="115.7" text-anchor="middle">0</text><text x="530.4" y="115.7" text-anchor="middle">200K</text><text x="546.2" y="115.7" text-anchor="middle">400K</text><text x="562" y="115.7" text-anchor="middle">600K</text><text x="577.8" y="115.7" text-anchor="middle">800K</text></g>
<path d="M513.8 220L541.8 196.7M517.7 220L545.7 196.7M521.6 220L549.6 196.7M525.5 220L553.5 196.7M529.4 220L557.4 196.7M533.3 220L561.3 196.7M537.2 220L565.2 196.7M541.1 220L569.1 196.7M545 220L573 196.7M548.9 220L576.9 196.7M552.8 220L580.8 196.7M556.7 220L584.7 196.7M560.6 220L588.6 196.7M564.5 220L592.5 196.7M568.4 220L596.4 196.7M572.3 220L600.3 196.7M576.2 220L604.2 196.7M580.1 220L608.1 196.7M584 220L612 196.7M587.9 220L615.9 196.7M591.8 220L619.8 196.7M541.8 196.7L619.8 196.7" stroke="#a8a8a8" stroke-width="0.3" fill="none"/>
<line x1="513.8" y1="220" x2="591.8" y2="220" stroke="#999" stroke-width="0.45"/>
<path d="M513.8 220v1.4M517.7 220v0.7M521.6 220v0.7M525.5 220v0.7M529.4 220v1.4M533.3 220v0.7M537.2 220v0.7M541.1 220v0.7M545 220v1.4M548.9 220v0.7M552.8 220v0.7M556.7 220v0.7M560.6 220v1.4M564.5 220v0.7M568.4 220v0.7M572.3 220v0.7M576.2 220v1.4M580.1 220v0.7M584 220v0.7M587.9 220v0.7M591.8 220v1.4" stroke="#777" stroke-width="0.4" fill="none"/>
<g font-size="3.1" fill="#555"><text x="514.6" y="225.8" text-anchor="middle">0</text><text x="530.4" y="225.8" text-anchor="middle">200K</text><text x="546.2" y="225.8" text-anchor="middle">400K</text><text x="562" y="225.8" text-anchor="middle">600K</text><text x="577.8" y="225.8" text-anchor="middle">800K</text><text x="593.6" y="225.8" text-anchor="middle">1.0M</text></g>
<path d="M513.8 109.9 L514.1 109.9 L514.4 109.9 L514.7 109.9 L515 109.9 L515.3 109.9 L515.6 109.9 L515.9 109.9 L516.2 109.9 L516.5 109.9 L516.8 109.9 L517.1 109.9 L517.4 109.9 L517.7 109.9 L518 109.9 L518.3 109.9 L518.6 109.9 L518.9 109.9 L519.2 109.9 L519.5 109.9 L519.8 109.9 L520.1 109.9 L520.4 109.9 L520.7 109.9 L521 109.9 L521.3 109.9 L521.6 109.9 L521.9 109.9 L522.2 109.9 L522.5 109.9 L522.8 109.9 L523.1 109.9 L523.4 109.9 L523.7 109.9 L524 109.9 L524.3 109.9 L524.6 109.9 L524.9 109.9 L525.2 109.9 L525.5 109.9 L525.8 109.9 L526.1 109.9 L526.4 109.9 L526.7 109.9 L527 109.9 L527.3 109.9 L527.6 109.9 L527.9 109.9 L528.2 109.9 L528.5 109.9 L528.8 109.9 L529.1 109.9 L529.4 109.9 L529.7 109.89 L530 109.89 L530.3 109.89 L530.6 109.89 L530.9 109.88 L531.2 109.88 L531.5 109.87 L531.8 109.86 L532.1 109.85 L532.4 109.83 L532.7 109.81 L533 109.78 L533.3 109.74 L533.6 109.69 L533.9 109.62 L534.2 109.54 L534.5 109.44 L534.8 109.32 L535.1 109.17 L535.4 108.98 L535.7 108.72 L536 108.29 L536.3 107.48 L536.6 105.82 L536.9 102.56 L537.2 96.72 L537.5 87.57 L537.8 75.31 L538.1 61.68 L538.4 49.89 L538.7 43.43 L539 44.42 L539.3 52.41 L539.6 64.66 L539.9 77.6 L540.2 88.46 L540.5 96.04 L540.8 100.55 L541.1 102.88 L541.4 103.94 L541.7 104.39 L542 104.58 L542.3 104.69 L542.6 104.76 L542.9 104.82 L543.2 104.84 L543.5 104.85 L543.8 104.82 L544.1 104.76 L544.4 104.67 L544.7 104.55 L545 104.39 L545.3 104.22 L545.6 104.02 L545.9 103.8 L546.2 103.57 L546.5 103.32 L546.8 103.08 L547.1 102.83 L547.4 102.59 L547.7 102.35 L548 102.12 L548.3 101.91 L548.6 101.71 L548.9 101.53 L549.2 101.36 L549.5 101.23 L549.8 101.11 L550.1 101.02 L550.4 100.95 L550.7 100.91 L551 100.9 L551.3 100.91 L551.6 100.95 L551.9 101.02 L552.2 101.11 L552.5 101.23 L552.8 101.37 L553.1 101.53 L553.4 101.72 L553.7 101.92 L554 102.14 L554.3 102.38 L554.6 102.63 L554.9 102.9 L555.2 103.17 L555.5 103.45 L555.8 103.74 L556.1 104.02 L556.4 104.3 L556.7 104.56 L557 104.79 L557.3 104.97 L557.6 105.07 L557.9 105.06 L558.2 104.9 L558.5 104.54 L558.8 103.93 L559.1 103.03 L559.4 101.81 L559.7 100.28 L560 98.48 L560.3 96.5 L560.6 94.45 L560.9 92.5 L561.2 90.83 L561.5 89.61 L561.8 88.96 L562.1 88.98 L562.4 89.68 L562.7 90.99 L563 92.79 L563.3 94.94 L563.6 97.25 L563.9 99.55 L564.2 101.71 L564.5 103.62 L564.8 105.24 L565.1 106.54 L565.4 107.54 L565.7 108.28 L566 108.81 L566.3 109.18 L566.6 109.42 L566.9 109.58 L567.2 109.68 L567.5 109.75 L567.8 109.79 L568.1 109.81 L568.4 109.83 L568.7 109.85 L569 109.86 L569.3 109.86 L569.6 109.87 L569.9 109.88 L570.2 109.88 L570.5 109.88 L570.8 109.89 L571.1 109.89 L571.4 109.89 L571.7 109.89 L572 109.89 L572.3 109.9 L572.6 109.9 L572.9 109.9 L573.2 109.9 L573.5 109.9 L573.8 109.9 L574.1 109.9 L574.4 109.9 L574.7 109.9 L575 109.9 L575.3 109.9 L575.6 109.9 L575.9 109.9 L576.2 109.9 L576.5 109.9 L576.8 109.9 L577.1 109.9 L577.4 109.9 L577.7 109.9 L578 109.9 L578.3 109.9 L578.6 109.9 L578.9 109.9 L579.2 109.9 L579.5 109.9 L579.8 109.9 L580.1 109.9 L580.4 109.9 L580.7 109.9 L581 109.9 L581.3 109.9 L581.6 109.9 L581.9 109.9 L582.2 109.9 L582.5 109.9 L582.8 109.9 L583.1 109.9 L583.4 109.9 L583.7 109.9 L584 109.9 L584.3 109.9 L584.6 109.9 L584.9 109.9 L585.2 109.9 L585.5 109.9 L585.8 109.9 L586.1 109.9 L586.4 109.9 L586.7 109.9 L587 109.9 L587.3 109.9 L587.6 109.9 L587.9 109.9 L588.2 109.9 L588.5 109.9 L588.8 109.9 L589.1 109.9 L589.4 109.9 L589.7 109.9 L590 109.9 L590.3 109.9" fill="none" stroke="#ffadad" stroke-width="1.25" stroke-linejoin="round"/>
<path d="M522.8 101.6 L523.1 101.6 L523.4 101.6 L523.7 101.6 L524 101.6 L524.3 101.6 L524.6 101.6 L524.9 101.6 L525.2 101.6 L525.5 101.6 L525.8 101.6 L526.1 101.6 L526.4 101.6 L526.7 101.6 L527 101.6 L527.3 101.6 L527.6 101.6 L527.9 101.6 L528.2 101.6 L528.5 101.6 L528.8 101.6 L529.1 101.6 L529.4 101.6 L529.7 101.6 L530 101.6 L530.3 101.6 L530.6 101.6 L530.9 101.6 L531.2 101.6 L531.5 101.6 L531.8 101.6 L532.1 101.6 L532.4 101.6 L532.7 101.6 L533 101.6 L533.3 101.6 L533.6 101.6 L533.9 101.6 L534.2 101.6 L534.5 101.6 L534.8 101.6 L535.1 101.6 L535.4 101.6 L535.7 101.6 L536 101.6 L536.3 101.6 L536.6 101.6 L536.9 101.6 L537.2 101.6 L537.5 101.6 L537.8 101.6 L538.1 101.6 L538.4 101.6 L538.7 101.6 L539 101.6 L539.3 101.6 L539.6 101.6 L539.9 101.6 L540.2 101.6 L540.5 101.6 L540.8 101.6 L541.1 101.6 L541.4 101.6 L541.7 101.6 L542 101.6 L542.3 101.6 L542.6 101.6 L542.9 101.6 L543.2 101.6 L543.5 101.59 L543.8 101.59 L544.1 101.59 L544.4 101.58 L544.7 101.57 L545 101.55 L545.3 101.53 L545.6 101.5 L545.9 101.45 L546.2 101.37 L546.5 101.22 L546.8 100.89 L547.1 100.17 L547.4 98.64 L547.7 95.63 L548 90.35 L548.3 82.17 L548.6 71.21 L548.9 58.72 L549.2 47.19 L549.5 39.52 L549.8 37.89 L550.1 42.66 L550.4 52.19 L550.7 63.7 L551 74.46 L551.3 82.78 L551.6 88.24 L551.9 91.29 L552.2 92.72 L552.5 93.28 L552.8 93.46 L553.1 93.56 L553.4 93.69 L553.7 93.9 L554 94.16 L554.3 94.51 L554.6 94.9 L554.9 95.27 L555.2 95.49 L555.5 95.36 L555.8 94.83 L556.1 93.53 L556.4 90.9 L556.7 87.75 L557 85.08 L557.3 81.41 L557.6 77.01 L557.9 75.15 L558.2 75.16 L558.5 74.11 L558.8 73.45 L559.1 74.78 L559.4 74.93 L559.7 72.43 L560 71 L560.3 71.96 L560.6 72.08 L560.9 71.11 L561.2 71.77 L561.5 72.68 L561.8 70.82 L562.1 68.48 L562.4 68.91 L562.7 69.84 L563 69 L563.3 68.76 L563.6 69.86 L563.9 69.02 L564.2 66.33 L564.5 65.81 L564.8 67.23 L565.1 67.11 L565.4 66.25 L565.7 67.01 L566 67.22 L566.3 64.99 L566.6 63.65 L566.9 65.17 L567.2 66.3 L567.5 65.76 L567.8 66.25 L568.1 67.5 L568.4 66.78 L568.7 65.5 L569 66.3 L569.3 67.21 L569.6 65.74 L569.9 63.13 L570.2 60.3 L570.5 55.97 L570.8 50.63 L571.1 46.2 L571.4 43.26 L571.7 41.8 L572 42.55 L572.3 46.01 L572.6 51.72 L572.9 58.92 L573.2 68.11 L573.5 75.71 L573.8 82.62 L574.1 88.41 L574.4 92.91 L574.7 96.17 L575 98.38 L575.3 99.79 L575.6 100.64 L575.9 101.11 L576.2 101.37 L576.5 101.49 L576.8 101.55 L577.1 101.58 L577.4 101.59 L577.7 101.6 L578 101.6 L578.3 101.6 L578.6 101.6 L578.9 101.6 L579.2 101.6 L579.5 101.6 L579.8 101.6 L580.1 101.6 L580.4 101.6 L580.7 101.6 L581 101.6 L581.3 101.6 L581.6 101.6 L581.9 101.6 L582.2 101.6 L582.5 101.6 L582.8 101.6 L583.1 101.6 L583.4 101.6 L583.7 101.6 L584 101.6 L584.3 101.6 L584.6 101.6 L584.9 101.6 L585.2 101.6 L585.5 101.6 L585.8 101.6 L586.1 101.6 L586.4 101.6 L586.7 101.6 L587 101.6 L587.3 101.6 L587.6 101.6 L587.9 101.6 L588.2 101.6 L588.5 101.6 L588.8 101.6 L589.1 101.6 L589.4 101.6 L589.7 101.6 L590 101.6 L590.3 101.6 L590.6 101.6 L590.9 101.6 L591.2 101.6 L591.5 101.6 L591.8 101.6 L592.1 101.6 L592.4 101.6 L592.7 101.6 L593 101.6 L593.3 101.6 L593.6 101.6 L593.9 101.6 L594.2 101.6 L594.5 101.6 L594.8 101.6 L595.1 101.6 L595.4 101.6 L595.7 101.6 L596 101.6 L596.3 101.6 L596.6 101.6 L596.9 101.6 L597.2 101.6 L597.5 101.6 L597.8 101.6 L598.1 101.6 L598.4 101.6 L598.7 101.6 L599 101.6 L599.3 101.6 L599.6 101.6 L599.9 101.6 L600.2 101.6" fill="none" stroke="#ff4545" stroke-width="1.25" stroke-linejoin="round"/>
<path d="M533 94.1 L533.3 94.1 L533.6 94.1 L533.9 94.1 L534.2 94.1 L534.5 94.1 L534.8 94.1 L535.1 94.1 L535.4 94.1 L535.7 94.1 L536 94.1 L536.3 94.1 L536.6 94.1 L536.9 94.1 L537.2 94.1 L537.5 94.1 L537.8 94.1 L538.1 94.1 L538.4 94.1 L538.7 94.1 L539 94.1 L539.3 94.1 L539.6 94.1 L539.9 94.1 L540.2 94.1 L540.5 94.1 L540.8 94.1 L541.1 94.1 L541.4 94.1 L541.7 94.1 L542 94.1 L542.3 94.1 L542.6 94.1 L542.9 94.1 L543.2 94.1 L543.5 94.1 L543.8 94.1 L544.1 94.1 L544.4 94.1 L544.7 94.1 L545 94.1 L545.3 94.1 L545.6 94.1 L545.9 94.1 L546.2 94.1 L546.5 94.1 L546.8 94.1 L547.1 94.1 L547.4 94.1 L547.7 94.1 L548 94.1 L548.3 94.1 L548.6 94.1 L548.9 94.1 L549.2 94.1 L549.5 94.1 L549.8 94.1 L550.1 94.1 L550.4 94.1 L550.7 94.1 L551 94.1 L551.3 94.1 L551.6 94.09 L551.9 94.09 L552.2 94.09 L552.5 94.09 L552.8 94.09 L553.1 94.09 L553.4 94.08 L553.7 94.08 L554 94.07 L554.3 94.05 L554.6 94.01 L554.9 93.93 L555.2 93.75 L555.5 93.4 L555.8 92.76 L556.1 91.69 L556.4 90.03 L556.7 87.7 L557 84.74 L557.3 81.36 L557.6 77.99 L557.9 75.18 L558.2 73.46 L558.5 73.18 L558.8 74.39 L559.1 76.83 L559.4 80.01 L559.7 83.38 L560 86.45 L560.3 88.94 L560.6 90.75 L560.9 91.94 L561.2 92.63 L561.5 92.99 L561.8 93.14 L562.1 93.18 L562.4 93.15 L562.7 93.1 L563 93.03 L563.3 92.95 L563.6 92.87 L563.9 92.79 L564.2 92.71 L564.5 92.63 L564.8 92.55 L565.1 92.48 L565.4 92.4 L565.7 92.33 L566 92.26 L566.3 92.2 L566.6 92.14 L566.9 92.09 L567.2 92.04 L567.5 92 L567.8 91.96 L568.1 91.93 L568.4 91.91 L568.7 91.9 L569 91.9 L569.3 91.9 L569.6 91.91 L569.9 91.93 L570.2 91.95 L570.5 91.99 L570.8 92.02 L571.1 92.07 L571.4 92.11 L571.7 92.17 L572 92.22 L572.3 92.27 L572.6 92.33 L572.9 92.38 L573.2 92.43 L573.5 92.48 L573.8 92.52 L574.1 92.56 L574.4 92.58 L574.7 92.59 L575 92.59 L575.3 92.57 L575.6 92.53 L575.9 92.45 L576.2 92.34 L576.5 92.16 L576.8 91.87 L577.1 91.39 L577.4 90.62 L577.7 89.39 L578 87.48 L578.3 84.62 L578.6 80.57 L578.9 75.11 L579.2 68.19 L579.5 59.97 L579.8 50.9 L580.1 41.7 L580.4 33.31 L580.7 26.72 L581 22.78 L581.3 22.01 L581.6 24.51 L581.9 29.89 L582.2 37.39 L582.5 46.07 L582.8 54.95 L583.1 63.24 L583.4 70.39 L583.7 76.16 L584 80.54 L584.3 83.69 L584.6 85.88 L584.9 87.35 L585.2 88.33 L585.5 89.02 L585.8 89.53 L586.1 89.95 L586.4 90.31 L586.7 90.65 L587 90.97 L587.3 91.27 L587.6 91.57 L587.9 91.85 L588.2 92.11 L588.5 92.35 L588.8 92.58 L589.1 92.79 L589.4 92.97 L589.7 93.14 L590 93.29 L590.3 93.42 L590.6 93.53 L590.9 93.63 L591.2 93.71 L591.5 93.79 L591.8 93.85 L592.1 93.9 L592.4 93.94 L592.7 93.97 L593 94 L593.3 94.02 L593.6 94.04 L593.9 94.05 L594.2 94.06 L594.5 94.07 L594.8 94.08 L595.1 94.08 L595.4 94.09 L595.7 94.09 L596 94.09 L596.3 94.1 L596.6 94.1 L596.9 94.1 L597.2 94.1 L597.5 94.1 L597.8 94.1 L598.1 94.1 L598.4 94.1 L598.7 94.1 L599 94.1 L599.3 94.1 L599.6 94.1 L599.9 94.1 L600.2 94.1 L600.5 94.1 L600.8 94.1 L601.1 94.1 L601.4 94.1 L601.7 94.1 L602 94.1 L602.3 94.1 L602.6 94.1 L602.9 94.1 L603.2 94.1 L603.5 94.1 L603.8 94.1 L604.1 94.1 L604.4 94.1 L604.7 94.1 L605 94.1 L605.3 94.1 L605.6 94.1 L605.9 94.1 L606.2 94.1 L606.5 94.1 L606.8 94.1 L607.1 94.1 L607.4 94.1 L607.7 94.1 L608 94.1 L608.3 94.1 L608.6 94.1 L608.9 94.1 L609.2 94.1 L609.5 94.1 L609.8 94.1" fill="none" stroke="#d40a0a" stroke-width="1.25" stroke-linejoin="round"/>
<path d="M541.8 86.6 L542.1 86.6 L542.4 86.6 L542.7 86.6 L543 86.6 L543.3 86.6 L543.6 86.6 L543.9 86.6 L544.2 86.6 L544.5 86.6 L544.8 86.6 L545.1 86.6 L545.4 86.6 L545.7 86.6 L546 86.6 L546.3 86.6 L546.6 86.6 L546.9 86.6 L547.2 86.6 L547.5 86.6 L547.8 86.6 L548.1 86.6 L548.4 86.6 L548.7 86.6 L549 86.6 L549.3 86.6 L549.6 86.6 L549.9 86.6 L550.2 86.6 L550.5 86.6 L550.8 86.6 L551.1 86.6 L551.4 86.6 L551.7 86.6 L552 86.6 L552.3 86.6 L552.6 86.6 L552.9 86.6 L553.2 86.6 L553.5 86.6 L553.8 86.6 L554.1 86.6 L554.4 86.6 L554.7 86.6 L555 86.6 L555.3 86.6 L555.6 86.6 L555.9 86.6 L556.2 86.6 L556.5 86.6 L556.8 86.6 L557.1 86.6 L557.4 86.6 L557.7 86.6 L558 86.6 L558.3 86.6 L558.6 86.6 L558.9 86.6 L559.2 86.6 L559.5 86.6 L559.8 86.6 L560.1 86.6 L560.4 86.6 L560.7 86.6 L561 86.6 L561.3 86.6 L561.6 86.6 L561.9 86.6 L562.2 86.59 L562.5 86.59 L562.8 86.59 L563.1 86.59 L563.4 86.59 L563.7 86.58 L564 86.57 L564.3 86.56 L564.6 86.54 L564.9 86.48 L565.2 86.36 L565.5 86.14 L565.8 85.73 L566.1 85.04 L566.4 83.97 L566.7 82.48 L567 80.58 L567.3 78.42 L567.6 76.26 L567.9 74.45 L568.2 73.34 L568.5 73.14 L568.8 73.9 L569.1 75.44 L569.4 77.46 L569.7 79.58 L570 81.52 L570.3 83.08 L570.6 84.21 L570.9 84.93 L571.2 85.34 L571.5 85.52 L571.8 85.58 L572.1 85.55 L572.4 85.48 L572.7 85.39 L573 85.28 L573.3 85.17 L573.6 85.06 L573.9 84.94 L574.2 84.81 L574.5 84.69 L574.8 84.56 L575.1 84.43 L575.4 84.31 L575.7 84.18 L576 84.06 L576.3 83.94 L576.6 83.82 L576.9 83.71 L577.2 83.61 L577.5 83.51 L577.8 83.42 L578.1 83.34 L578.4 83.27 L578.7 83.21 L579 83.16 L579.3 83.12 L579.6 83.09 L579.9 83.07 L580.2 83.07 L580.5 83.07 L580.8 83.09 L581.1 83.11 L581.4 83.15 L581.7 83.19 L582 83.23 L582.3 83.28 L582.6 83.34 L582.9 83.39 L583.2 83.45 L583.5 83.5 L583.8 83.55 L584.1 83.59 L584.4 83.63 L584.7 83.65 L585 83.66 L585.3 83.66 L585.6 83.63 L585.9 83.58 L586.2 83.49 L586.5 83.34 L586.8 83.1 L587.1 82.72 L587.4 82.13 L587.7 81.22 L588 79.84 L588.3 77.83 L588.6 75 L588.9 71.18 L589.2 66.26 L589.5 60.21 L589.8 53.18 L590.1 45.48 L590.4 37.6 L590.7 30.17 L591 23.88 L591.3 19.39 L591.6 17.18 L591.9 17.5 L592.2 20.3 L592.5 25.25 L592.8 31.81 L593.1 39.29 L593.4 47.03 L593.7 54.43 L594 61.06 L594.3 66.67 L594.6 71.19 L594.9 74.66 L595.2 77.22 L595.5 79.06 L595.8 80.36 L596.1 81.27 L596.4 81.93 L596.7 82.43 L597 82.83 L597.3 83.16 L597.6 83.47 L597.9 83.75 L598.2 84.01 L598.5 84.26 L598.8 84.5 L599.1 84.72 L599.4 84.93 L599.7 85.12 L600 85.3 L600.3 85.46 L600.6 85.61 L600.9 85.75 L601.2 85.87 L601.5 85.97 L601.8 86.07 L602.1 86.15 L602.4 86.22 L602.7 86.28 L603 86.34 L603.3 86.38 L603.6 86.42 L603.9 86.45 L604.2 86.48 L604.5 86.5 L604.8 86.52 L605.1 86.54 L605.4 86.55 L605.7 86.56 L606 86.57 L606.3 86.58 L606.6 86.58 L606.9 86.59 L607.2 86.59 L607.5 86.59 L607.8 86.59 L608.1 86.6 L608.4 86.6 L608.7 86.6 L609 86.6 L609.3 86.6 L609.6 86.6 L609.9 86.6 L610.2 86.6 L610.5 86.6 L610.8 86.6 L611.1 86.6 L611.4 86.6 L611.7 86.6 L612 86.6 L612.3 86.6 L612.6 86.6 L612.9 86.6 L613.2 86.6 L613.5 86.6 L613.8 86.6 L614.1 86.6 L614.4 86.6 L614.7 86.6 L615 86.6 L615.3 86.6 L615.6 86.6 L615.9 86.6 L616.2 86.6 L616.5 86.6 L616.8 86.6 L617.1 86.6 L617.4 86.6 L617.7 86.6 L618 86.6 L618.3 86.6 L618.6 86.6 L618.9 86.6 L619.2 86.6 L619.5 86.6 L619.8 86.6" fill="none" stroke="#6a0c0c" stroke-width="1.25" stroke-linejoin="round"/>
<path d="M513.8 220 L514.1 220 L514.4 220 L514.7 220 L515 220 L515.3 220 L515.6 220 L515.9 220 L516.2 220 L516.5 220 L516.8 220 L517.1 220 L517.4 220 L517.7 220 L518 220 L518.3 220 L518.6 220 L518.9 220 L519.2 220 L519.5 220 L519.8 220 L520.1 220 L520.4 220 L520.7 220 L521 220 L521.3 220 L521.6 220 L521.9 220 L522.2 220 L522.5 220 L522.8 220 L523.1 220 L523.4 220 L523.7 220 L524 220 L524.3 220 L524.6 220 L524.9 220 L525.2 220 L525.5 220 L525.8 220 L526.1 220 L526.4 220 L526.7 220 L527 220 L527.3 220 L527.6 220 L527.9 220 L528.2 220 L528.5 220 L528.8 220 L529.1 220 L529.4 220 L529.7 220 L530 220 L530.3 220 L530.6 220 L530.9 220 L531.2 220 L531.5 219.99 L531.8 219.99 L532.1 219.99 L532.4 219.99 L532.7 219.99 L533 219.98 L533.3 219.98 L533.6 219.98 L533.9 219.97 L534.2 219.97 L534.5 219.96 L534.8 219.95 L535.1 219.94 L535.4 219.93 L535.7 219.91 L536 219.88 L536.3 219.78 L536.6 219.46 L536.9 218.49 L537.2 216 L537.5 210.58 L537.8 200.85 L538.1 186.63 L538.4 170.32 L538.7 156.88 L539 151.6 L539.3 156.76 L539.6 170.08 L539.9 186.27 L540.2 200.37 L540.5 209.98 L540.8 215.27 L541.1 217.63 L541.4 218.45 L541.7 218.64 L542 218.59 L542.3 218.47 L542.6 218.33 L542.9 218.18 L543.2 218.02 L543.5 217.85 L543.8 217.68 L544.1 217.51 L544.4 217.33 L544.7 217.15 L545 216.97 L545.3 216.79 L545.6 216.61 L545.9 216.43 L546.2 216.25 L546.5 216.09 L546.8 215.93 L547.1 215.77 L547.4 215.63 L547.7 215.5 L548 215.38 L548.3 215.28 L548.6 215.19 L548.9 215.12 L549.2 215.06 L549.5 215.02 L549.8 215 L550.1 215 L550.4 215.02 L550.7 215.05 L551 215.1 L551.3 215.17 L551.6 215.25 L551.9 215.35 L552.2 215.46 L552.5 215.59 L552.8 215.73 L553.1 215.87 L553.4 216.03 L553.7 216.2 L554 216.37 L554.3 216.55 L554.6 216.73 L554.9 216.91 L555.2 217.09 L555.5 217.27 L555.8 217.44 L556.1 217.61 L556.4 217.77 L556.7 217.9 L557 218 L557.3 218.04 L557.6 217.98 L557.9 217.77 L558.2 217.35 L558.5 216.64 L558.8 215.57 L559.1 214.07 L559.4 212.12 L559.7 209.77 L560 207.13 L560.3 204.41 L560.6 201.87 L560.9 199.79 L561.2 198.44 L561.5 198 L561.8 198.54 L562.1 199.99 L562.4 202.16 L562.7 204.81 L563 207.64 L563.3 210.38 L563.6 212.85 L563.9 214.92 L564.2 216.54 L564.5 217.75 L564.8 218.59 L565.1 219.15 L565.4 219.51 L565.7 219.72 L566 219.85 L566.3 219.91 L566.6 219.95 L566.9 219.97 L567.2 219.98 L567.5 219.99 L567.8 219.99 L568.1 219.99 L568.4 219.99 L568.7 220 L569 220 L569.3 220 L569.6 220 L569.9 220 L570.2 220 L570.5 220 L570.8 220 L571.1 220 L571.4 220 L571.7 220 L572 220 L572.3 220 L572.6 220 L572.9 220 L573.2 220 L573.5 220 L573.8 220 L574.1 220 L574.4 220 L574.7 220 L575 220 L575.3 220 L575.6 220 L575.9 220 L576.2 220 L576.5 220 L576.8 220 L577.1 220 L577.4 220 L577.7 220 L578 220 L578.3 220 L578.6 220 L578.9 220 L579.2 220 L579.5 220 L579.8 220 L580.1 220 L580.4 220 L580.7 220 L581 220 L581.3 220 L581.6 220 L581.9 220 L582.2 220 L582.5 220 L582.8 220 L583.1 220 L583.4 220 L583.7 220 L584 220 L584.3 220 L584.6 220 L584.9 220 L585.2 220 L585.5 220 L585.8 220 L586.1 220 L586.4 220 L586.7 220 L587 220 L587.3 220 L587.6 220 L587.9 220 L588.2 220 L588.5 220 L588.8 220 L589.1 220 L589.4 220 L589.7 220 L590 220 L590.3 220 L590.6 220" fill="none" stroke="#ffadad" stroke-width="1.25" stroke-linejoin="round"/>
<path d="M522.8 212.6 L523.1 212.6 L523.4 212.6 L523.7 212.6 L524 212.6 L524.3 212.6 L524.6 212.6 L524.9 212.6 L525.2 212.6 L525.5 212.6 L525.8 212.6 L526.1 212.6 L526.4 212.6 L526.7 212.6 L527 212.6 L527.3 212.6 L527.6 212.6 L527.9 212.6 L528.2 212.6 L528.5 212.6 L528.8 212.6 L529.1 212.6 L529.4 212.6 L529.7 212.6 L530 212.6 L530.3 212.6 L530.6 212.6 L530.9 212.6 L531.2 212.6 L531.5 212.6 L531.8 212.6 L532.1 212.6 L532.4 212.6 L532.7 212.6 L533 212.6 L533.3 212.6 L533.6 212.6 L533.9 212.6 L534.2 212.6 L534.5 212.6 L534.8 212.6 L535.1 212.6 L535.4 212.6 L535.7 212.6 L536 212.6 L536.3 212.6 L536.6 212.6 L536.9 212.6 L537.2 212.6 L537.5 212.6 L537.8 212.6 L538.1 212.6 L538.4 212.6 L538.7 212.6 L539 212.6 L539.3 212.6 L539.6 212.6 L539.9 212.6 L540.2 212.6 L540.5 212.6 L540.8 212.6 L541.1 212.6 L541.4 212.6 L541.7 212.6 L542 212.6 L542.3 212.6 L542.6 212.59 L542.9 212.59 L543.2 212.59 L543.5 212.59 L543.8 212.59 L544.1 212.58 L544.4 212.57 L544.7 212.54 L545 212.46 L545.3 212.28 L545.6 211.89 L545.9 211.15 L546.2 209.87 L546.5 207.92 L546.8 205.29 L547.1 202.27 L547.4 199.35 L547.7 197.21 L548 196.4 L548.3 197.14 L548.6 199.22 L548.9 202.06 L549.2 205.02 L549.5 207.57 L549.8 209.45 L550.1 210.64 L550.4 211.3 L550.7 211.59 L551 211.67 L551.3 211.64 L551.6 211.55 L551.9 211.44 L552.2 211.32 L552.5 211.19 L552.8 211.05 L553.1 210.91 L553.4 210.76 L553.7 210.6 L554 210.44 L554.3 210.28 L554.6 210.12 L554.9 209.96 L555.2 209.8 L555.5 209.64 L555.8 209.49 L556.1 209.35 L556.4 209.21 L556.7 209.09 L557 208.98 L557.3 208.88 L557.6 208.79 L557.9 208.72 L558.2 208.66 L558.5 208.62 L558.8 208.6 L559.1 208.6 L559.4 208.61 L559.7 208.65 L560 208.69 L560.3 208.76 L560.6 208.84 L560.9 208.93 L561.2 209.03 L561.5 209.15 L561.8 209.27 L562.1 209.4 L562.4 209.54 L562.7 209.67 L563 209.81 L563.3 209.94 L563.6 210.07 L563.9 210.19 L564.2 210.29 L564.5 210.38 L564.8 210.46 L565.1 210.51 L565.4 210.55 L565.7 210.55 L566 210.52 L566.3 210.45 L566.6 210.3 L566.9 210.03 L567.2 209.55 L567.5 208.72 L567.8 207.32 L568.1 205.08 L568.4 201.66 L568.7 196.74 L569 190.1 L569.3 181.79 L569.6 172.19 L569.9 162.1 L570.2 152.64 L570.5 145.08 L570.8 140.55 L571.1 139.78 L571.4 142.87 L571.7 149.31 L572 158.07 L572.3 167.9 L572.6 177.62 L572.9 186.3 L573.2 193.44 L573.5 198.88 L573.8 202.77 L574.1 205.41 L574.4 207.13 L574.7 208.24 L575 208.96 L575.3 209.47 L575.6 209.86 L575.9 210.19 L576.2 210.47 L576.5 210.73 L576.8 210.97 L577.1 211.19 L577.4 211.39 L577.7 211.58 L578 211.74 L578.3 211.88 L578.6 212 L578.9 212.11 L579.2 212.2 L579.5 212.28 L579.8 212.34 L580.1 212.4 L580.4 212.44 L580.7 212.48 L581 212.5 L581.3 212.53 L581.6 212.54 L581.9 212.56 L582.2 212.57 L582.5 212.58 L582.8 212.58 L583.1 212.59 L583.4 212.59 L583.7 212.59 L584 212.6 L584.3 212.6 L584.6 212.6 L584.9 212.6 L585.2 212.6 L585.5 212.6 L585.8 212.6 L586.1 212.6 L586.4 212.6 L586.7 212.6 L587 212.6 L587.3 212.6 L587.6 212.6 L587.9 212.6 L588.2 212.6 L588.5 212.6 L588.8 212.6 L589.1 212.6 L589.4 212.6 L589.7 212.6 L590 212.6 L590.3 212.6 L590.6 212.6 L590.9 212.6 L591.2 212.6 L591.5 212.6 L591.8 212.6 L592.1 212.6 L592.4 212.6 L592.7 212.6 L593 212.6 L593.3 212.6 L593.6 212.6 L593.9 212.6 L594.2 212.6 L594.5 212.6 L594.8 212.6 L595.1 212.6 L595.4 212.6 L595.7 212.6 L596 212.6 L596.3 212.6 L596.6 212.6 L596.9 212.6 L597.2 212.6 L597.5 212.6 L597.8 212.6 L598.1 212.6 L598.4 212.6 L598.7 212.6 L599 212.6 L599.3 212.6 L599.6 212.6" fill="none" stroke="#ff4545" stroke-width="1.25" stroke-linejoin="round"/>
<path d="M533 205 L533.3 205 L533.6 205 L533.9 205 L534.2 205 L534.5 205 L534.8 205 L535.1 205 L535.4 205 L535.7 205 L536 205 L536.3 205 L536.6 205 L536.9 205 L537.2 205 L537.5 205 L537.8 205 L538.1 205 L538.4 205 L538.7 205 L539 205 L539.3 205 L539.6 205 L539.9 205 L540.2 205 L540.5 205 L540.8 205 L541.1 205 L541.4 205 L541.7 205 L542 205 L542.3 205 L542.6 205 L542.9 205 L543.2 205 L543.5 205 L543.8 205 L544.1 205 L544.4 205 L544.7 205 L545 205 L545.3 205 L545.6 205 L545.9 205 L546.2 205 L546.5 205 L546.8 205 L547.1 205 L547.4 205 L547.7 205 L548 205 L548.3 205 L548.6 205 L548.9 205 L549.2 205 L549.5 205 L549.8 205 L550.1 205 L550.4 205 L550.7 205 L551 205 L551.3 205 L551.6 205 L551.9 205 L552.2 205 L552.5 205 L552.8 205 L553.1 205 L553.4 205 L553.7 205 L554 204.99 L554.3 204.99 L554.6 204.98 L554.9 204.95 L555.2 204.88 L555.5 204.73 L555.8 204.44 L556.1 203.9 L556.4 203.05 L556.7 201.86 L557 200.4 L557.3 198.91 L557.6 197.69 L557.9 197.05 L558.2 197.17 L558.5 198 L558.8 199.33 L559.1 200.81 L559.4 202.17 L559.7 203.22 L560 203.93 L560.3 204.35 L560.6 204.55 L560.9 204.63 L561.2 204.64 L561.5 204.62 L561.8 204.58 L562.1 204.54 L562.4 204.49 L562.7 204.44 L563 204.38 L563.3 204.33 L563.6 204.27 L563.9 204.21 L564.2 204.15 L564.5 204.09 L564.8 204.03 L565.1 203.97 L565.4 203.91 L565.7 203.85 L566 203.8 L566.3 203.75 L566.6 203.7 L566.9 203.65 L567.2 203.62 L567.5 203.58 L567.8 203.55 L568.1 203.53 L568.4 203.51 L568.7 203.5 L569 203.5 L569.3 203.5 L569.6 203.51 L569.9 203.53 L570.2 203.55 L570.5 203.57 L570.8 203.61 L571.1 203.64 L571.4 203.68 L571.7 203.72 L572 203.77 L572.3 203.81 L572.6 203.86 L572.9 203.9 L573.2 203.94 L573.5 203.97 L573.8 204 L574.1 204.02 L574.4 204.03 L574.7 204.03 L575 204.01 L575.3 203.98 L575.6 203.92 L575.9 203.83 L576.2 203.67 L576.5 203.4 L576.8 202.93 L577.1 202.12 L577.4 200.76 L577.7 198.56 L578 195.18 L578.3 190.31 L578.6 183.75 L578.9 175.51 L579.2 165.99 L579.5 155.98 L579.8 146.59 L580.1 139.07 L580.4 134.56 L580.7 133.77 L581 136.82 L581.3 143.17 L581.6 151.83 L581.9 161.55 L582.2 171.14 L582.5 179.7 L582.8 186.72 L583.1 192.05 L583.4 195.85 L583.7 198.39 L584 200.03 L584.3 201.06 L584.6 201.72 L584.9 202.16 L585.2 202.49 L585.5 202.77 L585.8 203.01 L586.1 203.23 L586.4 203.44 L586.7 203.64 L587 203.82 L587.3 203.98 L587.6 204.13 L587.9 204.27 L588.2 204.39 L588.5 204.49 L588.8 204.58 L589.1 204.66 L589.4 204.72 L589.7 204.78 L590 204.82 L590.3 204.86 L590.6 204.89 L590.9 204.92 L591.2 204.94 L591.5 204.95 L591.8 204.96 L592.1 204.97 L592.4 204.98 L592.7 204.99 L593 204.99 L593.3 204.99 L593.6 204.99 L593.9 205 L594.2 205 L594.5 205 L594.8 205 L595.1 205 L595.4 205 L595.7 205 L596 205 L596.3 205 L596.6 205 L596.9 205 L597.2 205 L597.5 205 L597.8 205 L598.1 205 L598.4 205 L598.7 205 L599 205 L599.3 205 L599.6 205 L599.9 205 L600.2 205 L600.5 205 L600.8 205 L601.1 205 L601.4 205 L601.7 205 L602 205 L602.3 205 L602.6 205 L602.9 205 L603.2 205 L603.5 205 L603.8 205 L604.1 205 L604.4 205 L604.7 205 L605 205 L605.3 205 L605.6 205 L605.9 205 L606.2 205 L606.5 205 L606.8 205 L607.1 205 L607.4 205 L607.7 205 L608 205 L608.3 205 L608.6 205 L608.9 205 L609.2 205 L609.5 205" fill="none" stroke="#d40a0a" stroke-width="1.25" stroke-linejoin="round"/>
<path d="M541.8 197.4 L542.1 197.4 L542.4 197.4 L542.7 197.4 L543 197.4 L543.3 197.4 L543.6 197.4 L543.9 197.4 L544.2 197.4 L544.5 197.4 L544.8 197.4 L545.1 197.4 L545.4 197.4 L545.7 197.4 L546 197.4 L546.3 197.4 L546.6 197.4 L546.9 197.4 L547.2 197.4 L547.5 197.4 L547.8 197.4 L548.1 197.4 L548.4 197.4 L548.7 197.4 L549 197.4 L549.3 197.4 L549.6 197.4 L549.9 197.4 L550.2 197.4 L550.5 197.4 L550.8 197.4 L551.1 197.4 L551.4 197.4 L551.7 197.4 L552 197.4 L552.3 197.4 L552.6 197.4 L552.9 197.4 L553.2 197.4 L553.5 197.4 L553.8 197.4 L554.1 197.4 L554.4 197.4 L554.7 197.4 L555 197.4 L555.3 197.4 L555.6 197.4 L555.9 197.4 L556.2 197.4 L556.5 197.4 L556.8 197.4 L557.1 197.4 L557.4 197.4 L557.7 197.4 L558 197.4 L558.3 197.4 L558.6 197.4 L558.9 197.4 L559.2 197.4 L559.5 197.4 L559.8 197.4 L560.1 197.4 L560.4 197.4 L560.7 197.4 L561 197.4 L561.3 197.4 L561.6 197.4 L561.9 197.4 L562.2 197.4 L562.5 197.4 L562.8 197.4 L563.1 197.39 L563.4 197.39 L563.7 197.38 L564 197.35 L564.3 197.28 L564.6 197.13 L564.9 196.83 L565.2 196.33 L565.5 195.55 L565.8 194.52 L566.1 193.32 L566.4 192.16 L566.7 191.32 L567 191 L567.3 191.3 L567.6 192.13 L567.9 193.27 L568.2 194.45 L568.5 195.47 L568.8 196.22 L569.1 196.71 L569.4 196.98 L569.7 197.11 L570 197.15 L570.3 197.15 L570.6 197.14 L570.9 197.11 L571.2 197.08 L571.5 197.05 L571.8 197.01 L572.1 196.98 L572.4 196.94 L572.7 196.9 L573 196.86 L573.3 196.82 L573.6 196.78 L573.9 196.74 L574.2 196.7 L574.5 196.66 L574.8 196.62 L575.1 196.59 L575.4 196.55 L575.7 196.52 L576 196.49 L576.3 196.47 L576.6 196.45 L576.9 196.43 L577.2 196.42 L577.5 196.41 L577.8 196.4 L578.1 196.4 L578.4 196.4 L578.7 196.41 L579 196.42 L579.3 196.44 L579.6 196.45 L579.9 196.48 L580.2 196.5 L580.5 196.52 L580.8 196.55 L581.1 196.58 L581.4 196.6 L581.7 196.63 L582 196.65 L582.3 196.67 L582.6 196.68 L582.9 196.68 L583.2 196.68 L583.5 196.67 L583.8 196.64 L584.1 196.6 L584.4 196.54 L584.7 196.44 L585 196.28 L585.3 196.02 L585.6 195.58 L585.9 194.84 L586.2 193.62 L586.5 191.66 L586.8 188.67 L587.1 184.33 L587.4 178.41 L587.7 170.85 L588 161.86 L588.3 151.99 L588.6 142.15 L588.9 133.46 L589.2 127.05 L589.5 123.86 L589.8 124.34 L590.1 128.4 L590.4 135.42 L590.7 144.37 L591 154.11 L591.3 163.58 L591.6 171.98 L591.9 178.88 L592.2 184.17 L592.5 187.99 L592.8 190.59 L593.1 192.3 L593.4 193.4 L593.7 194.11 L594 194.59 L594.3 194.95 L594.6 195.23 L594.9 195.48 L595.2 195.7 L595.5 195.91 L595.8 196.1 L596.1 196.28 L596.4 196.44 L596.7 196.58 L597 196.71 L597.3 196.82 L597.6 196.92 L597.9 197.01 L598.2 197.08 L598.5 197.14 L598.8 197.19 L599.1 197.24 L599.4 197.27 L599.7 197.3 L600 197.32 L600.3 197.34 L600.6 197.36 L600.9 197.37 L601.2 197.38 L601.5 197.38 L601.8 197.39 L602.1 197.39 L602.4 197.39 L602.7 197.39 L603 197.4 L603.3 197.4 L603.6 197.4 L603.9 197.4 L604.2 197.4 L604.5 197.4 L604.8 197.4 L605.1 197.4 L605.4 197.4 L605.7 197.4 L606 197.4 L606.3 197.4 L606.6 197.4 L606.9 197.4 L607.2 197.4 L607.5 197.4 L607.8 197.4 L608.1 197.4 L608.4 197.4 L608.7 197.4 L609 197.4 L609.3 197.4 L609.6 197.4 L609.9 197.4 L610.2 197.4 L610.5 197.4 L610.8 197.4 L611.1 197.4 L611.4 197.4 L611.7 197.4 L612 197.4 L612.3 197.4 L612.6 197.4 L612.9 197.4 L613.2 197.4 L613.5 197.4 L613.8 197.4 L614.1 197.4 L614.4 197.4 L614.7 197.4 L615 197.4 L615.3 197.4 L615.6 197.4 L615.9 197.4 L616.2 197.4 L616.5 197.4 L616.8 197.4 L617.1 197.4 L617.4 197.4 L617.7 197.4 L618 197.4 L618.3 197.4 L618.6 197.4" fill="none" stroke="#6a0c0c" stroke-width="1.25" stroke-linejoin="round"/>
<text x="596" y="113.79">0 h</text>
<text x="604.9" y="106.79">8 h</text>
<text x="614.4" y="98.89">16 h</text>
<text x="622.4" y="89.69">24 h</text>
<text x="597" y="224.69">0 h</text>
<text x="605.4" y="217.49">6 h</text>
<text x="614.6" y="209.09">9 h</text>
<text x="622" y="200.69">12 h</text>
<text x="141" y="253.2" font-size="15.5" font-weight="bold">c</text>
<polyline points="156,297.4 174.4,294.2 192.4,291.6 210.6,289.4 228.6,287.2 247.4,285" fill="none" stroke="#c8c8c8" stroke-width="0.9"/>
<polyline points="156,296 174.4,296.4 192.4,293.2 210.6,291 228.6,288 247.4,284" fill="none" stroke="#f08a8a" stroke-width="0.9"/>
<polyline points="156,290 174.4,284.4 192.4,278.8 210.6,273.2 228.6,267.6 247.4,262" fill="none" stroke="#333" stroke-width="0.9"/>
<polyline points="156,296 174.4,280.6 192.4,275.6 210.6,271 228.6,267 247.4,266" fill="none" stroke="#ee3030" stroke-width="0.9"/>
<path d="M156 254V306.6H247.4M156 254h-2M156 264.52h-2M156 275.04h-2M156 285.56h-2M156 296.08h-2M156 306.6v2M174.4 306.6v2M192.4 306.6v2M210.6 306.6v2M228.6 306.6v2M247.4 306.6v2" fill="none" stroke="#222" stroke-width="0.9"/>
<text x="156" y="318.69" text-anchor="middle">1</text>
<text x="174.4" y="318.69" text-anchor="middle">2</text>
<text x="192.4" y="318.69" text-anchor="middle">3</text>
<text x="210.6" y="318.69" text-anchor="middle">4</text>
<text x="228.6" y="318.69" text-anchor="middle">5</text>
<text x="247.4" y="318.69" text-anchor="middle">6</text>
<text x="201.7" y="330.59" text-anchor="middle">Time point</text>
<text transform="translate(145.9 278.1) rotate(-90)" x="0" y="3.09" text-anchor="middle">U2OS</text>
<polyline points="156,373.6 174.4,374.4 192.4,370.6 210.6,368.6 228.6,365.6 247.4,361.6" fill="none" stroke="#ee3030" stroke-width="0.9"/>
<polyline points="156,375.6 174.4,373 192.4,370.4 210.6,367.8 228.6,365.2 247.4,362.6" fill="none" stroke="#333" stroke-width="1.1"/>
<path d="M156 332V384.4H247.4M156 332h-2M156 342.48h-2M156 352.96h-2M156 363.44h-2M156 373.92h-2M156 384.4v2M174.4 384.4v2M192.4 384.4v2M210.6 384.4v2M228.6 384.4v2M247.4 384.4v2" fill="none" stroke="#222" stroke-width="0.9"/>
<text x="156" y="396.49" text-anchor="middle">1</text>
<text x="174.4" y="396.49" text-anchor="middle">2</text>
<text x="192.4" y="396.49" text-anchor="middle">3</text>
<text x="210.6" y="396.49" text-anchor="middle">4</text>
<text x="228.6" y="396.49" text-anchor="middle">5</text>
<text x="247.4" y="396.49" text-anchor="middle">6</text>
<text x="201.7" y="408.39" text-anchor="middle">Time point</text>
<text transform="translate(145.9 356) rotate(-90)" x="0" y="3.09" text-anchor="middle">HCT116</text>
<defs><linearGradient id="cg" x1="0" y1="290" x2="0" y2="362" gradientUnits="userSpaceOnUse"><stop offset="0" stop-color="#8c8c8c"/><stop offset="0.5" stop-color="#bdbdbd"/><stop offset="1" stop-color="#858585"/></linearGradient></defs>
<path d="M258.1 296.4 L262.7 290.6 L263.2 293.8 L265.5 293.9 L269 297.4 L272.2 303.5 L274.5 313.2 L275.5 323.9 L274.9 335.5 L272.2 347.2 L267.3 355.7 L262.1 360 L258.3 361.8 L258.3 354 L263.6 351.1 L268.9 344.3 L272.4 335.5 L273.3 326.8 L272.5 318 L269.9 310.5 L268.6 306.2 L266.2 303.3 L263.2 302 L262.5 303.9 Z" fill="url(#cg)"/>
<text x="303" y="317.09" text-anchor="middle">Prediction</text>
<text x="303" y="327.49" text-anchor="middle">and</text>
<text x="303" y="338.09" text-anchor="middle">correlation</text>
<path d="M377 398V280H380V398ZM380 398V280.8H382.6V398ZM382.6 398V288.7H385.6V398ZM385.6 398V289H388.3V398ZM388.3 398V290H394.8V398ZM394.8 398V291.8H397V398ZM397 398V293H399.2V398ZM399.2 398V295.3H402.3V398ZM402.3 398V299.2H404V398ZM404 398V302H408.4V398ZM408.4 398V303H413.7V398ZM413.7 398V305H415.9V398ZM415.9 398V308.2H419.8V398ZM419.8 398V309.7H421.1V398ZM421.1 398V310.3H427V398ZM427 398V312.8H428.3V398ZM428.3 398V313.3H429.7V398ZM429.7 398V317.6H431.6V398ZM431.6 398V320H433V398ZM433 398V321.8H435V398ZM435 398V330.2H439.2V398ZM439.2 398V331.3H445V398ZM445 398V338H447.8V398ZM447.8 398V340.8H449.7V398ZM449.7 398V344.1H451.6V398ZM451.6 398V347.4H453.5V398ZM453.5 398V350.3H455.4V398ZM455.4 398V351.2H457.7V398ZM457.7 398V353.6H460.1V398ZM460.1 398V356H462V398ZM462 398V357.4H463.4V398ZM463.4 398V361H485.3V398Z" fill="#d4d6fb"/>
<path d="M378.3 398V277.6M379.54 398V277.6M380.78 398V277.6M382.02 398V277.6M383.26 398V277.6M384.5 398V277.6M385.74 398V277.6M386.98 398V277.6M388.22 398V277.6M389.46 398V277.6M390.7 398V277.6M391.94 398V277.6M393.18 398V277.6M394.42 398V277.6M395.66 398V277.6M396.9 398V277.6M398.14 398V277.6M399.38 398V277.6M400.62 398V277.6M401.86 398V277.6M403.1 398V277.6M404.34 398V277.6M405.58 398V277.6M406.82 398V277.6M408.06 398V277.6M409.3 398V277.6M410.54 398V277.6M411.78 398V277.6M413.02 398V277.6M414.26 398V277.6M415.5 398V277.6M416.74 398V277.6M417.98 398V277.6M419.22 398V277.6M420.46 398V277.6M421.7 398V277.6M422.94 398V277.6M424.18 398V277.6M425.42 398V277.6M426.66 398V277.6M427.9 398V277.6M429.14 398V277.6M430.38 398V277.6M431.62 398V277.6M432.86 398V277.6M434.1 398V277.6M435.34 398V277.6M436.58 398V277.6M437.82 398V277.6M439.06 398V277.6M440.3 398V277.6M441.54 398V277.6M442.78 398V277.6M444.02 398V277.6M445.26 398V277.6M446.5 398V277.6M447.74 398V277.6M448.98 398V277.6M450.22 398V277.6M451.46 398V277.6M452.7 398V277.6M453.94 398V277.6M455.18 398V277.6M456.42 398V277.6M457.66 398V277.6M458.9 398V277.6M460.14 398V277.6M461.38 398V277.6M462.62 398V277.6M463.86 398V277.6M465.1 398V277.6M466.34 398V277.6M467.58 398V277.6M468.82 398V277.6M470.06 398V277.6M471.3 398V277.6M472.54 398V277.6M473.78 398V277.6M475.02 398V277.6M476.26 398V277.6M477.5 398V277.6M478.74 398V277.6M479.98 398V277.6M481.22 398V277.6M482.46 398V277.6M483.7 398V277.6M484.94 398V277.6" stroke="#fff" stroke-width="0.5" opacity="0.85"/>
<path d="M485.5 398V364.9H490V398ZM490 398V366.1H492.5V398ZM492.5 398V367.3H496V398ZM496 398V369H497.5V398ZM497.5 398V370.6H505.7V398ZM505.7 398V373.1H512V398ZM512 398V374.1H516.5V398ZM516.5 398V374.9H519V398ZM519 398V376.6H523V398ZM523 398V379H537V398ZM537 398V380.1H539V398ZM539 398V381.1H558V398ZM558 398V383H562V398ZM562 398V386.6H575V398ZM575 398V387.6H595V398ZM595 398V390.2H600V398ZM600 398V393H625V398Z" fill="#b4b6fc"/>
<path d="M485.6 398V364.3h1.25V398ZM487.27 398V364.3h1.25V398ZM488.94 398V364.3h1.25V398ZM490.61 398V365.5h1.25V398ZM492.28 398V366.7h1.25V398ZM493.95 398V366.7h1.25V398ZM495.62 398V368.4h0.55V398ZM497.29 398V370h1.25V398ZM498.96 398V370h1.25V398ZM500.63 398V370h1.25V398ZM502.3 398V370h1.25V398ZM503.97 398V370h0.55V398ZM505.64 398V372.5h1.25V398ZM507.31 398V372.5h1.25V398ZM508.98 398V372.5h1.25V398ZM510.65 398V372.5h1.25V398ZM512.32 398V373.5h0.55V398ZM513.99 398V373.5h1.25V398ZM515.66 398V373.5h1.25V398ZM517.33 398V374.3h1.25V398ZM519 398V376h1.25V398ZM520.67 398V376h1.25V398ZM522.34 398V376h1.25V398ZM524.01 398V378.4h1.25V398ZM525.68 398V378.4h1.25V398ZM527.35 398V378.4h1.25V398ZM529.02 398V378.4h0.55V398ZM530.69 398V378.4h1.25V398ZM532.36 398V378.4h1.25V398ZM534.03 398V378.4h1.25V398ZM535.7 398V378.4h1.25V398ZM537.37 398V379.5h1.25V398ZM539.04 398V380.5h1.25V398ZM540.71 398V380.5h1.25V398ZM542.38 398V380.5h1.25V398ZM544.05 398V380.5h1.25V398ZM545.72 398V380.5h1.25V398ZM547.39 398V380.5h1.25V398ZM549.06 398V380.5h1.25V398ZM550.73 398V380.5h1.25V398ZM552.4 398V380.5h1.25V398ZM554.07 398V380.5h1.25V398ZM555.74 398V380.5h1.25V398ZM557.41 398V382.4h1.25V398ZM559.08 398V382.4h1.25V398ZM560.75 398V382.4h0.55V398ZM562.42 398V386h1.25V398ZM564.09 398V386h1.25V398ZM565.76 398V386h0.55V398ZM567.43 398V386h1.25V398ZM569.1 398V386h1.25V398ZM570.77 398V386h1.25V398ZM572.44 398V386h1.25V398ZM574.11 398V386h1.25V398ZM575.78 398V387h1.25V398ZM577.45 398V387h1.25V398ZM579.12 398V387h1.25V398ZM580.79 398V387h0.55V398ZM582.46 398V387h1.25V398ZM584.13 398V387h0.55V398ZM585.8 398V387h1.25V398ZM587.47 398V387h1.25V398ZM589.14 398V387h0.55V398ZM590.81 398V387h1.25V398ZM592.48 398V387h1.25V398ZM594.15 398V387h1.25V398ZM595.82 398V389.6h0.55V398ZM597.49 398V389.6h0.55V398ZM599.16 398V389.6h1.25V398ZM600.83 398V392.4h1.25V398ZM602.5 398V392.4h1.25V398ZM604.17 398V392.4h1.25V398ZM605.84 398V392.4h1.25V398ZM607.51 398V392.4h1.25V398ZM609.18 398V392.4h1.25V398ZM610.85 398V392.4h1.25V398ZM612.52 398V392.4h1.25V398ZM614.19 398V392.4h1.25V398ZM615.86 398V392.4h0.55V398ZM617.53 398V392.4h1.25V398ZM619.2 398V392.4h1.25V398ZM620.87 398V392.4h1.25V398ZM622.54 398V392.4h0.55V398ZM624.21 398V392.4h0.89V398Z" fill="#3436fb"/>
<g fill="#6c6ef2"><rect x="377.5" y="337.18" width="1.4" height="1"/><rect x="380.4" y="335.81" width="1.4" height="1"/><rect x="381.85" y="333.95" width="1.4" height="1"/><rect x="386.2" y="332.23" width="1.4" height="1"/><rect x="389.1" y="332.3" width="1.4" height="1"/><rect x="390.55" y="331.24" width="1.4" height="1"/><rect x="393.45" y="331.56" width="1.4" height="1"/><rect x="394.9" y="330.98" width="1.4" height="1"/><rect x="397.8" y="329.92" width="1.4" height="1"/><rect x="399.25" y="328.33" width="1.4" height="1"/><rect x="400.7" y="327.65" width="1.4" height="1"/><rect x="402.15" y="327.49" width="1.4" height="1"/><rect x="403.6" y="326.4" width="1.4" height="1"/><rect x="405.05" y="326.24" width="1.4" height="1"/><rect x="412.3" y="325.37" width="1.4" height="1"/><rect x="413.75" y="325.21" width="1.4" height="1"/><rect x="416.65" y="323.42" width="1.4" height="1"/><rect x="418.1" y="323.57" width="1.4" height="1"/><rect x="419.55" y="322.71" width="1.4" height="1"/><rect x="422.45" y="322.02" width="1.4" height="1"/><rect x="423.9" y="321.73" width="1.4" height="1"/><rect x="425.35" y="320.77" width="1.4" height="1"/><rect x="428.25" y="319.76" width="1.4" height="1"/><rect x="431.15" y="317.33" width="1.4" height="1"/><rect x="432.6" y="315.69" width="1.4" height="1"/><rect x="434.05" y="315.25" width="1.4" height="1"/><rect x="435.5" y="313.69" width="1.4" height="1"/><rect x="436.95" y="312.97" width="1.4" height="1"/><rect x="438.4" y="313.43" width="1.4" height="1"/><rect x="441.3" y="312.34" width="1.4" height="1"/><rect x="442.75" y="312.58" width="1.4" height="1"/><rect x="444.2" y="311.01" width="1.4" height="1"/><rect x="445.65" y="309.41" width="1.4" height="1"/><rect x="448.55" y="308.15" width="1.4" height="1"/><rect x="450" y="307.02" width="1.4" height="1"/><rect x="451.45" y="306.29" width="1.4" height="1"/><rect x="454.35" y="304.66" width="1.4" height="1"/><rect x="455.8" y="304.34" width="1.4" height="1"/><rect x="457.25" y="303.9" width="1.4" height="1"/><rect x="458.7" y="303.17" width="1.4" height="1"/><rect x="460.15" y="302.94" width="1.4" height="1"/><rect x="461.6" y="302.34" width="1.4" height="1"/><rect x="463.05" y="301.41" width="1.4" height="1"/><rect x="464.5" y="300.46" width="1.4" height="1"/><rect x="465.95" y="300.48" width="1.4" height="1"/><rect x="468.85" y="300.64" width="1.4" height="1"/><rect x="471.75" y="300.55" width="1.4" height="1"/><rect x="474.65" y="299.87" width="1.4" height="1"/><rect x="476.1" y="300.17" width="1.4" height="1"/><rect x="477.55" y="299.77" width="1.4" height="1"/><rect x="480.45" y="299.47" width="1.4" height="1"/><rect x="481.9" y="299.79" width="1.4" height="1"/><rect x="483.35" y="299.36" width="1.4" height="1"/><rect x="484.8" y="298.99" width="1.4" height="1"/><rect x="486.25" y="299.05" width="1.4" height="1"/><rect x="487.7" y="298.8" width="1.4" height="1"/><rect x="489.15" y="297.57" width="1.4" height="1"/><rect x="490.6" y="297.76" width="1.4" height="1"/><rect x="492.05" y="297.07" width="1.4" height="1"/><rect x="493.5" y="296.82" width="1.4" height="1"/><rect x="494.95" y="296.41" width="1.4" height="1"/><rect x="496.4" y="296.49" width="1.4" height="1"/><rect x="497.85" y="295.98" width="1.4" height="1"/><rect x="499.3" y="295.81" width="1.4" height="1"/><rect x="500.75" y="295" width="1.4" height="1"/><rect x="502.2" y="295.29" width="1.4" height="1"/><rect x="503.65" y="295.11" width="1.4" height="1"/><rect x="506.55" y="293.94" width="1.4" height="1"/><rect x="508" y="293.65" width="1.4" height="1"/><rect x="509.45" y="293.6" width="1.4" height="1"/><rect x="510.9" y="293.12" width="1.4" height="1"/><rect x="512.35" y="292.9" width="1.4" height="1"/><rect x="513.8" y="292.96" width="1.4" height="1"/><rect x="515.25" y="292.17" width="1.4" height="1"/><rect x="516.7" y="291.99" width="1.4" height="1"/><rect x="518.15" y="292.07" width="1.4" height="1"/><rect x="519.6" y="292.08" width="1.4" height="1"/><rect x="521.05" y="290.88" width="1.4" height="1"/><rect x="522.5" y="291.04" width="1.4" height="1"/><rect x="525.4" y="290.5" width="1.4" height="1"/><rect x="526.85" y="290.92" width="1.4" height="1"/><rect x="528.3" y="290.2" width="1.4" height="1"/><rect x="529.75" y="290.31" width="1.4" height="1"/><rect x="532.65" y="289.28" width="1.4" height="1"/><rect x="534.1" y="289.78" width="1.4" height="1"/><rect x="535.55" y="289.33" width="1.4" height="1"/><rect x="537" y="288.91" width="1.4" height="1"/><rect x="538.45" y="288.48" width="1.4" height="1"/><rect x="539.9" y="288.88" width="1.4" height="1"/><rect x="541.35" y="288.23" width="1.4" height="1"/><rect x="545.7" y="288.06" width="1.4" height="1"/><rect x="547.15" y="288.13" width="1.4" height="1"/><rect x="548.6" y="287.27" width="1.4" height="1"/><rect x="550.05" y="287.71" width="1.4" height="1"/><rect x="551.5" y="287.05" width="1.4" height="1"/><rect x="552.95" y="287.36" width="1.4" height="1"/><rect x="554.4" y="286.58" width="1.4" height="1"/><rect x="555.85" y="286.74" width="1.4" height="1"/><rect x="557.3" y="286.61" width="1.4" height="1"/><rect x="558.75" y="286.8" width="1.4" height="1"/><rect x="560.2" y="286.76" width="1.4" height="1"/><rect x="561.65" y="286.3" width="1.4" height="1"/><rect x="564.55" y="286.05" width="1.4" height="1"/><rect x="566" y="286.04" width="1.4" height="1"/><rect x="567.45" y="285.61" width="1.4" height="1"/><rect x="568.9" y="284.84" width="1.4" height="1"/><rect x="570.35" y="284.95" width="1.4" height="1"/><rect x="571.8" y="284.35" width="1.4" height="1"/><rect x="573.25" y="284.31" width="1.4" height="1"/><rect x="576.15" y="284.01" width="1.4" height="1"/><rect x="577.6" y="284.33" width="1.4" height="1"/><rect x="579.05" y="283.79" width="1.4" height="1"/><rect x="581.95" y="283.46" width="1.4" height="1"/><rect x="583.4" y="282.6" width="1.4" height="1"/><rect x="584.85" y="282.72" width="1.4" height="1"/><rect x="587.75" y="282.28" width="1.4" height="1"/><rect x="589.2" y="281.9" width="1.4" height="1"/><rect x="590.65" y="281.92" width="1.4" height="1"/><rect x="592.1" y="282.12" width="1.4" height="1"/><rect x="595" y="281.31" width="1.4" height="1"/><rect x="596.45" y="280.57" width="1.4" height="1"/><rect x="597.9" y="281.23" width="1.4" height="1"/><rect x="599.35" y="280.68" width="1.4" height="1"/><rect x="600.8" y="279.9" width="1.4" height="1"/><rect x="603.7" y="279.56" width="1.4" height="1"/><rect x="605.15" y="278.99" width="1.4" height="1"/><rect x="606.6" y="278.81" width="1.4" height="1"/><rect x="608.05" y="278.41" width="1.4" height="1"/><rect x="609.5" y="278.57" width="1.4" height="1"/><rect x="610.95" y="278.39" width="1.4" height="1"/><rect x="612.4" y="278.77" width="1.4" height="1"/><rect x="613.85" y="279.03" width="1.4" height="1"/><rect x="615.3" y="278.41" width="1.4" height="1"/><rect x="616.75" y="278.95" width="1.4" height="1"/><rect x="618.2" y="278.8" width="1.4" height="1"/><rect x="619.65" y="278.96" width="1.4" height="1"/><rect x="621.1" y="278.32" width="1.4" height="1"/><rect x="624" y="277.06" width="1.4" height="1"/><rect x="625.45" y="277.23" width="1.4" height="1"/><rect x="383.45" y="341.4" width="1.1" height="0.9"/><rect x="384.9" y="342.65" width="1.1" height="0.9"/><rect x="386.35" y="343.02" width="1.1" height="0.9"/><rect x="387.8" y="342.87" width="1.1" height="0.9"/><rect x="390.7" y="344.17" width="1.1" height="0.9"/><rect x="392.15" y="343.82" width="1.1" height="0.9"/><rect x="393.6" y="344.49" width="1.1" height="0.9"/><rect x="395.05" y="345.07" width="1.1" height="0.9"/><rect x="396.5" y="345.05" width="1.1" height="0.9"/><rect x="399.4" y="346.53" width="1.1" height="0.9"/><rect x="405.2" y="349.88" width="1.1" height="0.9"/><rect x="408.1" y="350.34" width="1.1" height="0.9"/><rect x="413.9" y="351.45" width="1.1" height="0.9"/><rect x="415.35" y="351.38" width="1.1" height="0.9"/><rect x="418.25" y="352.61" width="1.1" height="0.9"/><rect x="421.15" y="353.82" width="1.1" height="0.9"/><rect x="422.6" y="354.03" width="1.1" height="0.9"/><rect x="426.95" y="354.92" width="1.1" height="0.9"/><rect x="429.85" y="356.17" width="1.1" height="0.9"/><rect x="431.3" y="357.32" width="1.1" height="0.9"/><rect x="435.65" y="359.65" width="1.1" height="0.9"/><rect x="437.1" y="360.01" width="1.1" height="0.9"/><rect x="444.35" y="364.58" width="1.1" height="0.9"/><rect x="445.8" y="365.17" width="1.1" height="0.9"/><rect x="453.05" y="368.75" width="1.1" height="0.9"/><rect x="454.5" y="368.89" width="1.1" height="0.9"/><rect x="455.95" y="370.18" width="1.1" height="0.9"/><rect x="461.75" y="372.31" width="1.1" height="0.9"/><rect x="464.65" y="373.98" width="1.1" height="0.9"/></g>
<line x1="377" y1="362.1" x2="625.6" y2="362.1" stroke="#f7922a" stroke-width="1.4"/>
<line x1="485" y1="279.8" x2="485" y2="398" stroke="#f7922a" stroke-width="1.3" stroke-dasharray="3.3 2.7"/>
<path d="M377 277.6V398H625.6V277.6M377 398h-3.4M377 385.96h-3.4M377 373.92h-3.4M377 361.88h-3.4M377 349.84h-3.4M377 337.8h-3.4M377 325.76h-3.4M377 313.72h-3.4M377 301.68h-3.4M377 289.64h-3.4M377 277.6h-3.4M625.6 398h3.2M625.6 367.9h3.2M625.6 337.8h3.2M625.6 307.7h3.2M625.6 277.6h3.2" fill="none" stroke="#111" stroke-width="1.25"/>
<text x="369.3" y="401.09" text-anchor="end">0</text>
<text x="369.3" y="389.05" text-anchor="end">0.1</text>
<text x="369.3" y="377.01" text-anchor="end">0.2</text>
<text x="369.3" y="364.97" text-anchor="end">0.3</text>
<text x="369.3" y="352.93" text-anchor="end">0.4</text>
<text x="369.3" y="340.89" text-anchor="end">0.5</text>
<text x="369.3" y="328.85" text-anchor="end">0.6</text>
<text x="369.3" y="316.81" text-anchor="end">0.7</text>
<text x="369.3" y="304.77" text-anchor="end">0.8</text>
<text x="369.3" y="292.73" text-anchor="end">0.9</text>
<text x="369.3" y="280.69" text-anchor="end">1.0</text>
<text x="632.8" y="401.09">−1.0</text>
<text x="632.8" y="370.99">−0.5</text>
<text x="632.8" y="340.89">0</text>
<text x="632.8" y="310.79">0.5</text>
<text x="632.8" y="280.69">1.0</text>
<text transform="translate(346.6 337.5) rotate(-90)" x="0" y="3.09" text-anchor="middle">FDR (bar)</text>
<text transform="translate(662 337.5) rotate(90)" x="0" y="3.09" text-anchor="middle"><tspan font-style="italic">r</tspan> (dot)</text>
<text x="491.6" y="356.09">FDR cutoff &lt; 0.3</text>
<text x="487" y="411.09">Protein</text>
<rect x="396" y="261.2" width="16" height="8.3" fill="#bdbffb"/>
<text x="415.6" y="269.16" font-size="10.6">Exclusion</text>
<rect x="513" y="261.2" width="16.5" height="8.4" fill="#0000fa"/>
<text x="535" y="269.56" font-size="10.6">Inclusion</text>
<path d="M139 423.2L485 398.2" stroke="#111" stroke-width="1.1"/>
<path d="M684 423.2L625.6 398.2" stroke="#111" stroke-width="1.1"/>
<g shape-rendering="crispEdges"><rect x="139" y="423.2" width="6.54" height="5.6" fill="#cad6ea"/><rect x="139" y="428.75" width="6.54" height="5.6" fill="#cad6eb"/><rect x="139" y="434.3" width="6.54" height="5.6" fill="#d0dcf0"/><rect x="139" y="439.85" width="6.54" height="5.6" fill="#cbd7ec"/><rect x="139" y="445.4" width="6.54" height="5.6" fill="#d1ddf0"/><rect x="139" y="450.95" width="6.54" height="5.6" fill="#ccd8ed"/><rect x="139" y="456.5" width="6.54" height="5.6" fill="#c9d7ee"/><rect x="139" y="462.05" width="6.54" height="5.6" fill="#c3d2eb"/><rect x="139" y="467.6" width="6.54" height="5.6" fill="#c3d1ea"/><rect x="139" y="473.15" width="6.54" height="5.6" fill="#c4d3ec"/><rect x="139" y="478.7" width="6.54" height="5.6" fill="#c0cfe7"/><rect x="139" y="484.25" width="6.54" height="5.6" fill="#c5d3ec"/><rect x="145.49" y="423.2" width="6.54" height="5.6" fill="#e1e8f4"/><rect x="145.49" y="428.75" width="6.54" height="5.6" fill="#dde3f0"/><rect x="145.49" y="434.3" width="6.54" height="5.6" fill="#e5ebf6"/><rect x="145.49" y="439.85" width="6.54" height="5.6" fill="#e1e7f4"/><rect x="145.49" y="445.4" width="6.54" height="5.6" fill="#dde3ef"/><rect x="145.49" y="450.95" width="6.54" height="5.6" fill="#e5ebf6"/><rect x="145.49" y="456.5" width="6.54" height="5.6" fill="#e0e6f2"/><rect x="145.49" y="462.05" width="6.54" height="5.6" fill="#e0e6f3"/><rect x="145.49" y="467.6" width="6.54" height="5.6" fill="#dde3f0"/><rect x="145.49" y="473.15" width="6.54" height="5.6" fill="#dee4f1"/><rect x="145.49" y="478.7" width="6.54" height="5.6" fill="#e4eaf6"/><rect x="145.49" y="484.25" width="6.54" height="5.6" fill="#e3e9f6"/><rect x="151.98" y="423.2" width="6.54" height="5.6" fill="#f8f4f8"/><rect x="151.98" y="428.75" width="6.54" height="5.6" fill="#f5f1f5"/><rect x="151.98" y="434.3" width="6.54" height="5.6" fill="#f5f1f5"/><rect x="151.98" y="439.85" width="6.54" height="5.6" fill="#f9f5f9"/><rect x="151.98" y="445.4" width="6.54" height="5.6" fill="#f6f2f6"/><rect x="151.98" y="450.95" width="6.54" height="5.6" fill="#f9f5f9"/><rect x="151.98" y="456.5" width="6.54" height="5.6" fill="#fcf1f3"/><rect x="151.98" y="462.05" width="6.54" height="5.6" fill="#f7ebee"/><rect x="151.98" y="467.6" width="6.54" height="5.6" fill="#fcf0f3"/><rect x="151.98" y="473.15" width="6.54" height="5.6" fill="#f6eaed"/><rect x="151.98" y="478.7" width="6.54" height="5.6" fill="#fcf0f3"/><rect x="151.98" y="484.25" width="6.54" height="5.6" fill="#fcf0f3"/><rect x="158.46" y="423.2" width="6.54" height="5.6" fill="#b7cce6"/><rect x="158.46" y="428.75" width="6.54" height="5.6" fill="#b5cae5"/><rect x="158.46" y="434.3" width="6.54" height="5.6" fill="#b9cde6"/><rect x="158.46" y="439.85" width="6.54" height="5.6" fill="#b1c6e1"/><rect x="158.46" y="445.4" width="6.54" height="5.6" fill="#b5cae5"/><rect x="158.46" y="450.95" width="6.54" height="5.6" fill="#b2c7e2"/><rect x="158.46" y="456.5" width="6.54" height="5.6" fill="#b4c8e4"/><rect x="158.46" y="462.05" width="6.54" height="5.6" fill="#b2c6e1"/><rect x="158.46" y="467.6" width="6.54" height="5.6" fill="#b8cce6"/><rect x="158.46" y="473.15" width="6.54" height="5.6" fill="#b6cae5"/><rect x="158.46" y="478.7" width="6.54" height="5.6" fill="#b9cce6"/><rect x="158.46" y="484.25" width="6.54" height="5.6" fill="#b6cbe5"/><rect x="164.95" y="423.2" width="6.54" height="5.6" fill="#f8a6a9"/><rect x="164.95" y="428.75" width="6.54" height="5.6" fill="#f8acaf"/><rect x="164.95" y="434.3" width="6.54" height="5.6" fill="#f8aaad"/><rect x="164.95" y="439.85" width="6.54" height="5.6" fill="#f8a6a9"/><rect x="164.95" y="445.4" width="6.54" height="5.6" fill="#f6a3a6"/><rect x="164.95" y="450.95" width="6.54" height="5.6" fill="#f8acaf"/><rect x="164.95" y="456.5" width="6.54" height="5.6" fill="#f49b9e"/><rect x="164.95" y="462.05" width="6.54" height="5.6" fill="#f1999c"/><rect x="164.95" y="467.6" width="6.54" height="5.6" fill="#f49b9e"/><rect x="164.95" y="473.15" width="6.54" height="5.6" fill="#f6a0a3"/><rect x="164.95" y="478.7" width="6.54" height="5.6" fill="#f6a5a8"/><rect x="164.95" y="484.25" width="6.54" height="5.6" fill="#f69fa2"/><rect x="171.44" y="423.2" width="6.54" height="5.6" fill="#e8eef8"/><rect x="171.44" y="428.75" width="6.54" height="5.6" fill="#e9eff8"/><rect x="171.44" y="434.3" width="6.54" height="5.6" fill="#e8eef8"/><rect x="171.44" y="439.85" width="6.54" height="5.6" fill="#e6edf7"/><rect x="171.44" y="445.4" width="6.54" height="5.6" fill="#e6edf7"/><rect x="171.44" y="450.95" width="6.54" height="5.6" fill="#e8eef8"/><rect x="171.44" y="456.5" width="6.54" height="5.6" fill="#ebeff7"/><rect x="171.44" y="462.05" width="6.54" height="5.6" fill="#e9edf5"/><rect x="171.44" y="467.6" width="6.54" height="5.6" fill="#eef2fa"/><rect x="171.44" y="473.15" width="6.54" height="5.6" fill="#eef2fa"/><rect x="171.44" y="478.7" width="6.54" height="5.6" fill="#eaeef7"/><rect x="171.44" y="484.25" width="6.54" height="5.6" fill="#eef2fa"/><rect x="177.93" y="423.2" width="6.54" height="5.6" fill="#c6d5ed"/><rect x="177.93" y="428.75" width="6.54" height="5.6" fill="#bdcee7"/><rect x="177.93" y="434.3" width="6.54" height="5.6" fill="#becee7"/><rect x="177.93" y="439.85" width="6.54" height="5.6" fill="#c1d2eb"/><rect x="177.93" y="445.4" width="6.54" height="5.6" fill="#bfd0e9"/><rect x="177.93" y="450.95" width="6.54" height="5.6" fill="#c7d6ed"/><rect x="177.93" y="456.5" width="6.54" height="5.6" fill="#c7d6ed"/><rect x="177.93" y="462.05" width="6.54" height="5.6" fill="#c1d1ea"/><rect x="177.93" y="467.6" width="6.54" height="5.6" fill="#c5d4ec"/><rect x="177.93" y="473.15" width="6.54" height="5.6" fill="#c3d3ec"/><rect x="177.93" y="478.7" width="6.54" height="5.6" fill="#becee7"/><rect x="177.93" y="484.25" width="6.54" height="5.6" fill="#c7d6ed"/><rect x="184.42" y="423.2" width="6.54" height="5.6" fill="#cedbeb"/><rect x="184.42" y="428.75" width="6.54" height="5.6" fill="#cddaea"/><rect x="184.42" y="434.3" width="6.54" height="5.6" fill="#d1deef"/><rect x="184.42" y="439.85" width="6.54" height="5.6" fill="#cdd9e9"/><rect x="184.42" y="445.4" width="6.54" height="5.6" fill="#d2deef"/><rect x="184.42" y="450.95" width="6.54" height="5.6" fill="#d1ddee"/><rect x="184.42" y="456.5" width="6.54" height="5.6" fill="#dae3f3"/><rect x="184.42" y="462.05" width="6.54" height="5.6" fill="#d5e0f0"/><rect x="184.42" y="467.6" width="6.54" height="5.6" fill="#d9e3f2"/><rect x="184.42" y="473.15" width="6.54" height="5.6" fill="#d8e2f2"/><rect x="184.42" y="478.7" width="6.54" height="5.6" fill="#d7e1f2"/><rect x="184.42" y="484.25" width="6.54" height="5.6" fill="#d3deee"/><rect x="190.9" y="423.2" width="6.54" height="5.6" fill="#f5cccf"/><rect x="190.9" y="428.75" width="6.54" height="5.6" fill="#f8ced1"/><rect x="190.9" y="434.3" width="6.54" height="5.6" fill="#f6cdd0"/><rect x="190.9" y="439.85" width="6.54" height="5.6" fill="#f8d0d3"/><rect x="190.9" y="445.4" width="6.54" height="5.6" fill="#f8ced1"/><rect x="190.9" y="450.95" width="6.54" height="5.6" fill="#f6cccf"/><rect x="190.9" y="456.5" width="6.54" height="5.6" fill="#f8cbce"/><rect x="190.9" y="462.05" width="6.54" height="5.6" fill="#f8cfd2"/><rect x="190.9" y="467.6" width="6.54" height="5.6" fill="#f4c7ca"/><rect x="190.9" y="473.15" width="6.54" height="5.6" fill="#f6c8cb"/><rect x="190.9" y="478.7" width="6.54" height="5.6" fill="#f2c5c8"/><rect x="190.9" y="484.25" width="6.54" height="5.6" fill="#f3c6c9"/><rect x="197.39" y="423.2" width="6.54" height="5.6" fill="#f4dadd"/><rect x="197.39" y="428.75" width="6.54" height="5.6" fill="#f9dee1"/><rect x="197.39" y="434.3" width="6.54" height="5.6" fill="#fae1e4"/><rect x="197.39" y="439.85" width="6.54" height="5.6" fill="#fae0e3"/><rect x="197.39" y="445.4" width="6.54" height="5.6" fill="#fae2e5"/><rect x="197.39" y="450.95" width="6.54" height="5.6" fill="#fae1e4"/><rect x="197.39" y="456.5" width="6.54" height="5.6" fill="#fcecef"/><rect x="197.39" y="462.05" width="6.54" height="5.6" fill="#fcecef"/><rect x="197.39" y="467.6" width="6.54" height="5.6" fill="#f6e6e9"/><rect x="197.39" y="473.15" width="6.54" height="5.6" fill="#faeaed"/><rect x="197.39" y="478.7" width="6.54" height="5.6" fill="#f9e8ec"/><rect x="197.39" y="484.25" width="6.54" height="5.6" fill="#fcecef"/><rect x="203.88" y="423.2" width="6.54" height="5.6" fill="#f2d2d5"/><rect x="203.88" y="428.75" width="6.54" height="5.6" fill="#f8d7da"/><rect x="203.88" y="434.3" width="6.54" height="5.6" fill="#f6d5d8"/><rect x="203.88" y="439.85" width="6.54" height="5.6" fill="#f8d6d9"/><rect x="203.88" y="445.4" width="6.54" height="5.6" fill="#f7d5d9"/><rect x="203.88" y="450.95" width="6.54" height="5.6" fill="#f3d2d5"/><rect x="203.88" y="456.5" width="6.54" height="5.6" fill="#f8d4d7"/><rect x="203.88" y="462.05" width="6.54" height="5.6" fill="#f8d5d8"/><rect x="203.88" y="467.6" width="6.54" height="5.6" fill="#f8d3d6"/><rect x="203.88" y="473.15" width="6.54" height="5.6" fill="#f3ced1"/><rect x="203.88" y="478.7" width="6.54" height="5.6" fill="#f8d3d6"/><rect x="203.88" y="484.25" width="6.54" height="5.6" fill="#f8d6d8"/><rect x="210.37" y="423.2" width="6.54" height="5.6" fill="#bfd2eb"/><rect x="210.37" y="428.75" width="6.54" height="5.6" fill="#bcd0ea"/><rect x="210.37" y="434.3" width="6.54" height="5.6" fill="#b4c9e4"/><rect x="210.37" y="439.85" width="6.54" height="5.6" fill="#bed1eb"/><rect x="210.37" y="445.4" width="6.54" height="5.6" fill="#bbcfea"/><rect x="210.37" y="450.95" width="6.54" height="5.6" fill="#b7cbe6"/><rect x="210.37" y="456.5" width="6.54" height="5.6" fill="#cad8ef"/><rect x="210.37" y="462.05" width="6.54" height="5.6" fill="#c9d7ee"/><rect x="210.37" y="467.6" width="6.54" height="5.6" fill="#cad7ef"/><rect x="210.37" y="473.15" width="6.54" height="5.6" fill="#c3d1ea"/><rect x="210.37" y="478.7" width="6.54" height="5.6" fill="#c6d5ed"/><rect x="210.37" y="484.25" width="6.54" height="5.6" fill="#c4d3ec"/><rect x="216.86" y="423.2" width="6.54" height="5.6" fill="#f5d8db"/><rect x="216.86" y="428.75" width="6.54" height="5.6" fill="#f8dddf"/><rect x="216.86" y="434.3" width="6.54" height="5.6" fill="#f8dbde"/><rect x="216.86" y="439.85" width="6.54" height="5.6" fill="#f6d9dc"/><rect x="216.86" y="445.4" width="6.54" height="5.6" fill="#f8dbde"/><rect x="216.86" y="450.95" width="6.54" height="5.6" fill="#f8dee1"/><rect x="216.86" y="456.5" width="6.54" height="5.6" fill="#f8dbde"/><rect x="216.86" y="462.05" width="6.54" height="5.6" fill="#f8dee0"/><rect x="216.86" y="467.6" width="6.54" height="5.6" fill="#f8dbde"/><rect x="216.86" y="473.15" width="6.54" height="5.6" fill="#f8dee1"/><rect x="216.86" y="478.7" width="6.54" height="5.6" fill="#f2d5d8"/><rect x="216.86" y="484.25" width="6.54" height="5.6" fill="#f7dadd"/><rect x="223.34" y="423.2" width="6.54" height="5.6" fill="#bed0e9"/><rect x="223.34" y="428.75" width="6.54" height="5.6" fill="#c0d2ea"/><rect x="223.34" y="434.3" width="6.54" height="5.6" fill="#c3d4eb"/><rect x="223.34" y="439.85" width="6.54" height="5.6" fill="#bed1e9"/><rect x="223.34" y="445.4" width="6.54" height="5.6" fill="#bdd0e9"/><rect x="223.34" y="450.95" width="6.54" height="5.6" fill="#bfd1ea"/><rect x="223.34" y="456.5" width="6.54" height="5.6" fill="#bdd0e9"/><rect x="223.34" y="462.05" width="6.54" height="5.6" fill="#c0d2ea"/><rect x="223.34" y="467.6" width="6.54" height="5.6" fill="#c3d4eb"/><rect x="223.34" y="473.15" width="6.54" height="5.6" fill="#b8cbe3"/><rect x="223.34" y="478.7" width="6.54" height="5.6" fill="#bbcee7"/><rect x="223.34" y="484.25" width="6.54" height="5.6" fill="#c2d3eb"/><rect x="229.83" y="423.2" width="6.54" height="5.6" fill="#cddaea"/><rect x="229.83" y="428.75" width="6.54" height="5.6" fill="#d4e0f0"/><rect x="229.83" y="434.3" width="6.54" height="5.6" fill="#cdd9ea"/><rect x="229.83" y="439.85" width="6.54" height="5.6" fill="#d3dff0"/><rect x="229.83" y="445.4" width="6.54" height="5.6" fill="#d5e0f0"/><rect x="229.83" y="450.95" width="6.54" height="5.6" fill="#cfdcec"/><rect x="229.83" y="456.5" width="6.54" height="5.6" fill="#d1ddee"/><rect x="229.83" y="462.05" width="6.54" height="5.6" fill="#cfdbec"/><rect x="229.83" y="467.6" width="6.54" height="5.6" fill="#d4e0f0"/><rect x="229.83" y="473.15" width="6.54" height="5.6" fill="#d2dfef"/><rect x="229.83" y="478.7" width="6.54" height="5.6" fill="#d3dff0"/><rect x="229.83" y="484.25" width="6.54" height="5.6" fill="#d0dded"/><rect x="236.32" y="423.2" width="6.54" height="5.6" fill="#cad9f0"/><rect x="236.32" y="428.75" width="6.54" height="5.6" fill="#cedcf1"/><rect x="236.32" y="434.3" width="6.54" height="5.6" fill="#ccdaf0"/><rect x="236.32" y="439.85" width="6.54" height="5.6" fill="#cedcf1"/><rect x="236.32" y="445.4" width="6.54" height="5.6" fill="#c7d5ec"/><rect x="236.32" y="450.95" width="6.54" height="5.6" fill="#cad8ef"/><rect x="236.32" y="456.5" width="6.54" height="5.6" fill="#ccd9ee"/><rect x="236.32" y="462.05" width="6.54" height="5.6" fill="#ccd9ed"/><rect x="236.32" y="467.6" width="6.54" height="5.6" fill="#d1dcf0"/><rect x="236.32" y="473.15" width="6.54" height="5.6" fill="#cad7eb"/><rect x="236.32" y="478.7" width="6.54" height="5.6" fill="#cedbef"/><rect x="236.32" y="484.25" width="6.54" height="5.6" fill="#d0dcf0"/><rect x="242.81" y="423.2" width="6.54" height="5.6" fill="#dae3f3"/><rect x="242.81" y="428.75" width="6.54" height="5.6" fill="#d1dbec"/><rect x="242.81" y="434.3" width="6.54" height="5.6" fill="#d4deef"/><rect x="242.81" y="439.85" width="6.54" height="5.6" fill="#d6e0f1"/><rect x="242.81" y="445.4" width="6.54" height="5.6" fill="#dae3f3"/><rect x="242.81" y="450.95" width="6.54" height="5.6" fill="#d2dded"/><rect x="242.81" y="456.5" width="6.54" height="5.6" fill="#dde5f4"/><rect x="242.81" y="462.05" width="6.54" height="5.6" fill="#d9e1f2"/><rect x="242.81" y="467.6" width="6.54" height="5.6" fill="#dbe3f4"/><rect x="242.81" y="473.15" width="6.54" height="5.6" fill="#dde5f4"/><rect x="242.81" y="478.7" width="6.54" height="5.6" fill="#d5deee"/><rect x="242.81" y="484.25" width="6.54" height="5.6" fill="#d8e1f1"/><rect x="249.3" y="423.2" width="6.54" height="5.6" fill="#ebedf5"/><rect x="249.3" y="428.75" width="6.54" height="5.6" fill="#ebedf5"/><rect x="249.3" y="434.3" width="6.54" height="5.6" fill="#edeff7"/><rect x="249.3" y="439.85" width="6.54" height="5.6" fill="#f0f2fa"/><rect x="249.3" y="445.4" width="6.54" height="5.6" fill="#f0f2fa"/><rect x="249.3" y="450.95" width="6.54" height="5.6" fill="#ebedf5"/><rect x="249.3" y="456.5" width="6.54" height="5.6" fill="#f5f5fa"/><rect x="249.3" y="462.05" width="6.54" height="5.6" fill="#f4f4fa"/><rect x="249.3" y="467.6" width="6.54" height="5.6" fill="#f0f0f6"/><rect x="249.3" y="473.15" width="6.54" height="5.6" fill="#f5f5fa"/><rect x="249.3" y="478.7" width="6.54" height="5.6" fill="#f5f5fa"/><rect x="249.3" y="484.25" width="6.54" height="5.6" fill="#f1f1f6"/><rect x="255.78" y="423.2" width="6.54" height="5.6" fill="#e9eff8"/><rect x="255.78" y="428.75" width="6.54" height="5.6" fill="#e8eef8"/><rect x="255.78" y="434.3" width="6.54" height="5.6" fill="#e4eaf4"/><rect x="255.78" y="439.85" width="6.54" height="5.6" fill="#e1e7f1"/><rect x="255.78" y="445.4" width="6.54" height="5.6" fill="#e9eef8"/><rect x="255.78" y="450.95" width="6.54" height="5.6" fill="#e8eef8"/><rect x="255.78" y="456.5" width="6.54" height="5.6" fill="#e8ecf5"/><rect x="255.78" y="462.05" width="6.54" height="5.6" fill="#eef2fa"/><rect x="255.78" y="467.6" width="6.54" height="5.6" fill="#eef2fa"/><rect x="255.78" y="473.15" width="6.54" height="5.6" fill="#eef2fa"/><rect x="255.78" y="478.7" width="6.54" height="5.6" fill="#eef2fa"/><rect x="255.78" y="484.25" width="6.54" height="5.6" fill="#eff3fa"/><rect x="262.27" y="423.2" width="6.54" height="5.6" fill="#f6c8cb"/><rect x="262.27" y="428.75" width="6.54" height="5.6" fill="#f8ced0"/><rect x="262.27" y="434.3" width="6.54" height="5.6" fill="#f8ced1"/><rect x="262.27" y="439.85" width="6.54" height="5.6" fill="#f5c8cb"/><rect x="262.27" y="445.4" width="6.54" height="5.6" fill="#f8cccf"/><rect x="262.27" y="450.95" width="6.54" height="5.6" fill="#f8cccf"/><rect x="262.27" y="456.5" width="6.54" height="5.6" fill="#fad9dc"/><rect x="262.27" y="462.05" width="6.54" height="5.6" fill="#fad7da"/><rect x="262.27" y="467.6" width="6.54" height="5.6" fill="#f7d4d7"/><rect x="262.27" y="473.15" width="6.54" height="5.6" fill="#f7d4d7"/><rect x="262.27" y="478.7" width="6.54" height="5.6" fill="#fad7da"/><rect x="262.27" y="484.25" width="6.54" height="5.6" fill="#f5d3d6"/><rect x="268.76" y="423.2" width="6.54" height="5.6" fill="#f8a3a6"/><rect x="268.76" y="428.75" width="6.54" height="5.6" fill="#f8a4a7"/><rect x="268.76" y="434.3" width="6.54" height="5.6" fill="#f59a9d"/><rect x="268.76" y="439.85" width="6.54" height="5.6" fill="#f8a0a3"/><rect x="268.76" y="445.4" width="6.54" height="5.6" fill="#f8a0a3"/><rect x="268.76" y="450.95" width="6.54" height="5.6" fill="#f3999c"/><rect x="268.76" y="456.5" width="6.54" height="5.6" fill="#f8a6a9"/><rect x="268.76" y="462.05" width="6.54" height="5.6" fill="#f8a5a8"/><rect x="268.76" y="467.6" width="6.54" height="5.6" fill="#f59fa2"/><rect x="268.76" y="473.15" width="6.54" height="5.6" fill="#f39da0"/><rect x="268.76" y="478.7" width="6.54" height="5.6" fill="#f59fa2"/><rect x="268.76" y="484.25" width="6.54" height="5.6" fill="#f8a6a8"/><rect x="275.25" y="423.2" width="6.54" height="5.6" fill="#d2deef"/><rect x="275.25" y="428.75" width="6.54" height="5.6" fill="#d5e1f0"/><rect x="275.25" y="434.3" width="6.54" height="5.6" fill="#cedbeb"/><rect x="275.25" y="439.85" width="6.54" height="5.6" fill="#cedaeb"/><rect x="275.25" y="445.4" width="6.54" height="5.6" fill="#d0dded"/><rect x="275.25" y="450.95" width="6.54" height="5.6" fill="#d5e1f0"/><rect x="275.25" y="456.5" width="6.54" height="5.6" fill="#cedbeb"/><rect x="275.25" y="462.05" width="6.54" height="5.6" fill="#cddaea"/><rect x="275.25" y="467.6" width="6.54" height="5.6" fill="#d4e0f0"/><rect x="275.25" y="473.15" width="6.54" height="5.6" fill="#cedaea"/><rect x="275.25" y="478.7" width="6.54" height="5.6" fill="#d3e0f0"/><rect x="275.25" y="484.25" width="6.54" height="5.6" fill="#cddaea"/><rect x="281.74" y="423.2" width="6.54" height="5.6" fill="#f5b3b6"/><rect x="281.74" y="428.75" width="6.54" height="5.6" fill="#f8b8bb"/><rect x="281.74" y="434.3" width="6.54" height="5.6" fill="#f8bbbe"/><rect x="281.74" y="439.85" width="6.54" height="5.6" fill="#f7b4b7"/><rect x="281.74" y="445.4" width="6.54" height="5.6" fill="#f7b5b8"/><rect x="281.74" y="450.95" width="6.54" height="5.6" fill="#f2b1b4"/><rect x="281.74" y="456.5" width="6.54" height="5.6" fill="#f6b4b7"/><rect x="281.74" y="462.05" width="6.54" height="5.6" fill="#f5b3b6"/><rect x="281.74" y="467.6" width="6.54" height="5.6" fill="#f8b9bc"/><rect x="281.74" y="473.15" width="6.54" height="5.6" fill="#f8b8bb"/><rect x="281.74" y="478.7" width="6.54" height="5.6" fill="#f8b9bc"/><rect x="281.74" y="484.25" width="6.54" height="5.6" fill="#f8b6b9"/><rect x="288.22" y="423.2" width="6.54" height="5.6" fill="#fce8eb"/><rect x="288.22" y="428.75" width="6.54" height="5.6" fill="#f7e3e6"/><rect x="288.22" y="434.3" width="6.54" height="5.6" fill="#fae6e9"/><rect x="288.22" y="439.85" width="6.54" height="5.6" fill="#f9e5e8"/><rect x="288.22" y="445.4" width="6.54" height="5.6" fill="#f9e5e8"/><rect x="288.22" y="450.95" width="6.54" height="5.6" fill="#fce8eb"/><rect x="288.22" y="456.5" width="6.54" height="5.6" fill="#f8e4e7"/><rect x="288.22" y="462.05" width="6.54" height="5.6" fill="#fae5e8"/><rect x="288.22" y="467.6" width="6.54" height="5.6" fill="#f9e5e8"/><rect x="288.22" y="473.15" width="6.54" height="5.6" fill="#fce9ec"/><rect x="288.22" y="478.7" width="6.54" height="5.6" fill="#fce8eb"/><rect x="288.22" y="484.25" width="6.54" height="5.6" fill="#fce7ea"/><rect x="294.71" y="423.2" width="6.54" height="5.6" fill="#f6bcbf"/><rect x="294.71" y="428.75" width="6.54" height="5.6" fill="#f8c3c6"/><rect x="294.71" y="434.3" width="6.54" height="5.6" fill="#f8c3c6"/><rect x="294.71" y="439.85" width="6.54" height="5.6" fill="#f7bdc0"/><rect x="294.71" y="445.4" width="6.54" height="5.6" fill="#f8bec1"/><rect x="294.71" y="450.95" width="6.54" height="5.6" fill="#f8c2c5"/><rect x="294.71" y="456.5" width="6.54" height="5.6" fill="#f5bbbe"/><rect x="294.71" y="462.05" width="6.54" height="5.6" fill="#f5bbbe"/><rect x="294.71" y="467.6" width="6.54" height="5.6" fill="#f3babd"/><rect x="294.71" y="473.15" width="6.54" height="5.6" fill="#f8bec1"/><rect x="294.71" y="478.7" width="6.54" height="5.6" fill="#f8c1c4"/><rect x="294.71" y="484.25" width="6.54" height="5.6" fill="#f3babd"/><rect x="301.2" y="423.2" width="6.54" height="5.6" fill="#fbe2e5"/><rect x="301.2" y="428.75" width="6.54" height="5.6" fill="#fce6e8"/><rect x="301.2" y="434.3" width="6.54" height="5.6" fill="#fce3e6"/><rect x="301.2" y="439.85" width="6.54" height="5.6" fill="#fae2e5"/><rect x="301.2" y="445.4" width="6.54" height="5.6" fill="#fce5e8"/><rect x="301.2" y="450.95" width="6.54" height="5.6" fill="#fce5e8"/><rect x="301.2" y="456.5" width="6.54" height="5.6" fill="#fae6e9"/><rect x="301.2" y="462.05" width="6.54" height="5.6" fill="#f7e3e6"/><rect x="301.2" y="467.6" width="6.54" height="5.6" fill="#fce8eb"/><rect x="301.2" y="473.15" width="6.54" height="5.6" fill="#fce8eb"/><rect x="301.2" y="478.7" width="6.54" height="5.6" fill="#fce9ec"/><rect x="301.2" y="484.25" width="6.54" height="5.6" fill="#fce8eb"/><rect x="307.69" y="423.2" width="6.54" height="5.6" fill="#d4deef"/><rect x="307.69" y="428.75" width="6.54" height="5.6" fill="#d6e1f1"/><rect x="307.69" y="434.3" width="6.54" height="5.6" fill="#d4deef"/><rect x="307.69" y="439.85" width="6.54" height="5.6" fill="#d5e0f1"/><rect x="307.69" y="445.4" width="6.54" height="5.6" fill="#d6e0f1"/><rect x="307.69" y="450.95" width="6.54" height="5.6" fill="#d9e3f2"/><rect x="307.69" y="456.5" width="6.54" height="5.6" fill="#e9eff8"/><rect x="307.69" y="462.05" width="6.54" height="5.6" fill="#e9eff8"/><rect x="307.69" y="467.6" width="6.54" height="5.6" fill="#e7edf7"/><rect x="307.69" y="473.15" width="6.54" height="5.6" fill="#e9eff8"/><rect x="307.69" y="478.7" width="6.54" height="5.6" fill="#e3e9f3"/><rect x="307.69" y="484.25" width="6.54" height="5.6" fill="#e9eff8"/><rect x="314.18" y="423.2" width="6.54" height="5.6" fill="#f8a7aa"/><rect x="314.18" y="428.75" width="6.54" height="5.6" fill="#f8abae"/><rect x="314.18" y="434.3" width="6.54" height="5.6" fill="#f7a4a7"/><rect x="314.18" y="439.85" width="6.54" height="5.6" fill="#f8adb0"/><rect x="314.18" y="445.4" width="6.54" height="5.6" fill="#f2a1a4"/><rect x="314.18" y="450.95" width="6.54" height="5.6" fill="#f8abae"/><rect x="314.18" y="456.5" width="6.54" height="5.6" fill="#f8c2c5"/><rect x="314.18" y="462.05" width="6.54" height="5.6" fill="#f6bcbf"/><rect x="314.18" y="467.6" width="6.54" height="5.6" fill="#f8c2c5"/><rect x="314.18" y="473.15" width="6.54" height="5.6" fill="#f4bbbe"/><rect x="314.18" y="478.7" width="6.54" height="5.6" fill="#f8c1c4"/><rect x="314.18" y="484.25" width="6.54" height="5.6" fill="#f7bdc0"/><rect x="320.66" y="423.2" width="6.54" height="5.6" fill="#f27679"/><rect x="320.66" y="428.75" width="6.54" height="5.6" fill="#f07578"/><rect x="320.66" y="434.3" width="6.54" height="5.6" fill="#f47f82"/><rect x="320.66" y="439.85" width="6.54" height="5.6" fill="#f47d80"/><rect x="320.66" y="445.4" width="6.54" height="5.6" fill="#ef7477"/><rect x="320.66" y="450.95" width="6.54" height="5.6" fill="#f58487"/><rect x="320.66" y="456.5" width="6.54" height="5.6" fill="#f0797c"/><rect x="320.66" y="462.05" width="6.54" height="5.6" fill="#f27a7d"/><rect x="320.66" y="467.6" width="6.54" height="5.6" fill="#f37a7e"/><rect x="320.66" y="473.15" width="6.54" height="5.6" fill="#f47d80"/><rect x="320.66" y="478.7" width="6.54" height="5.6" fill="#f48588"/><rect x="320.66" y="484.25" width="6.54" height="5.6" fill="#f5878a"/><rect x="327.15" y="423.2" width="6.54" height="5.6" fill="#dfe7f4"/><rect x="327.15" y="428.75" width="6.54" height="5.6" fill="#dde5f2"/><rect x="327.15" y="434.3" width="6.54" height="5.6" fill="#dae2ef"/><rect x="327.15" y="439.85" width="6.54" height="5.6" fill="#dae2ee"/><rect x="327.15" y="445.4" width="6.54" height="5.6" fill="#dfe7f3"/><rect x="327.15" y="450.95" width="6.54" height="5.6" fill="#dfe7f4"/><rect x="327.15" y="456.5" width="6.54" height="5.6" fill="#dee6f3"/><rect x="327.15" y="462.05" width="6.54" height="5.6" fill="#e2e9f5"/><rect x="327.15" y="467.6" width="6.54" height="5.6" fill="#dde6f2"/><rect x="327.15" y="473.15" width="6.54" height="5.6" fill="#dde5f2"/><rect x="327.15" y="478.7" width="6.54" height="5.6" fill="#dee6f2"/><rect x="327.15" y="484.25" width="6.54" height="5.6" fill="#dbe3ef"/><rect x="333.64" y="423.2" width="6.54" height="5.6" fill="#f5f5fa"/><rect x="333.64" y="428.75" width="6.54" height="5.6" fill="#f4f4fa"/><rect x="333.64" y="434.3" width="6.54" height="5.6" fill="#f4f4fa"/><rect x="333.64" y="439.85" width="6.54" height="5.6" fill="#f3f3f9"/><rect x="333.64" y="445.4" width="6.54" height="5.6" fill="#f1f1f7"/><rect x="333.64" y="450.95" width="6.54" height="5.6" fill="#f2f2f8"/><rect x="333.64" y="456.5" width="6.54" height="5.6" fill="#f8f8fc"/><rect x="333.64" y="462.05" width="6.54" height="5.6" fill="#f7f7fb"/><rect x="333.64" y="467.6" width="6.54" height="5.6" fill="#f9f9fc"/><rect x="333.64" y="473.15" width="6.54" height="5.6" fill="#f8f8fc"/><rect x="333.64" y="478.7" width="6.54" height="5.6" fill="#f4f4f8"/><rect x="333.64" y="484.25" width="6.54" height="5.6" fill="#f2f2f6"/><rect x="340.13" y="423.2" width="6.54" height="5.6" fill="#f3a2a5"/><rect x="340.13" y="428.75" width="6.54" height="5.6" fill="#f6a3a6"/><rect x="340.13" y="434.3" width="6.54" height="5.6" fill="#f8aaad"/><rect x="340.13" y="439.85" width="6.54" height="5.6" fill="#f8acae"/><rect x="340.13" y="445.4" width="6.54" height="5.6" fill="#f4a2a5"/><rect x="340.13" y="450.95" width="6.54" height="5.6" fill="#f8aaad"/><rect x="340.13" y="456.5" width="6.54" height="5.6" fill="#f7acaf"/><rect x="340.13" y="462.05" width="6.54" height="5.6" fill="#f8adb1"/><rect x="340.13" y="467.6" width="6.54" height="5.6" fill="#f8adb0"/><rect x="340.13" y="473.15" width="6.54" height="5.6" fill="#f2a9ac"/><rect x="340.13" y="478.7" width="6.54" height="5.6" fill="#f2a9ac"/><rect x="340.13" y="484.25" width="6.54" height="5.6" fill="#f8b0b3"/><rect x="346.62" y="423.2" width="6.54" height="5.6" fill="#e8eef8"/><rect x="346.62" y="428.75" width="6.54" height="5.6" fill="#e5ecf6"/><rect x="346.62" y="434.3" width="6.54" height="5.6" fill="#e9eff8"/><rect x="346.62" y="439.85" width="6.54" height="5.6" fill="#e8eef8"/><rect x="346.62" y="445.4" width="6.54" height="5.6" fill="#e5ebf5"/><rect x="346.62" y="450.95" width="6.54" height="5.6" fill="#e2e8f2"/><rect x="346.62" y="456.5" width="6.54" height="5.6" fill="#edf1fa"/><rect x="346.62" y="462.05" width="6.54" height="5.6" fill="#eef2fa"/><rect x="346.62" y="467.6" width="6.54" height="5.6" fill="#eaeef6"/><rect x="346.62" y="473.15" width="6.54" height="5.6" fill="#e8ecf4"/><rect x="346.62" y="478.7" width="6.54" height="5.6" fill="#edf1fa"/><rect x="346.62" y="484.25" width="6.54" height="5.6" fill="#e8ecf4"/><rect x="353.1" y="423.2" width="6.54" height="5.6" fill="#a8c0e0"/><rect x="353.1" y="428.75" width="6.54" height="5.6" fill="#a6bfdf"/><rect x="353.1" y="434.3" width="6.54" height="5.6" fill="#a2bbdc"/><rect x="353.1" y="439.85" width="6.54" height="5.6" fill="#a3bcde"/><rect x="353.1" y="445.4" width="6.54" height="5.6" fill="#a1badb"/><rect x="353.1" y="450.95" width="6.54" height="5.6" fill="#a1badb"/><rect x="353.1" y="456.5" width="6.54" height="5.6" fill="#a1badb"/><rect x="353.1" y="462.05" width="6.54" height="5.6" fill="#a9c1e1"/><rect x="353.1" y="467.6" width="6.54" height="5.6" fill="#a3bcde"/><rect x="353.1" y="473.15" width="6.54" height="5.6" fill="#a8c0e0"/><rect x="353.1" y="478.7" width="6.54" height="5.6" fill="#a2bbdd"/><rect x="353.1" y="484.25" width="6.54" height="5.6" fill="#a9c1e0"/><rect x="359.59" y="423.2" width="6.54" height="5.6" fill="#becfe9"/><rect x="359.59" y="428.75" width="6.54" height="5.6" fill="#bfcfea"/><rect x="359.59" y="434.3" width="6.54" height="5.6" fill="#bccde8"/><rect x="359.59" y="439.85" width="6.54" height="5.6" fill="#becee9"/><rect x="359.59" y="445.4" width="6.54" height="5.6" fill="#bacae5"/><rect x="359.59" y="450.95" width="6.54" height="5.6" fill="#c3d2eb"/><rect x="359.59" y="456.5" width="6.54" height="5.6" fill="#c3d3ec"/><rect x="359.59" y="462.05" width="6.54" height="5.6" fill="#c1d2eb"/><rect x="359.59" y="467.6" width="6.54" height="5.6" fill="#c3d3ec"/><rect x="359.59" y="473.15" width="6.54" height="5.6" fill="#bdcee6"/><rect x="359.59" y="478.7" width="6.54" height="5.6" fill="#bfd0e9"/><rect x="359.59" y="484.25" width="6.54" height="5.6" fill="#becfe8"/><rect x="366.08" y="423.2" width="6.54" height="5.6" fill="#f4787b"/><rect x="366.08" y="428.75" width="6.54" height="5.6" fill="#ee6c6f"/><rect x="366.08" y="434.3" width="6.54" height="5.6" fill="#f36e71"/><rect x="366.08" y="439.85" width="6.54" height="5.6" fill="#f4797c"/><rect x="366.08" y="445.4" width="6.54" height="5.6" fill="#f4777a"/><rect x="366.08" y="450.95" width="6.54" height="5.6" fill="#f47578"/><rect x="366.08" y="456.5" width="6.54" height="5.6" fill="#f5a3a6"/><rect x="366.08" y="462.05" width="6.54" height="5.6" fill="#f4a2a5"/><rect x="366.08" y="467.6" width="6.54" height="5.6" fill="#f8a8ab"/><rect x="366.08" y="473.15" width="6.54" height="5.6" fill="#f5a3a6"/><rect x="366.08" y="478.7" width="6.54" height="5.6" fill="#f8a9ac"/><rect x="366.08" y="484.25" width="6.54" height="5.6" fill="#f6a3a6"/><rect x="372.57" y="423.2" width="6.54" height="5.6" fill="#f48a8d"/><rect x="372.57" y="428.75" width="6.54" height="5.6" fill="#f48588"/><rect x="372.57" y="434.3" width="6.54" height="5.6" fill="#f48b8e"/><rect x="372.57" y="439.85" width="6.54" height="5.6" fill="#f58f92"/><rect x="372.57" y="445.4" width="6.54" height="5.6" fill="#f28286"/><rect x="372.57" y="450.95" width="6.54" height="5.6" fill="#f58f92"/><rect x="372.57" y="456.5" width="6.54" height="5.6" fill="#ee8083"/><rect x="372.57" y="462.05" width="6.54" height="5.6" fill="#f48d8f"/><rect x="372.57" y="467.6" width="6.54" height="5.6" fill="#ee8083"/><rect x="372.57" y="473.15" width="6.54" height="5.6" fill="#f48487"/><rect x="372.57" y="478.7" width="6.54" height="5.6" fill="#f28386"/><rect x="372.57" y="484.25" width="6.54" height="5.6" fill="#f48a8d"/><rect x="379.06" y="423.2" width="6.54" height="5.6" fill="#f5c4c7"/><rect x="379.06" y="428.75" width="6.54" height="5.6" fill="#f4c3c6"/><rect x="379.06" y="434.3" width="6.54" height="5.6" fill="#f8c9cc"/><rect x="379.06" y="439.85" width="6.54" height="5.6" fill="#f8c6c9"/><rect x="379.06" y="445.4" width="6.54" height="5.6" fill="#f8c9cc"/><rect x="379.06" y="450.95" width="6.54" height="5.6" fill="#f8c6c9"/><rect x="379.06" y="456.5" width="6.54" height="5.6" fill="#f6dadd"/><rect x="379.06" y="462.05" width="6.54" height="5.6" fill="#fce1e3"/><rect x="379.06" y="467.6" width="6.54" height="5.6" fill="#f8dcdf"/><rect x="379.06" y="473.15" width="6.54" height="5.6" fill="#fcdee2"/><rect x="379.06" y="478.7" width="6.54" height="5.6" fill="#f6d9dc"/><rect x="379.06" y="484.25" width="6.54" height="5.6" fill="#f9dcdf"/><rect x="385.54" y="423.2" width="6.54" height="5.6" fill="#fadadc"/><rect x="385.54" y="428.75" width="6.54" height="5.6" fill="#fadbdd"/><rect x="385.54" y="434.3" width="6.54" height="5.6" fill="#fadadc"/><rect x="385.54" y="439.85" width="6.54" height="5.6" fill="#f9d8da"/><rect x="385.54" y="445.4" width="6.54" height="5.6" fill="#fadadc"/><rect x="385.54" y="450.95" width="6.54" height="5.6" fill="#fadadc"/><rect x="385.54" y="456.5" width="6.54" height="5.6" fill="#f6d5d7"/><rect x="385.54" y="462.05" width="6.54" height="5.6" fill="#fad9db"/><rect x="385.54" y="467.6" width="6.54" height="5.6" fill="#fad9db"/><rect x="385.54" y="473.15" width="6.54" height="5.6" fill="#fadadc"/><rect x="385.54" y="478.7" width="6.54" height="5.6" fill="#f6d5d7"/><rect x="385.54" y="484.25" width="6.54" height="5.6" fill="#f7d6d9"/><rect x="392.03" y="423.2" width="6.54" height="5.6" fill="#f2eef6"/><rect x="392.03" y="428.75" width="6.54" height="5.6" fill="#efebf3"/><rect x="392.03" y="434.3" width="6.54" height="5.6" fill="#f2eef6"/><rect x="392.03" y="439.85" width="6.54" height="5.6" fill="#f5f1f8"/><rect x="392.03" y="445.4" width="6.54" height="5.6" fill="#f4f0f8"/><rect x="392.03" y="450.95" width="6.54" height="5.6" fill="#f0ecf4"/><rect x="392.03" y="456.5" width="6.54" height="5.6" fill="#eef2fa"/><rect x="392.03" y="462.05" width="6.54" height="5.6" fill="#e9edf5"/><rect x="392.03" y="467.6" width="6.54" height="5.6" fill="#eef2fa"/><rect x="392.03" y="473.15" width="6.54" height="5.6" fill="#e9edf5"/><rect x="392.03" y="478.7" width="6.54" height="5.6" fill="#e8ecf5"/><rect x="392.03" y="484.25" width="6.54" height="5.6" fill="#eaeef7"/><rect x="398.52" y="423.2" width="6.54" height="5.6" fill="#fceff2"/><rect x="398.52" y="428.75" width="6.54" height="5.6" fill="#f9edef"/><rect x="398.52" y="434.3" width="6.54" height="5.6" fill="#fcf1f3"/><rect x="398.52" y="439.85" width="6.54" height="5.6" fill="#fcf1f3"/><rect x="398.52" y="445.4" width="6.54" height="5.6" fill="#f9edef"/><rect x="398.52" y="450.95" width="6.54" height="5.6" fill="#fcf0f2"/><rect x="398.52" y="456.5" width="6.54" height="5.6" fill="#fcf0f2"/><rect x="398.52" y="462.05" width="6.54" height="5.6" fill="#fcf0f2"/><rect x="398.52" y="467.6" width="6.54" height="5.6" fill="#f9ecef"/><rect x="398.52" y="473.15" width="6.54" height="5.6" fill="#fcf1f3"/><rect x="398.52" y="478.7" width="6.54" height="5.6" fill="#fcf1f3"/><rect x="398.52" y="484.25" width="6.54" height="5.6" fill="#f6eaec"/><rect x="405.01" y="423.2" width="6.54" height="5.6" fill="#d4dfef"/><rect x="405.01" y="428.75" width="6.54" height="5.6" fill="#d4dfef"/><rect x="405.01" y="434.3" width="6.54" height="5.6" fill="#d3ddee"/><rect x="405.01" y="439.85" width="6.54" height="5.6" fill="#d5e0f1"/><rect x="405.01" y="445.4" width="6.54" height="5.6" fill="#d9e3f2"/><rect x="405.01" y="450.95" width="6.54" height="5.6" fill="#d1dbec"/><rect x="405.01" y="456.5" width="6.54" height="5.6" fill="#d9e3f2"/><rect x="405.01" y="462.05" width="6.54" height="5.6" fill="#d4deef"/><rect x="405.01" y="467.6" width="6.54" height="5.6" fill="#d1dbeb"/><rect x="405.01" y="473.15" width="6.54" height="5.6" fill="#d9e3f2"/><rect x="405.01" y="478.7" width="6.54" height="5.6" fill="#d4deef"/><rect x="405.01" y="484.25" width="6.54" height="5.6" fill="#d3ddee"/><rect x="411.5" y="423.2" width="6.54" height="5.6" fill="#efeff5"/><rect x="411.5" y="428.75" width="6.54" height="5.6" fill="#f2f2f8"/><rect x="411.5" y="434.3" width="6.54" height="5.6" fill="#efeff5"/><rect x="411.5" y="439.85" width="6.54" height="5.6" fill="#f0f0f6"/><rect x="411.5" y="445.4" width="6.54" height="5.6" fill="#f1f1f7"/><rect x="411.5" y="450.95" width="6.54" height="5.6" fill="#f4f4fa"/><rect x="411.5" y="456.5" width="6.54" height="5.6" fill="#f3f3f9"/><rect x="411.5" y="462.05" width="6.54" height="5.6" fill="#f2f2f8"/><rect x="411.5" y="467.6" width="6.54" height="5.6" fill="#f4f4fa"/><rect x="411.5" y="473.15" width="6.54" height="5.6" fill="#f5f5fa"/><rect x="411.5" y="478.7" width="6.54" height="5.6" fill="#f4f4fa"/><rect x="411.5" y="484.25" width="6.54" height="5.6" fill="#f2f2f8"/><rect x="417.98" y="423.2" width="6.54" height="5.6" fill="#f8a8ab"/><rect x="417.98" y="428.75" width="6.54" height="5.6" fill="#f8a6a9"/><rect x="417.98" y="434.3" width="6.54" height="5.6" fill="#f8a2a5"/><rect x="417.98" y="439.85" width="6.54" height="5.6" fill="#f7a0a3"/><rect x="417.98" y="445.4" width="6.54" height="5.6" fill="#f69fa2"/><rect x="417.98" y="450.95" width="6.54" height="5.6" fill="#f39da0"/><rect x="417.98" y="456.5" width="6.54" height="5.6" fill="#f8b7ba"/><rect x="417.98" y="462.05" width="6.54" height="5.6" fill="#f8b3b6"/><rect x="417.98" y="467.6" width="6.54" height="5.6" fill="#f3adb1"/><rect x="417.98" y="473.15" width="6.54" height="5.6" fill="#f8b8ba"/><rect x="417.98" y="478.7" width="6.54" height="5.6" fill="#f8b7ba"/><rect x="417.98" y="484.25" width="6.54" height="5.6" fill="#f2adb0"/><rect x="424.47" y="423.2" width="6.54" height="5.6" fill="#fae6e9"/><rect x="424.47" y="428.75" width="6.54" height="5.6" fill="#f7e2e5"/><rect x="424.47" y="434.3" width="6.54" height="5.6" fill="#fae5e8"/><rect x="424.47" y="439.85" width="6.54" height="5.6" fill="#fae7ea"/><rect x="424.47" y="445.4" width="6.54" height="5.6" fill="#f8e3e6"/><rect x="424.47" y="450.95" width="6.54" height="5.6" fill="#fae5e8"/><rect x="424.47" y="456.5" width="6.54" height="5.6" fill="#fae6e9"/><rect x="424.47" y="462.05" width="6.54" height="5.6" fill="#f6e1e5"/><rect x="424.47" y="467.6" width="6.54" height="5.6" fill="#fae6e9"/><rect x="424.47" y="473.15" width="6.54" height="5.6" fill="#f9e4e7"/><rect x="424.47" y="478.7" width="6.54" height="5.6" fill="#fae8ea"/><rect x="424.47" y="484.25" width="6.54" height="5.6" fill="#f6e1e4"/><rect x="430.96" y="423.2" width="6.54" height="5.6" fill="#dce4f4"/><rect x="430.96" y="428.75" width="6.54" height="5.6" fill="#d5ddee"/><rect x="430.96" y="434.3" width="6.54" height="5.6" fill="#d8e0f1"/><rect x="430.96" y="439.85" width="6.54" height="5.6" fill="#d6deef"/><rect x="430.96" y="445.4" width="6.54" height="5.6" fill="#d6dfef"/><rect x="430.96" y="450.95" width="6.54" height="5.6" fill="#dae3f4"/><rect x="430.96" y="456.5" width="6.54" height="5.6" fill="#dfe5f2"/><rect x="430.96" y="462.05" width="6.54" height="5.6" fill="#e4eaf6"/><rect x="430.96" y="467.6" width="6.54" height="5.6" fill="#dee4f1"/><rect x="430.96" y="473.15" width="6.54" height="5.6" fill="#e3e9f6"/><rect x="430.96" y="478.7" width="6.54" height="5.6" fill="#e5ebf6"/><rect x="430.96" y="484.25" width="6.54" height="5.6" fill="#dee5f1"/><rect x="437.45" y="423.2" width="6.54" height="5.6" fill="#f49699"/><rect x="437.45" y="428.75" width="6.54" height="5.6" fill="#f89da0"/><rect x="437.45" y="434.3" width="6.54" height="5.6" fill="#f7989b"/><rect x="437.45" y="439.85" width="6.54" height="5.6" fill="#f8a1a4"/><rect x="437.45" y="445.4" width="6.54" height="5.6" fill="#f6979a"/><rect x="437.45" y="450.95" width="6.54" height="5.6" fill="#f6979a"/><rect x="437.45" y="456.5" width="6.54" height="5.6" fill="#f8a1a4"/><rect x="437.45" y="462.05" width="6.54" height="5.6" fill="#f6979a"/><rect x="437.45" y="467.6" width="6.54" height="5.6" fill="#f8a2a4"/><rect x="437.45" y="473.15" width="6.54" height="5.6" fill="#f8a0a3"/><rect x="437.45" y="478.7" width="6.54" height="5.6" fill="#f49699"/><rect x="437.45" y="484.25" width="6.54" height="5.6" fill="#f8999c"/><rect x="443.94" y="423.2" width="6.54" height="5.6" fill="#cad8ed"/><rect x="443.94" y="428.75" width="6.54" height="5.6" fill="#c1d0e7"/><rect x="443.94" y="434.3" width="6.54" height="5.6" fill="#c9d7ec"/><rect x="443.94" y="439.85" width="6.54" height="5.6" fill="#c8d6ec"/><rect x="443.94" y="445.4" width="6.54" height="5.6" fill="#c8d6ec"/><rect x="443.94" y="450.95" width="6.54" height="5.6" fill="#c6d5eb"/><rect x="443.94" y="456.5" width="6.54" height="5.6" fill="#b9cce4"/><rect x="443.94" y="462.05" width="6.54" height="5.6" fill="#c3d4eb"/><rect x="443.94" y="467.6" width="6.54" height="5.6" fill="#b9cce4"/><rect x="443.94" y="473.15" width="6.54" height="5.6" fill="#c1d2ea"/><rect x="443.94" y="478.7" width="6.54" height="5.6" fill="#c0d2ea"/><rect x="443.94" y="484.25" width="6.54" height="5.6" fill="#bbcee7"/><rect x="450.42" y="423.2" width="6.54" height="5.6" fill="#f89497"/><rect x="450.42" y="428.75" width="6.54" height="5.6" fill="#f78f92"/><rect x="450.42" y="434.3" width="6.54" height="5.6" fill="#f89598"/><rect x="450.42" y="439.85" width="6.54" height="5.6" fill="#f28c8f"/><rect x="450.42" y="445.4" width="6.54" height="5.6" fill="#f8999c"/><rect x="450.42" y="450.95" width="6.54" height="5.6" fill="#f68f92"/><rect x="450.42" y="456.5" width="6.54" height="5.6" fill="#f89699"/><rect x="450.42" y="462.05" width="6.54" height="5.6" fill="#f79093"/><rect x="450.42" y="467.6" width="6.54" height="5.6" fill="#f8979a"/><rect x="450.42" y="473.15" width="6.54" height="5.6" fill="#f58e91"/><rect x="450.42" y="478.7" width="6.54" height="5.6" fill="#f89194"/><rect x="450.42" y="484.25" width="6.54" height="5.6" fill="#f28c8f"/><rect x="456.91" y="423.2" width="6.54" height="5.6" fill="#fcebee"/><rect x="456.91" y="428.75" width="6.54" height="5.6" fill="#f7e6e9"/><rect x="456.91" y="434.3" width="6.54" height="5.6" fill="#fcedf0"/><rect x="456.91" y="439.85" width="6.54" height="5.6" fill="#fcecef"/><rect x="456.91" y="445.4" width="6.54" height="5.6" fill="#fbeaed"/><rect x="456.91" y="450.95" width="6.54" height="5.6" fill="#fcedf0"/><rect x="456.91" y="456.5" width="6.54" height="5.6" fill="#fcedf0"/><rect x="456.91" y="462.05" width="6.54" height="5.6" fill="#fcedf0"/><rect x="456.91" y="467.6" width="6.54" height="5.6" fill="#f7e6e9"/><rect x="456.91" y="473.15" width="6.54" height="5.6" fill="#fcecef"/><rect x="456.91" y="478.7" width="6.54" height="5.6" fill="#fcecef"/><rect x="456.91" y="484.25" width="6.54" height="5.6" fill="#fcecef"/><rect x="463.4" y="423.2" width="6.54" height="5.6" fill="#acc0dd"/><rect x="463.4" y="428.75" width="6.54" height="5.6" fill="#b7cae5"/><rect x="463.4" y="434.3" width="6.54" height="5.6" fill="#b0c5e2"/><rect x="463.4" y="439.85" width="6.54" height="5.6" fill="#b2c6e3"/><rect x="463.4" y="445.4" width="6.54" height="5.6" fill="#b5c9e4"/><rect x="463.4" y="450.95" width="6.54" height="5.6" fill="#aec3e0"/><rect x="463.4" y="456.5" width="6.54" height="5.6" fill="#c1cfe6"/><rect x="463.4" y="462.05" width="6.54" height="5.6" fill="#cad8ed"/><rect x="463.4" y="467.6" width="6.54" height="5.6" fill="#c3d2e8"/><rect x="463.4" y="473.15" width="6.54" height="5.6" fill="#c1cfe6"/><rect x="463.4" y="478.7" width="6.54" height="5.6" fill="#c2d0e7"/><rect x="463.4" y="484.25" width="6.54" height="5.6" fill="#cbd8ed"/><rect x="469.89" y="423.2" width="6.54" height="5.6" fill="#eef2fa"/><rect x="469.89" y="428.75" width="6.54" height="5.6" fill="#eaeef6"/><rect x="469.89" y="434.3" width="6.54" height="5.6" fill="#e9edf5"/><rect x="469.89" y="439.85" width="6.54" height="5.6" fill="#eff2fa"/><rect x="469.89" y="445.4" width="6.54" height="5.6" fill="#eef2fa"/><rect x="469.89" y="450.95" width="6.54" height="5.6" fill="#edf2fa"/><rect x="469.89" y="456.5" width="6.54" height="5.6" fill="#d6deef"/><rect x="469.89" y="462.05" width="6.54" height="5.6" fill="#d9e2f2"/><rect x="469.89" y="467.6" width="6.54" height="5.6" fill="#dee5f4"/><rect x="469.89" y="473.15" width="6.54" height="5.6" fill="#d5dded"/><rect x="469.89" y="478.7" width="6.54" height="5.6" fill="#d9e2f2"/><rect x="469.89" y="484.25" width="6.54" height="5.6" fill="#d5deee"/><rect x="476.38" y="423.2" width="6.54" height="5.6" fill="#dae4f3"/><rect x="476.38" y="428.75" width="6.54" height="5.6" fill="#d2dced"/><rect x="476.38" y="434.3" width="6.54" height="5.6" fill="#dae3f3"/><rect x="476.38" y="439.85" width="6.54" height="5.6" fill="#d9e3f2"/><rect x="476.38" y="445.4" width="6.54" height="5.6" fill="#d8e2f2"/><rect x="476.38" y="450.95" width="6.54" height="5.6" fill="#d1dbec"/><rect x="476.38" y="456.5" width="6.54" height="5.6" fill="#d8e2f2"/><rect x="476.38" y="462.05" width="6.54" height="5.6" fill="#d6e0f1"/><rect x="476.38" y="467.6" width="6.54" height="5.6" fill="#d6e0f1"/><rect x="476.38" y="473.15" width="6.54" height="5.6" fill="#d2dded"/><rect x="476.38" y="478.7" width="6.54" height="5.6" fill="#d6e1f1"/><rect x="476.38" y="484.25" width="6.54" height="5.6" fill="#d9e2f2"/><rect x="482.86" y="423.2" width="6.54" height="5.6" fill="#f7e3e6"/><rect x="482.86" y="428.75" width="6.54" height="5.6" fill="#fce9ec"/><rect x="482.86" y="434.3" width="6.54" height="5.6" fill="#fbe6e9"/><rect x="482.86" y="439.85" width="6.54" height="5.6" fill="#f9e4e7"/><rect x="482.86" y="445.4" width="6.54" height="5.6" fill="#f9e4e7"/><rect x="482.86" y="450.95" width="6.54" height="5.6" fill="#fbe7ea"/><rect x="482.86" y="456.5" width="6.54" height="5.6" fill="#fce8eb"/><rect x="482.86" y="462.05" width="6.54" height="5.6" fill="#fce7ea"/><rect x="482.86" y="467.6" width="6.54" height="5.6" fill="#fce9ec"/><rect x="482.86" y="473.15" width="6.54" height="5.6" fill="#fce7ea"/><rect x="482.86" y="478.7" width="6.54" height="5.6" fill="#fce7ea"/><rect x="482.86" y="484.25" width="6.54" height="5.6" fill="#fce9ec"/><rect x="489.35" y="423.2" width="6.54" height="5.6" fill="#e6ebf4"/><rect x="489.35" y="428.75" width="6.54" height="5.6" fill="#e3e8f2"/><rect x="489.35" y="434.3" width="6.54" height="5.6" fill="#e7ecf6"/><rect x="489.35" y="439.85" width="6.54" height="5.6" fill="#e7ecf5"/><rect x="489.35" y="445.4" width="6.54" height="5.6" fill="#e5eaf3"/><rect x="489.35" y="450.95" width="6.54" height="5.6" fill="#e8edf7"/><rect x="489.35" y="456.5" width="6.54" height="5.6" fill="#e4e9f2"/><rect x="489.35" y="462.05" width="6.54" height="5.6" fill="#ebf0f8"/><rect x="489.35" y="467.6" width="6.54" height="5.6" fill="#e9eef7"/><rect x="489.35" y="473.15" width="6.54" height="5.6" fill="#ebeff8"/><rect x="489.35" y="478.7" width="6.54" height="5.6" fill="#eaeff8"/><rect x="489.35" y="484.25" width="6.54" height="5.6" fill="#eaeff8"/><rect x="495.84" y="423.2" width="6.54" height="5.6" fill="#5b89c8"/><rect x="495.84" y="428.75" width="6.54" height="5.6" fill="#5181c3"/><rect x="495.84" y="434.3" width="6.54" height="5.6" fill="#5a88c8"/><rect x="495.84" y="439.85" width="6.54" height="5.6" fill="#5180c2"/><rect x="495.84" y="445.4" width="6.54" height="5.6" fill="#5483c6"/><rect x="495.84" y="450.95" width="6.54" height="5.6" fill="#5584c6"/><rect x="495.84" y="456.5" width="6.54" height="5.6" fill="#d8e2f2"/><rect x="495.84" y="462.05" width="6.54" height="5.6" fill="#d2dded"/><rect x="495.84" y="467.6" width="6.54" height="5.6" fill="#d4dfef"/><rect x="495.84" y="473.15" width="6.54" height="5.6" fill="#d9e3f2"/><rect x="495.84" y="478.7" width="6.54" height="5.6" fill="#d9e2f2"/><rect x="495.84" y="484.25" width="6.54" height="5.6" fill="#dae3f3"/><rect x="502.33" y="423.2" width="6.54" height="5.6" fill="#dae2ef"/><rect x="502.33" y="428.75" width="6.54" height="5.6" fill="#dbe4f0"/><rect x="502.33" y="434.3" width="6.54" height="5.6" fill="#dae2ef"/><rect x="502.33" y="439.85" width="6.54" height="5.6" fill="#e0e8f4"/><rect x="502.33" y="445.4" width="6.54" height="5.6" fill="#e0e8f4"/><rect x="502.33" y="450.95" width="6.54" height="5.6" fill="#dfe8f4"/><rect x="502.33" y="456.5" width="6.54" height="5.6" fill="#e4eaf6"/><rect x="502.33" y="462.05" width="6.54" height="5.6" fill="#e3e9f6"/><rect x="502.33" y="467.6" width="6.54" height="5.6" fill="#e3e9f6"/><rect x="502.33" y="473.15" width="6.54" height="5.6" fill="#e5ebf6"/><rect x="502.33" y="478.7" width="6.54" height="5.6" fill="#e3eaf6"/><rect x="502.33" y="484.25" width="6.54" height="5.6" fill="#e4eaf6"/><rect x="508.82" y="423.2" width="6.54" height="5.6" fill="#cfdbf0"/><rect x="508.82" y="428.75" width="6.54" height="5.6" fill="#cedaef"/><rect x="508.82" y="434.3" width="6.54" height="5.6" fill="#d0dcf0"/><rect x="508.82" y="439.85" width="6.54" height="5.6" fill="#cedbef"/><rect x="508.82" y="445.4" width="6.54" height="5.6" fill="#cad6eb"/><rect x="508.82" y="450.95" width="6.54" height="5.6" fill="#cdd9ee"/><rect x="508.82" y="456.5" width="6.54" height="5.6" fill="#d5e0f0"/><rect x="508.82" y="462.05" width="6.54" height="5.6" fill="#d5e0f1"/><rect x="508.82" y="467.6" width="6.54" height="5.6" fill="#d7e1f2"/><rect x="508.82" y="473.15" width="6.54" height="5.6" fill="#d5dff0"/><rect x="508.82" y="478.7" width="6.54" height="5.6" fill="#d5dff0"/><rect x="508.82" y="484.25" width="6.54" height="5.6" fill="#d5e0f0"/><rect x="515.3" y="423.2" width="6.54" height="5.6" fill="#f6f6fa"/><rect x="515.3" y="428.75" width="6.54" height="5.6" fill="#f9f9fc"/><rect x="515.3" y="434.3" width="6.54" height="5.6" fill="#f3f3f7"/><rect x="515.3" y="439.85" width="6.54" height="5.6" fill="#f2f2f6"/><rect x="515.3" y="445.4" width="6.54" height="5.6" fill="#f8f8fc"/><rect x="515.3" y="450.95" width="6.54" height="5.6" fill="#f7f7fb"/><rect x="515.3" y="456.5" width="6.54" height="5.6" fill="#f7f7fb"/><rect x="515.3" y="462.05" width="6.54" height="5.6" fill="#f8f8fc"/><rect x="515.3" y="467.6" width="6.54" height="5.6" fill="#f6f6fa"/><rect x="515.3" y="473.15" width="6.54" height="5.6" fill="#f5f5f9"/><rect x="515.3" y="478.7" width="6.54" height="5.6" fill="#f2f2f6"/><rect x="515.3" y="484.25" width="6.54" height="5.6" fill="#f9f9fc"/><rect x="521.79" y="423.2" width="6.54" height="5.6" fill="#f58789"/><rect x="521.79" y="428.75" width="6.54" height="5.6" fill="#f17a7d"/><rect x="521.79" y="434.3" width="6.54" height="5.6" fill="#f37b7e"/><rect x="521.79" y="439.85" width="6.54" height="5.6" fill="#f17a7d"/><rect x="521.79" y="445.4" width="6.54" height="5.6" fill="#ee787b"/><rect x="521.79" y="450.95" width="6.54" height="5.6" fill="#f48588"/><rect x="521.79" y="456.5" width="6.54" height="5.6" fill="#f47c7f"/><rect x="521.79" y="462.05" width="6.54" height="5.6" fill="#f07174"/><rect x="521.79" y="467.6" width="6.54" height="5.6" fill="#f17174"/><rect x="521.79" y="473.15" width="6.54" height="5.6" fill="#f4787b"/><rect x="521.79" y="478.7" width="6.54" height="5.6" fill="#f47b7e"/><rect x="521.79" y="484.25" width="6.54" height="5.6" fill="#f37276"/><rect x="528.28" y="423.2" width="6.54" height="5.6" fill="#faeaed"/><rect x="528.28" y="428.75" width="6.54" height="5.6" fill="#f9e8eb"/><rect x="528.28" y="434.3" width="6.54" height="5.6" fill="#fcecef"/><rect x="528.28" y="439.85" width="6.54" height="5.6" fill="#fcedf0"/><rect x="528.28" y="445.4" width="6.54" height="5.6" fill="#fcedf0"/><rect x="528.28" y="450.95" width="6.54" height="5.6" fill="#f7e7ea"/><rect x="528.28" y="456.5" width="6.54" height="5.6" fill="#fcecef"/><rect x="528.28" y="462.05" width="6.54" height="5.6" fill="#fcedf0"/><rect x="528.28" y="467.6" width="6.54" height="5.6" fill="#fcecef"/><rect x="528.28" y="473.15" width="6.54" height="5.6" fill="#fbebee"/><rect x="528.28" y="478.7" width="6.54" height="5.6" fill="#f7e7ea"/><rect x="528.28" y="484.25" width="6.54" height="5.6" fill="#f6e6e9"/><rect x="534.77" y="423.2" width="6.54" height="5.6" fill="#f5f5fa"/><rect x="534.77" y="428.75" width="6.54" height="5.6" fill="#efeff5"/><rect x="534.77" y="434.3" width="6.54" height="5.6" fill="#f5f5fa"/><rect x="534.77" y="439.85" width="6.54" height="5.6" fill="#f4f4fa"/><rect x="534.77" y="445.4" width="6.54" height="5.6" fill="#f4f4fa"/><rect x="534.77" y="450.95" width="6.54" height="5.6" fill="#f5f5fa"/><rect x="534.77" y="456.5" width="6.54" height="5.6" fill="#f5f5fa"/><rect x="534.77" y="462.05" width="6.54" height="5.6" fill="#f4f4fa"/><rect x="534.77" y="467.6" width="6.54" height="5.6" fill="#efeff5"/><rect x="534.77" y="473.15" width="6.54" height="5.6" fill="#f4f4fa"/><rect x="534.77" y="478.7" width="6.54" height="5.6" fill="#f3f3f9"/><rect x="534.77" y="484.25" width="6.54" height="5.6" fill="#f1f1f7"/><rect x="541.26" y="423.2" width="6.54" height="5.6" fill="#f8d6d9"/><rect x="541.26" y="428.75" width="6.54" height="5.6" fill="#f8d4d7"/><rect x="541.26" y="434.3" width="6.54" height="5.6" fill="#f3ced1"/><rect x="541.26" y="439.85" width="6.54" height="5.6" fill="#f4cfd3"/><rect x="541.26" y="445.4" width="6.54" height="5.6" fill="#f6d1d4"/><rect x="541.26" y="450.95" width="6.54" height="5.6" fill="#f8d3d6"/><rect x="541.26" y="456.5" width="6.54" height="5.6" fill="#f6cccf"/><rect x="541.26" y="462.05" width="6.54" height="5.6" fill="#f7cdd1"/><rect x="541.26" y="467.6" width="6.54" height="5.6" fill="#f8d1d4"/><rect x="541.26" y="473.15" width="6.54" height="5.6" fill="#f4cbce"/><rect x="541.26" y="478.7" width="6.54" height="5.6" fill="#f8d0d3"/><rect x="541.26" y="484.25" width="6.54" height="5.6" fill="#f6cccf"/><rect x="547.74" y="423.2" width="6.54" height="5.6" fill="#fadee1"/><rect x="547.74" y="428.75" width="6.54" height="5.6" fill="#fadee1"/><rect x="547.74" y="434.3" width="6.54" height="5.6" fill="#f8d9dc"/><rect x="547.74" y="439.85" width="6.54" height="5.6" fill="#fadbde"/><rect x="547.74" y="445.4" width="6.54" height="5.6" fill="#f5d6d9"/><rect x="547.74" y="450.95" width="6.54" height="5.6" fill="#f9dadd"/><rect x="547.74" y="456.5" width="6.54" height="5.6" fill="#fadbdf"/><rect x="547.74" y="462.05" width="6.54" height="5.6" fill="#fadcdf"/><rect x="547.74" y="467.6" width="6.54" height="5.6" fill="#f8d9dc"/><rect x="547.74" y="473.15" width="6.54" height="5.6" fill="#f4d6d9"/><rect x="547.74" y="478.7" width="6.54" height="5.6" fill="#f5d6da"/><rect x="547.74" y="484.25" width="6.54" height="5.6" fill="#fadbde"/><rect x="554.23" y="423.2" width="6.54" height="5.6" fill="#f4cfd2"/><rect x="554.23" y="428.75" width="6.54" height="5.6" fill="#f5d0d3"/><rect x="554.23" y="434.3" width="6.54" height="5.6" fill="#f8d3d6"/><rect x="554.23" y="439.85" width="6.54" height="5.6" fill="#f8d6d9"/><rect x="554.23" y="445.4" width="6.54" height="5.6" fill="#f8d2d6"/><rect x="554.23" y="450.95" width="6.54" height="5.6" fill="#f5d0d3"/><rect x="554.23" y="456.5" width="6.54" height="5.6" fill="#f8c7ca"/><rect x="554.23" y="462.05" width="6.54" height="5.6" fill="#f5c4c7"/><rect x="554.23" y="467.6" width="6.54" height="5.6" fill="#f8c9cc"/><rect x="554.23" y="473.15" width="6.54" height="5.6" fill="#f3c2c5"/><rect x="554.23" y="478.7" width="6.54" height="5.6" fill="#f5c3c7"/><rect x="554.23" y="484.25" width="6.54" height="5.6" fill="#f7c5c8"/><rect x="560.72" y="423.2" width="6.54" height="5.6" fill="#e9eff8"/><rect x="560.72" y="428.75" width="6.54" height="5.6" fill="#e3e9f4"/><rect x="560.72" y="434.3" width="6.54" height="5.6" fill="#e3eaf4"/><rect x="560.72" y="439.85" width="6.54" height="5.6" fill="#e3e9f3"/><rect x="560.72" y="445.4" width="6.54" height="5.6" fill="#e4eaf4"/><rect x="560.72" y="450.95" width="6.54" height="5.6" fill="#e5ebf6"/><rect x="560.72" y="456.5" width="6.54" height="5.6" fill="#e6ecf6"/><rect x="560.72" y="462.05" width="6.54" height="5.6" fill="#e8eef8"/><rect x="560.72" y="467.6" width="6.54" height="5.6" fill="#e6ecf6"/><rect x="560.72" y="473.15" width="6.54" height="5.6" fill="#e7edf7"/><rect x="560.72" y="478.7" width="6.54" height="5.6" fill="#e6ecf6"/><rect x="560.72" y="484.25" width="6.54" height="5.6" fill="#e8eef8"/><rect x="567.21" y="423.2" width="6.54" height="5.6" fill="#7fa3d5"/><rect x="567.21" y="428.75" width="6.54" height="5.6" fill="#739bd1"/><rect x="567.21" y="434.3" width="6.54" height="5.6" fill="#7fa4d6"/><rect x="567.21" y="439.85" width="6.54" height="5.6" fill="#7299cf"/><rect x="567.21" y="445.4" width="6.54" height="5.6" fill="#81a5d6"/><rect x="567.21" y="450.95" width="6.54" height="5.6" fill="#749cd2"/><rect x="567.21" y="456.5" width="6.54" height="5.6" fill="#789fd3"/><rect x="567.21" y="462.05" width="6.54" height="5.6" fill="#739ad1"/><rect x="567.21" y="467.6" width="6.54" height="5.6" fill="#7299cf"/><rect x="567.21" y="473.15" width="6.54" height="5.6" fill="#7198ce"/><rect x="567.21" y="478.7" width="6.54" height="5.6" fill="#7ea3d5"/><rect x="567.21" y="484.25" width="6.54" height="5.6" fill="#739ad0"/><rect x="573.7" y="423.2" width="6.54" height="5.6" fill="#f4f1f8"/><rect x="573.7" y="428.75" width="6.54" height="5.6" fill="#f4f0f8"/><rect x="573.7" y="434.3" width="6.54" height="5.6" fill="#f4f0f8"/><rect x="573.7" y="439.85" width="6.54" height="5.6" fill="#f0ecf4"/><rect x="573.7" y="445.4" width="6.54" height="5.6" fill="#f0ecf4"/><rect x="573.7" y="450.95" width="6.54" height="5.6" fill="#f2eef6"/><rect x="573.7" y="456.5" width="6.54" height="5.6" fill="#f4f4fa"/><rect x="573.7" y="462.05" width="6.54" height="5.6" fill="#f4f4fa"/><rect x="573.7" y="467.6" width="6.54" height="5.6" fill="#eeeef4"/><rect x="573.7" y="473.15" width="6.54" height="5.6" fill="#f4f4fa"/><rect x="573.7" y="478.7" width="6.54" height="5.6" fill="#f3f3f9"/><rect x="573.7" y="484.25" width="6.54" height="5.6" fill="#efeff5"/><rect x="580.18" y="423.2" width="6.54" height="5.6" fill="#bfcfe8"/><rect x="580.18" y="428.75" width="6.54" height="5.6" fill="#becfe8"/><rect x="580.18" y="434.3" width="6.54" height="5.6" fill="#c5d5ec"/><rect x="580.18" y="439.85" width="6.54" height="5.6" fill="#c2d2eb"/><rect x="580.18" y="445.4" width="6.54" height="5.6" fill="#bfd0e9"/><rect x="580.18" y="450.95" width="6.54" height="5.6" fill="#bfcfe8"/><rect x="580.18" y="456.5" width="6.54" height="5.6" fill="#c3d2e9"/><rect x="580.18" y="462.05" width="6.54" height="5.6" fill="#c3d2e8"/><rect x="580.18" y="467.6" width="6.54" height="5.6" fill="#c4d2e9"/><rect x="580.18" y="473.15" width="6.54" height="5.6" fill="#c9d6ec"/><rect x="580.18" y="478.7" width="6.54" height="5.6" fill="#c9d6ec"/><rect x="580.18" y="484.25" width="6.54" height="5.6" fill="#c8d6ec"/><rect x="586.67" y="423.2" width="6.54" height="5.6" fill="#eff2fa"/><rect x="586.67" y="428.75" width="6.54" height="5.6" fill="#eef2fa"/><rect x="586.67" y="434.3" width="6.54" height="5.6" fill="#e9edf5"/><rect x="586.67" y="439.85" width="6.54" height="5.6" fill="#e8ecf4"/><rect x="586.67" y="445.4" width="6.54" height="5.6" fill="#e9edf6"/><rect x="586.67" y="450.95" width="6.54" height="5.6" fill="#eaeef7"/><rect x="586.67" y="456.5" width="6.54" height="5.6" fill="#edf1fa"/><rect x="586.67" y="462.05" width="6.54" height="5.6" fill="#eef2fa"/><rect x="586.67" y="467.6" width="6.54" height="5.6" fill="#edf2fa"/><rect x="586.67" y="473.15" width="6.54" height="5.6" fill="#ecf1f9"/><rect x="586.67" y="478.7" width="6.54" height="5.6" fill="#eaeef7"/><rect x="586.67" y="484.25" width="6.54" height="5.6" fill="#eff3fa"/><rect x="593.16" y="423.2" width="6.54" height="5.6" fill="#f8b9bc"/><rect x="593.16" y="428.75" width="6.54" height="5.6" fill="#f6b4b7"/><rect x="593.16" y="434.3" width="6.54" height="5.6" fill="#f2b1b4"/><rect x="593.16" y="439.85" width="6.54" height="5.6" fill="#f8bcbf"/><rect x="593.16" y="445.4" width="6.54" height="5.6" fill="#f5b3b6"/><rect x="593.16" y="450.95" width="6.54" height="5.6" fill="#f8babd"/><rect x="593.16" y="456.5" width="6.54" height="5.6" fill="#ef999c"/><rect x="593.16" y="462.05" width="6.54" height="5.6" fill="#f49fa2"/><rect x="593.16" y="467.6" width="6.54" height="5.6" fill="#f29b9e"/><rect x="593.16" y="473.15" width="6.54" height="5.6" fill="#f4a4a7"/><rect x="593.16" y="478.7" width="6.54" height="5.6" fill="#f19b9e"/><rect x="593.16" y="484.25" width="6.54" height="5.6" fill="#ef999c"/><rect x="599.65" y="423.2" width="6.54" height="5.6" fill="#f4aeb1"/><rect x="599.65" y="428.75" width="6.54" height="5.6" fill="#f8b6b9"/><rect x="599.65" y="434.3" width="6.54" height="5.6" fill="#f8b8bb"/><rect x="599.65" y="439.85" width="6.54" height="5.6" fill="#f8b3b6"/><rect x="599.65" y="445.4" width="6.54" height="5.6" fill="#f8b4b7"/><rect x="599.65" y="450.95" width="6.54" height="5.6" fill="#f5afb2"/><rect x="599.65" y="456.5" width="6.54" height="5.6" fill="#f5afb2"/><rect x="599.65" y="462.05" width="6.54" height="5.6" fill="#f3adb0"/><rect x="599.65" y="467.6" width="6.54" height="5.6" fill="#f8b9bb"/><rect x="599.65" y="473.15" width="6.54" height="5.6" fill="#f2adb0"/><rect x="599.65" y="478.7" width="6.54" height="5.6" fill="#f8b3b6"/><rect x="599.65" y="484.25" width="6.54" height="5.6" fill="#f6b0b3"/><rect x="606.14" y="423.2" width="6.54" height="5.6" fill="#f4cbce"/><rect x="606.14" y="428.75" width="6.54" height="5.6" fill="#f7cdd1"/><rect x="606.14" y="434.3" width="6.54" height="5.6" fill="#f8d2d5"/><rect x="606.14" y="439.85" width="6.54" height="5.6" fill="#f5cccf"/><rect x="606.14" y="445.4" width="6.54" height="5.6" fill="#f4cbce"/><rect x="606.14" y="450.95" width="6.54" height="5.6" fill="#f8cfd2"/><rect x="606.14" y="456.5" width="6.54" height="5.6" fill="#fadadc"/><rect x="606.14" y="462.05" width="6.54" height="5.6" fill="#fad9db"/><rect x="606.14" y="467.6" width="6.54" height="5.6" fill="#f6d5d7"/><rect x="606.14" y="473.15" width="6.54" height="5.6" fill="#fadbdd"/><rect x="606.14" y="478.7" width="6.54" height="5.6" fill="#f5d4d6"/><rect x="606.14" y="484.25" width="6.54" height="5.6" fill="#f6d5d7"/><rect x="612.62" y="423.2" width="6.54" height="5.6" fill="#f5a2a5"/><rect x="612.62" y="428.75" width="6.54" height="5.6" fill="#f8a5a8"/><rect x="612.62" y="434.3" width="6.54" height="5.6" fill="#f7a4a7"/><rect x="612.62" y="439.85" width="6.54" height="5.6" fill="#f8a5a9"/><rect x="612.62" y="445.4" width="6.54" height="5.6" fill="#f8a9ac"/><rect x="612.62" y="450.95" width="6.54" height="5.6" fill="#f8acaf"/><rect x="612.62" y="456.5" width="6.54" height="5.6" fill="#f7a4a7"/><rect x="612.62" y="462.05" width="6.54" height="5.6" fill="#f2a1a4"/><rect x="612.62" y="467.6" width="6.54" height="5.6" fill="#f8abad"/><rect x="612.62" y="473.15" width="6.54" height="5.6" fill="#f2a1a4"/><rect x="612.62" y="478.7" width="6.54" height="5.6" fill="#f5a3a6"/><rect x="612.62" y="484.25" width="6.54" height="5.6" fill="#f3a2a5"/><rect x="619.11" y="423.2" width="6.54" height="5.6" fill="#fadbde"/><rect x="619.11" y="428.75" width="6.54" height="5.6" fill="#fadde0"/><rect x="619.11" y="434.3" width="6.54" height="5.6" fill="#f5d7da"/><rect x="619.11" y="439.85" width="6.54" height="5.6" fill="#f7d8db"/><rect x="619.11" y="445.4" width="6.54" height="5.6" fill="#fadde0"/><rect x="619.11" y="450.95" width="6.54" height="5.6" fill="#fadcdf"/><rect x="619.11" y="456.5" width="6.54" height="5.6" fill="#f5d6d9"/><rect x="619.11" y="462.05" width="6.54" height="5.6" fill="#fadcdf"/><rect x="619.11" y="467.6" width="6.54" height="5.6" fill="#fadde0"/><rect x="619.11" y="473.15" width="6.54" height="5.6" fill="#f9dadd"/><rect x="619.11" y="478.7" width="6.54" height="5.6" fill="#f5d7da"/><rect x="619.11" y="484.25" width="6.54" height="5.6" fill="#fadcdf"/><rect x="625.6" y="423.2" width="6.54" height="5.6" fill="#e1e7f3"/><rect x="625.6" y="428.75" width="6.54" height="5.6" fill="#dee5f1"/><rect x="625.6" y="434.3" width="6.54" height="5.6" fill="#dfe5f1"/><rect x="625.6" y="439.85" width="6.54" height="5.6" fill="#e2e8f4"/><rect x="625.6" y="445.4" width="6.54" height="5.6" fill="#dee5f1"/><rect x="625.6" y="450.95" width="6.54" height="5.6" fill="#e1e8f4"/><rect x="625.6" y="456.5" width="6.54" height="5.6" fill="#e3e9f6"/><rect x="625.6" y="462.05" width="6.54" height="5.6" fill="#e3e9f6"/><rect x="625.6" y="467.6" width="6.54" height="5.6" fill="#e2e8f4"/><rect x="625.6" y="473.15" width="6.54" height="5.6" fill="#e4eaf6"/><rect x="625.6" y="478.7" width="6.54" height="5.6" fill="#dee4f0"/><rect x="625.6" y="484.25" width="6.54" height="5.6" fill="#e1e7f3"/><rect x="632.09" y="423.2" width="6.54" height="5.6" fill="#f1f3fa"/><rect x="632.09" y="428.75" width="6.54" height="5.6" fill="#f0f2fa"/><rect x="632.09" y="434.3" width="6.54" height="5.6" fill="#f1f2fa"/><rect x="632.09" y="439.85" width="6.54" height="5.6" fill="#f0f2fa"/><rect x="632.09" y="445.4" width="6.54" height="5.6" fill="#eff1fa"/><rect x="632.09" y="450.95" width="6.54" height="5.6" fill="#f0f2fa"/><rect x="632.09" y="456.5" width="6.54" height="5.6" fill="#f4f4fa"/><rect x="632.09" y="462.05" width="6.54" height="5.6" fill="#efeff5"/><rect x="632.09" y="467.6" width="6.54" height="5.6" fill="#f1f1f7"/><rect x="632.09" y="473.15" width="6.54" height="5.6" fill="#efeff5"/><rect x="632.09" y="478.7" width="6.54" height="5.6" fill="#f5f5fa"/><rect x="632.09" y="484.25" width="6.54" height="5.6" fill="#f2f2f8"/><rect x="638.58" y="423.2" width="6.54" height="5.6" fill="#c4d3ea"/><rect x="638.58" y="428.75" width="6.54" height="5.6" fill="#c6d4eb"/><rect x="638.58" y="434.3" width="6.54" height="5.6" fill="#c1d0e6"/><rect x="638.58" y="439.85" width="6.54" height="5.6" fill="#c8d6ec"/><rect x="638.58" y="445.4" width="6.54" height="5.6" fill="#c9d6ec"/><rect x="638.58" y="450.95" width="6.54" height="5.6" fill="#c9d6ec"/><rect x="638.58" y="456.5" width="6.54" height="5.6" fill="#d9e3f2"/><rect x="638.58" y="462.05" width="6.54" height="5.6" fill="#d4deef"/><rect x="638.58" y="467.6" width="6.54" height="5.6" fill="#d2dded"/><rect x="638.58" y="473.15" width="6.54" height="5.6" fill="#d8e2f2"/><rect x="638.58" y="478.7" width="6.54" height="5.6" fill="#d8e2f2"/><rect x="638.58" y="484.25" width="6.54" height="5.6" fill="#d5dff0"/><rect x="645.06" y="423.2" width="6.54" height="5.6" fill="#e1e7f4"/><rect x="645.06" y="428.75" width="6.54" height="5.6" fill="#dfe5f1"/><rect x="645.06" y="434.3" width="6.54" height="5.6" fill="#e5eaf6"/><rect x="645.06" y="439.85" width="6.54" height="5.6" fill="#e2e8f5"/><rect x="645.06" y="445.4" width="6.54" height="5.6" fill="#e4eaf6"/><rect x="645.06" y="450.95" width="6.54" height="5.6" fill="#e1e7f4"/><rect x="645.06" y="456.5" width="6.54" height="5.6" fill="#ebeff8"/><rect x="645.06" y="462.05" width="6.54" height="5.6" fill="#edf1fa"/><rect x="645.06" y="467.6" width="6.54" height="5.6" fill="#eef2fa"/><rect x="645.06" y="473.15" width="6.54" height="5.6" fill="#eff2fa"/><rect x="645.06" y="478.7" width="6.54" height="5.6" fill="#ebf0f8"/><rect x="645.06" y="484.25" width="6.54" height="5.6" fill="#eef2fa"/><rect x="651.55" y="423.2" width="6.54" height="5.6" fill="#f7cdd0"/><rect x="651.55" y="428.75" width="6.54" height="5.6" fill="#f8d2d5"/><rect x="651.55" y="434.3" width="6.54" height="5.6" fill="#f8d1d4"/><rect x="651.55" y="439.85" width="6.54" height="5.6" fill="#f8cfd2"/><rect x="651.55" y="445.4" width="6.54" height="5.6" fill="#f6cdd0"/><rect x="651.55" y="450.95" width="6.54" height="5.6" fill="#f5cccf"/><rect x="651.55" y="456.5" width="6.54" height="5.6" fill="#f8d6d9"/><rect x="651.55" y="462.05" width="6.54" height="5.6" fill="#f8d5d8"/><rect x="651.55" y="467.6" width="6.54" height="5.6" fill="#f5d0d3"/><rect x="651.55" y="473.15" width="6.54" height="5.6" fill="#f3ced1"/><rect x="651.55" y="478.7" width="6.54" height="5.6" fill="#f4cfd2"/><rect x="651.55" y="484.25" width="6.54" height="5.6" fill="#f8d6d9"/><rect x="658.04" y="423.2" width="6.54" height="5.6" fill="#7198cd"/><rect x="658.04" y="428.75" width="6.54" height="5.6" fill="#7ca1d5"/><rect x="658.04" y="434.3" width="6.54" height="5.6" fill="#749cd2"/><rect x="658.04" y="439.85" width="6.54" height="5.6" fill="#759cd2"/><rect x="658.04" y="445.4" width="6.54" height="5.6" fill="#749cd2"/><rect x="658.04" y="450.95" width="6.54" height="5.6" fill="#739bd1"/><rect x="658.04" y="456.5" width="6.54" height="5.6" fill="#759cd2"/><rect x="658.04" y="462.05" width="6.54" height="5.6" fill="#7198ce"/><rect x="658.04" y="467.6" width="6.54" height="5.6" fill="#7fa4d6"/><rect x="658.04" y="473.15" width="6.54" height="5.6" fill="#7198ce"/><rect x="658.04" y="478.7" width="6.54" height="5.6" fill="#7198ce"/><rect x="658.04" y="484.25" width="6.54" height="5.6" fill="#789fd3"/><rect x="664.53" y="423.2" width="6.54" height="5.6" fill="#fcecef"/><rect x="664.53" y="428.75" width="6.54" height="5.6" fill="#fcecef"/><rect x="664.53" y="434.3" width="6.54" height="5.6" fill="#fcecef"/><rect x="664.53" y="439.85" width="6.54" height="5.6" fill="#fcedf0"/><rect x="664.53" y="445.4" width="6.54" height="5.6" fill="#f6e6e9"/><rect x="664.53" y="450.95" width="6.54" height="5.6" fill="#f6e5e9"/><rect x="664.53" y="456.5" width="6.54" height="5.6" fill="#f9e8eb"/><rect x="664.53" y="462.05" width="6.54" height="5.6" fill="#fcecef"/><rect x="664.53" y="467.6" width="6.54" height="5.6" fill="#f8e7ea"/><rect x="664.53" y="473.15" width="6.54" height="5.6" fill="#fcebee"/><rect x="664.53" y="478.7" width="6.54" height="5.6" fill="#fcecef"/><rect x="664.53" y="484.25" width="6.54" height="5.6" fill="#f8e7ea"/><rect x="671.02" y="423.2" width="6.54" height="5.6" fill="#fcebee"/><rect x="671.02" y="428.75" width="6.54" height="5.6" fill="#fcedf0"/><rect x="671.02" y="434.3" width="6.54" height="5.6" fill="#fcecef"/><rect x="671.02" y="439.85" width="6.54" height="5.6" fill="#fbeaed"/><rect x="671.02" y="445.4" width="6.54" height="5.6" fill="#fcebee"/><rect x="671.02" y="450.95" width="6.54" height="5.6" fill="#f9e9ec"/><rect x="671.02" y="456.5" width="6.54" height="5.6" fill="#fcedf0"/><rect x="671.02" y="462.05" width="6.54" height="5.6" fill="#fcecef"/><rect x="671.02" y="467.6" width="6.54" height="5.6" fill="#fcecef"/><rect x="671.02" y="473.15" width="6.54" height="5.6" fill="#f9e9ec"/><rect x="671.02" y="478.7" width="6.54" height="5.6" fill="#fcecef"/><rect x="671.02" y="484.25" width="6.54" height="5.6" fill="#fcebee"/><rect x="677.5" y="423.2" width="6.54" height="5.6" fill="#f5f5fa"/><rect x="677.5" y="428.75" width="6.54" height="5.6" fill="#f2f2f8"/><rect x="677.5" y="434.3" width="6.54" height="5.6" fill="#f5f5fa"/><rect x="677.5" y="439.85" width="6.54" height="5.6" fill="#f4f4fa"/><rect x="677.5" y="445.4" width="6.54" height="5.6" fill="#f3f3f9"/><rect x="677.5" y="450.95" width="6.54" height="5.6" fill="#f4f4fa"/><rect x="677.5" y="456.5" width="6.54" height="5.6" fill="#f5f5fa"/><rect x="677.5" y="462.05" width="6.54" height="5.6" fill="#f4f4fa"/><rect x="677.5" y="467.6" width="6.54" height="5.6" fill="#f5f5fa"/><rect x="677.5" y="473.15" width="6.54" height="5.6" fill="#eeeef4"/><rect x="677.5" y="478.7" width="6.54" height="5.6" fill="#f5f5fa"/><rect x="677.5" y="484.25" width="6.54" height="5.6" fill="#f4f4fa"/></g>
<rect x="139" y="423.2" width="545" height="66.8" fill="none" stroke="#555" stroke-width="0.8"/>
<line x1="139" y1="456.5" x2="684" y2="456.5" stroke="#555" stroke-width="0.8"/>
<text transform="translate(132.2 438.3) rotate(-90)" x="0" y="3.09" text-anchor="middle">U2OS</text>
<text transform="translate(132.2 472) rotate(-90)" x="0" y="3.09" text-anchor="middle">HCT116</text>
<g font-size="7.25" fill="#222"><text transform="translate(142.24 494.6) rotate(-90)" x="0" y="2.55" text-anchor="end">AR-R-V</text><text transform="translate(148.73 494.6) rotate(-90)" x="0" y="2.55" text-anchor="end">p27-R-V</text><text transform="translate(155.22 494.6) rotate(-90)" x="0" y="2.55" text-anchor="end">p90RSK_pT359_S363-R-C</text><text transform="translate(161.71 494.6) rotate(-90)" x="0" y="2.55" text-anchor="end">FOXO3a-R-C</text><text transform="translate(168.2 494.6) rotate(-90)" x="0" y="2.55" text-anchor="end">C-Raf-R-V</text><text transform="translate(174.68 494.6) rotate(-90)" x="0" y="2.55" text-anchor="end">HER2_pY1248-R-C</text><text transform="translate(181.17 494.6) rotate(-90)" x="0" y="2.55" text-anchor="end">ERCC1-M-E</text><text transform="translate(187.66 494.6) rotate(-90)" x="0" y="2.55" text-anchor="end">14-3-3_epsilon-M-C</text><text transform="translate(194.15 494.6) rotate(-90)" x="0" y="2.55" text-anchor="end">Raptor-R-V</text><text transform="translate(200.64 494.6) rotate(-90)" x="0" y="2.55" text-anchor="end">Rictor_pT1135-R-V</text><text transform="translate(207.12 494.6) rotate(-90)" x="0" y="2.55" text-anchor="end">GSK3_pS9-R-V</text><text transform="translate(213.61 494.6) rotate(-90)" x="0" y="2.55" text-anchor="end">MEK1_pS217_S221-R-V</text><text transform="translate(220.1 494.6) rotate(-90)" x="0" y="2.55" text-anchor="end">DJ-1-R-E</text><text transform="translate(226.59 494.6) rotate(-90)" x="0" y="2.55" text-anchor="end">Annexin_VII-M-V</text><text transform="translate(233.08 494.6) rotate(-90)" x="0" y="2.55" text-anchor="end">JNK_pT183_pT185-R-V</text><text transform="translate(239.56 494.6) rotate(-90)" x="0" y="2.55" text-anchor="end">Rab11-R-E</text><text transform="translate(246.05 494.6) rotate(-90)" x="0" y="2.55" text-anchor="end">Bim-R-V</text><text transform="translate(252.54 494.6) rotate(-90)" x="0" y="2.55" text-anchor="end">MAPK_pT202_Y204-R-V</text><text transform="translate(259.03 494.6) rotate(-90)" x="0" y="2.55" text-anchor="end">p27_pT157-R-C</text><text transform="translate(265.52 494.6) rotate(-90)" x="0" y="2.55" text-anchor="end">4E-BP1_pS65-R-V</text><text transform="translate(272 494.6) rotate(-90)" x="0" y="2.55" text-anchor="end">MSH6-R-E</text><text transform="translate(278.49 494.6) rotate(-90)" x="0" y="2.55" text-anchor="end">PKC-delta_pS664-R-V</text><text transform="translate(284.98 494.6) rotate(-90)" x="0" y="2.55" text-anchor="end">PI3K-p85-R-V</text><text transform="translate(291.47 494.6) rotate(-90)" x="0" y="2.55" text-anchor="end">PKC-pan_BetaII_pS660-R-V</text><text transform="translate(297.96 494.6) rotate(-90)" x="0" y="2.55" text-anchor="end">FASN-R-V</text><text transform="translate(304.44 494.6) rotate(-90)" x="0" y="2.55" text-anchor="end">Rb-M-E</text><text transform="translate(310.93 494.6) rotate(-90)" x="0" y="2.55" text-anchor="end">Lck-R-V</text><text transform="translate(317.42 494.6) rotate(-90)" x="0" y="2.55" text-anchor="end">S6_pS235_S236-R-V</text><text transform="translate(323.91 494.6) rotate(-90)" x="0" y="2.55" text-anchor="end">BRCA2-R-C</text><text transform="translate(330.4 494.6) rotate(-90)" x="0" y="2.55" text-anchor="end">Src_pY527-R-V</text><text transform="translate(336.88 494.6) rotate(-90)" x="0" y="2.55" text-anchor="end">mTOR_pS2448-R-C</text><text transform="translate(343.37 494.6) rotate(-90)" x="0" y="2.55" text-anchor="end">4E-BP1_pT37_T46-R-V</text><text transform="translate(349.86 494.6) rotate(-90)" x="0" y="2.55" text-anchor="end">c-Met_pY1235-R-V</text><text transform="translate(356.35 494.6) rotate(-90)" x="0" y="2.55" text-anchor="end">14-3-3_beta-R-V</text><text transform="translate(362.84 494.6) rotate(-90)" x="0" y="2.55" text-anchor="end">c-Kit-R-V</text><text transform="translate(369.32 494.6) rotate(-90)" x="0" y="2.55" text-anchor="end">Caveolin-1-R-V</text><text transform="translate(375.81 494.6) rotate(-90)" x="0" y="2.55" text-anchor="end" fill="#ee1c24">Cyclin_B1-R-V</text><text transform="translate(382.3 494.6) rotate(-90)" x="0" y="2.55" text-anchor="end">FoxM1-R-V</text><text transform="translate(388.79 494.6) rotate(-90)" x="0" y="2.55" text-anchor="end">mTOR-R-V</text><text transform="translate(395.28 494.6) rotate(-90)" x="0" y="2.55" text-anchor="end">NF-kB-p65_pS536-R-C</text><text transform="translate(401.76 494.6) rotate(-90)" x="0" y="2.55" text-anchor="end">p90RSK-R-C</text><text transform="translate(408.25 494.6) rotate(-90)" x="0" y="2.55" text-anchor="end">PI3K-p110-alpha-R-C</text><text transform="translate(414.74 494.6) rotate(-90)" x="0" y="2.55" text-anchor="end">Stathmin-R-V</text><text transform="translate(421.23 494.6) rotate(-90)" x="0" y="2.55" text-anchor="end">GAPDH-M-C</text><text transform="translate(427.72 494.6) rotate(-90)" x="0" y="2.55" text-anchor="end">PCNA-M-C</text><text transform="translate(434.2 494.6) rotate(-90)" x="0" y="2.55" text-anchor="end">Smad4-M-V</text><text transform="translate(440.69 494.6) rotate(-90)" x="0" y="2.55" text-anchor="end">Akt-R-V</text><text transform="translate(447.18 494.6) rotate(-90)" x="0" y="2.55" text-anchor="end">Collagen_VI-R-V</text><text transform="translate(453.67 494.6) rotate(-90)" x="0" y="2.55" text-anchor="end">p38_MAPK-R-V</text><text transform="translate(460.16 494.6) rotate(-90)" x="0" y="2.55" text-anchor="end">Dvl3-R-V</text><text transform="translate(466.64 494.6) rotate(-90)" x="0" y="2.55" text-anchor="end">Caspase-7_cleavedD198-R-C</text><text transform="translate(473.13 494.6) rotate(-90)" x="0" y="2.55" text-anchor="end">G6PD-M-V</text><text transform="translate(479.62 494.6) rotate(-90)" x="0" y="2.55" text-anchor="end">SETD2-R-E</text><text transform="translate(486.11 494.6) rotate(-90)" x="0" y="2.55" text-anchor="end">HER3_pY1298-R-C</text><text transform="translate(492.6 494.6) rotate(-90)" x="0" y="2.55" text-anchor="end" fill="#ee1c24">Cyclin_D1-R-V</text><text transform="translate(499.08 494.6) rotate(-90)" x="0" y="2.55" text-anchor="end">E-Cadherin-R-V</text><text transform="translate(505.57 494.6) rotate(-90)" x="0" y="2.55" text-anchor="end">PARP_cleaved-M-E</text><text transform="translate(512.06 494.6) rotate(-90)" x="0" y="2.55" text-anchor="end">PEA15_pS116-R-V</text><text transform="translate(518.55 494.6) rotate(-90)" x="0" y="2.55" text-anchor="end">Snail-M-E</text><text transform="translate(525.04 494.6) rotate(-90)" x="0" y="2.55" text-anchor="end">TRFC-R-V</text><text transform="translate(531.52 494.6) rotate(-90)" x="0" y="2.55" text-anchor="end">YAP-R-E</text><text transform="translate(538.01 494.6) rotate(-90)" x="0" y="2.55" text-anchor="end">ACC_pS79-R-V</text><text transform="translate(544.5 494.6) rotate(-90)" x="0" y="2.55" text-anchor="end">YB-1_pS102-R-V</text><text transform="translate(550.99 494.6) rotate(-90)" x="0" y="2.55" text-anchor="end">C-Raf_pS338-R-E</text><text transform="translate(557.48 494.6) rotate(-90)" x="0" y="2.55" text-anchor="end">p21-R-V</text><text transform="translate(563.96 494.6) rotate(-90)" x="0" y="2.55" text-anchor="end">Bad_pS112-R-V</text><text transform="translate(570.45 494.6) rotate(-90)" x="0" y="2.55" text-anchor="end">CD31-M-V</text><text transform="translate(576.94 494.6) rotate(-90)" x="0" y="2.55" text-anchor="end">Chk1_pS345-R-C</text><text transform="translate(583.43 494.6) rotate(-90)" x="0" y="2.55" text-anchor="end">SCD1-M-V</text><text transform="translate(589.92 494.6) rotate(-90)" x="0" y="2.55" text-anchor="end">EGFR_pY1173-R-V</text><text transform="translate(596.4 494.6) rotate(-90)" x="0" y="2.55" text-anchor="end">beta-Catenin-R-V</text><text transform="translate(602.89 494.6) rotate(-90)" x="0" y="2.55" text-anchor="end">14-3-3_zeta-R-V</text><text transform="translate(609.38 494.6) rotate(-90)" x="0" y="2.55" text-anchor="end">4E-BP1-R-V</text><text transform="translate(615.87 494.6) rotate(-90)" x="0" y="2.55" text-anchor="end">ACC1-R-E</text><text transform="translate(622.36 494.6) rotate(-90)" x="0" y="2.55" text-anchor="end">Bak-R-E</text><text transform="translate(628.84 494.6) rotate(-90)" x="0" y="2.55" text-anchor="end">Beclin-G-C</text><text transform="translate(635.33 494.6) rotate(-90)" x="0" y="2.55" text-anchor="end">Bid-R-C</text><text transform="translate(641.82 494.6) rotate(-90)" x="0" y="2.55" text-anchor="end">Chk2_pT68-R-E</text><text transform="translate(648.31 494.6) rotate(-90)" x="0" y="2.55" text-anchor="end">INPP4B-G-E</text><text transform="translate(654.8 494.6) rotate(-90)" x="0" y="2.55" text-anchor="end">PDCD4-R-C</text><text transform="translate(661.28 494.6) rotate(-90)" x="0" y="2.55" text-anchor="end">SF2-M-V</text><text transform="translate(667.77 494.6) rotate(-90)" x="0" y="2.55" text-anchor="end">YB-1-R-V</text><text transform="translate(674.26 494.6) rotate(-90)" x="0" y="2.55" text-anchor="end">MEK1-R-V</text><text transform="translate(680.75 494.6) rotate(-90)" x="0" y="2.55" text-anchor="end">Bcl-xL-R-V</text></g>
<text x="38.9" y="614.6" font-size="15.5" font-weight="bold">d</text>
<path d="M114 644.6L100 650M114 644.6L149.3 650M114 644.6L120.8 658.2M114 644.6L87 681.2M114 644.6L126.2 734.1M114 644.6L100 692.6M114 644.6L118 714.6M114 644.6L105 727.6M114 644.6L140 692.6M114 644.6L110 742.6M114 644.6L100 672.6M114 644.6L105 759.6M114 644.6L120 747.6M114 644.6L78 692.6M114 644.6L78.13 702.9M114 644.6L132.34 740.14M114 644.6L139.18 720.17M114 644.6L94.45 668.57M114 644.6L120.86 709.65M100 650L120.8 658.2M100 650L135.7 672.6M100 650L87 681.2M100 650L65.2 710.5M100 650L153.3 698.8M100 650L153.3 736.8M100 650L126.2 734.1M100 650L95 714.6M100 650L118 714.6M100 650L135 707.6M100 650L105 727.6M100 650L105 759.6M100 650L125 682.6M100 650L78 692.6M100 650L81.28 717.08M100 650L114.95 696.22M100 650L107.65 703.01M149.3 650L158.8 715.1M149.3 650L154.7 724.6M149.3 650L126.2 734.1M149.3 650L100 692.6M149.3 650L95 714.6M149.3 650L112 687.6M149.3 650L81.52 663.63M149.3 650L139.18 720.17M149.3 650L120.86 709.65M149.3 650L121.6 688.2M120.8 658.2L69.3 668.2M120.8 658.2L146.6 667.1M120.8 658.2L87 681.2M120.8 658.2L152 681.6M120.8 658.2L126.2 734.1M120.8 658.2L153.3 764.4M120.8 658.2L100 692.6M120.8 658.2L110 702.6M120.8 658.2L118 714.6M120.8 658.2L105 727.6M120.8 658.2L80 722.6M120.8 658.2L140 692.6M120.8 658.2L95 702.6M120.8 658.2L125 682.6M120.8 658.2L112 687.6M120.8 658.2L78 692.6M120.8 658.2L81.52 663.63M120.8 658.2L114.95 696.22M120.8 658.2L94.45 668.57M120.8 658.2L126.19 727.16M120.8 658.2L150.9 711.71M69.3 668.2L62.5 682.6M69.3 668.2L87 681.2M69.3 668.2L152 681.6M69.3 668.2L62.5 697.5M69.3 668.2L135 707.6M69.3 668.2L80 722.6M69.3 668.2L100 672.6M69.3 668.2L120 747.6M69.3 668.2L95 702.6M69.3 668.2L78 692.6M69.3 668.2L78.13 702.9M69.3 668.2L139.18 720.17M69.3 668.2L164.01 736.44M69.3 668.2L114.95 696.22M69.3 668.2L94.45 668.57M69.3 668.2L107.65 703.01M69.3 668.2L126.19 727.16M69.3 668.2L150.9 711.71M146.6 667.1L135.7 672.6M146.6 667.1L62.5 682.6M146.6 667.1L152 681.6M146.6 667.1L158.8 715.1M146.6 667.1L126.2 734.1M146.6 667.1L84.2 750.3M146.6 667.1L153.3 764.4M146.6 667.1L118 714.6M146.6 667.1L135 707.6M146.6 667.1L130 724.6M146.6 667.1L110 742.6M146.6 667.1L112 687.6M146.6 667.1L78 692.6M146.6 667.1L81.28 717.08M146.6 667.1L139.18 720.17M146.6 667.1L164.01 736.44M146.6 667.1L114.95 696.22M146.6 667.1L120.86 709.65M146.6 667.1L126.19 727.16M135.7 672.6L62.5 682.6M135.7 672.6L152 681.6M135.7 672.6L153.3 698.8M135.7 672.6L153.3 736.8M135.7 672.6L135 707.6M135.7 672.6L105 727.6M135.7 672.6L80 722.6M135.7 672.6L140 692.6M135.7 672.6L100 672.6M135.7 672.6L95 702.6M135.7 672.6L125 682.6M135.7 672.6L78 692.6M135.7 672.6L147.85 688.58M135.7 672.6L78.13 702.9M135.7 672.6L81.52 663.63M135.7 672.6L139.18 720.17M135.7 672.6L114.95 696.22M135.7 672.6L107.65 703.01M135.7 672.6L150.9 711.71M135.7 672.6L64.31 727.46M135.7 672.6L121.6 688.2M62.5 682.6L87 681.2M62.5 682.6L62.5 697.5M62.5 682.6L65.2 710.5M62.5 682.6L84.2 750.3M62.5 682.6L110 702.6M62.5 682.6L118 714.6M62.5 682.6L80 722.6M62.5 682.6L95 702.6M62.5 682.6L78 692.6M62.5 682.6L78.13 702.9M62.5 682.6L64.31 727.46M87 681.2L62.5 697.5M87 681.2L65.2 710.5M87 681.2L126.2 734.1M87 681.2L84.2 750.3M87 681.2L100 692.6M87 681.2L110 702.6M87 681.2L95 714.6M87 681.2L90 747.6M87 681.2L110 742.6M87 681.2L100 672.6M87 681.2L120 747.6M87 681.2L95 702.6M87 681.2L125 682.6M87 681.2L140 742.6M87 681.2L78 692.6M87 681.2L147.85 688.58M87 681.2L78.13 702.9M87 681.2L81.52 663.63M87 681.2L114.95 696.22M87 681.2L94.45 668.57M87 681.2L107.65 703.01M152 681.6L153.3 698.8M152 681.6L154.7 724.6M152 681.6L153.3 736.8M152 681.6L126.2 734.1M152 681.6L84.2 736.8M152 681.6L110 702.6M152 681.6L135 707.6M152 681.6L95 702.6M152 681.6L125 682.6M152 681.6L112 687.6M152 681.6L147.85 688.58M152 681.6L78.13 702.9M152 681.6L139.18 720.17M152 681.6L94.45 668.57M62.5 697.5L65.2 710.5M62.5 697.5L153.3 736.8M62.5 697.5L84.2 736.8M62.5 697.5L84.2 750.3M62.5 697.5L100 692.6M62.5 697.5L110 702.6M62.5 697.5L140 692.6M62.5 697.5L90 747.6M62.5 697.5L100 672.6M62.5 697.5L105 759.6M62.5 697.5L95 702.6M62.5 697.5L112 687.6M62.5 697.5L81.28 717.08M62.5 697.5L78.13 702.9M62.5 697.5L132.34 740.14M62.5 697.5L114.95 696.22M65.2 710.5L153.3 698.8M65.2 710.5L154.7 724.6M65.2 710.5L84.2 750.3M65.2 710.5L143.9 753M65.2 710.5L153.3 764.4M65.2 710.5L95 714.6M65.2 710.5L135 707.6M65.2 710.5L105 727.6M65.2 710.5L140 692.6M65.2 710.5L90 747.6M65.2 710.5L110 742.6M65.2 710.5L100 672.6M65.2 710.5L120 747.6M65.2 710.5L95 702.6M65.2 710.5L125 682.6M65.2 710.5L78 692.6M65.2 710.5L81.28 717.08M65.2 710.5L139.18 720.17M65.2 710.5L114.95 696.22M65.2 710.5L126.19 727.16M65.2 710.5L150.9 711.71M65.2 710.5L64.31 727.46M153.3 698.8L158.8 715.1M153.3 698.8L154.7 724.6M153.3 698.8L153.3 736.8M153.3 698.8L126.2 734.1M153.3 698.8L84.2 736.8M153.3 698.8L84.2 750.3M153.3 698.8L143.9 753M153.3 698.8L100 692.6M153.3 698.8L118 714.6M153.3 698.8L140 692.6M153.3 698.8L100 672.6M153.3 698.8L120 747.6M153.3 698.8L81.28 717.08M153.3 698.8L147.85 688.58M153.3 698.8L78.13 702.9M153.3 698.8L132.34 740.14M153.3 698.8L139.18 720.17M153.3 698.8L120.86 709.65M153.3 698.8L107.65 703.01M153.3 698.8L150.9 711.71M153.3 698.8L121.6 688.2M158.8 715.1L153.3 736.8M158.8 715.1L84.2 736.8M158.8 715.1L100 692.6M158.8 715.1L110 702.6M158.8 715.1L118 714.6M158.8 715.1L140 692.6M158.8 715.1L90 747.6M158.8 715.1L100 672.6M158.8 715.1L120 747.6M158.8 715.1L140 742.6M158.8 715.1L78.13 702.9M158.8 715.1L132.34 740.14M158.8 715.1L139.18 720.17M158.8 715.1L164.01 736.44M158.8 715.1L114.95 696.22M158.8 715.1L120.86 709.65M158.8 715.1L107.65 703.01M158.8 715.1L126.19 727.16M158.8 715.1L150.9 711.71M154.7 724.6L153.3 736.8M154.7 724.6L143.9 753M154.7 724.6L110 702.6M154.7 724.6L135 707.6M154.7 724.6L130 724.6M154.7 724.6L80 722.6M154.7 724.6L110 742.6M154.7 724.6L100 672.6M154.7 724.6L120 747.6M154.7 724.6L95 702.6M154.7 724.6L125 682.6M154.7 724.6L78.13 702.9M154.7 724.6L132.34 740.14M154.7 724.6L81.52 663.63M154.7 724.6L139.18 720.17M154.7 724.6L114.95 696.22M154.7 724.6L94.45 668.57M154.7 724.6L120.86 709.65M154.7 724.6L126.19 727.16M154.7 724.6L64.31 727.46M153.3 736.8L143.9 753M153.3 736.8L110 702.6M153.3 736.8L95 714.6M153.3 736.8L118 714.6M153.3 736.8L105 727.6M153.3 736.8L130 724.6M153.3 736.8L90 747.6M153.3 736.8L105 759.6M153.3 736.8L125 682.6M153.3 736.8L140 742.6M153.3 736.8L112 687.6M153.3 736.8L78 692.6M153.3 736.8L147.85 688.58M153.3 736.8L132.34 740.14M153.3 736.8L164.01 736.44M153.3 736.8L94.45 668.57M153.3 736.8L120.86 709.65M153.3 736.8L126.19 727.16M153.3 736.8L150.9 711.71M126.2 734.1L84.2 736.8M126.2 734.1L143.9 753M126.2 734.1L100 692.6M126.2 734.1L110 702.6M126.2 734.1L118 714.6M126.2 734.1L135 707.6M126.2 734.1L105 727.6M126.2 734.1L130 724.6M126.2 734.1L80 722.6M126.2 734.1L90 747.6M126.2 734.1L110 742.6M126.2 734.1L100 672.6M126.2 734.1L105 759.6M126.2 734.1L120 747.6M126.2 734.1L125 682.6M126.2 734.1L140 742.6M126.2 734.1L132.34 740.14M126.2 734.1L81.52 663.63M126.2 734.1L139.18 720.17M126.2 734.1L164.01 736.44M126.2 734.1L114.95 696.22M126.2 734.1L120.86 709.65M126.2 734.1L107.65 703.01M126.2 734.1L150.9 711.71M126.2 734.1L121.6 688.2M126.2 734.1L123.5 762.6M84.2 736.8L84.2 750.3M84.2 736.8L143.9 753M84.2 736.8L110 702.6M84.2 736.8L95 714.6M84.2 736.8L135 707.6M84.2 736.8L105 727.6M84.2 736.8L130 724.6M84.2 736.8L140 692.6M84.2 736.8L90 747.6M84.2 736.8L110 742.6M84.2 736.8L125 682.6M84.2 736.8L112 687.6M84.2 736.8L81.28 717.08M84.2 736.8L132.34 740.14M84.2 736.8L81.52 663.63M84.2 736.8L120.86 709.65M84.2 736.8L126.19 727.16M84.2 736.8L150.9 711.71M84.2 736.8L64.31 727.46M84.2 736.8L123.5 762.6M84.2 750.3L143.9 753M84.2 750.3L95 714.6M84.2 750.3L118 714.6M84.2 750.3L135 707.6M84.2 750.3L105 727.6M84.2 750.3L130 724.6M84.2 750.3L90 747.6M84.2 750.3L110 742.6M84.2 750.3L125 682.6M84.2 750.3L78 692.6M84.2 750.3L132.34 740.14M84.2 750.3L81.52 663.63M84.2 750.3L139.18 720.17M84.2 750.3L164.01 736.44M84.2 750.3L114.95 696.22M84.2 750.3L120.86 709.65M84.2 750.3L107.65 703.01M84.2 750.3L126.19 727.16M84.2 750.3L64.31 727.46M143.9 753L153.3 764.4M143.9 753L118 714.6M143.9 753L105 727.6M143.9 753L130 724.6M143.9 753L140 692.6M143.9 753L90 747.6M143.9 753L105 759.6M143.9 753L120 747.6M143.9 753L140 742.6M143.9 753L147.85 688.58M143.9 753L132.34 740.14M143.9 753L81.52 663.63M143.9 753L120.86 709.65M143.9 753L126.19 727.16M143.9 753L150.9 711.71M143.9 753L121.6 688.2M153.3 764.4L110 702.6M153.3 764.4L130 724.6M153.3 764.4L80 722.6M153.3 764.4L100 672.6M153.3 764.4L120 747.6M153.3 764.4L125 682.6M153.3 764.4L140 742.6M153.3 764.4L147.85 688.58M153.3 764.4L132.34 740.14M153.3 764.4L114.95 696.22M153.3 764.4L120.86 709.65M153.3 764.4L121.6 688.2M100 692.6L110 702.6M100 692.6L95 714.6M100 692.6L118 714.6M100 692.6L135 707.6M100 692.6L105 727.6M100 692.6L90 747.6M100 692.6L100 672.6M100 692.6L95 702.6M100 692.6L125 682.6M100 692.6L140 742.6M100 692.6L112 687.6M100 692.6L78 692.6M100 692.6L81.52 663.63M100 692.6L94.45 668.57M100 692.6L120.86 709.65M100 692.6L107.65 703.01M100 692.6L64.31 727.46M110 702.6L95 714.6M110 702.6L105 727.6M110 702.6L130 724.6M110 702.6L80 722.6M110 702.6L140 692.6M110 702.6L90 747.6M110 702.6L110 742.6M110 702.6L105 759.6M110 702.6L95 702.6M110 702.6L125 682.6M110 702.6L140 742.6M110 702.6L112 687.6M110 702.6L78 692.6M110 702.6L81.28 717.08M110 702.6L147.85 688.58M110 702.6L78.13 702.9M110 702.6L132.34 740.14M110 702.6L81.52 663.63M110 702.6L139.18 720.17M110 702.6L114.95 696.22M110 702.6L120.86 709.65M110 702.6L107.65 703.01M110 702.6L150.9 711.71M110 702.6L123.5 762.6M95 714.6L118 714.6M95 714.6L135 707.6M95 714.6L105 727.6M95 714.6L130 724.6M95 714.6L80 722.6M95 714.6L140 692.6M95 714.6L110 742.6M95 714.6L100 672.6M95 714.6L105 759.6M95 714.6L95 702.6M95 714.6L112 687.6M95 714.6L81.28 717.08M95 714.6L78.13 702.9M95 714.6L132.34 740.14M95 714.6L81.52 663.63M95 714.6L139.18 720.17M95 714.6L164.01 736.44M95 714.6L114.95 696.22M95 714.6L120.86 709.65M95 714.6L107.65 703.01M95 714.6L64.31 727.46M95 714.6L121.6 688.2M118 714.6L135 707.6M118 714.6L105 727.6M118 714.6L130 724.6M118 714.6L80 722.6M118 714.6L140 692.6M118 714.6L90 747.6M118 714.6L110 742.6M118 714.6L100 672.6M118 714.6L105 759.6M118 714.6L120 747.6M118 714.6L95 702.6M118 714.6L125 682.6M118 714.6L140 742.6M118 714.6L78 692.6M118 714.6L81.28 717.08M118 714.6L147.85 688.58M118 714.6L78.13 702.9M118 714.6L132.34 740.14M118 714.6L139.18 720.17M118 714.6L164.01 736.44M118 714.6L114.95 696.22M118 714.6L120.86 709.65M118 714.6L107.65 703.01M118 714.6L126.19 727.16M118 714.6L150.9 711.71M118 714.6L64.31 727.46M135 707.6L105 727.6M135 707.6L130 724.6M135 707.6L140 692.6M135 707.6L100 672.6M135 707.6L105 759.6M135 707.6L120 747.6M135 707.6L125 682.6M135 707.6L112 687.6M135 707.6L81.28 717.08M135 707.6L147.85 688.58M135 707.6L132.34 740.14M135 707.6L139.18 720.17M135 707.6L114.95 696.22M135 707.6L120.86 709.65M135 707.6L107.65 703.01M135 707.6L126.19 727.16M135 707.6L150.9 711.71M135 707.6L64.31 727.46M105 727.6L140 692.6M105 727.6L90 747.6M105 727.6L110 742.6M105 727.6L100 672.6M105 727.6L105 759.6M105 727.6L95 702.6M105 727.6L112 687.6M105 727.6L81.28 717.08M105 727.6L132.34 740.14M105 727.6L114.95 696.22M105 727.6L120.86 709.65M105 727.6L107.65 703.01M105 727.6L126.19 727.16M105 727.6L64.31 727.46M130 724.6L80 722.6M130 724.6L140 692.6M130 724.6L90 747.6M130 724.6L110 742.6M130 724.6L100 672.6M130 724.6L120 747.6M130 724.6L95 702.6M130 724.6L125 682.6M130 724.6L140 742.6M130 724.6L112 687.6M130 724.6L81.28 717.08M130 724.6L78.13 702.9M130 724.6L132.34 740.14M130 724.6L81.52 663.63M130 724.6L139.18 720.17M130 724.6L114.95 696.22M130 724.6L94.45 668.57M130 724.6L120.86 709.65M130 724.6L107.65 703.01M130 724.6L126.19 727.16M130 724.6L121.6 688.2M80 722.6L140 692.6M80 722.6L90 747.6M80 722.6L110 742.6M80 722.6L120 747.6M80 722.6L95 702.6M80 722.6L140 742.6M80 722.6L112 687.6M80 722.6L78 692.6M80 722.6L81.28 717.08M80 722.6L147.85 688.58M80 722.6L132.34 740.14M80 722.6L164.01 736.44M80 722.6L120.86 709.65M80 722.6L107.65 703.01M80 722.6L64.31 727.46M140 692.6L90 747.6M140 692.6L110 742.6M140 692.6L100 672.6M140 692.6L95 702.6M140 692.6L125 682.6M140 692.6L140 742.6M140 692.6L112 687.6M140 692.6L78 692.6M140 692.6L81.28 717.08M140 692.6L147.85 688.58M140 692.6L132.34 740.14M140 692.6L114.95 696.22M140 692.6L120.86 709.65M140 692.6L126.19 727.16M140 692.6L123.5 762.6M90 747.6L110 742.6M90 747.6L100 672.6M90 747.6L105 759.6M90 747.6L120 747.6M90 747.6L78 692.6M90 747.6L147.85 688.58M90 747.6L78.13 702.9M90 747.6L132.34 740.14M90 747.6L139.18 720.17M90 747.6L164.01 736.44M90 747.6L107.65 703.01M90 747.6L126.19 727.16M110 742.6L100 672.6M110 742.6L120 747.6M110 742.6L95 702.6M110 742.6L140 742.6M110 742.6L112 687.6M110 742.6L147.85 688.58M110 742.6L132.34 740.14M110 742.6L139.18 720.17M110 742.6L164.01 736.44M110 742.6L94.45 668.57M110 742.6L64.31 727.46M100 672.6L120 747.6M100 672.6L112 687.6M100 672.6L147.85 688.58M100 672.6L78.13 702.9M100 672.6L81.52 663.63M100 672.6L139.18 720.17M100 672.6L94.45 668.57M100 672.6L107.65 703.01M100 672.6L121.6 688.2M105 759.6L95 702.6M105 759.6L140 742.6M105 759.6L112 687.6M105 759.6L81.28 717.08M105 759.6L132.34 740.14M105 759.6L81.52 663.63M105 759.6L139.18 720.17M105 759.6L164.01 736.44M105 759.6L120.86 709.65M105 759.6L126.19 727.16M120 747.6L95 702.6M120 747.6L140 742.6M120 747.6L112 687.6M120 747.6L78 692.6M120 747.6L81.28 717.08M120 747.6L139.18 720.17M120 747.6L114.95 696.22M120 747.6L120.86 709.65M120 747.6L107.65 703.01M120 747.6L126.19 727.16M120 747.6L123.5 762.6M95 702.6L125 682.6M95 702.6L78 692.6M95 702.6L78.13 702.9M95 702.6L139.18 720.17M95 702.6L114.95 696.22M95 702.6L94.45 668.57M95 702.6L120.86 709.65M95 702.6L107.65 703.01M95 702.6L126.19 727.16M95 702.6L150.9 711.71M95 702.6L64.31 727.46M95 702.6L121.6 688.2M125 682.6L112 687.6M125 682.6L78 692.6M125 682.6L147.85 688.58M125 682.6L78.13 702.9M125 682.6L132.34 740.14M125 682.6L81.52 663.63M125 682.6L139.18 720.17M125 682.6L114.95 696.22M125 682.6L94.45 668.57M125 682.6L107.65 703.01M125 682.6L150.9 711.71M125 682.6L64.31 727.46M125 682.6L121.6 688.2M140 742.6L78 692.6M140 742.6L132.34 740.14M140 742.6L164.01 736.44M140 742.6L114.95 696.22M140 742.6L120.86 709.65M140 742.6L107.65 703.01M140 742.6L126.19 727.16M140 742.6L150.9 711.71M140 742.6L121.6 688.2M140 742.6L123.5 762.6M112 687.6L139.18 720.17M112 687.6L114.95 696.22M112 687.6L94.45 668.57M112 687.6L120.86 709.65M112 687.6L126.19 727.16M78 692.6L81.28 717.08M78 692.6L132.34 740.14M78 692.6L114.95 696.22M78 692.6L94.45 668.57M78 692.6L120.86 709.65M78 692.6L107.65 703.01M78 692.6L64.31 727.46M81.28 717.08L78.13 702.9M81.28 717.08L132.34 740.14M81.28 717.08L81.52 663.63M81.28 717.08L139.18 720.17M81.28 717.08L164.01 736.44M81.28 717.08L114.95 696.22M81.28 717.08L120.86 709.65M81.28 717.08L150.9 711.71M81.28 717.08L64.31 727.46M147.85 688.58L139.18 720.17M147.85 688.58L114.95 696.22M147.85 688.58L94.45 668.57M147.85 688.58L120.86 709.65M147.85 688.58L107.65 703.01M147.85 688.58L126.19 727.16M78.13 702.9L139.18 720.17M78.13 702.9L164.01 736.44M78.13 702.9L94.45 668.57M78.13 702.9L64.31 727.46M132.34 740.14L81.52 663.63M132.34 740.14L164.01 736.44M132.34 740.14L114.95 696.22M132.34 740.14L120.86 709.65M132.34 740.14L107.65 703.01M132.34 740.14L126.19 727.16M132.34 740.14L150.9 711.71M81.52 663.63L139.18 720.17M81.52 663.63L114.95 696.22M81.52 663.63L120.86 709.65M81.52 663.63L150.9 711.71M81.52 663.63L121.6 688.2M139.18 720.17L164.01 736.44M139.18 720.17L114.95 696.22M139.18 720.17L120.86 709.65M139.18 720.17L107.65 703.01M139.18 720.17L126.19 727.16M139.18 720.17L150.9 711.71M139.18 720.17L64.31 727.46M164.01 736.44L120.86 709.65M164.01 736.44L126.19 727.16M164.01 736.44L150.9 711.71M164.01 736.44L123.5 762.6M114.95 696.22L120.86 709.65M114.95 696.22L107.65 703.01M114.95 696.22L126.19 727.16M114.95 696.22L64.31 727.46M114.95 696.22L121.6 688.2M94.45 668.57L120.86 709.65M94.45 668.57L107.65 703.01M94.45 668.57L123.5 762.6M120.86 709.65L107.65 703.01M120.86 709.65L126.19 727.16M120.86 709.65L150.9 711.71M120.86 709.65L64.31 727.46M120.86 709.65L123.5 762.6M107.65 703.01L126.19 727.16M107.65 703.01L150.9 711.71M107.65 703.01L121.6 688.2M126.19 727.16L150.9 711.71M55.8 616.2L100 650M55.8 616.2L69.3 668.2M55.8 616.2L87 681.2M132.5 614.8L120.8 631.1M132.5 614.8L149.3 650M132.5 614.8L162.8 643.3M132.5 614.8L114 644.6M132.5 614.8L80.1 647.3M132.5 614.8L120.8 658.2M120.8 631.1L120.8 658.2M120.8 631.1L114 644.6M120.8 631.1L135.7 672.6M120.8 631.1L146.6 667.1M120.8 631.1L100 650M120.8 631.1L135 707.6M120.8 631.1L100 672.6M120.8 631.1L162.8 643.3M120.8 631.1L87 681.2M120.8 631.1L69.3 668.2M162.8 643.3L149.3 650M162.8 643.3L177.7 667.6M162.8 643.3L152 681.6M162.8 643.3L114 644.6M162.8 643.3L125 682.6M162.8 643.3L140 692.6M162.8 643.3L196.7 697.5M162.8 643.3L100 672.6M162.8 643.3L146.6 667.1M162.8 643.3L147.85 688.58M162.8 643.3L135.7 672.6M162.8 643.3L120.8 631.1M80.1 647.3L100 650M80.1 647.3L81.52 663.63M80.1 647.3L62.5 697.5M80.1 647.3L94.45 668.57M80.1 647.3L87 681.2M80.1 647.3L114 644.6M80.1 647.3L51.7 667.1M80.1 647.3L78 692.6M80.1 647.3L120.86 709.65M51.7 667.1L69.3 668.2M51.7 667.1L78 692.6M51.7 667.1L81.52 663.63M51.7 667.1L100 650M51.7 667.1L95 702.6M51.7 667.1L62.5 697.5M51.7 667.1L87 681.2M51.7 667.1L94.45 668.57M51.7 667.1L95 714.6M51.7 667.1L80.1 647.3M51.7 667.1L100 692.6M177.7 667.6L149.3 650M177.7 667.6L185.9 692.1M177.7 667.6L120.8 658.2M177.7 667.6L135.7 672.6M177.7 667.6L121.6 688.2M177.7 667.6L154.7 724.6M177.7 667.6L152 681.6M177.7 667.6L146.6 667.1M177.7 667.6L153.3 698.8M177.7 667.6L196.7 697.5M185.9 692.1L196.7 697.5M185.9 692.1L177.7 667.6M185.9 692.1L147.85 688.58M185.9 692.1L181.8 719.2M185.9 692.1L152 681.6M185.9 692.1L154.7 724.6M185.9 692.1L164.01 736.44M185.9 692.1L150.9 711.71M185.9 692.1L139.18 720.17M185.9 692.1L135 707.6M196.7 697.5L185.9 692.1M196.7 697.5L198 724.6M196.7 697.5L147.85 688.58M196.7 697.5L181.8 719.2M196.7 697.5L152 681.6M196.7 697.5L153.3 698.8M196.7 697.5L140 692.6M196.7 697.5L177.7 667.6M196.7 697.5L132.34 740.14M196.7 697.5L118 714.6M196.7 697.5L139.18 720.17M196.7 697.5L146.6 667.1M44.9 710.5L65.2 710.5M44.9 710.5L62.5 697.5M44.9 710.5L64.31 727.46M44.9 710.5L80 722.6M44.9 710.5L100 692.6M44.9 710.5L81.28 717.08M44.9 710.5L78 692.6M44.9 710.5L95 714.6M181.8 719.2L198 724.6M181.8 719.2L185.9 692.1M181.8 719.2L150.9 711.71M181.8 719.2L164.01 736.44M181.8 719.2L140 742.6M181.8 719.2L130 724.6M181.8 719.2L126.2 734.1M181.8 719.2L185.9 745.7M181.8 719.2L196.7 697.5M198 724.6L181.8 719.2M198 724.6L158.8 715.1M198 724.6L185.9 745.7M198 724.6L185.9 692.1M198 724.6L164.01 736.44M198 724.6L147.85 688.58M198 724.6L132.34 740.14M198 724.6L143.9 753M198 724.6L150.9 711.71M198 724.6L153.3 736.8M46.3 724.6L44.9 710.5M46.3 724.6L65.2 710.5M46.3 724.6L62.5 697.5M46.3 724.6L46.3 747.6M46.3 724.6L64.31 727.46M46.3 724.6L78 692.6M46.3 724.6L62.5 682.6M46.3 724.6L100 692.6M46.3 724.6L118 714.6M46.3 724.6L95 714.6M46.3 724.6L81.52 663.63M46.3 747.6L46.3 724.6M46.3 747.6L64.31 727.46M46.3 747.6L81.28 717.08M46.3 747.6L84.2 750.3M46.3 747.6L65.2 710.5M46.3 747.6L44.9 710.5M46.3 747.6L100 692.6M46.3 747.6L62.5 697.5M46.3 747.6L105 727.6M169.6 746.3L185.9 745.7M169.6 746.3L164.01 736.44M169.6 746.3L153.3 736.8M169.6 746.3L153.3 764.4M169.6 746.3L126.2 734.1M169.6 746.3L158.8 715.1M169.6 746.3L181.8 719.2M169.6 746.3L120.86 709.65M169.6 746.3L154.7 724.6M169.6 746.3L153.3 698.8M169.6 746.3L198 724.6M185.9 745.7L164.01 736.44M185.9 745.7L153.3 764.4M185.9 745.7L169.6 746.3M185.9 745.7L181.8 719.2M185.9 745.7L196.7 697.5M185.9 745.7L140 742.6M185.9 745.7L198 724.6M185.9 745.7L150.9 711.71M185.9 745.7L132.34 740.14M185.9 745.7L139.18 720.17M99.1 769.3L123.5 762.6M99.1 769.3L84.2 736.8M99.1 769.3L120 747.6M99.1 769.3L84.2 750.3M99.1 769.3L105 727.6M61.2 780.2L46.3 747.6M61.2 780.2L84.2 750.3M61.2 780.2L99.1 769.3M61.2 780.2L84.2 736.8M126.2 785.6L105 759.6M126.2 785.6L99.1 769.3M126.2 785.6L140 742.6M100 814L99.1 769.3" stroke="#4a4a4a" stroke-width="0.22" fill="none" opacity="0.75"/>
<path d="M114 644.6L152 681.6M114 644.6L95 714.6M114 644.6L130 724.6M114 644.6L164.01 736.44M114 644.6L121.6 688.2M100 650L152 681.6M100 650L110 702.6M100 650L100 672.6M149.3 650L120.8 658.2M149.3 650L150.9 711.71M120.8 658.2L135.7 672.6M120.8 658.2L84.2 736.8M120.8 658.2L120.86 709.65M120.8 658.2L121.6 688.2M69.3 668.2L112 687.6M146.6 667.1L110 702.6M146.6 667.1L95 702.6M146.6 667.1L125 682.6M146.6 667.1L132.34 740.14M146.6 667.1L121.6 688.2M135.7 672.6L130 724.6M135.7 672.6L132.34 740.14M62.5 682.6L126.2 734.1M62.5 682.6L84.2 736.8M62.5 682.6L140 742.6M62.5 682.6L120.86 709.65M87 681.2L153.3 736.8M87 681.2L143.9 753M87 681.2L105 727.6M87 681.2L112 687.6M87 681.2L120.86 709.65M152 681.6L118 714.6M152 681.6L140 692.6M152 681.6L100 672.6M62.5 697.5L118 714.6M62.5 697.5L80 722.6M62.5 697.5L107.65 703.01M65.2 710.5L94.45 668.57M153.3 698.8L135 707.6M153.3 698.8L105 727.6M158.8 715.1L154.7 724.6M158.8 715.1L143.9 753M158.8 715.1L130 724.6M158.8 715.1L105 759.6M154.7 724.6L118 714.6M154.7 724.6L140 692.6M154.7 724.6L150.9 711.71M153.3 736.8L80 722.6M153.3 736.8L121.6 688.2M126.2 734.1L112 687.6M126.2 734.1L126.19 727.16M84.2 736.8L80 722.6M84.2 736.8L100 672.6M84.2 736.8L78.13 702.9M84.2 736.8L121.6 688.2M84.2 750.3L140 742.6M84.2 750.3L81.28 717.08M84.2 750.3L78.13 702.9M84.2 750.3L123.5 762.6M143.9 753L110 742.6M143.9 753L112 687.6M143.9 753L139.18 720.17M143.9 753L164.01 736.44M143.9 753L107.65 703.01M153.3 764.4L112 687.6M100 692.6L130 724.6M100 692.6L80 722.6M100 692.6L114.95 696.22M110 702.6L118 714.6M110 702.6L135 707.6M110 702.6L164.01 736.44M110 702.6L94.45 668.57M95 714.6L90 747.6M95 714.6L150.9 711.71M135 707.6L121.6 688.2M105 727.6L140 742.6M105 727.6L78.13 702.9M105 727.6L81.52 663.63M80 722.6L78.13 702.9M140 692.6L105 759.6M140 692.6L164.01 736.44M140 692.6L107.65 703.01M90 747.6L120.86 709.65M90 747.6L64.31 727.46M110 742.6L81.28 717.08M110 742.6L126.19 727.16M100 672.6L125 682.6M100 672.6L114.95 696.22M100 672.6L120.86 709.65M95 702.6L112 687.6M140 742.6L81.28 717.08M140 742.6L139.18 720.17M112 687.6L107.65 703.01M112 687.6L64.31 727.46M78 692.6L78.13 702.9M78 692.6L121.6 688.2M81.28 717.08L107.65 703.01M147.85 688.58L150.9 711.71M147.85 688.58L121.6 688.2M78.13 702.9L121.6 688.2M132.34 740.14L139.18 720.17M139.18 720.17L94.45 668.57M64.31 727.46L123.5 762.6M120.8 631.1L94.45 668.57M120.8 631.1L149.3 650M80.1 647.3L69.3 668.2M80.1 647.3L100 672.6M80.1 647.3L135.7 672.6M51.7 667.1L62.5 682.6M177.7 667.6L162.8 643.3M177.7 667.6L140 692.6M185.9 692.1L140 692.6M185.9 692.1L146.6 667.1M44.9 710.5L46.3 724.6M44.9 710.5L51.7 667.1M44.9 710.5L78.13 702.9M44.9 710.5L81.52 663.63M181.8 719.2L158.8 715.1M181.8 719.2L154.7 724.6M181.8 719.2L139.18 720.17M198 724.6L196.7 697.5M198 724.6L154.7 724.6M46.3 724.6L90 747.6M46.3 747.6L84.2 736.8M46.3 747.6L80 722.6M46.3 747.6L110 702.6M169.6 746.3L143.9 753M185.9 745.7L130 724.6M185.9 745.7L143.9 753M99.1 769.3L105 759.6M126.2 785.6L123.5 762.6" stroke="#5adeea" stroke-width="0.45" fill="none" opacity="0.9"/>
<g fill="#fff" fill-opacity="0.7" stroke="#aaa" stroke-width="0.3"><circle cx="55.8" cy="609.8" r="2.3"/><circle cx="132.5" cy="608.4" r="2.3"/><circle cx="120.8" cy="624.7" r="2.3"/><circle cx="162.8" cy="636.9" r="2.3"/><circle cx="114" cy="638.2" r="2.3"/><circle cx="80.1" cy="640.9" r="2.3"/><circle cx="100" cy="643.6" r="2.3"/><circle cx="149.3" cy="643.6" r="2.3"/><circle cx="120.8" cy="651.8" r="2.3"/><circle cx="51.7" cy="660.7" r="2.3"/><circle cx="69.3" cy="661.8" r="2.3"/><circle cx="146.6" cy="660.7" r="2.3"/><circle cx="177.7" cy="661.2" r="2.3"/><circle cx="135.7" cy="666.2" r="2.3"/><circle cx="62.5" cy="676.2" r="2.3"/><circle cx="87" cy="674.8" r="2.3"/><circle cx="152" cy="675.2" r="2.3"/><circle cx="185.9" cy="685.7" r="2.3"/><circle cx="196.7" cy="691.1" r="2.3"/><circle cx="62.5" cy="691.1" r="2.3"/><circle cx="44.9" cy="704.1" r="2.3"/><circle cx="65.2" cy="704.1" r="2.3"/><circle cx="153.3" cy="692.4" r="2.3"/><circle cx="158.8" cy="708.7" r="2.3"/><circle cx="181.8" cy="712.8" r="2.3"/><circle cx="198" cy="718.2" r="2.3"/><circle cx="46.3" cy="718.2" r="2.3"/><circle cx="154.7" cy="718.2" r="2.3"/><circle cx="153.3" cy="730.4" r="2.3"/><circle cx="126.2" cy="727.7" r="2.3"/><circle cx="84.2" cy="730.4" r="2.3"/><circle cx="46.3" cy="741.2" r="2.3"/><circle cx="84.2" cy="743.9" r="2.3"/><circle cx="169.6" cy="739.9" r="2.3"/><circle cx="185.9" cy="739.3" r="2.3"/><circle cx="143.9" cy="746.6" r="2.3"/><circle cx="153.3" cy="758" r="2.3"/><circle cx="99.1" cy="762.9" r="2.3"/><circle cx="61.2" cy="773.8" r="2.3"/><circle cx="126.2" cy="779.2" r="2.3"/><circle cx="100" cy="807.6" r="2.3"/><circle cx="100" cy="686.2" r="2.3"/><circle cx="110" cy="696.2" r="2.3"/><circle cx="95" cy="708.2" r="2.3"/><circle cx="118" cy="708.2" r="2.3"/><circle cx="135" cy="701.2" r="2.3"/><circle cx="105" cy="721.2" r="2.3"/><circle cx="130" cy="718.2" r="2.3"/><circle cx="80" cy="716.2" r="2.3"/><circle cx="140" cy="686.2" r="2.3"/><circle cx="90" cy="741.2" r="2.3"/><circle cx="110" cy="736.2" r="2.3"/><circle cx="100" cy="666.2" r="2.3"/><circle cx="105" cy="753.2" r="2.3"/><circle cx="120" cy="741.2" r="2.3"/><circle cx="95" cy="696.2" r="2.3"/><circle cx="125" cy="676.2" r="2.3"/><circle cx="140" cy="736.2" r="2.3"/><circle cx="112" cy="681.2" r="2.3"/><circle cx="78" cy="686.2" r="2.3"/></g>
<g font-size="3.1" fill="#222"><text x="55.8" y="614.7" text-anchor="middle">DVL3</text><text x="132.5" y="613.3" text-anchor="middle">RPSA</text><text x="120.8" y="629.6" text-anchor="middle">EIF4EBP1</text><text x="162.8" y="641.8" text-anchor="middle">RICTOR</text><text x="114" y="643.1" text-anchor="middle">BRCA2</text><text x="80.1" y="645.8" text-anchor="middle">SMAD3</text><text x="100" y="648.5" text-anchor="middle">CDH1</text><text x="149.3" y="648.5" text-anchor="middle">ERBB3</text><text x="120.8" y="656.7" text-anchor="middle">ERBB2</text><text x="51.7" y="665.6" text-anchor="middle">PECAM1</text><text x="69.3" y="666.7" text-anchor="middle">YAP1</text><text x="146.6" y="665.6" text-anchor="middle">SMAD4</text><text x="177.7" y="666.1" text-anchor="middle">MTOR</text><text x="135.7" y="671.1" text-anchor="middle">RB1</text><text x="62.5" y="681.1" text-anchor="middle">PIK3R1</text><text x="87" y="679.7" text-anchor="middle">MAP2K1</text><text x="152" y="680.1" text-anchor="middle">GAPDH</text><text x="185.9" y="690.6" text-anchor="middle">PDCD4</text><text x="196.7" y="696" text-anchor="middle">YWHAZ</text><text x="62.5" y="696" text-anchor="middle">GSK3B</text><text x="44.9" y="709" text-anchor="middle">LCK</text><text x="65.2" y="709" text-anchor="middle">CTNNB1</text><text x="153.3" y="697.3" text-anchor="middle">FOXM1</text><text x="158.8" y="713.6" text-anchor="middle">NAMPT</text><text x="181.8" y="717.7" text-anchor="middle">YWHAB</text><text x="198" y="723.1" text-anchor="middle">YWHAE</text><text x="46.3" y="723.1" text-anchor="middle">FOXO3</text><text x="154.7" y="723.1" text-anchor="middle">PCNA</text><text x="153.3" y="735.3" text-anchor="middle">PRKCD</text><text x="126.2" y="732.6" text-anchor="middle">MAPK8</text><text x="84.2" y="735.3" text-anchor="middle">MAPK1</text><text x="46.3" y="746.1" text-anchor="middle">BECN1</text><text x="84.2" y="748.8" text-anchor="middle">PIK3CA</text><text x="169.6" y="744.8" text-anchor="middle">RPS6KA1</text><text x="185.9" y="744.2" text-anchor="middle">MSH6</text><text x="143.9" y="751.5" text-anchor="middle">BAD</text><text x="153.3" y="762.9" text-anchor="middle">BAX</text><text x="99.1" y="767.8" text-anchor="middle">CHK1</text><text x="61.2" y="778.7" text-anchor="middle">STMN1</text><text x="126.2" y="784.1" text-anchor="middle">BAK1</text><text x="100" y="812.5" text-anchor="middle">SETD2</text><text x="100" y="691.1" text-anchor="middle">AKT1</text><text x="110" y="701.1" text-anchor="middle">MAPK3</text><text x="95" y="713.1" text-anchor="middle">EGFR</text><text x="118" y="713.1" text-anchor="middle">AR</text><text x="135" y="706.1" text-anchor="middle">SRC</text><text x="105" y="726.1" text-anchor="middle">RAF1</text><text x="130" y="723.1" text-anchor="middle">MET</text><text x="80" y="721.1" text-anchor="middle">CDKN1A</text><text x="140" y="691.1" text-anchor="middle">MYC</text><text x="90" y="746.1" text-anchor="middle">BCL2L1</text><text x="110" y="741.1" text-anchor="middle">CASP7</text><text x="100" y="671.1" text-anchor="middle">FASN</text><text x="105" y="758.1" text-anchor="middle">BID</text><text x="120" y="746.1" text-anchor="middle">PARP1</text><text x="95" y="701.1" text-anchor="middle">ACACA</text><text x="125" y="681.1" text-anchor="middle">STAT3</text><text x="140" y="741.1" text-anchor="middle">PTK2</text><text x="112" y="686.1" text-anchor="middle">ERCC1</text><text x="78" y="691.1" text-anchor="middle">KIT</text></g>
<circle cx="121.6" cy="688.2" r="5.1" fill="#ffee00"/>
<circle cx="123.5" cy="762.6" r="5.1" fill="#ffee00"/>
<text x="116.2" y="701.29">CCND1</text>
<text x="125.4" y="775.89">CCNB1</text>
<text x="131.7" y="801.09">IPA network</text>
<line x1="251.6" y1="756.2" x2="436" y2="756.2" stroke="#f7922a" stroke-width="1.3" stroke-dasharray="3.2 2.4"/>
<line x1="344.75" y1="657.5" x2="344.75" y2="781" stroke="#f7922a" stroke-width="1.3" stroke-dasharray="3.2 2.4"/>
<path d="M251.6 657V781H438M251.6 781h-3.6M251.6 756.2h-3.6M251.6 731.4h-3.6M251.6 706.6h-3.6M251.6 681.8h-3.6M251.6 657h-3.6M251.6 781v3.4M282.65 781v3.4M313.7 781v3.4M344.75 781v3.4M375.8 781v3.4M406.85 781v3.4M437.9 781v3.4" fill="none" stroke="#222" stroke-width="1.35"/>
<text x="246.4" y="784.09" text-anchor="end">0</text>
<text x="246.4" y="759.29" text-anchor="end">50</text>
<text x="246.4" y="734.49" text-anchor="end">100</text>
<text x="246.4" y="709.69" text-anchor="end">150</text>
<text x="246.4" y="684.89" text-anchor="end">200</text>
<text x="246.4" y="660.09" text-anchor="end">250</text>
<text x="251.6" y="793.69" text-anchor="middle">0</text>
<text x="282.65" y="793.69" text-anchor="middle">3</text>
<text x="313.7" y="793.69" text-anchor="middle">6</text>
<text x="344.75" y="793.69" text-anchor="middle">9</text>
<text x="375.8" y="793.69" text-anchor="middle">12</text>
<text x="406.85" y="793.69" text-anchor="middle">15</text>
<text x="437.9" y="793.69" text-anchor="middle">18</text>
<text transform="translate(221 722) rotate(-90)" x="0" y="3.09" text-anchor="middle"># in pathways</text>
<text x="344.5" y="803.89" text-anchor="middle"># as a source</text>
<g fill="#1616f0"><circle cx="251.6" cy="658.98" r="1.45"/><circle cx="251.6" cy="660.97" r="1.45"/><circle cx="251.6" cy="663.45" r="1.45"/><circle cx="251.6" cy="707.59" r="1.45"/><circle cx="251.6" cy="720.98" r="1.45"/><circle cx="251.6" cy="737.85" r="1.45"/><circle cx="251.6" cy="751.24" r="1.45"/><circle cx="251.6" cy="756.2" r="1.45"/><circle cx="251.6" cy="758.18" r="1.45"/><circle cx="251.6" cy="760.17" r="1.45"/><circle cx="251.6" cy="762.15" r="1.45"/><circle cx="251.6" cy="764.14" r="1.45"/><circle cx="251.6" cy="766.12" r="1.45"/><circle cx="251.6" cy="767.61" r="1.45"/><circle cx="251.6" cy="769.59" r="1.45"/><circle cx="251.6" cy="771.58" r="1.45"/><circle cx="251.6" cy="773.56" r="1.45"/><circle cx="251.6" cy="775.05" r="1.45"/><circle cx="251.6" cy="777.03" r="1.45"/><circle cx="251.6" cy="778.52" r="1.45"/><circle cx="251.6" cy="780.01" r="1.45"/><circle cx="251.6" cy="781" r="1.45"/><circle cx="261.95" cy="757.69" r="1.45"/><circle cx="272.3" cy="720.98" r="1.45"/><circle cx="272.3" cy="758.18" r="1.45"/><circle cx="272.3" cy="770.58" r="1.45"/><circle cx="282.65" cy="748.76" r="1.45"/><circle cx="303.35" cy="659.48" r="1.45"/><circle cx="303.35" cy="663.45" r="1.45"/><circle cx="303.35" cy="767.11" r="1.45"/><circle cx="313.7" cy="741.32" r="1.45"/><circle cx="324.05" cy="659.48" r="1.45"/><circle cx="324.05" cy="661.96" r="1.45"/><circle cx="334.4" cy="728.92" r="1.45"/><circle cx="334.4" cy="738.34" r="1.45"/><circle cx="334.4" cy="771.08" r="1.45"/><circle cx="344.75" cy="700.15" r="1.45"/><circle cx="344.75" cy="749.26" r="1.45"/><circle cx="355.1" cy="658.98" r="1.45"/><circle cx="355.1" cy="660.47" r="1.45"/><circle cx="355.1" cy="661.96" r="1.45"/><circle cx="355.1" cy="687.75" r="1.45"/><circle cx="355.1" cy="698.17" r="1.45"/><circle cx="355.1" cy="719.5" r="1.45"/><circle cx="355.1" cy="752.73" r="1.45"/><circle cx="355.1" cy="754.22" r="1.45"/><circle cx="355.1" cy="759.18" r="1.45"/><circle cx="365.45" cy="747.77" r="1.45"/><circle cx="386.15" cy="708.58" r="1.45"/><circle cx="406.85" cy="706.1" r="1.45"/></g>
<text x="389.6" y="712.69">AR</text>
<text x="411" y="710.89">EGFR</text>
<text x="369.6" y="750.89">MTOR</text>
<circle cx="528.6" cy="675.6" r="61.8" fill="none" stroke="#e8731f" stroke-width="1.6"/>
<circle cx="594" cy="675.3" r="51.6" fill="none" stroke="#1c3a6e" stroke-width="1.6"/>
<circle cx="567.4" cy="675.6" r="20.4" fill="#fff6b6" stroke="#6b9a34" stroke-width="2.1"/>
<text x="518" y="625.49" text-anchor="middle">AKT1</text>
<text x="518" y="636.09" text-anchor="middle">CTNNB1</text>
<text x="518" y="646.69" text-anchor="middle">EIF4EBP1</text>
<text x="518" y="657.29" text-anchor="middle">ERBB3</text>
<text x="518" y="667.89" text-anchor="middle">MAPK1</text>
<text x="518" y="678.49" text-anchor="middle">MAPK8</text>
<text x="518" y="689.09" text-anchor="middle">MET</text>
<text x="518" y="699.69" text-anchor="middle">PIK3CA</text>
<text x="518" y="710.29" text-anchor="middle">PRKCD</text>
<text x="518" y="720.89" text-anchor="middle">RAF1</text>
<text x="518" y="731.49" text-anchor="middle">SRC</text>
<text x="567" y="651.69" text-anchor="middle">FOXO3</text>
<text x="566.5" y="667.19" text-anchor="middle" fill="#ff1f1f">AR</text>
<text x="566.5" y="677.69" text-anchor="middle" fill="#ff1f1f">EGFR</text>
<text x="566.5" y="688.19" text-anchor="middle" fill="#ff1f1f">MTOR</text>
<text x="567" y="708.49" text-anchor="middle">RB1</text>
<text x="615" y="657.09" text-anchor="middle">FOXM1</text>
<text x="615" y="667.74" text-anchor="middle">MYC</text>
<text x="615" y="678.39" text-anchor="middle">ERBB2</text>
<text x="615" y="689.04" text-anchor="middle">CDKN1A</text>
<text x="615" y="699.69" text-anchor="middle">CDH1</text>
<circle cx="469.2" cy="757.9" r="5.7" fill="none" stroke="#e8731f" stroke-width="1.5"/>
<text x="482.3" y="760.99">Set CCNB1 as the downstream</text>
<circle cx="469.2" cy="778.1" r="5.7" fill="none" stroke="#6b9a34" stroke-width="1.5"/>
<text x="482.3" y="781.19">Set CCND1 as the downstream</text>
<circle cx="469.2" cy="799.9" r="5.7" fill="none" stroke="#1c3a6e" stroke-width="1.5"/>
<text x="482.3" y="798.79">Top 10 upstream regulators from IPA</text>
<text x="482.3" y="808.89">(based on <tspan font-style="italic">p</tspan> value)</text>
</svg>
</body></html>
